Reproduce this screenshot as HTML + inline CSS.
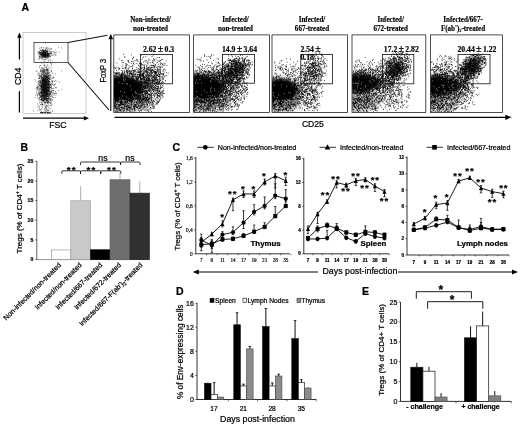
<!DOCTYPE html>
<html><head><meta charset="utf-8"><title>Figure</title>
<style>
html,body{margin:0;padding:0;background:#fff}
svg{display:block;filter:blur(0.4px)}
.ss{font-family:'Liberation Sans', Arial, sans-serif;stroke:#000;stroke-width:.22px}
.sf{font-family:'Liberation Serif', 'Times New Roman', serif;stroke:#000;stroke-width:.18px}
</style></head><body>
<svg width="520" height="425" viewBox="0 0 520 425">
<rect width="520" height="425" fill="#fff"/>
<text class="ss" x="21.5" y="11" font-size="10.5" font-weight="bold">A</text>
<rect x="23" y="32.5" width="63" height="81" fill="none" stroke="#aaa" stroke-width="0.6"/>
<filter id="bl2" x="-50%" y="-30%" width="200%" height="160%"><feGaussianBlur stdDeviation="1.4"/></filter>
<ellipse cx="44.6" cy="88" rx="3.2" ry="13" fill="#000" opacity=".5" filter="url(#bl2)"/><ellipse cx="44" cy="54" rx="2.2" ry="2" fill="#000" opacity=".45" filter="url(#bl2)"/>
<path d="M43.2 55.2h0.8M43.3 53.3h0.8M41.6 53.5h0.8M46.5 55.0h0.8M46.3 54.6h0.8M44.7 54.4h0.8M39.8 56.0h0.8M45.0 55.1h0.8M39.7 50.0h0.8M41.7 52.9h0.8M44.5 53.9h0.8M45.1 52.5h0.8M44.5 54.9h0.8M42.2 58.0h0.8M45.1 56.8h0.8M42.3 52.3h0.8M43.0 53.8h0.8M45.3 54.6h0.8M42.7 51.8h0.8M42.6 56.8h0.8M41.9 54.6h0.8M44.8 50.6h0.8M43.9 57.0h0.8M39.0 53.3h0.8M43.5 52.1h0.8M45.0 53.9h0.8M40.3 55.9h0.8M45.4 56.2h0.8M47.3 54.8h0.8M44.1 51.0h0.8M45.3 52.6h0.8M42.7 51.1h0.8M41.5 52.8h0.8M46.9 49.3h0.8M40.3 54.6h0.8M47.3 55.3h0.8M39.2 48.2h0.8M44.7 52.3h0.8M41.1 56.2h0.8M46.4 54.4h0.8M44.4 55.0h0.8M47.6 55.4h0.8M45.0 55.3h0.8M40.0 56.9h0.8M46.1 55.2h0.8M39.1 52.5h0.8M45.8 49.8h0.8M43.4 56.3h0.8M40.7 57.7h0.8M45.1 53.7h0.8M44.6 55.5h0.8M44.1 56.6h0.8M42.2 53.0h0.8M46.3 54.1h0.8M41.7 56.2h0.8M47.3 53.0h0.8M40.5 53.7h0.8M43.4 53.3h0.8M47.2 51.6h0.8M46.8 51.1h0.8M41.9 55.5h0.8M46.5 56.0h0.8M44.6 54.3h0.8M44.2 55.3h0.8M43.4 54.6h0.8M45.2 54.0h0.8M45.6 55.3h0.8M48.6 54.7h0.8M42.8 53.1h0.8M43.8 56.1h0.8M43.0 54.9h0.8M48.2 48.1h0.8M41.1 54.6h0.8M44.8 54.5h0.8M42.8 55.5h0.8M44.5 52.8h0.8M49.6 54.8h0.8M42.5 53.8h0.8M43.3 53.9h0.8M37.3 52.9h0.8M46.2 51.3h0.8M43.6 56.2h0.8M45.9 57.4h0.8M39.7 53.2h0.8M43.0 55.4h0.8M46.4 47.8h0.8M46.4 50.7h0.8M45.4 50.6h0.8M44.2 56.7h0.8M43.4 54.4h0.8M45.7 54.3h0.8M43.6 57.5h0.8M46.3 53.3h0.8M50.4 51.4h0.8M46.0 53.4h0.8M44.1 55.6h0.8M44.3 55.5h0.8M40.1 50.5h0.8M45.3 51.8h0.8M41.3 50.6h0.8M46.8 55.7h0.8M47.3 51.8h0.8M43.8 51.4h0.8M45.6 57.7h0.8M41.7 57.6h0.8M46.2 53.6h0.8M39.1 57.2h0.8M43.6 52.6h0.8M44.8 54.9h0.8M47.4 51.7h0.8M46.5 57.4h0.8M47.3 53.6h0.8M42.0 56.3h0.8M44.1 54.3h0.8M47.2 53.4h0.8M38.3 53.1h0.8M39.4 55.9h0.8M44.6 52.6h0.8M43.8 55.9h0.8M44.0 57.1h0.8M43.7 56.4h0.8M47.4 57.7h0.8M42.2 56.0h0.8M39.3 51.5h0.8M39.1 56.5h0.8M40.8 54.0h0.8M43.3 53.9h0.8M42.4 54.5h0.8M48.1 54.1h0.8M45.1 56.3h0.8M43.3 51.1h0.8M42.5 56.5h0.8M39.8 52.6h0.8M46.2 55.8h0.8M43.8 55.9h0.8M44.2 51.3h0.8M40.0 52.5h0.8M46.0 52.7h0.8M41.6 52.2h0.8M40.1 53.7h0.8M41.0 54.8h0.8M38.1 54.8h0.8M42.3 49.5h0.8M45.5 53.4h0.8M38.4 52.0h0.8M44.5 52.9h0.8M45.7 55.7h0.8M45.4 54.8h0.8M47.0 55.5h0.8M44.9 49.2h0.8M46.0 57.0h0.8M43.1 52.9h0.8M48.5 50.0h0.8M44.9 59.6h0.8M41.6 55.6h0.8M48.3 53.7h0.8M45.1 56.1h0.8M41.6 53.8h0.8M44.5 55.9h0.8M43.7 53.6h0.8M41.4 53.2h0.8M45.9 54.2h0.8M41.8 52.1h0.8M50.2 56.6h0.8M45.3 48.0h0.8M45.3 55.1h0.8M47.8 55.0h0.8M43.6 55.2h0.8M39.1 56.4h0.8M44.6 52.4h0.8M47.0 58.2h0.8M40.4 52.5h0.8M44.5 54.4h0.8M42.8 51.8h0.8M48.9 56.4h0.8M40.9 50.9h0.8M47.9 56.3h0.8M48.2 55.9h0.8M41.7 54.6h0.8M38.6 52.3h0.8M43.7 55.2h0.8M42.1 53.7h0.8M44.9 54.9h0.8M45.3 54.5h0.8M43.0 55.8h0.8M43.9 52.1h0.8M42.3 54.0h0.8M43.5 54.4h0.8M43.8 54.4h0.8M43.5 51.1h0.8M44.8 56.4h0.8M44.8 53.6h0.8M44.9 51.8h0.8M39.2 54.1h0.8M41.6 55.7h0.8M41.2 48.0h0.8M41.3 57.6h0.8M42.9 50.9h0.8M42.0 55.2h0.8M45.0 54.4h0.8M47.4 55.6h0.8M43.7 55.4h0.8M47.8 56.2h0.8M46.3 51.5h0.8M43.4 55.7h0.8M43.1 56.5h0.8M45.2 56.1h0.8M43.3 59.9h0.8M46.8 53.5h0.8M44.0 60.0h0.8M43.0 56.0h0.8M46.2 54.0h0.8M41.0 54.4h0.8M44.7 56.6h0.8M45.7 54.1h0.8M45.8 55.2h0.8M44.3 54.1h0.8M43.2 55.6h0.8M41.3 52.6h0.8M43.8 50.6h0.8M42.8 49.4h0.8M42.2 55.3h0.8M45.2 53.9h0.8M43.2 50.7h0.8M48.2 55.2h0.8M46.4 52.0h0.8M43.4 49.8h0.8M45.7 56.2h0.8M39.2 53.9h0.8M45.3 49.9h0.8M39.4 51.6h0.8M42.3 50.8h0.8M43.9 54.6h0.8M45.3 55.6h0.8M47.4 56.7h0.8M40.7 52.8h0.8M41.3 51.5h0.8M43.6 54.0h0.8M45.0 50.4h0.8M40.8 53.9h0.8M43.3 53.3h0.8M43.6 52.3h0.8M45.5 54.8h0.8M43.6 52.5h0.8M43.4 47.7h0.8M41.4 54.1h0.8M40.2 54.5h0.8M44.2 50.8h0.8M43.2 53.3h0.8M44.9 55.4h0.8M43.7 52.0h0.8M43.5 53.8h0.8M45.6 54.7h0.8M42.1 50.9h0.8M42.9 52.3h0.8M41.1 53.7h0.8M42.6 54.2h0.8M45.1 53.1h0.8M49.4 53.3h0.8M46.4 54.3h0.8M46.5 48.5h0.8M42.0 54.6h0.8M45.2 59.4h0.8M44.6 56.9h0.8M45.6 56.2h0.8M45.0 53.6h0.8M45.0 51.5h0.8M46.6 51.7h0.8M44.4 58.9h0.8M43.3 54.0h0.8M46.6 54.1h0.8M41.9 54.6h0.8M45.2 55.6h0.8M41.9 58.0h0.8M47.8 54.0h0.8M44.4 53.0h0.8M47.2 52.4h0.8M45.4 52.9h0.8M42.1 55.7h0.8M47.0 54.0h0.8M42.2 55.9h0.8M43.7 54.7h0.8M47.5 56.6h0.8M42.6 59.3h0.8M43.8 55.8h0.8M42.2 53.9h0.8M39.6 58.1h0.8M47.1 51.2h0.8M40.2 50.3h0.8M46.6 52.9h0.8M43.7 53.3h0.8M43.5 51.5h0.8M43.9 50.7h0.8M43.6 54.7h0.8M44.9 53.5h0.8M41.6 54.4h0.8M42.6 57.6h0.8M45.6 53.7h0.8M42.7 52.4h0.8M41.6 53.2h0.8M48.5 55.6h0.8M49.8 60.7h0.8M43.5 54.0h0.8M61.0 48.0h0.8M44.4 54.5h0.8M47.8 55.3h0.8M45.8 55.2h0.8M47.3 56.5h0.8M37.5 51.2h0.8M47.0 50.7h0.8M41.8 56.0h0.8M43.8 56.0h0.8M50.7 55.0h0.8M49.5 53.7h0.8M40.0 53.9h0.8M49.3 52.3h0.8M46.5 56.4h0.8M42.6 56.0h0.8M56.3 52.2h0.8M47.7 53.5h0.8M54.7 55.0h0.8M51.5 51.8h0.8M46.9 54.0h0.8M38.1 58.6h0.8M51.5 48.4h0.8M50.7 53.6h0.8M49.2 55.2h0.8M39.5 53.3h0.8M54.5 52.2h0.8M41.9 49.6h0.8M40.9 55.1h0.8M55.5 55.4h0.8M48.2 61.1h0.8M44.4 51.8h0.8M49.6 55.8h0.8M41.9 50.3h0.8M48.5 54.8h0.8M40.5 53.4h0.8M44.3 55.5h0.8M46.4 53.7h0.8M45.2 57.4h0.8M54.0 52.8h0.8M51.2 51.6h0.8M47.4 56.4h0.8M54.6 52.8h0.8M46.6 54.6h0.8M39.5 54.1h0.8M43.6 55.2h0.8M41.4 47.7h0.8M47.2 54.8h0.8M44.3 56.8h0.8M45.6 52.1h0.8M49.4 49.0h0.8M43.6 53.9h0.8M51.2 53.5h0.8M48.5 51.9h0.8M48.5 59.3h0.8M43.6 61.6h0.8M43.8 54.1h0.8M47.9 57.3h0.8M40.8 47.3h0.8M50.0 56.5h0.8M50.1 62.4h0.8M48.0 54.8h0.8M51.6 55.2h0.8M55.3 50.0h0.8M45.1 43.0h0.8M51.1 52.8h0.8M51.6 60.9h0.8M47.0 53.2h0.8M44.5 51.3h0.8M43.8 56.0h0.8M47.2 54.2h0.8M46.1 56.9h0.8M49.5 53.5h0.8M50.3 53.5h0.8M41.2 58.7h0.8M49.3 50.9h0.8M52.4 55.1h0.8M39.2 59.2h0.8M48.7 56.9h0.8M48.0 53.5h0.8M39.3 57.1h0.8M47.2 53.1h0.8M48.8 54.2h0.8M50.4 52.8h0.8M46.8 47.2h0.8M44.9 56.2h0.8M53.7 52.8h0.8M46.4 59.1h0.8M45.4 56.3h0.8M55.4 54.1h0.8M53.1 51.7h0.8M48.0 53.8h0.8M47.6 57.6h0.8M58.9 51.9h0.8M44.1 55.6h0.8M41.7 55.6h0.8M49.9 53.1h0.8M49.7 49.0h0.8M50.8 49.1h0.8M43.5 52.2h0.8M45.0 56.7h0.8M47.4 52.7h0.8M49.7 59.1h0.8M47.0 55.2h0.8M53.2 54.9h0.8M40.6 62.0h0.8M58.0 47.6h0.8M46.8 55.3h0.8M47.3 93.0h0.8M43.7 77.5h0.8M44.8 96.3h0.8M41.3 77.8h0.8M44.4 69.6h0.8M43.7 83.1h0.8M45.8 80.7h0.8M41.9 83.5h0.8M44.4 81.0h0.8M44.5 93.8h0.8M47.9 102.3h0.8M42.2 83.2h0.8M37.3 104.1h0.8M42.4 86.7h0.8M46.0 74.8h0.8M45.8 86.8h0.8M39.2 89.6h0.8M48.0 70.2h0.8M46.8 88.9h0.8M45.9 91.0h0.8M48.3 85.0h0.8M47.0 83.3h0.8M46.6 79.7h0.8M44.2 102.6h0.8M45.8 85.6h0.8M41.2 79.9h0.8M45.1 95.5h0.8M45.7 91.7h0.8M44.4 99.2h0.8M43.4 82.1h0.8M47.1 87.6h0.8M43.7 81.8h0.8M43.8 92.6h0.8M45.5 76.1h0.8M45.7 88.6h0.8M41.6 94.0h0.8M43.7 84.0h0.8M46.8 98.9h0.8M42.5 90.9h0.8M42.0 107.8h0.8M43.1 97.8h0.8M42.6 94.3h0.8M50.9 64.1h0.8M43.2 91.5h0.8M44.2 81.0h0.8M50.7 87.7h0.8M39.7 94.7h0.8M39.5 97.4h0.8M42.8 88.3h0.8M48.2 88.1h0.8M40.5 71.7h0.8M47.9 93.7h0.8M42.1 94.7h0.8M45.9 92.8h0.8M37.9 84.3h0.8M47.1 93.6h0.8M47.1 64.9h0.8M45.0 91.4h0.8M51.9 78.4h0.8M43.5 87.3h0.8M47.1 83.0h0.8M47.8 79.9h0.8M45.3 82.3h0.8M45.0 80.8h0.8M39.9 96.8h0.8M45.4 82.0h0.8M45.1 95.9h0.8M41.7 86.0h0.8M46.1 91.7h0.8M43.5 68.0h0.8M48.1 90.0h0.8M44.5 84.5h0.8M45.3 83.2h0.8M41.5 80.3h0.8M42.8 81.5h0.8M41.1 92.7h0.8M40.7 92.9h0.8M41.6 90.2h0.8M48.5 88.8h0.8M42.4 87.4h0.8M44.9 71.4h0.8M42.7 88.5h0.8M43.1 87.7h0.8M46.6 93.9h0.8M47.1 92.3h0.8M43.7 86.8h0.8M43.7 84.2h0.8M44.0 71.5h0.8M43.5 86.8h0.8M41.7 86.8h0.8M46.0 85.5h0.8M50.5 63.5h0.8M43.9 70.6h0.8M47.3 110.9h0.8M37.2 88.2h0.8M46.0 84.3h0.8M46.1 66.8h0.8M47.0 90.3h0.8M44.6 81.7h0.8M46.4 82.6h0.8M45.1 82.4h0.8M38.0 86.7h0.8M45.1 93.8h0.8M42.0 86.7h0.8M46.3 88.3h0.8M48.1 104.9h0.8M41.9 69.7h0.8M47.0 100.8h0.8M47.2 94.3h0.8M42.7 80.6h0.8M47.1 78.8h0.8M39.2 78.0h0.8M51.7 104.3h0.8M42.5 80.4h0.8M45.2 80.3h0.8M48.3 86.3h0.8M41.3 98.8h0.8M42.8 89.0h0.8M44.5 84.2h0.8M45.4 80.8h0.8M39.2 67.1h0.8M40.8 80.2h0.8M44.4 87.5h0.8M46.1 88.1h0.8M42.2 80.6h0.8M38.4 85.5h0.8M45.9 91.8h0.8M44.1 85.4h0.8M47.2 87.1h0.8M46.6 92.2h0.8M45.1 98.8h0.8M42.8 83.8h0.8M42.2 79.8h0.8M49.0 102.8h0.8M44.6 92.1h0.8M47.9 94.3h0.8M48.0 75.6h0.8M42.6 91.1h0.8M48.7 87.9h0.8M42.0 83.8h0.8M42.6 79.3h0.8M48.9 81.4h0.8M44.6 106.5h0.8M47.9 90.0h0.8M42.7 90.7h0.8M49.2 92.6h0.8M48.2 87.9h0.8M46.0 85.2h0.8M45.7 98.7h0.8M40.3 86.4h0.8M45.2 81.9h0.8M43.6 94.1h0.8M50.3 92.7h0.8M45.4 73.0h0.8M50.1 87.7h0.8M44.4 76.9h0.8M44.3 77.1h0.8M44.7 91.2h0.8M44.6 89.5h0.8M42.0 99.9h0.8M42.6 70.6h0.8M44.0 80.1h0.8M41.6 83.8h0.8M45.3 76.4h0.8M44.1 99.8h0.8M46.5 85.6h0.8M44.9 85.9h0.8M44.4 93.6h0.8M44.2 65.4h0.8M44.4 79.0h0.8M46.4 81.5h0.8M44.9 106.6h0.8M41.5 76.9h0.8M40.4 65.4h0.8M39.1 90.3h0.8M42.6 70.2h0.8M40.2 92.6h0.8M42.3 83.7h0.8M45.5 99.2h0.8M50.1 96.3h0.8M44.9 88.7h0.8M49.7 99.9h0.8M43.6 91.1h0.8M45.3 87.5h0.8M43.0 75.1h0.8M43.0 73.1h0.8M48.0 91.8h0.8M41.0 99.6h0.8M47.1 69.8h0.8M49.8 94.3h0.8M50.5 75.9h0.8M46.0 90.8h0.8M45.1 88.5h0.8M47.6 73.6h0.8M40.9 74.5h0.8M42.9 81.6h0.8M45.6 89.4h0.8M44.6 80.9h0.8M43.2 95.6h0.8M46.7 87.9h0.8M43.6 101.0h0.8M42.8 92.8h0.8M47.8 84.6h0.8M46.9 77.0h0.8M47.4 88.8h0.8M39.9 93.0h0.8M41.9 98.5h0.8M42.5 85.5h0.8M45.3 84.0h0.8M45.3 82.0h0.8M46.4 87.0h0.8M45.1 62.2h0.8M47.9 87.3h0.8M39.3 87.9h0.8M45.9 96.6h0.8M41.4 100.9h0.8M44.0 108.6h0.8M44.1 93.1h0.8M43.4 77.0h0.8M47.7 95.2h0.8M49.0 94.7h0.8M42.8 72.0h0.8M42.6 80.9h0.8M42.1 92.2h0.8M45.5 84.6h0.8M45.0 85.7h0.8M45.1 93.8h0.8M47.3 80.8h0.8M40.1 99.8h0.8M44.8 97.0h0.8M39.7 84.0h0.8M44.6 74.0h0.8M43.0 93.5h0.8M47.6 101.3h0.8M42.0 74.4h0.8M46.0 95.5h0.8M45.1 75.3h0.8M46.8 94.1h0.8M46.1 82.6h0.8M45.4 94.1h0.8M42.9 70.4h0.8M45.5 91.3h0.8M44.5 95.0h0.8M42.8 86.3h0.8M43.6 92.1h0.8M49.1 84.7h0.8M50.5 100.8h0.8M46.8 92.3h0.8M49.6 85.4h0.8M44.2 77.4h0.8M45.9 99.1h0.8M46.0 90.8h0.8M43.9 88.5h0.8M40.4 96.4h0.8M43.3 77.1h0.8M42.3 79.6h0.8M47.0 96.5h0.8M40.6 95.3h0.8M47.1 81.8h0.8M40.2 80.3h0.8M42.7 90.1h0.8M43.5 68.7h0.8M45.2 73.2h0.8M47.1 76.1h0.8M42.5 79.3h0.8M42.9 98.7h0.8M47.0 92.4h0.8M45.4 73.1h0.8M43.0 82.0h0.8M41.7 91.6h0.8M42.4 80.6h0.8M41.5 68.5h0.8M46.2 99.0h0.8M45.0 78.2h0.8M36.7 88.6h0.8M48.0 89.7h0.8M47.2 100.3h0.8M47.8 83.0h0.8M47.6 94.0h0.8M40.0 83.4h0.8M40.4 86.0h0.8M46.2 77.4h0.8M38.5 98.7h0.8M45.6 100.2h0.8M40.7 96.5h0.8M50.5 105.1h0.8M43.9 89.4h0.8M44.1 96.0h0.8M47.5 87.8h0.8M40.6 93.7h0.8M43.1 92.7h0.8M45.3 101.6h0.8M47.8 82.9h0.8M45.5 102.9h0.8M42.9 90.9h0.8M48.0 98.3h0.8M46.0 75.1h0.8M40.8 89.2h0.8M45.6 109.9h0.8M42.0 97.2h0.8M46.7 72.0h0.8M42.1 88.5h0.8M43.1 85.6h0.8M45.9 79.7h0.8M45.9 81.3h0.8M42.9 91.8h0.8M42.8 89.6h0.8M49.1 87.2h0.8M44.1 93.6h0.8M43.4 96.7h0.8M40.8 92.6h0.8M43.0 79.8h0.8M49.6 79.3h0.8M49.6 92.9h0.8M48.7 78.2h0.8M48.0 100.1h0.8M44.2 85.8h0.8M51.6 88.6h0.8M43.3 81.3h0.8M45.8 90.0h0.8M45.0 102.5h0.8M43.5 91.3h0.8M48.7 78.0h0.8M47.5 103.5h0.8M40.6 77.1h0.8M41.5 70.4h0.8M45.8 70.3h0.8M45.9 100.1h0.8M39.8 84.2h0.8M38.9 94.0h0.8M42.4 84.6h0.8M44.7 91.9h0.8M43.5 87.1h0.8M42.9 88.0h0.8M41.1 87.6h0.8M38.9 82.6h0.8M50.1 87.7h0.8M40.8 89.3h0.8M41.7 72.1h0.8M42.4 93.6h0.8M45.6 86.1h0.8M41.8 77.3h0.8M48.4 89.2h0.8M41.7 68.0h0.8M40.5 109.3h0.8M41.2 86.3h0.8M45.1 85.6h0.8M43.7 74.6h0.8M41.5 102.2h0.8M42.3 94.6h0.8M39.6 84.5h0.8M45.3 96.3h0.8M41.2 92.4h0.8M45.6 80.4h0.8M45.9 78.9h0.8M42.2 86.8h0.8M36.6 86.0h0.8M41.6 73.8h0.8M43.3 93.9h0.8M43.3 98.4h0.8M41.1 75.2h0.8M49.0 90.6h0.8M47.2 79.6h0.8M46.8 89.3h0.8M46.4 87.2h0.8M48.0 81.2h0.8M41.7 73.7h0.8M47.9 80.4h0.8M41.5 78.5h0.8M43.2 75.6h0.8M43.7 81.4h0.8M42.9 78.4h0.8M44.6 82.9h0.8M44.8 89.2h0.8M45.5 67.3h0.8M42.9 79.8h0.8M46.7 72.8h0.8M42.4 84.4h0.8M43.5 95.9h0.8M43.2 95.7h0.8M40.2 70.7h0.8M48.0 90.9h0.8M45.9 88.1h0.8M45.9 76.1h0.8M47.3 82.2h0.8M47.4 87.8h0.8M38.8 75.4h0.8M47.8 85.8h0.8M43.4 89.2h0.8M43.3 82.1h0.8M44.8 88.3h0.8M48.9 87.4h0.8M50.0 103.2h0.8M49.5 96.6h0.8M44.9 88.2h0.8M44.1 80.4h0.8M44.3 81.2h0.8M49.3 91.8h0.8M43.2 69.8h0.8M44.3 83.3h0.8M41.4 76.8h0.8M38.0 92.1h0.8M44.3 110.2h0.8M44.4 85.7h0.8M48.7 88.2h0.8M45.0 83.7h0.8M42.7 100.5h0.8M47.4 102.4h0.8M43.5 87.3h0.8M41.9 95.7h0.8M40.5 92.1h0.8M47.7 99.7h0.8M41.8 96.8h0.8M42.4 80.2h0.8M40.7 97.4h0.8M49.3 81.7h0.8M42.3 83.9h0.8M51.8 96.0h0.8M42.9 70.9h0.8M42.5 97.7h0.8M49.9 84.6h0.8M42.5 82.4h0.8M39.0 95.2h0.8M41.4 96.6h0.8M39.5 75.6h0.8M45.3 80.1h0.8M46.8 87.1h0.8M41.1 92.6h0.8M46.9 69.8h0.8M49.8 91.5h0.8M46.7 70.3h0.8M42.4 83.9h0.8M47.6 73.9h0.8M41.9 68.7h0.8M43.8 90.1h0.8M39.6 81.7h0.8M46.0 101.3h0.8M46.4 84.3h0.8M41.1 78.6h0.8M42.6 88.3h0.8M44.4 102.0h0.8M45.3 77.4h0.8M49.0 95.5h0.8M44.8 80.5h0.8M39.1 77.8h0.8M47.1 79.8h0.8M40.7 88.8h0.8M45.2 92.5h0.8M46.4 99.7h0.8M42.1 95.8h0.8M41.6 93.2h0.8M45.0 89.2h0.8M47.3 86.8h0.8M47.7 94.9h0.8M44.9 81.9h0.8M42.3 82.3h0.8M43.9 86.8h0.8M53.1 92.7h0.8M46.7 79.3h0.8M42.4 84.1h0.8M45.1 77.7h0.8M49.2 81.9h0.8M47.6 66.0h0.8M44.5 89.5h0.8M45.1 92.4h0.8M45.3 88.5h0.8M39.0 80.6h0.8M37.7 92.7h0.8M45.4 85.2h0.8M42.1 81.8h0.8M49.9 102.6h0.8M44.3 98.6h0.8M39.9 69.6h0.8M43.1 79.1h0.8M42.9 88.7h0.8M53.3 81.1h0.8M44.6 89.5h0.8M44.4 95.4h0.8M49.6 75.8h0.8M45.0 84.6h0.8M45.5 73.2h0.8M39.4 66.2h0.8M46.0 88.7h0.8M44.7 65.7h0.8M43.4 80.2h0.8M40.4 78.8h0.8M46.5 91.9h0.8M44.4 91.6h0.8M42.7 87.6h0.8M44.6 92.0h0.8M44.3 85.7h0.8M44.1 81.2h0.8M51.0 91.6h0.8M45.7 107.6h0.8M48.6 73.0h0.8M46.5 94.5h0.8M50.0 98.8h0.8M46.7 76.4h0.8M42.0 89.4h0.8M46.0 77.8h0.8M43.4 83.4h0.8M44.7 90.0h0.8M43.7 75.9h0.8M48.1 101.4h0.8M44.2 96.2h0.8M45.8 92.9h0.8M45.9 80.1h0.8M46.2 96.1h0.8M41.9 104.7h0.8M50.6 103.4h0.8M50.3 93.7h0.8M43.5 81.6h0.8M42.1 88.0h0.8M44.4 93.0h0.8M38.6 107.8h0.8M51.1 86.8h0.8M46.5 91.3h0.8M45.3 85.1h0.8M44.1 79.6h0.8M45.0 86.8h0.8M45.4 79.3h0.8M44.6 87.4h0.8M46.3 77.4h0.8M45.7 95.8h0.8M46.2 83.7h0.8M43.1 84.9h0.8M46.6 101.0h0.8M44.0 81.2h0.8M45.6 88.8h0.8M41.9 80.4h0.8M44.2 93.0h0.8M41.0 77.8h0.8M45.9 76.0h0.8M44.8 90.2h0.8M44.2 77.8h0.8M44.3 84.0h0.8M45.5 79.5h0.8M47.7 71.9h0.8M44.0 87.1h0.8M47.3 81.5h0.8M46.1 81.9h0.8M46.6 102.6h0.8M43.3 91.0h0.8M41.8 95.8h0.8M48.0 87.3h0.8M41.2 90.6h0.8M47.8 96.8h0.8M46.9 70.5h0.8M42.5 99.8h0.8M40.9 97.2h0.8M50.0 93.9h0.8M47.7 84.0h0.8M40.9 86.1h0.8M43.9 86.6h0.8M46.5 85.7h0.8M45.1 90.8h0.8M44.5 103.6h0.8M45.8 87.8h0.8M43.9 81.4h0.8M48.4 88.4h0.8M41.4 81.9h0.8M44.1 83.0h0.8M47.6 76.5h0.8M45.9 88.3h0.8M41.1 87.4h0.8M44.2 91.5h0.8M43.2 89.7h0.8M39.7 77.2h0.8M46.8 96.4h0.8M44.5 81.6h0.8M47.6 68.2h0.8M42.2 93.0h0.8M46.4 77.7h0.8M39.0 100.1h0.8M44.9 78.9h0.8M44.7 95.1h0.8M37.0 97.0h0.8M46.6 68.3h0.8M46.7 71.0h0.8M47.8 90.6h0.8M51.0 81.5h0.8M44.5 96.4h0.8M42.6 80.7h0.8M43.4 86.3h0.8M41.4 91.4h0.8M46.1 87.6h0.8M49.4 84.1h0.8M48.3 82.1h0.8M46.7 69.6h0.8M45.1 85.4h0.8M43.1 81.5h0.8M43.5 80.5h0.8M38.1 81.6h0.8M42.9 82.3h0.8M41.4 85.8h0.8M46.8 84.7h0.8M43.1 99.2h0.8M47.3 95.3h0.8M47.9 84.1h0.8M44.1 97.0h0.8M42.9 85.9h0.8M45.6 90.4h0.8M43.7 95.9h0.8M44.0 93.5h0.8M47.6 92.9h0.8M46.6 76.6h0.8M40.7 81.4h0.8M45.9 100.5h0.8M41.0 89.8h0.8M42.0 80.4h0.8M43.7 93.2h0.8M45.1 97.6h0.8M41.6 95.0h0.8M47.2 87.6h0.8M45.9 81.9h0.8M41.3 83.4h0.8M43.1 101.9h0.8M45.1 89.8h0.8M46.7 80.0h0.8M47.2 90.4h0.8M40.1 92.4h0.8M46.1 91.1h0.8M49.1 83.3h0.8M46.0 93.7h0.8M41.9 97.8h0.8M40.3 75.3h0.8M46.0 77.2h0.8M44.2 72.2h0.8M44.7 76.8h0.8M45.5 73.2h0.8M45.8 84.6h0.8M44.7 86.4h0.8M44.9 75.1h0.8M37.1 87.3h0.8M41.8 82.9h0.8M45.7 69.1h0.8M42.3 81.5h0.8M41.4 89.9h0.8M44.1 79.6h0.8M41.6 94.3h0.8M42.6 92.3h0.8M45.8 70.0h0.8M41.4 87.0h0.8M45.5 94.0h0.8M46.8 96.3h0.8M43.4 85.1h0.8M46.7 83.2h0.8M47.6 72.7h0.8M46.4 85.4h0.8M38.8 95.8h0.8M45.4 87.2h0.8M41.4 82.8h0.8M48.9 79.6h0.8M34.4 79.3h0.8M41.0 85.8h0.8M43.4 78.8h0.8M42.1 96.4h0.8M40.3 104.6h0.8M42.9 77.2h0.8M46.8 92.1h0.8M41.5 93.7h0.8M39.2 78.7h0.8M47.8 84.7h0.8M40.7 91.6h0.8M47.2 86.8h0.8M39.3 83.9h0.8M45.7 93.9h0.8M49.9 84.7h0.8M43.1 86.7h0.8M48.0 78.5h0.8M48.3 62.3h0.8M46.8 80.9h0.8M45.8 93.2h0.8M41.1 86.2h0.8M45.2 92.3h0.8M41.8 78.1h0.8M38.9 109.9h0.8M43.9 85.0h0.8M40.2 95.4h0.8M42.9 99.9h0.8M47.0 87.2h0.8M46.6 77.0h0.8M43.6 81.8h0.8M40.8 87.2h0.8M44.1 99.9h0.8M34.8 81.0h0.8M41.8 82.8h0.8M45.7 90.6h0.8M44.6 82.7h0.8M45.9 90.2h0.8M39.2 84.6h0.8M40.5 76.4h0.8M44.9 87.5h0.8M44.8 79.1h0.8M43.9 78.8h0.8M45.6 93.2h0.8M49.6 98.4h0.8M42.2 82.9h0.8M41.8 89.8h0.8M50.2 93.4h0.8M38.1 75.7h0.8M40.8 91.6h0.8M44.5 89.7h0.8M49.7 79.6h0.8M42.0 104.7h0.8M45.5 80.0h0.8M38.6 73.3h0.8M37.4 87.6h0.8M44.6 95.9h0.8M44.1 80.8h0.8M42.4 104.1h0.8M39.4 88.6h0.8M44.6 92.6h0.8M43.3 91.5h0.8M46.9 85.7h0.8M43.2 85.3h0.8M41.7 85.1h0.8M43.6 88.9h0.8M48.4 98.8h0.8M43.2 92.4h0.8M45.4 93.9h0.8M44.6 89.4h0.8M43.1 79.9h0.8M47.0 98.7h0.8M46.4 90.9h0.8M45.3 82.9h0.8M39.3 93.0h0.8M45.1 82.0h0.8M41.7 98.5h0.8M39.3 102.9h0.8M46.4 108.3h0.8M42.4 86.8h0.8M43.0 88.4h0.8M43.9 80.3h0.8M47.6 79.9h0.8M43.0 92.0h0.8M42.9 83.1h0.8M45.5 83.7h0.8M40.9 86.1h0.8M43.9 102.3h0.8M41.3 95.7h0.8M42.2 83.8h0.8M43.6 89.4h0.8M47.0 102.7h0.8M42.7 99.0h0.8M47.4 94.3h0.8M42.3 95.1h0.8M44.2 90.2h0.8M43.7 93.0h0.8M47.7 97.2h0.8M43.9 96.0h0.8M48.7 78.6h0.8M48.8 75.0h0.8M46.1 92.3h0.8M48.8 89.5h0.8M43.1 79.8h0.8M40.9 93.9h0.8M43.8 80.5h0.8M46.0 80.1h0.8M43.2 82.9h0.8M49.3 100.2h0.8M44.0 72.9h0.8M45.3 87.6h0.8M45.5 92.1h0.8M43.6 95.3h0.8M46.9 88.9h0.8M43.3 82.7h0.8M46.5 77.1h0.8M44.0 80.3h0.8M40.5 92.4h0.8M44.4 87.3h0.8M47.0 73.6h0.8M44.3 89.6h0.8M46.9 77.2h0.8M46.6 89.0h0.8M48.4 97.2h0.8M46.1 106.3h0.8M44.5 83.2h0.8M43.5 78.5h0.8M44.4 70.1h0.8M44.3 90.8h0.8M47.4 83.9h0.8M48.5 81.1h0.8M44.1 70.1h0.8M42.3 79.9h0.8M48.7 91.7h0.8M41.4 91.7h0.8M45.9 84.9h0.8M44.6 84.3h0.8M43.0 71.4h0.8M44.2 98.3h0.8M48.6 84.6h0.8M42.4 85.1h0.8M47.0 90.1h0.8M42.8 90.2h0.8M43.9 91.5h0.8M43.3 74.1h0.8M44.7 93.7h0.8M41.4 86.1h0.8M47.0 83.7h0.8M42.7 104.8h0.8M46.8 96.0h0.8M41.8 101.3h0.8M39.8 82.5h0.8M46.6 98.7h0.8M41.9 81.2h0.8M45.1 70.1h0.8M46.3 91.9h0.8M43.2 91.7h0.8M46.7 89.7h0.8M46.0 100.2h0.8M43.2 88.4h0.8M43.0 96.0h0.8M43.4 91.1h0.8M44.9 87.6h0.8M49.3 86.3h0.8M48.5 94.2h0.8M48.2 85.6h0.8M47.1 93.6h0.8M42.8 89.3h0.8M44.1 86.7h0.8M48.1 80.7h0.8M39.8 71.9h0.8M43.2 81.4h0.8M44.5 91.9h0.8M49.4 89.7h0.8M45.8 80.6h0.8M46.1 98.8h0.8M48.3 70.0h0.8M47.0 100.7h0.8M46.8 74.0h0.8M43.6 92.1h0.8M45.7 80.0h0.8M42.0 95.4h0.8M40.8 99.4h0.8M44.6 89.6h0.8M40.8 81.8h0.8M46.4 74.3h0.8M50.3 74.8h0.8M41.1 87.4h0.8M45.8 93.3h0.8M43.5 85.2h0.8M43.8 82.0h0.8M37.3 95.3h0.8M45.2 88.4h0.8M42.7 89.2h0.8M44.5 86.3h0.8M47.6 72.1h0.8M45.2 77.8h0.8M43.6 100.0h0.8M41.5 86.1h0.8M42.9 95.2h0.8M41.8 72.5h0.8M45.9 83.9h0.8M43.6 96.3h0.8M42.0 83.8h0.8M44.9 90.6h0.8M43.1 95.9h0.8M50.7 83.5h0.8M49.7 68.8h0.8M48.4 84.0h0.8M44.9 84.1h0.8M42.7 76.0h0.8M43.4 98.2h0.8M47.7 84.0h0.8M43.0 80.9h0.8M41.2 102.6h0.8M46.3 88.0h0.8M43.1 78.2h0.8M48.2 93.7h0.8M41.8 95.5h0.8M41.4 92.5h0.8M41.8 83.4h0.8M45.9 90.7h0.8M47.3 79.8h0.8M48.9 98.6h0.8M44.5 91.0h0.8M42.3 85.7h0.8M40.8 87.8h0.8M45.1 98.6h0.8M47.1 94.0h0.8M43.5 85.1h0.8M43.6 88.9h0.8M39.1 93.7h0.8M40.1 82.5h0.8M44.6 82.6h0.8M49.1 86.2h0.8M48.9 97.1h0.8M43.1 90.5h0.8M48.1 84.1h0.8M44.7 82.2h0.8M44.7 83.9h0.8M44.7 95.7h0.8M48.4 88.2h0.8M45.1 94.4h0.8M43.7 77.9h0.8M47.6 78.9h0.8M47.1 78.7h0.8M49.6 78.0h0.8M46.9 100.0h0.8M41.8 99.8h0.8M42.2 71.8h0.8M46.5 93.1h0.8M43.9 65.2h0.8M44.3 84.4h0.8M43.4 84.5h0.8M39.5 82.1h0.8M49.5 100.4h0.8M43.5 80.8h0.8M45.6 96.2h0.8M46.5 76.9h0.8M45.0 88.2h0.8M48.5 97.3h0.8M46.0 97.5h0.8M43.4 100.3h0.8M43.3 90.4h0.8M47.1 79.1h0.8M42.5 71.8h0.8M45.0 86.5h0.8M43.6 91.3h0.8M38.6 86.8h0.8M44.7 84.7h0.8M46.7 102.1h0.8M43.3 78.9h0.8M42.8 87.8h0.8M46.1 79.6h0.8M47.3 78.1h0.8M46.8 90.7h0.8M45.8 105.6h0.8M43.8 85.6h0.8M45.8 94.5h0.8M40.8 89.4h0.8M42.4 92.4h0.8M48.3 87.4h0.8M44.2 88.6h0.8M36.3 93.7h0.8M46.1 88.4h0.8M43.4 80.7h0.8M44.0 97.5h0.8M44.2 98.6h0.8M37.3 83.0h0.8M45.3 86.9h0.8M39.9 81.3h0.8M48.0 75.8h0.8M41.7 77.5h0.8M43.0 92.6h0.8M46.2 69.5h0.8M48.6 81.9h0.8M42.9 101.4h0.8M44.3 76.3h0.8M42.7 80.7h0.8M41.7 84.1h0.8M46.9 90.0h0.8M40.7 111.1h0.8M41.7 88.0h0.8M44.6 93.6h0.8M43.6 90.9h0.8M50.4 87.8h0.8M41.5 89.8h0.8M42.3 83.8h0.8M45.0 89.9h0.8M43.7 94.3h0.8M44.0 75.7h0.8M46.9 83.9h0.8M47.9 81.3h0.8M46.1 89.7h0.8M37.0 74.1h0.8M41.4 99.2h0.8M39.2 94.9h0.8M47.5 91.3h0.8M46.4 82.7h0.8M44.5 88.9h0.8M45.7 93.1h0.8M43.9 80.9h0.8M42.9 90.6h0.8M39.9 76.2h0.8M43.4 82.2h0.8M43.7 64.0h0.8M43.6 84.8h0.8M46.7 69.9h0.8M43.6 91.1h0.8M45.9 97.3h0.8M47.4 77.9h0.8M46.3 84.1h0.8M42.3 100.3h0.8M42.7 79.6h0.8M43.4 79.6h0.8M47.3 90.3h0.8M48.4 90.6h0.8M42.8 96.1h0.8M42.7 83.0h0.8M44.0 87.3h0.8M47.8 81.8h0.8M45.5 86.8h0.8M41.0 77.5h0.8M43.9 90.5h0.8M45.4 91.2h0.8M44.6 83.1h0.8M45.7 78.3h0.8M40.7 84.1h0.8M40.5 82.5h0.8M42.4 82.2h0.8M44.4 80.1h0.8M43.3 72.2h0.8M44.9 79.4h0.8M45.6 62.5h0.8M42.3 89.1h0.8M37.7 83.9h0.8M44.8 87.9h0.8M40.3 89.0h0.8M44.9 78.6h0.8M46.6 86.6h0.8M44.6 83.1h0.8M46.0 87.8h0.8M47.7 90.9h0.8M42.8 85.1h0.8M47.1 83.8h0.8M45.6 91.5h0.8M44.0 66.8h0.8M44.9 88.9h0.8M44.9 80.4h0.8M47.9 85.8h0.8M42.8 80.8h0.8M45.5 77.5h0.8M41.7 104.4h0.8M48.2 96.2h0.8M48.3 92.2h0.8M39.8 97.4h0.8M48.0 91.3h0.8M39.0 97.8h0.8M48.3 82.7h0.8M44.9 93.8h0.8M44.3 96.6h0.8M44.7 93.0h0.8M44.7 74.1h0.8M45.3 98.4h0.8M47.7 102.0h0.8M46.1 81.8h0.8M44.6 70.3h0.8M44.0 94.9h0.8M38.4 88.7h0.8M46.8 98.6h0.8M41.9 81.3h0.8M39.2 78.1h0.8M46.0 105.1h0.8M41.3 99.0h0.8M45.7 82.7h0.8M50.7 65.0h0.8M44.3 88.9h0.8M50.5 102.7h0.8M50.9 88.2h0.8M47.3 98.9h0.8M45.9 90.1h0.8M44.0 83.4h0.8M41.0 104.0h0.8M43.2 68.8h0.8M45.2 86.7h0.8M45.0 102.9h0.8M44.2 84.7h0.8M42.4 86.8h0.8M43.3 88.8h0.8M53.3 90.4h0.8M42.1 103.9h0.8M46.9 94.1h0.8M46.5 94.2h0.8M46.4 99.3h0.8M47.3 98.8h0.8M43.1 87.0h0.8M42.4 95.4h0.8M46.8 82.9h0.8M46.1 110.0h0.8M48.0 77.2h0.8M44.2 92.6h0.8M44.4 90.4h0.8M47.8 89.9h0.8M41.4 93.3h0.8M44.2 88.0h0.8M42.9 74.9h0.8M41.0 83.9h0.8M41.5 63.2h0.8M47.7 76.8h0.8M42.5 91.7h0.8M37.7 98.8h0.8M42.3 92.8h0.8M43.1 89.7h0.8M44.8 87.0h0.8M39.3 74.1h0.8M44.4 99.4h0.8M43.0 91.7h0.8M45.0 91.2h0.8M47.3 73.9h0.8M45.3 85.4h0.8M43.6 79.5h0.8M42.3 78.0h0.8M41.4 109.0h0.8M49.3 87.1h0.8M46.6 78.4h0.8M36.6 71.0h0.8M44.9 99.6h0.8M44.4 78.2h0.8M45.3 77.3h0.8M39.7 85.5h0.8M44.6 79.3h0.8M42.2 78.0h0.8M47.7 102.9h0.8M45.5 112.0h0.8M38.6 90.9h0.8M40.9 86.3h0.8M47.0 94.0h0.8M52.0 82.1h0.8M40.4 86.0h0.8M47.9 80.5h0.8M50.9 106.0h0.8M39.6 91.9h0.8M51.5 67.4h0.8M47.5 85.6h0.8M39.6 102.1h0.8M47.6 82.9h0.8M48.7 94.9h0.8M50.2 94.2h0.8M48.5 75.4h0.8M44.4 89.4h0.8M33.0 110.9h0.8M44.7 76.7h0.8M37.6 90.7h0.8M46.7 81.7h0.8M44.5 78.5h0.8M42.8 86.9h0.8M43.4 95.3h0.8M45.8 89.4h0.8M48.5 101.6h0.8M49.4 90.4h0.8M45.7 79.4h0.8M44.8 95.3h0.8M47.6 83.8h0.8M40.0 71.6h0.8M48.1 99.0h0.8M48.3 73.3h0.8M45.5 90.4h0.8M42.0 91.7h0.8M45.5 79.1h0.8M40.4 96.7h0.8M48.2 78.5h0.8M41.6 97.5h0.8M49.4 84.7h0.8M54.3 84.9h0.8M41.4 99.7h0.8M45.6 91.7h0.8M46.7 77.3h0.8M40.7 85.9h0.8M53.3 77.2h0.8M53.1 90.4h0.8M41.1 90.9h0.8M49.3 78.4h0.8M36.1 91.8h0.8M41.1 92.7h0.8M37.2 86.5h0.8M42.6 72.1h0.8M45.3 89.8h0.8M43.8 75.4h0.8M47.5 69.3h0.8M49.1 93.3h0.8M54.7 97.5h0.8M48.2 90.8h0.8M46.6 73.8h0.8M53.6 93.6h0.8M45.1 75.7h0.8M53.7 93.7h0.8M40.7 95.2h0.8M55.7 87.8h0.8M48.4 83.6h0.8M43.4 99.5h0.8M61.5 89.2h0.8M45.9 96.5h0.8M45.0 95.8h0.8M50.5 77.1h0.8M41.3 87.2h0.8M50.5 91.0h0.8M52.5 73.3h0.8M48.9 81.4h0.8M47.0 91.4h0.8M41.8 85.6h0.8M40.9 90.8h0.8M42.4 82.7h0.8M47.6 81.0h0.8M52.1 81.2h0.8M50.6 91.0h0.8M41.5 85.7h0.8M42.4 84.1h0.8M45.2 107.4h0.8M44.5 104.7h0.8M48.7 74.1h0.8M35.3 95.2h0.8M36.9 95.7h0.8M51.5 92.2h0.8M45.5 85.3h0.8M47.8 84.8h0.8M43.9 84.1h0.8M52.2 81.4h0.8M48.3 75.7h0.8M43.0 73.4h0.8M45.5 95.3h0.8M48.0 82.8h0.8M49.5 84.3h0.8M48.3 90.9h0.8M40.2 96.2h0.8M46.0 111.9h0.8M45.4 82.1h0.8M53.7 93.9h0.8M55.7 93.4h0.8M45.5 95.7h0.8M42.7 83.2h0.8M43.8 85.6h0.8M50.3 82.9h0.8M48.1 82.7h0.8M45.5 89.8h0.8M41.3 98.8h0.8M47.5 101.6h0.8M51.1 94.8h0.8M45.8 76.4h0.8M45.4 83.1h0.8M47.7 83.1h0.8M61.3 71.0h0.8M52.2 83.0h0.8M45.3 97.8h0.8M46.5 75.1h0.8M48.5 85.9h0.8M36.6 90.1h0.8M41.4 80.1h0.8M48.8 91.2h0.8M45.1 111.1h0.8M48.5 81.5h0.8M47.6 86.7h0.8M35.9 71.3h0.8M39.8 109.9h0.8M45.6 85.1h0.8M43.8 98.4h0.8M46.6 106.1h0.8M50.3 105.5h0.8M45.9 92.0h0.8M44.4 86.2h0.8M38.2 81.8h0.8M41.9 81.1h0.8M52.4 90.8h0.8M52.4 97.1h0.8M50.9 98.7h0.8M43.6 96.5h0.8M44.9 82.4h0.8M52.3 110.9h0.8M41.8 106.4h0.8M50.5 79.0h0.8M47.8 91.9h0.8M48.3 84.2h0.8M40.3 88.3h0.8M50.7 96.3h0.8M49.7 99.7h0.8M41.7 87.6h0.8M48.1 98.6h0.8M47.3 93.5h0.8M47.1 110.2h0.8M36.0 87.7h0.8M58.4 90.5h0.8M37.7 89.4h0.8M39.6 80.8h0.8M47.6 106.2h0.8M48.7 95.1h0.8M51.4 90.1h0.8M42.4 87.0h0.8M48.1 85.1h0.8M43.3 84.2h0.8M39.3 77.1h0.8M46.1 84.2h0.8M46.7 102.9h0.8M47.9 87.7h0.8M40.9 76.6h0.8M48.3 78.8h0.8M48.6 76.6h0.8M47.1 87.2h0.8M51.3 83.8h0.8M44.7 90.6h0.8M46.8 105.9h0.8M45.3 82.3h0.8M45.0 93.0h0.8M47.6 95.3h0.8M55.4 87.7h0.8M40.7 89.6h0.8M46.6 72.4h0.8M48.7 102.6h0.8M51.5 72.1h0.8M53.1 97.6h0.8M44.8 93.3h0.8M53.8 84.5h0.8M46.4 82.1h0.8M53.3 77.8h0.8M51.0 70.8h0.8M42.0 81.7h0.8M50.5 70.8h0.8M49.4 81.3h0.8M52.5 84.7h0.8M48.8 86.2h0.8M55.1 84.2h0.8M46.4 109.0h0.8M46.9 95.3h0.8M43.0 90.1h0.8M35.6 89.1h0.8M43.4 72.1h0.8M39.7 100.1h0.8M48.6 72.0h0.8M55.2 80.6h0.8M44.7 90.6h0.8M41.0 70.9h0.8M42.9 100.5h0.8M51.1 71.3h0.8M52.3 88.4h0.8M48.9 88.5h0.8M48.5 77.4h0.8M42.1 80.6h0.8M44.7 94.6h0.8M40.6 104.9h0.8M43.5 81.8h0.8M49.9 92.6h0.8M44.9 76.7h0.8M41.7 71.1h0.8M52.0 99.5h0.8M55.5 93.3h0.8M48.1 96.0h0.8M51.1 85.3h0.8M48.2 110.8h0.8M38.3 73.1h0.8M41.9 96.0h0.8M52.2 84.4h0.8M49.7 87.5h0.8M47.9 82.3h0.8M46.4 88.0h0.8M51.9 111.6h0.8M37.8 93.6h0.8M46.5 98.3h0.8M51.6 96.3h0.8M50.4 77.9h0.8M38.3 105.7h0.8M52.3 77.9h0.8M52.7 95.1h0.8M34.7 97.5h0.8M41.7 100.4h0.8M43.2 80.1h0.8M39.1 85.7h0.8M51.4 80.9h0.8M37.5 110.7h0.8M55.4 95.3h0.8M43.9 75.2h0.8M38.6 93.9h0.8M52.8 76.8h0.8M46.5 85.1h0.8M45.3 93.3h0.8M56.6 81.3h0.8M50.6 99.5h0.8M45.1 86.4h0.8M40.0 99.4h0.8M43.9 81.1h0.8M46.8 78.9h0.8M41.5 84.8h0.8M53.7 85.8h0.8M49.0 72.4h0.8M37.1 107.3h0.8M44.6 71.7h0.8M46.0 94.4h0.8M38.2 78.6h0.8M47.8 78.2h0.8M50.3 98.2h0.8M48.6 83.4h0.8M46.3 81.3h0.8M45.9 91.4h0.8M45.1 98.3h0.8M59.0 82.2h0.8M48.2 96.7h0.8M49.6 85.5h0.8M44.2 98.7h0.8M49.5 93.4h0.8M42.6 94.7h0.8M50.3 86.0h0.8M49.6 111.1h0.8M37.4 94.4h0.8M40.8 73.5h0.8M45.4 93.8h0.8M46.8 75.6h0.8M39.6 82.1h0.8M46.6 79.2h0.8M39.2 106.7h0.8M42.4 86.3h0.8M43.8 81.8h0.8M46.7 84.8h0.8M49.5 75.4h0.8M39.3 108.7h0.8M46.1 96.2h0.8M52.2 93.9h0.8M46.7 71.4h0.8M38.8 98.4h0.8M49.8 94.1h0.8M41.4 75.4h0.8M47.3 77.1h0.8M54.2 81.4h0.8M43.8 97.2h0.8M48.1 78.4h0.8M50.5 108.5h0.8M40.6 85.4h0.8M41.3 67.3h0.8M49.5 95.4h0.8M51.2 92.6h0.8M36.7 87.7h0.8M43.3 75.4h0.8M41.1 96.2h0.8M45.1 109.0h0.8M48.8 67.6h0.8M50.8 101.3h0.8M46.7 75.0h0.8M55.1 74.0h0.8M46.1 67.6h0.8M40.4 69.8h0.8M51.8 100.6h0.8M44.5 73.5h0.8M46.2 92.1h0.8M39.1 75.6h0.8M46.0 95.5h0.8M46.9 92.8h0.8M48.0 78.2h0.8M45.9 84.0h0.8M48.8 79.7h0.8M53.5 88.3h0.8M49.1 94.8h0.8M51.6 92.3h0.8M38.0 81.2h0.8M55.6 93.1h0.8M49.2 93.0h0.8M43.4 80.7h0.8M43.3 100.5h0.8M48.3 107.1h0.8M48.9 108.3h0.8M48.7 75.3h0.8M55.0 91.6h0.8M52.3 90.3h0.8M44.9 89.8h0.8M41.0 75.1h0.8M42.1 82.3h0.8M39.9 86.9h0.8M48.0 109.9h0.8M55.5 87.5h0.8M50.8 85.6h0.8M48.4 87.6h0.8M43.8 88.8h0.8M39.2 92.8h0.8M47.1 112.6h0.8M43.4 112.4h0.8M44.0 112.5h0.8M41.9 112.8h0.8M45.2 112.6h0.8M42.0 112.8h0.8M42.0 112.5h0.8M45.6 112.8h0.8M49.7 112.8h0.8M49.5 112.9h0.8M47.2 112.8h0.8M40.6 112.4h0.8M40.1 112.9h0.8M47.2 112.7h0.8M42.6 112.5h0.8M41.6 112.7h0.8M49.9 112.5h0.8M40.4 112.4h0.8M43.6 112.9h0.8M48.0 112.6h0.8M41.0 112.4h0.8M41.5 112.8h0.8M44.7 113.0h0.8M49.1 112.9h0.8M44.8 112.9h0.8M41.3 112.4h0.8M45.6 112.7h0.8M42.1 112.5h0.8M40.2 112.9h0.8M47.1 113.0h0.8M49.8 112.6h0.8M47.3 112.6h0.8M48.1 112.9h0.8M41.3 112.3h0.8M42.1 112.7h0.8M43.8 112.3h0.8M48.3 112.9h0.8M44.6 112.3h0.8M48.9 112.7h0.8M40.7 112.5h0.8" stroke="#111" stroke-width="0.8" fill="none" stroke-opacity="0.72"/>
<rect x="34" y="42.5" width="34" height="20" fill="none" stroke="#333" stroke-width="0.8"/>
<line x1="19.4" y1="112.5" x2="19.4" y2="91.2" stroke="#000" stroke-width="1.2"/>
<line x1="19.4" y1="59.5" x2="19.4" y2="36" stroke="#000" stroke-width="1.2"/>
<path d="M19.4 32.5l2.2 5.2h-4.4z"/>
<line x1="23" y1="118.2" x2="85" y2="118.2" stroke="#000" stroke-width="1.2"/>
<path d="M89 118.2l-5.2 2.2v-4.4z"/>
<text class="ss" x="0" y="0" font-size="8.7" text-anchor="middle" transform="translate(20.7,76.3) rotate(-90)">CD4</text>
<text class="ss" x="57.9" y="127.5" font-size="8.7" text-anchor="middle">FSC</text>
<line x1="68" y1="42.5" x2="107.5" y2="35.3" stroke="#111" stroke-width="1.1"/>
<line x1="68" y1="62.5" x2="109" y2="110" stroke="#111" stroke-width="1.1"/>
<line x1="110.8" y1="111" x2="110.8" y2="38" stroke="#000" stroke-width="1.1"/>
<path d="M110.8 33.8l2.3 5.4h-4.6z"/>
<text class="ss" x="0" y="0" font-size="8.4" text-anchor="middle" textLength="23.5" lengthAdjust="spacingAndGlyphs" transform="translate(105.5,70.7) rotate(-90)">FoxP 3</text>
<line x1="114.5" y1="117.3" x2="506" y2="117.3" stroke="#000" stroke-width="1.3"/>
<path d="M511.5 117.3l-6.2 2.6v-5.2z"/>
<text class="ss" x="312.9" y="127" font-size="8.6" text-anchor="middle">CD25</text>
<defs><filter id="bl" x="-30%" y="-30%" width="160%" height="160%"><feGaussianBlur stdDeviation="2.2"/></filter></defs>
<clipPath id="cp0"><rect x="113.8" y="34.9" width="75.7" height="77.5"/></clipPath>
<g clip-path="url(#cp0)">
<ellipse cx="119.8" cy="88" rx="23" ry="12" fill="#000" opacity="1" filter="url(#bl)"/>
<ellipse cx="125.8" cy="102" rx="24" ry="9" fill="#000" opacity="0.55" filter="url(#bl)"/>
<path d="M152.6 71.9h0.8M125.5 84.2h0.8M135.4 83.9h0.8M125.5 87.3h0.8M147.4 95.7h0.8M121.7 77.5h0.8M115.6 86.7h0.8M145.7 102.4h0.8M116.6 109.8h0.8M128.4 92.3h0.8M121.8 88.3h0.8M132.9 90.2h0.8M125.7 67.5h0.8M125.4 92.4h0.8M116.6 87.6h0.8M142.5 64.5h0.8M115.4 98.5h0.8M114.7 84.9h0.8M118.4 82.9h0.8M130.4 104.3h0.8M114.9 68.3h0.8M130.8 71.7h0.8M140.3 106.4h0.8M125.1 89.7h0.8M121.6 84.6h0.8M117.7 94.7h0.8M140.7 107.2h0.8M119.0 108.5h0.8M137.6 94.5h0.8M124.0 83.8h0.8M158.9 96.7h0.8M120.0 78.2h0.8M132.5 76.1h0.8M133.8 109.3h0.8M140.0 110.3h0.8M121.7 66.8h0.8M136.7 72.0h0.8M128.8 87.2h0.8M137.1 102.6h0.8M130.0 73.9h0.8M117.2 100.7h0.8M132.9 92.2h0.8M134.6 85.5h0.8M126.2 89.8h0.8M128.4 107.8h0.8M129.9 99.5h0.8M128.9 108.0h0.8M134.7 98.6h0.8M123.8 92.8h0.8M116.6 82.6h0.8M150.9 98.5h0.8M153.5 94.4h0.8M146.1 80.7h0.8M121.7 80.6h0.8M118.3 91.9h0.8M122.2 96.0h0.8M153.1 87.2h0.8M116.2 82.9h0.8M122.9 103.6h0.8M153.7 98.1h0.8M135.9 86.1h0.8M162.1 95.7h0.8M142.9 72.5h0.8M114.8 92.8h0.8M126.8 86.7h0.8M146.9 81.1h0.8M121.5 95.6h0.8M142.2 103.7h0.8M115.8 95.7h0.8M122.4 85.5h0.8M141.5 106.7h0.8M118.9 81.4h0.8M126.7 90.1h0.8M120.3 80.8h0.8M115.9 81.8h0.8M119.2 103.6h0.8M132.7 79.6h0.8M150.7 97.0h0.8M114.8 94.2h0.8M135.7 100.6h0.8M125.0 94.6h0.8M122.9 99.4h0.8M121.4 94.3h0.8M126.0 86.3h0.8M117.6 90.4h0.8M126.2 105.9h0.8M125.2 103.4h0.8M159.9 99.8h0.8M124.4 87.4h0.8M130.3 86.8h0.8M124.3 82.9h0.8M116.1 82.0h0.8M139.8 70.0h0.8M122.1 92.5h0.8M144.6 86.8h0.8M126.0 111.1h0.8M128.5 72.1h0.8M155.7 93.5h0.8M148.9 98.9h0.8M123.2 84.4h0.8M119.5 90.9h0.8M148.6 75.0h0.8M136.8 100.0h0.8M118.8 109.1h0.8M116.1 95.4h0.8M129.3 82.0h0.8M119.2 85.2h0.8M138.1 89.6h0.8M119.1 103.8h0.8M155.7 83.2h0.8M126.8 72.0h0.8M129.7 91.4h0.8M127.4 95.2h0.8M140.8 99.5h0.8M144.2 68.1h0.8M139.1 86.3h0.8M124.7 87.9h0.8M119.5 101.4h0.8M132.8 81.1h0.8M141.6 71.8h0.8M127.1 90.5h0.8M133.1 76.5h0.8M153.8 92.8h0.8M123.9 83.6h0.8M121.2 90.7h0.8M133.3 71.7h0.8M120.0 90.0h0.8M150.5 80.0h0.8M155.3 71.7h0.8M120.2 86.1h0.8M127.3 93.1h0.8M132.7 99.5h0.8M127.5 89.9h0.8M138.6 91.7h0.8M127.7 93.2h0.8M134.2 99.7h0.8M134.2 106.2h0.8M130.3 80.2h0.8M125.5 83.5h0.8M120.4 110.4h0.8M118.5 68.2h0.8M162.8 79.4h0.8M142.9 99.4h0.8M117.8 87.9h0.8M133.2 70.6h0.8M144.2 83.7h0.8M123.3 99.0h0.8M114.7 100.4h0.8M114.7 81.7h0.8M128.2 100.4h0.8M125.7 103.2h0.8M114.7 95.4h0.8M120.2 95.9h0.8M120.9 81.4h0.8M117.4 79.2h0.8M128.5 93.4h0.8M145.2 104.6h0.8M127.9 68.6h0.8M128.9 110.0h0.8M119.0 81.9h0.8M131.6 76.6h0.8M126.3 107.1h0.8M127.1 83.8h0.8M142.7 98.4h0.8M155.2 95.0h0.8M123.6 109.0h0.8M156.3 72.5h0.8M128.6 108.8h0.8M124.4 98.8h0.8M133.4 72.7h0.8M120.4 80.2h0.8M115.8 86.7h0.8M121.2 93.2h0.8M131.0 93.1h0.8M145.7 90.3h0.8M120.9 75.4h0.8M122.0 94.1h0.8M133.9 92.0h0.8M118.2 102.2h0.8M140.8 86.5h0.8M122.5 84.1h0.8M120.9 73.3h0.8M121.9 110.7h0.8M132.3 85.9h0.8M151.5 85.7h0.8M157.4 94.9h0.8M124.0 92.3h0.8M141.5 97.9h0.8M127.8 98.5h0.8M149.6 108.0h0.8M123.1 102.4h0.8M123.4 80.1h0.8M115.1 105.6h0.8M134.2 110.0h0.8M124.6 103.5h0.8M136.4 78.1h0.8M117.2 73.3h0.8M136.3 87.6h0.8M122.8 81.7h0.8M131.3 99.6h0.8M128.6 97.0h0.8M145.5 100.8h0.8M114.9 81.3h0.8M115.6 67.2h0.8M150.6 108.0h0.8M137.0 88.1h0.8M124.5 86.1h0.8M136.6 79.1h0.8M138.4 110.2h0.8M126.5 84.4h0.8M114.2 97.0h0.8M160.0 94.8h0.8M123.0 93.1h0.8M123.4 104.7h0.8M151.4 70.6h0.8M148.4 78.5h0.8M138.0 78.9h0.8M155.9 78.2h0.8M141.0 92.4h0.8M123.2 83.3h0.8M137.5 83.5h0.8M124.5 93.5h0.8M133.8 70.3h0.8M137.5 96.2h0.8M130.0 87.3h0.8M134.3 109.6h0.8M143.5 86.6h0.8M157.1 82.3h0.8M142.0 82.2h0.8M130.9 81.9h0.8M115.7 93.7h0.8M159.1 74.4h0.8M118.3 84.3h0.8M119.5 95.5h0.8M140.0 90.4h0.8M135.1 76.4h0.8M116.6 102.8h0.8M115.0 90.9h0.8M133.3 83.0h0.8M115.9 98.2h0.8M124.1 87.1h0.8M156.7 88.5h0.8M134.3 94.8h0.8M118.1 85.8h0.8M118.1 96.7h0.8M151.6 73.0h0.8M123.4 79.6h0.8M152.2 93.4h0.8M128.8 82.9h0.8M129.1 92.1h0.8M124.9 84.8h0.8M142.4 77.1h0.8M119.6 96.6h0.8M147.2 93.5h0.8M123.1 103.9h0.8M119.6 80.2h0.8M125.2 85.2h0.8M123.6 89.7h0.8M115.5 89.4h0.8M138.3 102.6h0.8M126.9 86.1h0.8M145.7 88.0h0.8M148.0 110.0h0.8M147.2 80.5h0.8M145.1 85.4h0.8M119.5 96.9h0.8M116.1 88.1h0.8M144.4 92.9h0.8M133.3 83.6h0.8M147.7 83.0h0.8M127.0 102.2h0.8M118.7 81.2h0.8M133.0 99.0h0.8M134.5 88.5h0.8M120.9 84.1h0.8M131.1 92.2h0.8M119.2 84.1h0.8M133.2 94.6h0.8M145.8 98.6h0.8M154.6 86.7h0.8M121.8 91.4h0.8M149.2 95.3h0.8M116.3 111.2h0.8M119.8 96.9h0.8M124.2 76.0h0.8M114.6 100.5h0.8M154.9 90.3h0.8M120.6 97.8h0.8M114.9 86.5h0.8M117.1 87.9h0.8M122.9 74.5h0.8M140.1 79.0h0.8M142.9 82.5h0.8M125.8 102.4h0.8M161.0 91.7h0.8M116.9 90.9h0.8M147.4 100.9h0.8M117.8 77.8h0.8M130.7 82.5h0.8M129.2 87.7h0.8M125.6 67.6h0.8M132.4 110.9h0.8M125.9 86.1h0.8M135.0 91.7h0.8M144.1 91.3h0.8M139.4 96.1h0.8M118.7 99.4h0.8M126.8 100.7h0.8M134.5 90.1h0.8M156.3 103.4h0.8M131.7 95.2h0.8M151.2 70.9h0.8M156.7 104.7h0.8M114.6 98.9h0.8M155.1 99.6h0.8M134.1 84.6h0.8M116.4 103.0h0.8M145.2 107.2h0.8M116.6 103.6h0.8M141.4 91.1h0.8M162.0 85.5h0.8M115.7 93.7h0.8M122.2 98.6h0.8M121.0 93.6h0.8M126.3 79.2h0.8M114.2 104.3h0.8M126.8 91.0h0.8M144.0 81.1h0.8M119.1 72.8h0.8M131.4 79.9h0.8M154.5 78.9h0.8M114.8 81.6h0.8M127.5 75.9h0.8M121.2 97.1h0.8M134.7 91.4h0.8M155.7 83.7h0.8M132.6 101.9h0.8M140.7 78.7h0.8M135.8 99.7h0.8M117.4 87.1h0.8M150.0 109.7h0.8M126.8 108.5h0.8M125.7 103.6h0.8M143.6 82.3h0.8M127.6 92.3h0.8M147.1 92.0h0.8M127.2 90.7h0.8M133.4 73.8h0.8M153.3 90.0h0.8M122.5 91.0h0.8M136.3 88.8h0.8M141.1 91.7h0.8M155.2 78.1h0.8M119.0 98.8h0.8M137.1 80.3h0.8M140.1 88.2h0.8M158.9 101.0h0.8M147.3 104.8h0.8M129.0 100.9h0.8M138.1 109.2h0.8M115.7 102.1h0.8M149.7 73.3h0.8M157.4 95.8h0.8M126.1 71.2h0.8M138.9 74.0h0.8M114.8 77.1h0.8M131.2 103.7h0.8M123.9 91.4h0.8M133.5 91.3h0.8M125.6 82.1h0.8M129.5 94.3h0.8M152.3 76.3h0.8M123.2 84.5h0.8M124.2 101.1h0.8M125.7 82.9h0.8M118.9 97.3h0.8M132.5 108.2h0.8M136.0 93.0h0.8M121.0 101.8h0.8M144.9 87.8h0.8M120.6 87.9h0.8M124.6 87.8h0.8M144.6 84.3h0.8M144.7 93.2h0.8M140.0 107.9h0.8M135.0 85.8h0.8M131.8 93.3h0.8M140.1 84.1h0.8M135.4 103.4h0.8M132.2 97.7h0.8M150.5 94.9h0.8M134.3 96.8h0.8M141.3 84.3h0.8M115.6 85.5h0.8M146.5 110.8h0.8M125.8 99.7h0.8M129.1 72.9h0.8M135.0 86.8h0.8M137.6 84.9h0.8M125.6 91.1h0.8M138.6 77.1h0.8M142.9 76.1h0.8M142.6 104.2h0.8M137.6 94.2h0.8M137.0 90.7h0.8M125.9 65.6h0.8M153.2 66.1h0.8M124.6 105.8h0.8M127.3 101.7h0.8M129.9 86.2h0.8M145.0 90.7h0.8M122.8 83.9h0.8M120.3 75.6h0.8M142.0 84.0h0.8M120.8 103.8h0.8M126.7 77.4h0.8M120.8 104.9h0.8M122.7 102.5h0.8M116.0 82.2h0.8M122.3 72.5h0.8M140.6 76.0h0.8M137.0 95.6h0.8M145.0 87.2h0.8M160.1 86.1h0.8M120.7 96.3h0.8M116.6 76.0h0.8M117.9 105.9h0.8M154.2 75.6h0.8M139.4 96.1h0.8M130.5 89.7h0.8M129.4 94.8h0.8M123.4 95.6h0.8M138.5 95.9h0.8M114.4 93.6h0.8M117.0 92.3h0.8M115.9 79.3h0.8M126.1 85.1h0.8M130.6 75.1h0.8M117.8 108.2h0.8M117.3 94.2h0.8M135.9 77.1h0.8M127.1 97.3h0.8M135.6 97.2h0.8M135.8 84.4h0.8M127.8 68.3h0.8M124.2 103.0h0.8M122.7 75.0h0.8M146.1 78.7h0.8M121.9 99.0h0.8M144.1 82.3h0.8M118.5 95.7h0.8M120.5 76.9h0.8M126.9 86.3h0.8M144.1 98.6h0.8M141.4 73.1h0.8M151.5 99.8h0.8M131.2 78.4h0.8M147.0 105.3h0.8M139.2 85.6h0.8M134.7 83.9h0.8M137.1 82.5h0.8M134.4 81.0h0.8M147.0 83.1h0.8M124.7 67.3h0.8M127.2 100.0h0.8M117.5 83.0h0.8M149.7 82.5h0.8M117.2 78.8h0.8M145.8 86.7h0.8M125.3 98.3h0.8M141.5 84.4h0.8M118.6 85.8h0.8M123.6 83.9h0.8M143.7 94.2h0.8M147.5 68.1h0.8M131.5 91.2h0.8M123.3 105.0h0.8M142.3 88.2h0.8M129.0 77.1h0.8M135.8 82.1h0.8M126.3 76.1h0.8M137.4 92.9h0.8M146.9 99.0h0.8M125.8 100.1h0.8M163.7 77.4h0.8M142.1 90.1h0.8M116.3 81.7h0.8M143.6 83.5h0.8M123.6 85.5h0.8M158.7 96.1h0.8M123.0 78.7h0.8M144.8 90.1h0.8M120.2 102.6h0.8M128.7 79.9h0.8M159.9 90.0h0.8M118.4 79.0h0.8M131.5 96.8h0.8M139.3 92.4h0.8M119.8 104.7h0.8M120.2 81.5h0.8M147.6 85.3h0.8M146.0 107.0h0.8M143.9 73.7h0.8M125.3 78.2h0.8M130.3 88.5h0.8M140.6 99.2h0.8M124.0 97.7h0.8M125.1 104.7h0.8M142.8 96.7h0.8M120.5 92.1h0.8M121.1 76.4h0.8M127.9 93.2h0.8M136.0 93.3h0.8M147.8 80.7h0.8M135.7 78.6h0.8M145.4 70.9h0.8M127.4 104.9h0.8M158.8 91.1h0.8M125.1 103.9h0.8M129.8 86.5h0.8M141.7 96.0h0.8M154.6 91.3h0.8M117.5 106.6h0.8M139.5 99.9h0.8M114.7 91.6h0.8M141.0 82.2h0.8M128.3 105.7h0.8M131.3 96.8h0.8M138.1 75.0h0.8M135.2 74.5h0.8M163.2 78.2h0.8M140.5 84.2h0.8M116.8 86.1h0.8M155.0 79.1h0.8M143.9 104.9h0.8M118.0 81.3h0.8M127.7 85.9h0.8M133.0 85.4h0.8M144.9 106.8h0.8M142.2 93.7h0.8M116.5 85.4h0.8M126.2 77.5h0.8M114.4 80.1h0.8M117.3 80.7h0.8M132.8 102.2h0.8M118.7 97.4h0.8M136.8 89.9h0.8M130.9 91.8h0.8M135.0 77.4h0.8M117.5 98.7h0.8M125.7 88.0h0.8M117.6 100.5h0.8M125.4 89.8h0.8M123.3 99.5h0.8M128.2 103.5h0.8M117.3 88.7h0.8M115.0 91.9h0.8M124.8 96.4h0.8M143.7 96.8h0.8M138.6 92.4h0.8M114.8 85.1h0.8M143.6 100.6h0.8M121.8 93.8h0.8M149.6 80.1h0.8M130.9 91.2h0.8M121.0 107.9h0.8M120.0 109.4h0.8M123.8 76.6h0.8M137.5 101.2h0.8M119.0 78.7h0.8M130.4 84.5h0.8M121.2 84.3h0.8M125.6 76.8h0.8M139.1 90.0h0.8M150.1 71.0h0.8M123.8 87.7h0.8M124.5 79.3h0.8M146.2 102.9h0.8M136.6 96.7h0.8M116.5 72.2h0.8M130.9 90.2h0.8M158.2 86.1h0.8M162.7 96.3h0.8M116.1 70.4h0.8M129.1 83.9h0.8M136.4 92.7h0.8M129.3 67.2h0.8M121.5 97.6h0.8M119.8 102.4h0.8M137.5 108.1h0.8M127.6 81.5h0.8M120.9 100.7h0.8M141.9 92.1h0.8M118.3 90.7h0.8M114.7 92.3h0.8M133.9 107.6h0.8M138.1 81.2h0.8M114.7 103.3h0.8M118.9 96.1h0.8M123.0 111.3h0.8M119.6 85.5h0.8M145.1 100.2h0.8M140.9 84.2h0.8M124.2 70.7h0.8M136.6 77.3h0.8M133.0 98.0h0.8M148.2 83.2h0.8M155.8 82.3h0.8M156.8 96.2h0.8M142.1 102.5h0.8M114.6 110.7h0.8M124.0 96.0h0.8M157.7 98.7h0.8M139.5 97.6h0.8M140.8 92.6h0.8M130.6 86.1h0.8M140.2 91.7h0.8M137.2 90.6h0.8M131.7 90.8h0.8M125.7 91.4h0.8M158.0 102.5h0.8M162.6 85.8h0.8M117.8 90.0h0.8M116.8 109.1h0.8M138.5 87.7h0.8M124.2 94.4h0.8M125.1 74.3h0.8M156.9 75.6h0.8M114.6 87.0h0.8M124.8 82.0h0.8M139.6 66.5h0.8M130.0 98.5h0.8M131.6 83.2h0.8M144.5 83.7h0.8M146.9 105.2h0.8M119.5 86.0h0.8M150.7 93.5h0.8M115.8 87.8h0.8M120.2 81.9h0.8M120.2 111.1h0.8M132.4 83.9h0.8M157.6 84.6h0.8M114.8 106.7h0.8M140.8 110.3h0.8M156.0 82.9h0.8M134.7 92.2h0.8M128.5 88.0h0.8M140.4 100.9h0.8M135.6 95.6h0.8M129.0 99.2h0.8M125.8 87.8h0.8M128.6 90.7h0.8M122.0 82.8h0.8M121.1 82.3h0.8M146.9 73.0h0.8M118.8 68.7h0.8M137.3 89.9h0.8M134.0 85.6h0.8M114.5 107.3h0.8M148.8 69.9h0.8M126.9 72.6h0.8M120.3 84.0h0.8M153.1 100.7h0.8M119.6 86.3h0.8M141.5 68.4h0.8M120.4 92.0h0.8M121.1 75.4h0.8M132.1 100.2h0.8M123.9 100.4h0.8M133.4 79.6h0.8M143.3 75.0h0.8M124.7 90.6h0.8M114.8 105.9h0.8M116.0 105.6h0.8M140.1 107.9h0.8M131.9 80.3h0.8M125.6 104.3h0.8M127.4 109.8h0.8M159.1 100.3h0.8M122.1 73.8h0.8M148.9 91.2h0.8M143.4 98.7h0.8M152.3 81.5h0.8M154.1 86.9h0.8M123.5 73.9h0.8M118.3 104.4h0.8M117.2 84.1h0.8M122.1 77.3h0.8M131.8 91.0h0.8M138.2 92.2h0.8M122.5 78.1h0.8M151.6 92.9h0.8M159.3 75.4h0.8M121.7 108.6h0.8M154.0 106.1h0.8M127.7 91.6h0.8M123.3 88.4h0.8M142.0 94.2h0.8M129.3 71.3h0.8M126.1 97.1h0.8M147.0 78.0h0.8M135.0 110.2h0.8M120.6 87.2h0.8M123.3 94.0h0.8M118.5 80.2h0.8M120.4 80.5h0.8M140.0 108.8h0.8M117.9 90.8h0.8M146.3 94.0h0.8M117.0 79.8h0.8M121.2 74.9h0.8M121.3 91.2h0.8M120.0 105.4h0.8M116.4 110.2h0.8M132.6 80.4h0.8M122.8 83.3h0.8M148.5 78.9h0.8M123.1 102.1h0.8M138.6 108.1h0.8M133.8 109.7h0.8M114.3 83.6h0.8M114.5 106.6h0.8M160.0 70.6h0.8M134.5 102.6h0.8M116.1 95.4h0.8M118.9 92.5h0.8M126.8 97.0h0.8M125.4 78.5h0.8M121.5 111.0h0.8M136.9 79.5h0.8M117.8 104.4h0.8M138.7 88.1h0.8M132.5 97.1h0.8M135.1 86.7h0.8M147.7 90.1h0.8M121.5 96.5h0.8M124.2 101.6h0.8M155.4 72.5h0.8M150.3 95.5h0.8M157.5 101.7h0.8M124.0 102.5h0.8M120.5 97.7h0.8M125.2 97.1h0.8M118.9 94.3h0.8M152.7 95.4h0.8M155.0 85.7h0.8M130.5 95.8h0.8M141.9 85.8h0.8M145.2 85.7h0.8M114.9 85.0h0.8M135.6 85.0h0.8M141.0 100.2h0.8M117.8 98.1h0.8M131.7 76.2h0.8M146.8 104.5h0.8M114.8 97.1h0.8M114.4 102.4h0.8M149.6 85.9h0.8M142.7 100.5h0.8M138.8 109.0h0.8M153.3 90.0h0.8M133.3 80.9h0.8M141.2 75.5h0.8M116.4 91.5h0.8M118.8 88.4h0.8M126.8 105.6h0.8M141.9 91.6h0.8M136.2 95.5h0.8M146.0 92.3h0.8M129.8 101.6h0.8M156.2 97.6h0.8M126.3 87.5h0.8M156.6 93.9h0.8M145.0 107.5h0.8M132.1 78.1h0.8M130.3 84.9h0.8M120.2 78.8h0.8M127.3 82.6h0.8M118.8 78.2h0.8M135.0 84.2h0.8M119.3 100.9h0.8M122.2 89.0h0.8M122.3 96.0h0.8M130.7 83.6h0.8M158.2 83.8h0.8M126.5 107.8h0.8M156.1 93.8h0.8M134.0 64.0h0.8M123.3 105.0h0.8M134.5 91.1h0.8M127.7 97.5h0.8M134.9 85.9h0.8M120.6 83.4h0.8M130.8 106.7h0.8M144.9 100.7h0.8M118.0 93.9h0.8M129.0 88.0h0.8M155.3 72.1h0.8M115.2 108.3h0.8M117.3 83.6h0.8M135.6 95.3h0.8M128.9 93.6h0.8M137.0 91.8h0.8M140.6 73.2h0.8M141.4 64.8h0.8M140.7 71.6h0.8M120.4 90.1h0.8M128.1 78.2h0.8M145.3 82.3h0.8M117.2 80.9h0.8M147.9 111.5h0.8M114.8 100.2h0.8M122.7 98.3h0.8M143.7 91.1h0.8M135.8 77.9h0.8M152.0 82.3h0.8M120.1 93.6h0.8M115.8 106.9h0.8M137.9 83.9h0.8M157.4 88.5h0.8M135.2 90.0h0.8M128.2 81.0h0.8M117.7 96.7h0.8M123.0 81.4h0.8M153.2 108.2h0.8M123.8 96.4h0.8M139.9 91.1h0.8M129.8 82.4h0.8M140.1 95.4h0.8M123.2 91.8h0.8M145.4 71.2h0.8M128.0 87.3h0.8M115.7 102.3h0.8M116.8 72.8h0.8M141.4 84.0h0.8M139.1 84.7h0.8M122.4 88.1h0.8M126.8 85.5h0.8M122.0 75.4h0.8M124.7 92.7h0.8M135.3 92.5h0.8M146.3 85.2h0.8M144.7 77.5h0.8M131.9 84.6h0.8M158.8 99.3h0.8M129.6 92.5h0.8M154.1 86.8h0.8M117.8 86.4h0.8M139.0 92.0h0.8M147.2 87.0h0.8M117.9 96.1h0.8M121.4 90.2h0.8M146.7 88.0h0.8M142.3 99.9h0.8M124.8 88.1h0.8M131.6 74.6h0.8M157.9 86.6h0.8M123.8 90.8h0.8M140.4 85.2h0.8M123.6 81.0h0.8M160.6 92.9h0.8M143.3 77.6h0.8M157.6 82.0h0.8M117.2 90.6h0.8M120.9 76.3h0.8M128.2 100.5h0.8M125.4 79.8h0.8M118.9 87.8h0.8M144.2 98.8h0.8M116.2 105.1h0.8M155.9 77.6h0.8M135.2 94.8h0.8M121.8 96.6h0.8M163.3 88.8h0.8M117.5 100.1h0.8M115.5 95.4h0.8M126.4 109.5h0.8M132.2 84.7h0.8M129.5 71.9h0.8M135.0 93.4h0.8M149.4 94.8h0.8M148.3 70.4h0.8M126.3 77.2h0.8M116.4 91.9h0.8M134.7 105.2h0.8M127.3 81.2h0.8M124.8 100.7h0.8M148.1 87.3h0.8M144.2 97.3h0.8M120.4 101.0h0.8M124.2 79.6h0.8M139.6 90.0h0.8M162.4 64.0h0.8M145.5 79.5h0.8M139.6 86.1h0.8M150.7 95.4h0.8M119.0 86.8h0.8M114.9 100.5h0.8M134.6 88.9h0.8M156.0 88.5h0.8M128.9 79.9h0.8M124.3 84.0h0.8M146.1 93.5h0.8M124.8 103.3h0.8M116.0 91.4h0.8M117.4 84.3h0.8M157.7 91.7h0.8M117.5 92.9h0.8M117.0 108.3h0.8M116.8 96.0h0.8M128.6 96.8h0.8M137.1 90.0h0.8M129.5 92.2h0.8M121.3 80.1h0.8M119.0 96.5h0.8M131.2 108.0h0.8M140.6 86.3h0.8M124.1 91.8h0.8M143.6 84.0h0.8M147.0 96.7h0.8M122.9 99.1h0.8M115.6 81.2h0.8M140.1 90.9h0.8M149.0 98.3h0.8M121.1 102.5h0.8M134.6 95.4h0.8M115.4 72.7h0.8M124.2 91.0h0.8M119.7 92.3h0.8M126.0 84.5h0.8M148.3 79.7h0.8M142.4 89.2h0.8M159.3 91.0h0.8M137.1 87.5h0.8M114.2 72.7h0.8M144.2 78.8h0.8M144.2 109.5h0.8M135.1 93.2h0.8M119.6 82.5h0.8M146.7 87.9h0.8M137.7 92.5h0.8M143.8 110.6h0.8M141.5 85.5h0.8M120.5 99.4h0.8M156.9 92.5h0.8M117.1 104.4h0.8M155.1 93.5h0.8M114.9 91.7h0.8M152.6 102.4h0.8M151.5 95.6h0.8M151.9 101.7h0.8M124.9 101.6h0.8M140.0 96.1h0.8M144.6 90.8h0.8M158.2 88.2h0.8M150.9 102.1h0.8M131.2 83.7h0.8M116.9 74.1h0.8M123.7 88.9h0.8M119.2 97.2h0.8M138.1 85.9h0.8M128.8 87.7h0.8M123.3 90.7h0.8M143.1 87.3h0.8M146.9 82.3h0.8M119.7 78.9h0.8M160.0 88.2h0.8M128.3 97.0h0.8M117.8 92.9h0.8M134.3 91.4h0.8M114.7 91.9h0.8M115.1 102.5h0.8M128.9 99.9h0.8M136.4 72.8h0.8M133.1 91.2h0.8M131.2 93.3h0.8M124.5 86.8h0.8M126.2 88.6h0.8M142.9 77.8h0.8M132.6 82.3h0.8M163.5 93.5h0.8M122.8 88.1h0.8M125.5 101.6h0.8M144.8 72.5h0.8M148.9 82.3h0.8M123.0 95.0h0.8M119.8 97.4h0.8M137.8 76.7h0.8M140.5 73.7h0.8M129.7 89.3h0.8M120.5 95.2h0.8M142.9 78.6h0.8M120.9 108.1h0.8M125.6 92.0h0.8M122.8 87.8h0.8M116.3 108.3h0.8M142.9 98.5h0.8M158.6 89.3h0.8M121.9 72.9h0.8M157.4 87.0h0.8M139.6 85.2h0.8M117.8 82.0h0.8M141.6 91.9h0.8M120.5 81.3h0.8M115.9 79.4h0.8M122.2 75.3h0.8M120.2 102.8h0.8M132.6 97.7h0.8M139.0 75.0h0.8M114.2 92.7h0.8M117.9 101.4h0.8M118.1 82.0h0.8M153.0 91.4h0.8M116.8 94.4h0.8M138.2 65.6h0.8M122.7 96.5h0.8M134.9 106.5h0.8M122.7 110.6h0.8M131.7 84.4h0.8M130.8 83.9h0.8M129.5 92.8h0.8M134.6 97.4h0.8M115.7 92.5h0.8M124.1 95.2h0.8M150.9 96.8h0.8M141.2 81.1h0.8M117.0 86.8h0.8M114.4 103.0h0.8M138.3 99.7h0.8M138.4 98.9h0.8M126.9 88.4h0.8M130.6 91.4h0.8M128.3 78.5h0.8M128.5 104.1h0.8M146.2 82.1h0.8M149.5 80.1h0.8M132.5 89.9h0.8M116.8 101.9h0.8M132.5 75.9h0.8M122.7 95.1h0.8M133.6 108.8h0.8M116.8 91.0h0.8M141.5 95.4h0.8M124.8 92.6h0.8M159.0 78.4h0.8M146.9 74.9h0.8M117.4 78.6h0.8M127.8 100.6h0.8M149.1 94.4h0.8M119.5 68.7h0.8M146.9 107.2h0.8M128.8 85.7h0.8M121.8 103.2h0.8M140.2 92.2h0.8M117.1 101.0h0.8M117.7 95.2h0.8M123.6 104.3h0.8M134.4 108.7h0.8M115.5 93.1h0.8M145.3 94.2h0.8M151.5 98.7h0.8M126.5 79.3h0.8M121.2 82.6h0.8M123.6 98.7h0.8M150.1 98.2h0.8M145.4 70.7h0.8M121.0 79.7h0.8M115.3 97.3h0.8M140.5 88.6h0.8M133.6 81.9h0.8M118.0 78.8h0.8M114.3 105.5h0.8M162.1 91.1h0.8M122.1 83.7h0.8M138.2 97.6h0.8M135.1 83.7h0.8M145.5 93.1h0.8M133.8 80.2h0.8M140.3 63.6h0.8M133.7 88.2h0.8M142.7 90.1h0.8M114.3 96.9h0.8M123.3 110.8h0.8M121.9 82.2h0.8M129.0 111.0h0.8M153.9 101.4h0.8M149.2 103.4h0.8M142.3 103.4h0.8M129.4 87.1h0.8M126.4 90.6h0.8M136.9 95.4h0.8M122.8 95.9h0.8M135.4 87.1h0.8M116.0 73.9h0.8M138.2 104.9h0.8M126.0 88.7h0.8M127.9 82.1h0.8M148.2 80.9h0.8M119.4 88.9h0.8M132.5 72.1h0.8M118.0 86.3h0.8M117.2 80.0h0.8M118.7 91.7h0.8M122.2 80.2h0.8M134.7 82.8h0.8M116.5 98.7h0.8M130.4 76.9h0.8M127.1 78.2h0.8M115.4 103.0h0.8M115.7 104.9h0.8M157.0 97.4h0.8M149.7 90.4h0.8M134.7 69.9h0.8M125.8 90.6h0.8M138.9 74.7h0.8M116.3 102.1h0.8M124.6 76.1h0.8M120.8 94.3h0.8M135.6 88.4h0.8M145.0 87.8h0.8M126.0 86.1h0.8M143.0 69.8h0.8M149.9 85.3h0.8M146.0 99.1h0.8M151.5 70.6h0.8M159.3 92.2h0.8M119.9 86.8h0.8M134.1 83.6h0.8M131.1 89.6h0.8M145.1 97.3h0.8M138.3 109.3h0.8M135.3 70.6h0.8M121.0 75.0h0.8M126.9 73.8h0.8M124.5 101.6h0.8M142.8 73.4h0.8M123.3 90.8h0.8M119.1 95.6h0.8M130.5 101.0h0.8M150.1 87.2h0.8M130.4 88.3h0.8M145.5 95.6h0.8M125.5 95.2h0.8M140.6 97.5h0.8M119.8 109.1h0.8M124.7 90.1h0.8M141.3 78.6h0.8M124.9 80.5h0.8M116.9 93.5h0.8M127.1 78.6h0.8M147.6 85.5h0.8M136.4 86.7h0.8M140.5 80.7h0.8M118.6 73.7h0.8M135.7 75.0h0.8M123.1 83.1h0.8M136.7 96.6h0.8M123.7 98.8h0.8M149.2 99.0h0.8M124.6 94.0h0.8M127.4 82.3h0.8M123.6 84.8h0.8M138.8 83.2h0.8M137.5 70.3h0.8M161.5 87.4h0.8M122.8 99.3h0.8M133.1 81.1h0.8M115.8 104.7h0.8M141.2 79.0h0.8M127.2 94.3h0.8M116.3 97.5h0.8M161.6 79.0h0.8M132.7 86.1h0.8M123.8 109.2h0.8M119.1 95.7h0.8M161.7 87.5h0.8M123.0 101.2h0.8M118.3 109.3h0.8M149.7 101.1h0.8M136.6 100.6h0.8M139.9 101.5h0.8M121.9 90.9h0.8M135.3 85.2h0.8M139.7 103.2h0.8M116.3 94.2h0.8M131.7 105.3h0.8M129.6 92.1h0.8M131.1 77.7h0.8M143.3 87.1h0.8M161.9 97.4h0.8M119.7 104.0h0.8M130.2 86.6h0.8M132.6 108.6h0.8M124.9 79.1h0.8M134.3 71.3h0.8M136.7 87.3h0.8M150.8 105.2h0.8M127.2 93.1h0.8M115.0 111.5h0.8M142.9 97.9h0.8M126.7 91.5h0.8M153.3 77.4h0.8M133.0 74.8h0.8M115.7 74.1h0.8M135.1 80.4h0.8M137.6 87.8h0.8M141.3 99.9h0.8M125.2 84.8h0.8M124.7 77.1h0.8M123.3 101.8h0.8M118.3 77.0h0.8M131.6 81.4h0.8M119.1 105.7h0.8M138.9 105.6h0.8M119.2 87.1h0.8M145.9 92.3h0.8M123.3 105.5h0.8M155.8 101.0h0.8M119.6 96.1h0.8M134.0 82.1h0.8M120.7 103.0h0.8M134.7 104.9h0.8M131.5 90.4h0.8M150.1 84.5h0.8M124.5 84.2h0.8M159.6 81.8h0.8M124.8 102.6h0.8M138.1 92.0h0.8M135.1 80.6h0.8M135.0 87.1h0.8M127.9 97.0h0.8M133.3 103.4h0.8M123.8 91.0h0.8M117.3 87.6h0.8M122.7 78.9h0.8M141.6 83.2h0.8M116.9 92.6h0.8M131.1 81.0h0.8M153.8 93.6h0.8M124.0 72.6h0.8M116.0 86.6h0.8M139.2 84.8h0.8M121.4 91.0h0.8M125.8 69.6h0.8M120.5 90.0h0.8M148.8 93.6h0.8M132.4 73.5h0.8M154.7 89.0h0.8M147.0 107.7h0.8M129.2 75.9h0.8M117.8 84.0h0.8M157.3 101.6h0.8M127.9 110.3h0.8M121.5 87.6h0.8M126.2 104.7h0.8M152.2 81.6h0.8M138.9 100.0h0.8M118.5 100.9h0.8M137.0 74.5h0.8M148.1 89.9h0.8M142.3 91.6h0.8M122.2 105.0h0.8M137.0 85.8h0.8M145.3 86.0h0.8M116.2 91.8h0.8M152.4 105.9h0.8M152.0 85.8h0.8M119.8 80.0h0.8M157.9 102.3h0.8M149.0 81.3h0.8M130.2 99.3h0.8M127.1 88.3h0.8M118.6 91.3h0.8M127.5 93.2h0.8M144.1 106.6h0.8M127.2 105.9h0.8M133.3 82.4h0.8M134.1 96.4h0.8M143.6 77.6h0.8M155.8 89.7h0.8M121.5 86.0h0.8M134.6 92.4h0.8M137.1 99.7h0.8M160.7 76.6h0.8M116.8 99.2h0.8M148.3 67.3h0.8M125.2 89.4h0.8M123.3 88.7h0.8M120.9 88.3h0.8M124.1 109.6h0.8M126.7 84.6h0.8M132.0 94.5h0.8M118.1 96.2h0.8M125.3 92.7h0.8M137.6 106.3h0.8M117.6 105.7h0.8M139.5 77.7h0.8M120.9 87.8h0.8M119.9 75.6h0.8M157.8 92.1h0.8M119.6 106.4h0.8M145.7 91.5h0.8M117.6 82.3h0.8M143.8 82.4h0.8M153.8 89.8h0.8M159.5 88.8h0.8M128.9 97.9h0.8M132.6 103.0h0.8M156.5 90.7h0.8M159.4 67.2h0.8M147.9 74.7h0.8M143.2 109.6h0.8M131.3 102.7h0.8M159.8 73.1h0.8M125.4 102.1h0.8M121.4 102.3h0.8M127.9 92.0h0.8M130.8 96.2h0.8M116.9 93.5h0.8M117.7 111.0h0.8M151.2 87.1h0.8M134.3 94.4h0.8M128.6 90.1h0.8M146.7 90.6h0.8M161.8 95.1h0.8M131.7 85.9h0.8M117.6 104.4h0.8M130.4 100.8h0.8M151.5 104.3h0.8M121.3 79.8h0.8M148.1 103.1h0.8M115.7 82.4h0.8M137.7 108.3h0.8M133.8 93.1h0.8M139.7 75.6h0.8M143.5 67.4h0.8M151.7 88.7h0.8M132.7 78.4h0.8M120.9 91.2h0.8M134.3 97.1h0.8M118.2 102.1h0.8M135.8 81.5h0.8M136.3 102.1h0.8M119.2 78.4h0.8M148.8 86.7h0.8M121.4 96.2h0.8M115.4 74.1h0.8M144.9 82.5h0.8M148.4 102.0h0.8M124.2 82.4h0.8M118.4 72.5h0.8M152.2 102.9h0.8M136.9 79.6h0.8M147.9 100.4h0.8M141.7 98.2h0.8M124.0 98.4h0.8M119.3 104.3h0.8M144.9 84.6h0.8M148.3 99.4h0.8M119.1 92.4h0.8M118.8 85.0h0.8M145.5 88.4h0.8M144.2 103.5h0.8M139.0 99.1h0.8M122.3 91.0h0.8M143.6 98.4h0.8M116.4 84.8h0.8M130.1 84.9h0.8M139.2 88.9h0.8M137.1 98.3h0.8M139.1 100.1h0.8M130.4 71.4h0.8M118.3 82.6h0.8M131.1 91.9h0.8M139.7 108.0h0.8M122.3 87.0h0.8M148.3 85.3h0.8M140.6 85.9h0.8M158.4 95.9h0.8M116.7 83.7h0.8M149.3 88.4h0.8M128.7 106.2h0.8M127.3 78.6h0.8M127.3 92.4h0.8M117.2 98.9h0.8M148.6 111.2h0.8M158.6 74.4h0.8M132.6 94.1h0.8M129.7 82.0h0.8M133.6 103.2h0.8M115.2 106.3h0.8M122.9 98.4h0.8M157.6 93.2h0.8M125.3 75.6h0.8M123.2 92.2h0.8M139.4 89.5h0.8M122.6 92.8h0.8M116.7 100.0h0.8M118.0 90.0h0.8M140.3 83.6h0.8M138.4 91.8h0.8M141.0 71.4h0.8M144.7 91.8h0.8M127.9 97.2h0.8M142.7 91.8h0.8M138.3 85.4h0.8M148.6 104.3h0.8M124.7 104.9h0.8M127.4 98.8h0.8M115.9 102.2h0.8M145.4 102.7h0.8M160.7 87.2h0.8M132.3 92.0h0.8M128.8 98.8h0.8M153.1 81.3h0.8M131.5 93.7h0.8M133.4 78.9h0.8M139.4 93.4h0.8M145.8 75.5h0.8M128.4 91.6h0.8M147.3 86.7h0.8M160.5 87.2h0.8M142.2 74.3h0.8M115.1 73.5h0.8M151.9 101.2h0.8M137.8 102.7h0.8M140.6 95.2h0.8M118.6 82.2h0.8M132.0 70.3h0.8M155.6 90.3h0.8M137.8 83.7h0.8M137.1 102.1h0.8M116.7 95.4h0.8M122.3 71.4h0.8M127.8 91.7h0.8M144.0 85.7h0.8M116.4 90.8h0.8M126.9 108.2h0.8M130.2 66.8h0.8M126.1 79.0h0.8M124.2 80.7h0.8M138.7 101.0h0.8M144.4 96.8h0.8M119.0 79.3h0.8M116.4 78.3h0.8M134.7 83.9h0.8M163.6 93.5h0.8M120.0 103.6h0.8M117.5 77.7h0.8M139.7 102.1h0.8M148.5 88.8h0.8M133.4 92.8h0.8M123.7 84.5h0.8M118.6 107.6h0.8M157.2 88.6h0.8M147.1 100.5h0.8M125.3 83.4h0.8M162.7 91.8h0.8M143.5 95.3h0.8M119.2 110.8h0.8M133.7 94.5h0.8M118.6 101.6h0.8M127.0 97.7h0.8M134.2 94.6h0.8M121.7 87.7h0.8M131.3 98.3h0.8M136.7 96.1h0.8M129.0 74.6h0.8M132.1 70.3h0.8M148.7 96.0h0.8M126.3 83.8h0.8M155.9 88.9h0.8M118.0 94.2h0.8M136.2 86.0h0.8M129.7 99.7h0.8M138.5 88.6h0.8M141.7 90.7h0.8M129.8 110.4h0.8M124.0 80.0h0.8M122.1 104.6h0.8M139.4 88.5h0.8M138.2 89.0h0.8M136.5 90.5h0.8M138.6 92.2h0.8M132.3 73.8h0.8M155.4 104.3h0.8M147.3 93.3h0.8M143.7 91.5h0.8M117.9 69.9h0.8M141.8 104.7h0.8M150.7 93.2h0.8M139.3 74.8h0.8M131.0 104.1h0.8M135.6 87.5h0.8M155.0 85.3h0.8M120.4 105.9h0.8M143.2 75.4h0.8M114.3 76.7h0.8M133.9 111.0h0.8M141.6 81.4h0.8M126.5 109.6h0.8M120.3 76.1h0.8M135.3 90.8h0.8M139.3 81.3h0.8M140.7 67.1h0.8M146.5 104.3h0.8M131.9 101.3h0.8M128.9 102.2h0.8M143.3 95.2h0.8M146.4 84.2h0.8M156.3 79.7h0.8M134.9 90.9h0.8M149.3 97.1h0.8M138.6 91.3h0.8M127.2 105.9h0.8M132.3 77.3h0.8M127.1 75.9h0.8M118.0 81.1h0.8M132.0 104.9h0.8M135.6 81.4h0.8M133.0 94.3h0.8M126.3 87.3h0.8M132.6 99.0h0.8M126.9 98.4h0.8M120.1 78.0h0.8M140.8 87.4h0.8M127.2 72.7h0.8M134.2 109.5h0.8M125.7 108.8h0.8M132.1 87.3h0.8M118.9 75.1h0.8M156.9 91.4h0.8M151.2 72.1h0.8M143.9 76.6h0.8M138.3 96.4h0.8M142.3 109.2h0.8M135.2 92.5h0.8M116.1 84.6h0.8M128.5 108.3h0.8M117.6 100.3h0.8M120.9 78.4h0.8M122.9 104.8h0.8M136.1 98.1h0.8M126.6 81.9h0.8M151.9 97.4h0.8M127.3 71.3h0.8M115.8 100.8h0.8M132.8 88.2h0.8M144.0 105.6h0.8M129.7 95.4h0.8M122.2 68.4h0.8M122.9 99.0h0.8M130.6 78.8h0.8M129.0 84.3h0.8M160.3 74.7h0.8M119.0 104.8h0.8M157.2 89.7h0.8M156.8 94.8h0.8M118.7 100.5h0.8M145.9 97.9h0.8M116.7 77.1h0.8M121.4 106.9h0.8M116.6 94.7h0.8M119.0 84.6h0.8M123.4 101.9h0.8M150.5 88.8h0.8M123.2 107.3h0.8M133.2 63.8h0.8M144.8 76.7h0.8M126.3 83.7h0.8M127.9 93.0h0.8M127.9 86.6h0.8M136.8 86.0h0.8M140.1 83.9h0.8M130.6 95.1h0.8M148.2 97.9h0.8M136.5 76.8h0.8M142.2 89.4h0.8M118.9 91.6h0.8M131.2 105.9h0.8M127.6 98.8h0.8M136.2 89.6h0.8M141.6 75.1h0.8M130.0 100.0h0.8M128.7 80.9h0.8M148.3 98.8h0.8M159.1 93.9h0.8M126.3 88.1h0.8M124.2 84.0h0.8M131.4 88.3h0.8M143.7 101.3h0.8M122.3 88.2h0.8M147.5 107.1h0.8M143.1 99.8h0.8M119.2 104.9h0.8M139.2 72.6h0.8M145.6 90.8h0.8M140.8 105.1h0.8M139.8 91.4h0.8M160.6 88.4h0.8M142.4 105.6h0.8M128.6 103.4h0.8M125.9 91.9h0.8M139.5 77.3h0.8M137.1 79.2h0.8M125.9 104.6h0.8M128.5 84.4h0.8M120.4 88.0h0.8M141.7 89.8h0.8M153.4 106.5h0.8M121.6 104.8h0.8M156.8 102.9h0.8M121.6 101.7h0.8M127.2 105.4h0.8M116.1 107.8h0.8M114.6 103.9h0.8M143.2 94.5h0.8M119.3 104.3h0.8M114.9 85.6h0.8M121.6 76.6h0.8M145.4 88.2h0.8M129.6 97.9h0.8M124.6 77.5h0.8M120.5 86.1h0.8M132.0 110.9h0.8M127.1 94.8h0.8M124.4 75.1h0.8M132.7 87.9h0.8M121.3 81.4h0.8M123.4 93.5h0.8M138.7 70.9h0.8M138.7 98.3h0.8M125.0 95.9h0.8M126.8 107.1h0.8M124.1 72.6h0.8M142.5 88.8h0.8M124.2 98.6h0.8M116.2 102.5h0.8M140.5 78.7h0.8M117.5 83.5h0.8M146.1 79.9h0.8M128.9 73.9h0.8M137.2 85.0h0.8M121.5 99.3h0.8M158.9 91.3h0.8M118.2 87.5h0.8M119.3 84.8h0.8M115.3 104.2h0.8M119.7 80.7h0.8M133.3 90.8h0.8M114.6 75.6h0.8M133.9 104.7h0.8M139.5 101.8h0.8M123.9 87.8h0.8M139.8 87.3h0.8M131.1 83.4h0.8M114.9 78.1h0.8M126.6 75.3h0.8M126.9 101.1h0.8M138.5 82.9h0.8M142.9 102.8h0.8M121.8 80.8h0.8M137.1 84.0h0.8M121.4 81.7h0.8M142.3 92.0h0.8M148.9 75.0h0.8M116.0 90.9h0.8M122.7 90.1h0.8M134.4 104.8h0.8M135.6 100.8h0.8M132.5 108.0h0.8M148.1 98.3h0.8M125.6 81.1h0.8M136.9 104.7h0.8M134.4 90.4h0.8M138.5 108.1h0.8M143.5 102.1h0.8M124.5 79.1h0.8M124.6 109.2h0.8M123.7 101.3h0.8M131.8 89.8h0.8M146.1 78.8h0.8M122.6 108.8h0.8M132.4 83.6h0.8M139.3 99.3h0.8M132.7 98.2h0.8M143.3 101.6h0.8M127.0 80.2h0.8M123.9 109.1h0.8M131.0 74.5h0.8M128.8 100.1h0.8M146.6 83.7h0.8M155.8 73.7h0.8M129.8 84.4h0.8M129.6 78.9h0.8M130.5 104.0h0.8M117.7 81.5h0.8M129.5 101.7h0.8M118.3 88.0h0.8M114.4 84.6h0.8M140.7 94.2h0.8M151.1 96.7h0.8M115.3 99.6h0.8M123.1 90.2h0.8M119.6 79.1h0.8M140.3 98.1h0.8M143.0 76.3h0.8M115.0 79.5h0.8M115.9 101.5h0.8M136.8 79.6h0.8M119.2 88.8h0.8M129.2 70.4h0.8M121.3 99.3h0.8M152.2 84.8h0.8M152.5 104.2h0.8M123.2 89.4h0.8M128.7 77.6h0.8M138.6 82.9h0.8M120.6 89.4h0.8M153.7 107.4h0.8M124.2 87.5h0.8M146.2 98.9h0.8M148.7 80.2h0.8M115.2 85.5h0.8M151.1 76.7h0.8M116.3 85.9h0.8M124.2 93.0h0.8M128.1 93.9h0.8M139.9 91.8h0.8M117.5 80.7h0.8M133.4 92.9h0.8M135.7 92.6h0.8M119.2 90.0h0.8M146.9 110.6h0.8M117.3 87.1h0.8M119.7 91.1h0.8M127.5 82.5h0.8M122.0 78.7h0.8M128.0 86.9h0.8M141.4 85.4h0.8M144.6 81.7h0.8M145.7 99.1h0.8M143.2 73.0h0.8M132.0 98.4h0.8M119.3 90.2h0.8M117.6 81.0h0.8M127.2 92.8h0.8M116.6 90.3h0.8M144.5 64.3h0.8M143.4 85.3h0.8M118.6 99.7h0.8M122.5 90.4h0.8M155.3 72.5h0.8M139.6 99.5h0.8M140.9 85.2h0.8M145.1 93.2h0.8M123.1 82.2h0.8M133.9 89.2h0.8M138.8 101.9h0.8M142.5 92.6h0.8M152.6 107.1h0.8M120.0 86.6h0.8M130.0 81.5h0.8M130.9 92.3h0.8M150.8 94.5h0.8M132.3 96.9h0.8M129.3 108.8h0.8M118.4 88.5h0.8M133.7 91.5h0.8M118.7 83.7h0.8M130.4 79.9h0.8M137.8 68.4h0.8M142.1 103.0h0.8M127.2 93.2h0.8M138.1 87.5h0.8M120.9 108.5h0.8M143.0 108.3h0.8M118.2 97.8h0.8M137.2 103.1h0.8M115.8 98.7h0.8M127.9 94.1h0.8M124.8 98.7h0.8M156.2 82.8h0.8M150.3 81.8h0.8M138.8 97.6h0.8M154.2 76.6h0.8M131.5 101.5h0.8M121.5 100.0h0.8M146.3 87.6h0.8M116.3 109.4h0.8M133.8 86.3h0.8M122.6 74.9h0.8M134.8 104.8h0.8M147.7 94.7h0.8M139.9 81.0h0.8M134.0 100.1h0.8M147.6 86.0h0.8M140.9 79.3h0.8M153.7 108.5h0.8M155.1 77.8h0.8M128.3 94.1h0.8M124.8 68.5h0.8M137.8 86.8h0.8M143.2 98.3h0.8M114.8 93.9h0.8M134.9 102.9h0.8M135.0 105.0h0.8M161.4 73.4h0.8M145.1 95.6h0.8M134.9 98.9h0.8M123.0 110.5h0.8M119.5 99.1h0.8M122.9 79.4h0.8M133.7 84.3h0.8M115.0 90.4h0.8M158.2 102.0h0.8M125.1 89.5h0.8M147.3 97.2h0.8M129.8 87.6h0.8M158.4 93.9h0.8M140.1 96.2h0.8M132.3 89.0h0.8M134.1 86.3h0.8M150.2 107.5h0.8M134.7 88.5h0.8M137.4 95.6h0.8M130.8 73.3h0.8M127.1 96.1h0.8M126.3 106.8h0.8M117.8 91.0h0.8M146.8 94.1h0.8M149.6 94.5h0.8M140.1 87.4h0.8M123.4 99.1h0.8M136.1 90.4h0.8M116.2 95.2h0.8M122.4 70.9h0.8M134.7 81.1h0.8M146.2 82.7h0.8M149.5 88.4h0.8M137.9 104.4h0.8M133.6 88.8h0.8M149.5 78.5h0.8M122.2 97.2h0.8M143.3 86.1h0.8M127.6 100.0h0.8M125.5 76.4h0.8M131.3 91.5h0.8M142.7 70.1h0.8M133.8 102.9h0.8M136.8 90.7h0.8M130.2 90.7h0.8M137.6 98.4h0.8M129.8 95.6h0.8M118.5 109.0h0.8M130.9 97.0h0.8M136.6 84.2h0.8M131.3 94.1h0.8M142.9 96.5h0.8M135.6 91.2h0.8M146.9 77.5h0.8M135.8 95.8h0.8M129.2 74.0h0.8M120.5 76.0h0.8M116.7 97.5h0.8M144.6 96.8h0.8M138.5 81.9h0.8M122.4 85.6h0.8M119.6 88.9h0.8M130.8 105.3h0.8M121.2 76.3h0.8M132.4 95.2h0.8M116.6 109.1h0.8M132.7 90.6h0.8M128.0 92.2h0.8M140.1 87.6h0.8M154.4 69.0h0.8M146.0 99.7h0.8M116.8 89.5h0.8M124.8 79.2h0.8M132.5 105.1h0.8M129.3 107.6h0.8M120.9 86.0h0.8M118.7 87.2h0.8M137.7 84.4h0.8M123.0 105.0h0.8M136.8 105.4h0.8M152.8 77.9h0.8M137.1 101.4h0.8M116.7 111.3h0.8M136.9 78.4h0.8M145.0 90.7h0.8M163.4 69.5h0.8M115.3 76.3h0.8M125.6 91.6h0.8M138.0 85.8h0.8M130.5 107.0h0.8M146.4 92.6h0.8M131.0 102.9h0.8M154.9 73.8h0.8M118.0 91.9h0.8M156.9 75.0h0.8M125.2 87.9h0.8M123.2 93.0h0.8M141.7 100.3h0.8M149.4 94.6h0.8M127.5 86.2h0.8M120.0 84.3h0.8M135.6 97.8h0.8M148.8 90.5h0.8M130.8 73.4h0.8M141.2 111.0h0.8M117.8 76.8h0.8M132.3 82.9h0.8M122.8 74.9h0.8M139.1 111.2h0.8M129.3 90.3h0.8M122.0 79.3h0.8M115.9 90.1h0.8M158.0 82.9h0.8M148.6 73.7h0.8M159.0 80.8h0.8M145.8 101.1h0.8M120.0 82.4h0.8M134.3 98.9h0.8M124.0 110.3h0.8M134.5 98.8h0.8M139.8 90.0h0.8M155.1 87.4h0.8M129.1 96.6h0.8M150.8 94.2h0.8M130.1 92.2h0.8M135.7 107.0h0.8M135.3 98.2h0.8M122.8 108.6h0.8M135.7 103.1h0.8M126.1 101.9h0.8M141.9 92.4h0.8M136.0 100.8h0.8M129.9 104.8h0.8M144.4 88.5h0.8M149.0 91.4h0.8M117.5 86.7h0.8M138.2 85.7h0.8M130.4 97.9h0.8M130.1 84.3h0.8M130.0 99.3h0.8M125.8 93.3h0.8M125.8 100.2h0.8M135.5 94.1h0.8M154.4 80.0h0.8M119.3 87.6h0.8M133.8 99.9h0.8M132.3 98.3h0.8M131.8 79.3h0.8M157.2 103.4h0.8M131.6 109.8h0.8M115.7 90.5h0.8M140.2 99.0h0.8M147.5 99.1h0.8M117.4 100.6h0.8M119.1 90.6h0.8M133.8 87.4h0.8M130.6 95.7h0.8M138.1 95.7h0.8M115.8 86.2h0.8M124.9 96.0h0.8M127.5 95.5h0.8M119.6 74.3h0.8M132.3 79.4h0.8M116.4 105.1h0.8M137.2 98.9h0.8M122.5 96.3h0.8M140.3 76.7h0.8M149.2 105.1h0.8M118.8 84.6h0.8M131.4 95.3h0.8M115.7 83.2h0.8M145.7 88.0h0.8M144.1 89.8h0.8M115.0 95.5h0.8M120.1 89.3h0.8M120.4 100.0h0.8M144.5 81.9h0.8M157.4 90.2h0.8M121.7 90.8h0.8M141.0 101.0h0.8M118.1 73.4h0.8M120.7 87.6h0.8M121.0 108.2h0.8M130.8 86.5h0.8M150.3 80.7h0.8M143.8 106.1h0.8M117.5 81.8h0.8M140.0 92.9h0.8M138.8 96.4h0.8M146.7 85.9h0.8M139.1 103.3h0.8M147.5 73.3h0.8M131.6 90.2h0.8M146.0 99.2h0.8M122.0 86.5h0.8M125.2 101.1h0.8M137.2 103.2h0.8M119.5 89.1h0.8M123.7 85.7h0.8M139.4 81.8h0.8M126.5 104.7h0.8M139.4 63.5h0.8M145.8 94.8h0.8M132.6 101.7h0.8M118.5 92.0h0.8M139.8 103.5h0.8M153.3 87.5h0.8M127.9 91.6h0.8M114.2 95.7h0.8M127.0 87.4h0.8M120.8 83.7h0.8M121.0 79.1h0.8M117.9 100.5h0.8M129.5 104.2h0.8M129.7 85.2h0.8M121.5 97.2h0.8M121.4 83.0h0.8M117.3 111.1h0.8M152.1 80.2h0.8M156.1 80.8h0.8M125.8 88.9h0.8M123.8 100.4h0.8M137.2 72.1h0.8M117.9 89.0h0.8M122.0 105.2h0.8M131.1 92.8h0.8M151.1 111.4h0.8M126.2 97.4h0.8M139.3 100.0h0.8M147.7 80.6h0.8M114.9 80.6h0.8M134.6 105.9h0.8M133.9 107.4h0.8M142.0 93.8h0.8M115.6 98.4h0.8M132.2 93.7h0.8M131.1 90.9h0.8M123.6 103.6h0.8M118.3 89.1h0.8M119.5 93.5h0.8M117.7 67.8h0.8M139.4 88.5h0.8M147.5 87.3h0.8M148.7 102.8h0.8M140.6 101.8h0.8M133.4 85.7h0.8M155.5 73.6h0.8M133.9 75.4h0.8M125.4 105.7h0.8M121.4 89.7h0.8M115.9 82.4h0.8M127.5 89.8h0.8M123.1 82.0h0.8M132.6 108.0h0.8M148.4 84.2h0.8M114.6 86.4h0.8M126.9 96.9h0.8M126.6 80.7h0.8M119.6 87.3h0.8M129.5 93.4h0.8M127.1 70.8h0.8M125.5 86.6h0.8M142.5 83.5h0.8M131.3 96.1h0.8M122.8 100.6h0.8M159.0 96.0h0.8M116.5 94.0h0.8M130.4 70.4h0.8M149.9 85.7h0.8M154.2 88.7h0.8M141.3 79.9h0.8M131.9 92.6h0.8M131.2 91.7h0.8M126.5 87.5h0.8M157.5 97.8h0.8M130.9 89.5h0.8M120.6 79.8h0.8M133.0 106.6h0.8M117.8 80.5h0.8M138.4 91.4h0.8M151.1 98.0h0.8M127.8 79.7h0.8M144.0 102.6h0.8M136.3 67.6h0.8M132.6 76.1h0.8M124.3 99.1h0.8M134.1 99.3h0.8M159.2 81.6h0.8M153.0 75.8h0.8M128.8 86.4h0.8M117.5 99.6h0.8M160.8 94.8h0.8M120.8 87.2h0.8M129.9 81.2h0.8M124.0 75.8h0.8M121.7 96.2h0.8M120.2 89.0h0.8M134.4 89.4h0.8M134.5 90.9h0.8M155.6 102.6h0.8M160.3 85.4h0.8M136.1 90.8h0.8M143.9 86.1h0.8M122.5 96.5h0.8M114.7 96.8h0.8M157.9 83.1h0.8M132.6 89.8h0.8M137.5 97.4h0.8M141.3 92.6h0.8M129.8 95.0h0.8M121.1 100.4h0.8M135.5 105.8h0.8M148.3 105.9h0.8M124.2 73.9h0.8M163.4 90.8h0.8M145.1 81.1h0.8M114.8 104.1h0.8M114.3 97.6h0.8M154.1 77.5h0.8M127.9 99.3h0.8M124.4 93.9h0.8M134.0 80.6h0.8M118.8 89.0h0.8M132.4 77.9h0.8M116.7 85.7h0.8M125.7 88.4h0.8M150.7 81.0h0.8M138.1 104.8h0.8M130.7 90.1h0.8M139.4 71.5h0.8M140.3 82.6h0.8M126.3 86.7h0.8M138.9 69.4h0.8M142.6 99.6h0.8M136.2 83.1h0.8M126.5 77.4h0.8M145.7 83.0h0.8M137.9 88.7h0.8M150.8 74.5h0.8M138.9 96.3h0.8M118.8 98.5h0.8M123.0 103.8h0.8M121.0 91.9h0.8M122.9 90.8h0.8M145.5 80.4h0.8M133.5 79.3h0.8M145.9 97.2h0.8M121.0 97.0h0.8M142.5 87.5h0.8M146.2 85.4h0.8M122.6 88.0h0.8M125.9 103.1h0.8M124.1 77.9h0.8M128.7 92.2h0.8M138.4 95.0h0.8M128.3 91.0h0.8M131.2 87.8h0.8M119.6 96.0h0.8M151.2 100.6h0.8M146.0 91.5h0.8M118.5 99.0h0.8M130.0 87.2h0.8M125.3 98.0h0.8M130.8 95.7h0.8M115.5 101.2h0.8M118.3 94.7h0.8M153.1 91.6h0.8M121.2 82.6h0.8M128.8 80.7h0.8M124.3 95.0h0.8M126.2 88.1h0.8M124.8 95.8h0.8M143.7 69.6h0.8M115.0 82.5h0.8M120.0 86.6h0.8M137.5 98.1h0.8M123.0 95.1h0.8M149.6 77.6h0.8M120.0 110.4h0.8M159.3 91.7h0.8M122.3 105.4h0.8M129.3 100.2h0.8M119.2 89.8h0.8M119.7 100.9h0.8M119.1 97.0h0.8M126.6 105.7h0.8M131.0 96.0h0.8M140.5 86.0h0.8M140.3 100.9h0.8M140.5 105.4h0.8M125.7 83.3h0.8M126.6 91.2h0.8M151.9 78.8h0.8M144.5 99.3h0.8M132.9 95.4h0.8M121.7 75.0h0.8M121.4 110.0h0.8M127.3 87.3h0.8M127.9 95.9h0.8M129.6 101.0h0.8M120.5 107.7h0.8M124.0 100.2h0.8M138.3 78.1h0.8M158.8 95.8h0.8M147.5 99.9h0.8M123.5 110.1h0.8M139.8 93.6h0.8M141.9 76.8h0.8M122.5 83.1h0.8M115.3 78.9h0.8M117.6 91.7h0.8M124.0 99.3h0.8M130.6 99.5h0.8M131.7 92.5h0.8M124.7 82.0h0.8M159.8 88.1h0.8M128.9 108.6h0.8M127.8 93.9h0.8M146.6 92.6h0.8M138.5 91.3h0.8M129.0 88.5h0.8M151.1 87.4h0.8M127.9 85.6h0.8M125.3 90.0h0.8M123.9 98.2h0.8M123.5 84.7h0.8M131.8 91.0h0.8M120.1 90.8h0.8M118.9 98.5h0.8M141.9 86.3h0.8M125.1 86.1h0.8M124.4 95.7h0.8M131.6 101.3h0.8M139.7 85.7h0.8M135.8 97.8h0.8M134.2 91.3h0.8M126.2 72.1h0.8M128.5 95.5h0.8M148.8 90.8h0.8M143.8 87.7h0.8M138.2 97.8h0.8M130.8 84.2h0.8M118.2 91.2h0.8M118.5 91.5h0.8M143.7 91.0h0.8M135.9 94.8h0.8M142.2 101.7h0.8M154.3 86.9h0.8M151.2 91.3h0.8M131.1 70.9h0.8M121.5 89.1h0.8M134.5 103.7h0.8M129.3 104.2h0.8M128.9 93.6h0.8M141.1 105.1h0.8M127.0 89.0h0.8M142.9 73.8h0.8M136.0 81.3h0.8M125.5 98.8h0.8M122.7 104.5h0.8M124.2 80.2h0.8M143.0 100.1h0.8M127.7 83.1h0.8M150.3 83.9h0.8M130.9 84.4h0.8M136.4 107.1h0.8M142.8 105.3h0.8M117.3 97.0h0.8M114.2 84.5h0.8M117.8 74.9h0.8M130.4 97.6h0.8M133.2 95.6h0.8M143.2 91.5h0.8M128.5 71.4h0.8M119.9 92.8h0.8M127.1 74.2h0.8M146.1 79.4h0.8M130.9 86.7h0.8M133.6 96.6h0.8M158.5 87.9h0.8M139.7 98.6h0.8M120.6 108.8h0.8M150.2 102.5h0.8M143.0 97.1h0.8M116.0 99.9h0.8M117.5 97.9h0.8M139.8 85.0h0.8M125.9 82.8h0.8M124.6 89.0h0.8M119.9 87.4h0.8M124.9 82.0h0.8M130.3 87.8h0.8M121.1 73.5h0.8M119.9 92.6h0.8M137.9 78.3h0.8M133.5 80.8h0.8M135.7 91.7h0.8M128.5 89.0h0.8M154.6 88.1h0.8M125.8 85.5h0.8M157.4 96.2h0.8M153.2 89.8h0.8M147.5 80.4h0.8M145.3 109.9h0.8M138.6 64.8h0.8M129.4 88.7h0.8M125.7 96.9h0.8M132.8 83.9h0.8M134.5 85.7h0.8M123.1 87.0h0.8M137.3 100.8h0.8M129.8 108.8h0.8M130.8 73.3h0.8M117.3 88.2h0.8M125.2 93.2h0.8M117.3 94.4h0.8M138.9 92.6h0.8M144.5 93.8h0.8M122.9 82.7h0.8M116.8 100.7h0.8M124.7 100.2h0.8M139.9 97.6h0.8M147.2 88.9h0.8M123.2 89.7h0.8M120.9 100.5h0.8M129.0 93.8h0.8M136.6 107.3h0.8M140.9 109.6h0.8M115.2 101.3h0.8M135.4 73.7h0.8M127.6 89.7h0.8M117.3 93.2h0.8M124.7 92.5h0.8M122.9 83.2h0.8M151.6 108.4h0.8M123.8 106.2h0.8M151.9 89.0h0.8M148.1 94.3h0.8M143.4 82.7h0.8M142.2 93.0h0.8M127.6 104.3h0.8M126.2 93.4h0.8M157.3 71.8h0.8M139.8 83.1h0.8M123.6 106.4h0.8M122.9 89.0h0.8M127.1 85.6h0.8M136.2 79.3h0.8M135.3 71.5h0.8M125.8 71.1h0.8M128.6 80.8h0.8M129.6 83.1h0.8M137.6 83.2h0.8M129.1 97.2h0.8M126.1 72.8h0.8M121.5 89.5h0.8M116.4 72.8h0.8M119.1 84.1h0.8M134.0 109.6h0.8M153.5 71.9h0.8M125.7 97.6h0.8M114.6 83.3h0.8M124.6 107.0h0.8M114.6 84.9h0.8M122.1 95.8h0.8M123.1 87.3h0.8M138.1 78.1h0.8M124.4 82.5h0.8M123.0 95.4h0.8M128.5 71.7h0.8M136.1 85.4h0.8M115.4 97.0h0.8M145.1 90.8h0.8M120.4 82.7h0.8M126.5 95.1h0.8M129.4 99.3h0.8M132.6 100.2h0.8M124.2 93.5h0.8M121.7 98.1h0.8M121.1 76.9h0.8M123.6 101.9h0.8M117.3 85.5h0.8M114.8 87.6h0.8M142.6 78.5h0.8M161.9 93.2h0.8M145.2 99.2h0.8M141.3 69.9h0.8M133.3 103.3h0.8M153.7 95.8h0.8M125.4 96.4h0.8M135.6 88.6h0.8M148.7 79.1h0.8M128.3 81.7h0.8M140.2 87.0h0.8M160.9 59.7h0.8M117.7 95.8h0.8M158.4 91.0h0.8M153.1 79.5h0.8M142.3 96.1h0.8M152.8 70.4h0.8M158.7 84.3h0.8M128.9 90.4h0.8M136.0 87.5h0.8M160.0 78.2h0.8M159.8 96.7h0.8M145.2 87.6h0.8M132.1 75.7h0.8M114.5 75.6h0.8M129.4 108.5h0.8M129.2 99.6h0.8M117.3 85.1h0.8M127.4 83.8h0.8M121.8 109.8h0.8M130.0 78.3h0.8M121.0 104.1h0.8M147.7 101.1h0.8M129.6 90.3h0.8M133.8 70.8h0.8M121.6 96.3h0.8M124.8 83.9h0.8M120.9 93.4h0.8M128.4 91.1h0.8M122.3 81.0h0.8M127.0 87.4h0.8M150.3 97.2h0.8M162.8 74.1h0.8M147.9 90.3h0.8M132.1 92.6h0.8M143.2 107.1h0.8M143.0 103.1h0.8M156.8 95.0h0.8M119.9 95.3h0.8M157.6 86.8h0.8M137.7 96.4h0.8M129.4 89.6h0.8M156.5 90.5h0.8M137.2 84.5h0.8M144.3 105.4h0.8M155.3 92.0h0.8M125.4 90.9h0.8M125.4 80.1h0.8M117.7 93.3h0.8M136.7 88.7h0.8M117.2 103.6h0.8M133.6 74.7h0.8M131.7 83.4h0.8M136.6 76.4h0.8M116.7 86.0h0.8M159.6 71.6h0.8M156.9 90.3h0.8M145.8 88.0h0.8M141.4 88.1h0.8M140.7 87.8h0.8M146.1 82.5h0.8M127.5 89.5h0.8M130.5 73.3h0.8M122.7 91.3h0.8M135.5 98.6h0.8M116.4 98.1h0.8M141.6 89.4h0.8M129.6 90.9h0.8M150.1 84.1h0.8M114.8 78.8h0.8M131.5 86.0h0.8M149.6 73.1h0.8M146.9 92.6h0.8M127.5 96.6h0.8M116.6 85.6h0.8M129.8 90.3h0.8M159.3 77.4h0.8M150.7 103.8h0.8M130.3 87.2h0.8M142.2 75.1h0.8M125.7 100.6h0.8M139.4 82.6h0.8M114.5 86.8h0.8M156.9 83.0h0.8M128.2 107.4h0.8M148.2 99.6h0.8M139.1 106.1h0.8M153.5 100.1h0.8M118.6 91.9h0.8M118.9 94.3h0.8M121.6 98.6h0.8M143.3 102.2h0.8M122.0 85.4h0.8M134.6 90.3h0.8M126.5 89.0h0.8M128.2 75.3h0.8M118.2 86.7h0.8M130.0 92.8h0.8M133.1 80.5h0.8M128.6 105.3h0.8M115.5 92.3h0.8M117.9 101.7h0.8M140.0 93.0h0.8M148.8 80.1h0.8M156.0 92.8h0.8M140.7 104.4h0.8M136.4 89.9h0.8M128.9 108.0h0.8M116.2 74.9h0.8M121.5 95.3h0.8M147.6 62.2h0.8M114.5 105.0h0.8M125.4 93.7h0.8M130.1 107.4h0.8M117.5 95.7h0.8M121.2 75.0h0.8M141.9 78.4h0.8M128.7 78.8h0.8M129.7 107.5h0.8M151.1 95.0h0.8M120.4 89.0h0.8M147.8 88.2h0.8M140.5 93.9h0.8M125.2 83.5h0.8M121.5 102.6h0.8M123.4 85.9h0.8M125.0 102.5h0.8M133.4 103.6h0.8M118.9 109.9h0.8M158.5 70.3h0.8M121.3 88.0h0.8M125.1 101.2h0.8M135.5 85.8h0.8M127.5 73.5h0.8M129.9 77.8h0.8M125.9 100.4h0.8M131.1 100.3h0.8M126.2 106.5h0.8M147.4 85.3h0.8M117.1 110.2h0.8M129.9 73.7h0.8M115.0 108.0h0.8M114.9 90.5h0.8M121.3 83.0h0.8M142.6 89.4h0.8M155.6 76.5h0.8M146.8 78.9h0.8M130.7 83.7h0.8M122.1 91.4h0.8M131.4 102.3h0.8M119.5 83.9h0.8M119.4 109.6h0.8M116.1 99.5h0.8M116.0 101.0h0.8M147.4 97.5h0.8M123.6 88.8h0.8M149.2 98.9h0.8M119.0 99.8h0.8M127.2 85.3h0.8M127.2 110.8h0.8M136.4 95.4h0.8M162.5 90.6h0.8M139.6 71.5h0.8M126.1 89.8h0.8M116.4 90.0h0.8M154.7 75.8h0.8M145.8 97.1h0.8M130.0 91.3h0.8M141.3 85.3h0.8M133.7 76.3h0.8M131.8 92.5h0.8M115.6 73.5h0.8M153.5 94.2h0.8M130.2 73.5h0.8M135.1 74.3h0.8M127.1 108.8h0.8M129.0 93.3h0.8M141.0 99.5h0.8M146.2 98.2h0.8M160.9 92.0h0.8M132.5 91.7h0.8M114.5 92.9h0.8M116.4 90.7h0.8M133.7 99.3h0.8M138.5 91.7h0.8M128.4 98.6h0.8M131.3 83.8h0.8M163.3 65.7h0.8M117.0 88.7h0.8M146.4 108.9h0.8M143.6 107.6h0.8M122.4 91.8h0.8M120.5 89.1h0.8M130.2 81.0h0.8M124.3 102.3h0.8M139.0 84.5h0.8M153.6 105.2h0.8M122.7 101.3h0.8M121.8 76.9h0.8M127.5 89.4h0.8M122.3 88.5h0.8M117.1 98.7h0.8M153.5 101.8h0.8M151.8 102.8h0.8M127.4 87.9h0.8M130.6 73.0h0.8M143.7 83.1h0.8M149.6 89.2h0.8M139.1 82.3h0.8M121.8 89.9h0.8M138.0 71.7h0.8M119.2 83.0h0.8M136.4 81.9h0.8M137.3 104.9h0.8M117.6 91.4h0.8M138.4 90.0h0.8M115.8 94.6h0.8M121.5 107.2h0.8M127.5 82.0h0.8M160.3 92.9h0.8M118.8 99.6h0.8M127.8 100.3h0.8M125.8 105.8h0.8M132.7 96.6h0.8M122.2 104.4h0.8M115.7 103.7h0.8M132.9 80.4h0.8M129.1 80.9h0.8M133.3 92.6h0.8M129.1 86.8h0.8M148.8 89.3h0.8M144.0 88.8h0.8M147.8 93.7h0.8M124.8 98.6h0.8M118.4 89.7h0.8M141.2 83.2h0.8M122.4 88.1h0.8M157.0 88.7h0.8M141.0 103.5h0.8M126.1 71.2h0.8M138.4 110.7h0.8M136.5 88.2h0.8M142.4 74.2h0.8M123.4 97.0h0.8M118.1 88.3h0.8M126.6 96.8h0.8M153.7 84.8h0.8M115.7 96.4h0.8M163.5 75.4h0.8M131.1 100.0h0.8M134.5 94.3h0.8M127.6 85.9h0.8M139.1 88.0h0.8M154.1 83.9h0.8M144.7 74.9h0.8M125.3 91.9h0.8M120.5 80.3h0.8M151.2 99.8h0.8M147.2 101.0h0.8M122.4 104.9h0.8M145.2 78.2h0.8M147.0 97.4h0.8M124.8 107.9h0.8M128.6 85.7h0.8M119.5 82.2h0.8M157.3 95.6h0.8M133.3 72.7h0.8M132.0 87.2h0.8M117.7 89.8h0.8M116.3 83.9h0.8M128.6 89.1h0.8M126.5 85.9h0.8M140.2 101.9h0.8M133.6 92.9h0.8M122.2 88.3h0.8M137.6 95.4h0.8M124.8 86.6h0.8M135.2 103.8h0.8M122.5 73.2h0.8M150.6 100.1h0.8M121.6 84.3h0.8M132.6 90.2h0.8M121.9 102.6h0.8M150.0 86.8h0.8M130.6 99.1h0.8M132.9 81.9h0.8M130.5 100.1h0.8M136.5 107.2h0.8M135.3 99.4h0.8M143.5 87.3h0.8M158.0 90.1h0.8M129.4 88.1h0.8M124.0 93.8h0.8M141.8 95.6h0.8M115.3 87.0h0.8M135.3 88.2h0.8M115.5 79.9h0.8M132.6 90.8h0.8M134.4 104.2h0.8M155.5 87.4h0.8M132.2 68.5h0.8M132.4 98.8h0.8M130.1 90.0h0.8M144.1 101.2h0.8M120.9 70.5h0.8M152.1 79.2h0.8M159.9 97.6h0.8M114.3 67.7h0.8M154.0 66.9h0.8M120.1 87.7h0.8M150.7 84.7h0.8M128.7 84.9h0.8M130.1 85.7h0.8M116.0 107.0h0.8M134.6 88.1h0.8M120.8 81.4h0.8M131.0 96.7h0.8M134.5 83.7h0.8M116.4 91.3h0.8M129.3 83.5h0.8M134.9 97.7h0.8M151.2 85.7h0.8M129.0 84.2h0.8M122.0 110.0h0.8M137.4 84.5h0.8M152.2 80.6h0.8M124.7 84.7h0.8M136.9 102.8h0.8M160.6 95.2h0.8M118.7 97.5h0.8M130.0 111.3h0.8M122.8 88.7h0.8M115.7 73.6h0.8M160.7 98.5h0.8M118.0 95.2h0.8M115.0 100.0h0.8M118.0 99.4h0.8M123.3 84.9h0.8M137.0 98.3h0.8M143.5 104.3h0.8M140.4 85.2h0.8M133.5 99.2h0.8M155.2 88.2h0.8M114.7 107.5h0.8M134.3 89.5h0.8M136.3 91.6h0.8M114.8 78.5h0.8M120.5 97.0h0.8M127.0 94.9h0.8M130.3 86.9h0.8M142.2 89.1h0.8M121.0 84.7h0.8M156.7 100.2h0.8M127.5 100.6h0.8M137.9 84.8h0.8M120.7 92.9h0.8M132.0 80.0h0.8M131.1 73.7h0.8M127.5 102.1h0.8M128.2 79.2h0.8M134.2 103.8h0.8M128.1 78.8h0.8M130.6 84.5h0.8M152.8 103.4h0.8M160.5 93.3h0.8M130.5 86.7h0.8M122.5 73.3h0.8M132.1 89.5h0.8M134.6 108.7h0.8M149.4 97.0h0.8M143.1 86.7h0.8M120.3 91.0h0.8M125.7 103.1h0.8M119.2 90.9h0.8M136.6 102.3h0.8M126.4 94.3h0.8M137.6 77.0h0.8M142.6 78.5h0.8M123.8 88.8h0.8M117.6 94.1h0.8M116.1 88.1h0.8M127.6 102.2h0.8M138.0 92.2h0.8M131.2 82.8h0.8M119.4 91.1h0.8M135.6 88.3h0.8M139.7 96.2h0.8M122.7 103.0h0.8M154.1 96.5h0.8M138.7 94.1h0.8M139.5 77.3h0.8M120.7 86.8h0.8M162.2 92.9h0.8M116.3 85.5h0.8M154.3 95.7h0.8M137.6 74.8h0.8M139.8 89.3h0.8M119.6 98.7h0.8M115.0 104.6h0.8M132.1 88.8h0.8M148.1 77.1h0.8M136.5 63.6h0.8M124.9 98.9h0.8M126.5 84.2h0.8M130.9 83.8h0.8M122.8 86.4h0.8M138.5 99.2h0.8M115.4 68.6h0.8M114.4 90.6h0.8M122.7 87.4h0.8M133.9 70.1h0.8M139.5 85.1h0.8M132.5 97.8h0.8M122.4 79.4h0.8M116.6 106.3h0.8M129.2 102.3h0.8M123.4 102.2h0.8M116.6 97.4h0.8M142.6 89.0h0.8M119.6 96.0h0.8M115.4 85.5h0.8M129.9 95.4h0.8M150.7 65.9h0.8M115.2 95.6h0.8M115.5 91.1h0.8M142.2 87.7h0.8M125.2 91.5h0.8M116.5 102.9h0.8M133.6 95.3h0.8M125.4 87.6h0.8M130.5 102.7h0.8M114.6 81.7h0.8M117.5 82.7h0.8M118.5 103.8h0.8M126.4 89.9h0.8M127.6 86.0h0.8M140.5 86.4h0.8M128.4 98.8h0.8M136.1 78.3h0.8M132.2 81.0h0.8M143.4 95.1h0.8M148.7 101.4h0.8M135.9 87.6h0.8M118.4 98.1h0.8M123.3 105.1h0.8M126.3 89.6h0.8M160.2 93.2h0.8M144.1 105.0h0.8M118.5 95.5h0.8M146.5 90.0h0.8M116.3 77.9h0.8M123.2 88.5h0.8M145.3 94.9h0.8M134.9 87.1h0.8M134.2 93.0h0.8M121.5 90.3h0.8M120.3 103.0h0.8M148.0 102.0h0.8M117.1 89.2h0.8M149.4 101.7h0.8M135.6 104.0h0.8M139.5 75.8h0.8M116.8 96.2h0.8M147.5 86.5h0.8M143.3 87.0h0.8M124.2 106.2h0.8M125.3 92.1h0.8M118.6 81.2h0.8M138.0 106.3h0.8M125.6 77.3h0.8M129.7 86.0h0.8M130.9 95.7h0.8M128.8 102.3h0.8M141.5 81.8h0.8M136.4 81.4h0.8M127.3 99.1h0.8M159.4 76.6h0.8M132.6 77.1h0.8M133.2 84.2h0.8M147.0 78.9h0.8M119.1 68.8h0.8M151.1 80.0h0.8M114.6 98.3h0.8M154.5 79.1h0.8M146.1 84.4h0.8M139.6 96.8h0.8M118.0 89.2h0.8M133.7 74.2h0.8M138.2 87.3h0.8M147.3 88.1h0.8M158.1 87.2h0.8M124.6 106.2h0.8M137.4 107.4h0.8M132.5 101.6h0.8M152.3 88.9h0.8M149.6 87.3h0.8M138.2 91.3h0.8M152.7 85.2h0.8M132.2 65.4h0.8M136.8 81.1h0.8M117.0 98.5h0.8M135.4 82.8h0.8M125.9 99.0h0.8M121.5 94.8h0.8M152.4 104.4h0.8M128.4 100.4h0.8M126.2 82.9h0.8M123.0 91.5h0.8M136.3 102.3h0.8M129.8 84.9h0.8M134.7 92.1h0.8M120.3 101.4h0.8M130.7 85.4h0.8M158.4 95.5h0.8M143.8 107.7h0.8M162.8 73.3h0.8M139.5 73.9h0.8M137.7 82.4h0.8M116.9 93.9h0.8M139.7 72.7h0.8M124.2 93.6h0.8M151.5 90.0h0.8M140.5 89.8h0.8M158.4 101.6h0.8M150.5 89.3h0.8M138.2 82.7h0.8M133.7 94.2h0.8M130.1 72.7h0.8M119.1 94.3h0.8M142.6 103.9h0.8M116.8 76.4h0.8M123.9 106.6h0.8M141.4 103.5h0.8M128.7 83.4h0.8M147.4 97.1h0.8M148.9 109.3h0.8M138.1 97.9h0.8M141.2 107.1h0.8M142.3 98.7h0.8M127.8 106.9h0.8M127.6 102.7h0.8M159.3 82.3h0.8M147.4 72.5h0.8M135.4 98.5h0.8M120.3 89.7h0.8M153.4 100.6h0.8M146.9 109.9h0.8M135.0 83.5h0.8M155.6 98.4h0.8M132.9 90.2h0.8M129.8 97.5h0.8M119.6 84.2h0.8M150.9 87.8h0.8M143.2 74.5h0.8M145.4 87.2h0.8M125.5 91.4h0.8M160.7 82.9h0.8M124.7 93.5h0.8M155.9 82.1h0.8M128.0 86.6h0.8M122.7 99.8h0.8M118.1 102.8h0.8M153.0 83.0h0.8M147.6 93.9h0.8M120.8 103.9h0.8M147.8 79.0h0.8M153.0 85.5h0.8M114.8 86.8h0.8M158.5 93.3h0.8M141.6 90.9h0.8M125.0 101.1h0.8M132.7 89.6h0.8M122.3 99.1h0.8M124.8 86.4h0.8M147.2 75.2h0.8M150.5 91.2h0.8M130.9 101.0h0.8M125.5 99.0h0.8M145.7 91.8h0.8M127.7 76.2h0.8M129.2 110.9h0.8M123.1 81.6h0.8M116.8 81.8h0.8M122.8 93.1h0.8M162.5 93.8h0.8M114.7 108.6h0.8M122.5 91.4h0.8M119.3 99.3h0.8M119.5 83.8h0.8M134.7 93.4h0.8M122.1 88.2h0.8M123.8 82.3h0.8M114.8 79.1h0.8M145.7 100.3h0.8M121.2 101.9h0.8M138.9 103.3h0.8M119.4 103.0h0.8M118.8 82.3h0.8M135.8 86.6h0.8M136.9 79.0h0.8M132.1 74.5h0.8M126.0 92.7h0.8M119.1 76.6h0.8M133.8 89.3h0.8M119.0 89.8h0.8M133.7 95.9h0.8M127.4 109.7h0.8M130.4 76.8h0.8M126.2 70.9h0.8M157.4 80.0h0.8M116.6 92.5h0.8M135.4 100.3h0.8M155.3 85.5h0.8M151.6 92.9h0.8M126.1 106.1h0.8M121.2 99.4h0.8M139.5 85.4h0.8M124.1 101.0h0.8M137.9 80.4h0.8M125.6 85.2h0.8M123.1 92.8h0.8M146.0 83.3h0.8M144.6 98.4h0.8M115.9 87.4h0.8M134.6 93.2h0.8M145.6 97.4h0.8M115.2 93.7h0.8M128.2 97.4h0.8M124.5 83.2h0.8M120.8 89.2h0.8M120.3 81.9h0.8M119.5 74.5h0.8M152.7 89.6h0.8M124.0 97.4h0.8M122.6 89.3h0.8M133.5 103.9h0.8M118.3 86.8h0.8M133.0 80.2h0.8M123.1 89.3h0.8M122.7 92.1h0.8M130.8 87.6h0.8M119.8 94.2h0.8M139.2 90.3h0.8M115.6 83.1h0.8M125.6 102.5h0.8M142.3 109.5h0.8M121.6 94.2h0.8M125.0 80.6h0.8M117.6 93.4h0.8M120.2 93.1h0.8M118.9 85.5h0.8M150.0 92.3h0.8M121.6 94.9h0.8M117.7 79.0h0.8M117.3 103.3h0.8M153.1 76.7h0.8M130.8 80.6h0.8M123.8 81.5h0.8M116.5 93.7h0.8M144.3 71.9h0.8M125.1 101.1h0.8M119.5 88.7h0.8M114.5 97.0h0.8M126.7 105.2h0.8M136.0 80.9h0.8M137.9 72.2h0.8M129.2 93.3h0.8M115.2 80.7h0.8M133.5 76.0h0.8M126.7 102.7h0.8M139.4 101.2h0.8M129.2 93.7h0.8M152.6 67.8h0.8M139.5 82.1h0.8M137.4 86.9h0.8M135.3 83.2h0.8M130.5 89.7h0.8M152.1 106.1h0.8M139.6 94.8h0.8M127.1 70.1h0.8M133.4 83.3h0.8M132.3 109.2h0.8M158.5 93.6h0.8M141.8 104.8h0.8M158.3 73.1h0.8M142.7 90.1h0.8M123.5 99.5h0.8M133.4 71.8h0.8M124.0 71.6h0.8M114.3 91.6h0.8M140.5 74.5h0.8M140.6 62.9h0.8M136.5 87.7h0.8M148.3 99.2h0.8M133.8 86.9h0.8M143.8 92.3h0.8M117.4 82.9h0.8M126.2 102.7h0.8M132.2 104.0h0.8M132.8 109.0h0.8M161.6 67.4h0.8M157.1 69.4h0.8M143.9 79.5h0.8M151.6 82.6h0.8M152.3 86.9h0.8M137.9 74.1h0.8M138.9 77.6h0.8M140.8 77.2h0.8M146.1 83.5h0.8M145.1 86.5h0.8M140.3 82.9h0.8M145.3 88.2h0.8M142.2 73.9h0.8M144.1 79.5h0.8M152.9 74.6h0.8M153.0 65.7h0.8M145.9 83.4h0.8M156.6 71.1h0.8M142.5 74.3h0.8M144.4 68.5h0.8M146.1 76.4h0.8M161.2 74.2h0.8M159.5 72.9h0.8M147.4 90.7h0.8M148.7 78.8h0.8M153.7 81.2h0.8M142.2 67.9h0.8M147.5 75.9h0.8M146.0 70.3h0.8M145.9 74.0h0.8M145.0 81.5h0.8M143.4 85.7h0.8M140.9 68.0h0.8M145.8 82.6h0.8M145.9 71.2h0.8M138.5 80.0h0.8M146.6 81.9h0.8M135.6 91.0h0.8M151.5 73.0h0.8M152.5 80.7h0.8M152.1 62.3h0.8M157.0 86.7h0.8M159.5 60.9h0.8M141.2 91.8h0.8M154.9 80.9h0.8M144.8 92.7h0.8M150.7 65.2h0.8M143.3 76.5h0.8M147.7 75.3h0.8M141.2 81.5h0.8M143.1 74.0h0.8M154.8 71.7h0.8M137.6 81.2h0.8M149.6 68.7h0.8M158.6 82.1h0.8M160.3 83.8h0.8M166.2 72.6h0.8M153.6 65.4h0.8M160.5 62.9h0.8M146.9 71.1h0.8M153.2 77.1h0.8M159.7 80.0h0.8M144.2 83.4h0.8M158.9 61.3h0.8M150.9 75.5h0.8M157.7 70.8h0.8M151.4 69.9h0.8M136.9 76.7h0.8M147.5 63.8h0.8M164.9 81.0h0.8M163.7 76.7h0.8M139.6 74.7h0.8M152.2 90.1h0.8M150.2 69.4h0.8M157.3 69.7h0.8M153.5 69.9h0.8M145.9 81.5h0.8M154.1 75.6h0.8M155.3 82.6h0.8M146.0 77.7h0.8M159.6 66.6h0.8M143.4 77.4h0.8M134.5 90.5h0.8M141.4 83.5h0.8M156.9 69.5h0.8M151.6 72.8h0.8M148.8 72.1h0.8M149.3 79.8h0.8M162.2 59.5h0.8M152.3 65.4h0.8M157.2 80.2h0.8M160.1 64.4h0.8M159.9 69.0h0.8M162.3 73.7h0.8M149.3 75.6h0.8M148.4 77.0h0.8M161.0 77.1h0.8M150.5 68.2h0.8M153.3 80.5h0.8M151.2 86.4h0.8M147.2 95.6h0.8M155.6 74.7h0.8M143.6 71.5h0.8M156.7 77.9h0.8M147.0 92.0h0.8M150.5 88.0h0.8M146.0 69.3h0.8M159.3 75.8h0.8M154.4 78.4h0.8M154.2 72.1h0.8M154.3 73.1h0.8M151.8 75.8h0.8M158.8 57.5h0.8M148.8 84.2h0.8M143.7 88.3h0.8M146.8 86.1h0.8M146.1 71.6h0.8M157.5 82.7h0.8M149.4 75.5h0.8M135.7 87.6h0.8M139.8 72.2h0.8M155.1 73.3h0.8M146.2 80.2h0.8M158.3 66.3h0.8M158.0 64.3h0.8M143.1 89.7h0.8M148.6 86.5h0.8M140.1 68.6h0.8M150.2 90.3h0.8M139.0 76.4h0.8M157.9 79.2h0.8M159.2 79.5h0.8M151.9 67.2h0.8M139.6 84.3h0.8M156.5 62.8h0.8M148.2 78.9h0.8M147.3 71.4h0.8M146.5 65.1h0.8M151.6 73.1h0.8M142.5 79.3h0.8M146.4 82.7h0.8M154.2 66.3h0.8M146.0 76.0h0.8M139.2 75.4h0.8M155.0 79.7h0.8M148.7 87.2h0.8M135.8 93.3h0.8M162.8 74.7h0.8M156.8 68.2h0.8M141.9 87.2h0.8M147.7 82.8h0.8M159.6 66.3h0.8M140.9 79.1h0.8M153.5 61.2h0.8M148.4 83.7h0.8M147.5 78.3h0.8M146.3 79.2h0.8M146.2 70.6h0.8M147.2 82.2h0.8M149.8 82.2h0.8M156.4 67.5h0.8M143.1 76.1h0.8M160.1 69.2h0.8M155.6 85.4h0.8M149.5 70.2h0.8M134.0 89.4h0.8M151.9 60.4h0.8M145.2 74.8h0.8M143.7 68.9h0.8M151.4 77.8h0.8M132.2 78.9h0.8M144.4 88.6h0.8M162.8 82.3h0.8M154.9 69.5h0.8M147.2 63.0h0.8M134.8 88.4h0.8M156.1 75.9h0.8M160.9 83.0h0.8M149.4 70.0h0.8M144.6 69.1h0.8M142.2 74.9h0.8M140.4 74.7h0.8M146.6 84.5h0.8M155.7 84.4h0.8M152.3 69.6h0.8M143.0 73.8h0.8M151.0 78.4h0.8M162.6 74.9h0.8M154.1 79.7h0.8M144.5 77.4h0.8M141.9 73.9h0.8M151.8 88.1h0.8M142.7 91.2h0.8M142.4 70.7h0.8M156.5 75.4h0.8M147.6 77.9h0.8M161.9 81.2h0.8M157.7 80.4h0.8M150.5 86.2h0.8M144.9 81.9h0.8M143.6 80.0h0.8M158.2 69.9h0.8M159.0 83.0h0.8M156.6 85.9h0.8M152.6 55.9h0.8M136.6 78.8h0.8M153.6 59.5h0.8M136.4 69.3h0.8M149.5 67.7h0.8M139.4 91.6h0.8M156.8 69.9h0.8M162.4 64.7h0.8M147.4 69.5h0.8M148.8 83.4h0.8M146.3 68.4h0.8M150.6 80.5h0.8M151.7 70.2h0.8M154.5 83.7h0.8M157.5 76.3h0.8M154.4 90.7h0.8M141.0 75.6h0.8M148.3 76.8h0.8M160.1 73.1h0.8M153.3 58.6h0.8M166.5 65.5h0.8M153.2 71.7h0.8M139.7 65.6h0.8M149.2 85.3h0.8M156.8 79.8h0.8M162.3 71.0h0.8M143.1 80.1h0.8M151.8 84.2h0.8M147.6 86.4h0.8M142.4 74.7h0.8M142.9 73.4h0.8M140.6 79.2h0.8M159.2 57.6h0.8M138.2 72.6h0.8M148.3 81.4h0.8M148.1 80.9h0.8M151.5 56.4h0.8M146.3 72.5h0.8M159.2 83.6h0.8M145.8 75.2h0.8M163.2 70.9h0.8M154.2 72.7h0.8M144.1 86.7h0.8M146.8 73.3h0.8M147.9 91.3h0.8M158.7 71.0h0.8M164.7 63.8h0.8M154.0 71.3h0.8M141.0 87.4h0.8M155.6 59.1h0.8M158.6 81.9h0.8M156.6 74.9h0.8M158.9 76.2h0.8M158.0 82.2h0.8M137.6 88.7h0.8M152.2 77.6h0.8M140.3 79.2h0.8M150.8 74.0h0.8M152.3 81.0h0.8M136.2 87.0h0.8M146.8 71.6h0.8M139.4 89.0h0.8M146.2 75.8h0.8M148.7 77.8h0.8M144.2 79.6h0.8M147.5 84.2h0.8M152.0 72.6h0.8M153.4 77.2h0.8M142.1 82.6h0.8M161.5 66.2h0.8M149.3 80.7h0.8M135.4 76.1h0.8M152.0 89.7h0.8M154.6 72.9h0.8M153.5 64.0h0.8M142.5 85.2h0.8M157.4 67.9h0.8M141.2 75.0h0.8M163.1 73.7h0.8M163.4 82.7h0.8M160.1 73.0h0.8M149.4 89.2h0.8M140.5 69.1h0.8M154.1 78.7h0.8M131.5 84.1h0.8M145.5 81.0h0.8M142.9 77.2h0.8M162.6 79.1h0.8M135.0 85.6h0.8M155.6 78.8h0.8M161.2 83.3h0.8M139.5 83.3h0.8M158.0 76.1h0.8M140.3 87.9h0.8M145.2 86.6h0.8M142.6 79.9h0.8M151.9 76.1h0.8M146.6 74.1h0.8M152.2 82.2h0.8M157.0 75.3h0.8M148.4 84.0h0.8M155.2 64.8h0.8M156.7 73.7h0.8M162.1 78.1h0.8M147.8 61.0h0.8M139.6 90.8h0.8M160.2 80.5h0.8M146.2 66.9h0.8M143.1 71.9h0.8M141.6 82.9h0.8M137.7 69.6h0.8M144.6 87.2h0.8M146.0 80.6h0.8M149.5 75.2h0.8M151.6 73.5h0.8M156.2 86.2h0.8M143.6 81.0h0.8M145.2 71.1h0.8M155.5 72.0h0.8M160.6 80.2h0.8M154.4 60.0h0.8M140.2 87.1h0.8M151.4 82.0h0.8M164.4 65.1h0.8M159.3 69.1h0.8M147.9 68.7h0.8M135.2 92.8h0.8M154.6 81.6h0.8M165.7 60.9h0.8M156.8 57.4h0.8M148.7 89.9h0.8M156.8 79.5h0.8M158.3 73.8h0.8M152.6 83.3h0.8M144.1 66.6h0.8M147.3 84.1h0.8M144.4 81.0h0.8M157.7 60.7h0.8M143.8 67.4h0.8M148.1 83.3h0.8M150.0 72.2h0.8M154.3 74.2h0.8M153.3 88.8h0.8M153.8 72.0h0.8M158.7 69.2h0.8M156.9 81.2h0.8M151.1 87.9h0.8M139.3 67.8h0.8M163.8 63.1h0.8M143.9 65.6h0.8M160.1 60.5h0.8M154.9 72.9h0.8M152.4 86.6h0.8M141.8 76.2h0.8M144.3 77.9h0.8M140.5 84.9h0.8M150.0 62.5h0.8M154.2 78.1h0.8M136.1 82.2h0.8M147.7 90.6h0.8M150.7 82.9h0.8M152.9 70.4h0.8M155.3 65.0h0.8M158.7 74.6h0.8M145.8 76.2h0.8M143.4 85.3h0.8M132.0 85.2h0.8M136.9 92.3h0.8M146.3 90.9h0.8M155.7 83.4h0.8M149.5 60.0h0.8M162.3 76.3h0.8M144.5 93.6h0.8M144.3 76.4h0.8M162.0 64.2h0.8M148.4 67.5h0.8M151.1 87.7h0.8M157.4 62.0h0.8M149.1 73.2h0.8M143.4 79.8h0.8M138.2 77.2h0.8M149.3 75.8h0.8M147.5 83.4h0.8M144.0 81.3h0.8M151.8 81.0h0.8M133.3 82.6h0.8M141.0 63.3h0.8M159.8 63.1h0.8M154.3 71.6h0.8M144.7 71.8h0.8M153.0 80.9h0.8M147.2 73.2h0.8M162.1 81.9h0.8M150.6 73.8h0.8M150.0 76.6h0.8M155.9 83.2h0.8M137.8 85.1h0.8M138.8 72.3h0.8M150.6 71.7h0.8M164.4 72.1h0.8M151.1 67.3h0.8M160.0 67.3h0.8M147.5 76.6h0.8M142.0 79.4h0.8M143.0 81.4h0.8M154.3 67.8h0.8M154.8 78.0h0.8M154.8 65.4h0.8M140.2 93.4h0.8M158.1 72.3h0.8M154.3 80.3h0.8M162.2 83.1h0.8M148.1 69.2h0.8M140.6 65.7h0.8M154.7 74.2h0.8M138.6 82.9h0.8M140.6 82.8h0.8M141.9 81.0h0.8M142.6 74.6h0.8M147.4 85.3h0.8M150.7 70.8h0.8M144.1 79.0h0.8M150.7 75.2h0.8M148.4 70.4h0.8M148.9 66.2h0.8M152.9 77.2h0.8M156.1 75.8h0.8M157.6 66.4h0.8M144.3 67.5h0.8M152.8 67.4h0.8M146.5 72.3h0.8M150.7 82.4h0.8M144.3 82.0h0.8M147.9 75.2h0.8M145.4 88.2h0.8M153.7 60.2h0.8M139.7 84.5h0.8M167.8 73.1h0.8M142.7 65.3h0.8M156.3 79.3h0.8M145.2 93.3h0.8M150.1 70.9h0.8M155.1 73.1h0.8M156.6 81.9h0.8M166.5 75.7h0.8M148.2 69.2h0.8M157.1 84.5h0.8M156.3 75.2h0.8M156.2 77.8h0.8M165.3 70.1h0.8M138.9 75.8h0.8M140.3 68.1h0.8M156.7 71.0h0.8M155.6 72.0h0.8M158.6 81.2h0.8M165.4 75.8h0.8M164.1 69.1h0.8M149.3 86.7h0.8M158.0 76.3h0.8M152.1 70.1h0.8M153.9 81.3h0.8M145.5 83.7h0.8M148.4 79.4h0.8M144.0 70.2h0.8M144.4 72.9h0.8M161.1 63.7h0.8M142.4 75.6h0.8M154.9 66.9h0.8M140.8 84.6h0.8M158.6 76.6h0.8M165.3 80.4h0.8M150.8 71.4h0.8M152.6 87.4h0.8M141.9 76.3h0.8M145.0 81.0h0.8M147.6 78.2h0.8M155.2 76.8h0.8M155.6 75.1h0.8M152.2 82.8h0.8M145.6 62.1h0.8M137.2 75.0h0.8M149.1 75.4h0.8M147.0 80.3h0.8M146.8 69.5h0.8M145.6 79.4h0.8M156.1 72.5h0.8M154.7 80.7h0.8M147.7 81.8h0.8M147.0 68.3h0.8M161.4 84.0h0.8M159.8 71.7h0.8M149.9 75.1h0.8M154.1 89.1h0.8M148.4 72.4h0.8M149.5 79.5h0.8M152.8 63.1h0.8M143.7 87.0h0.8M143.6 78.1h0.8M148.8 76.1h0.8M154.2 82.4h0.8M139.7 72.2h0.8M150.8 68.1h0.8M149.9 67.9h0.8M151.5 65.4h0.8M134.6 73.0h0.8M154.0 83.6h0.8M148.2 79.1h0.8M150.8 70.1h0.8M152.0 79.3h0.8M152.0 62.1h0.8M145.4 86.2h0.8M144.0 85.8h0.8M156.2 75.5h0.8M156.6 71.7h0.8M146.4 65.8h0.8M138.9 82.3h0.8M124.6 57.1h0.8M132.1 58.7h0.8M131.5 66.4h0.8M133.1 57.4h0.8M143.2 62.2h0.8M135.5 60.5h0.8M121.0 60.6h0.8M126.3 64.2h0.8M139.9 62.6h0.8M132.5 66.4h0.8M133.3 57.0h0.8M122.5 60.5h0.8M128.6 62.7h0.8M143.8 61.1h0.8M145.9 60.8h0.8M125.7 64.1h0.8M148.4 59.2h0.8M127.8 61.7h0.8M125.8 66.0h0.8M141.2 64.5h0.8M121.8 62.5h0.8M145.4 56.7h0.8M126.9 64.7h0.8M130.9 63.5h0.8M130.9 61.5h0.8M128.4 61.8h0.8M123.2 68.3h0.8M127.6 60.5h0.8M116.4 63.1h0.8M133.0 63.8h0.8M125.2 65.7h0.8M140.0 61.0h0.8M131.7 61.5h0.8M123.1 62.5h0.8M139.0 63.2h0.8M124.3 56.9h0.8M125.2 68.3h0.8M123.0 54.3h0.8M127.9 60.4h0.8M142.4 57.9h0.8M146.7 67.7h0.8M137.2 60.8h0.8M133.7 60.9h0.8M118.8 58.8h0.8M132.7 62.0h0.8M124.9 63.7h0.8M145.3 60.7h0.8M128.0 70.0h0.8M141.6 59.6h0.8M137.8 61.2h0.8M132.1 68.2h0.8M141.2 55.0h0.8M128.5 65.9h0.8M140.6 65.1h0.8M136.3 59.4h0.8M136.7 59.9h0.8M122.4 65.1h0.8M131.0 54.9h0.8M132.1 58.9h0.8M143.1 56.9h0.8" stroke="#000" stroke-width="0.8" fill="none"/>
<path d="M127.2 84.0h0.7M130.0 77.7h0.7M130.3 86.0h0.7M130.8 90.1h0.7M122.3 83.6h0.7M125.4 79.2h0.7M120.2 91.3h0.7M118.9 98.1h0.7M125.9 83.7h0.7M118.5 82.6h0.7M123.1 79.3h0.7M121.3 99.1h0.7M134.5 97.9h0.7M134.7 92.9h0.7M135.1 91.4h0.7M123.4 80.1h0.7M128.5 99.1h0.7M134.5 99.4h0.7M124.1 92.4h0.7M135.8 93.3h0.7M132.8 96.9h0.7M126.5 97.0h0.7M122.2 95.8h0.7M123.9 81.2h0.7M132.2 95.0h0.7M137.1 105.4h0.7M124.0 109.6h0.7M138.1 107.6h0.7M143.5 100.3h0.7M142.6 109.7h0.7M119.7 100.5h0.7M145.1 103.0h0.7M133.5 110.6h0.7M121.6 105.6h0.7M116.9 109.9h0.7M144.9 105.0h0.7M142.6 101.7h0.7M143.0 109.2h0.7M140.3 100.4h0.7M125.2 107.5h0.7M143.9 105.6h0.7M138.8 105.2h0.7M135.2 103.2h0.7M121.8 109.9h0.7M134.2 103.7h0.7M125.1 103.8h0.7M132.9 101.8h0.7M130.6 104.0h0.7M128.3 104.2h0.7M116.4 110.1h0.7M125.4 108.5h0.7M147.9 104.3h0.7M127.0 107.7h0.7M147.8 106.1h0.7M137.4 101.2h0.7M125.7 105.2h0.7M137.7 104.3h0.7M140.6 109.6h0.7M123.5 106.0h0.7M118.3 103.7h0.7M135.0 109.4h0.7M121.5 109.1h0.7M137.9 109.4h0.7M117.1 105.9h0.7M119.9 108.8h0.7M138.5 102.6h0.7M149.4 110.2h0.7M128.5 102.5h0.7M141.9 103.9h0.7M144.9 103.2h0.7M144.7 104.0h0.7M135.4 103.6h0.7M136.5 100.7h0.7M127.5 104.0h0.7M135.5 109.1h0.7M132.1 110.9h0.7M120.2 108.4h0.7M128.7 102.4h0.7M126.5 104.3h0.7M131.9 105.6h0.7M142.5 109.0h0.7M128.8 108.8h0.7M135.7 100.4h0.7M143.8 110.1h0.7M137.2 105.8h0.7M146.6 111.2h0.7M135.2 100.6h0.7M132.9 102.3h0.7M131.1 106.9h0.7M122.5 100.7h0.7M132.1 107.8h0.7M133.2 109.3h0.7M149.7 111.1h0.7M126.6 105.1h0.7M135.0 102.5h0.7M147.7 108.8h0.7M148.6 104.4h0.7M132.4 105.9h0.7M118.4 102.9h0.7M137.8 110.6h0.7M117.0 103.8h0.7M132.6 104.7h0.7M124.0 102.0h0.7M125.7 100.7h0.7M124.6 100.7h0.7M145.6 107.4h0.7M132.2 103.7h0.7M138.6 103.9h0.7M144.1 109.6h0.7M123.0 105.9h0.7M127.5 111.2h0.7M123.0 100.4h0.7M122.6 110.7h0.7M136.5 108.4h0.7M131.9 108.0h0.7M129.8 106.0h0.7M137.6 109.1h0.7M147.7 107.3h0.7M143.7 101.8h0.7M121.9 110.4h0.7M117.1 105.2h0.7M123.3 106.2h0.7M125.4 110.3h0.7M118.4 109.4h0.7M148.3 104.6h0.7M143.0 107.0h0.7M122.7 105.9h0.7M119.2 103.5h0.7M117.4 102.1h0.7M145.8 105.8h0.7M145.1 105.2h0.7M125.6 105.6h0.7M127.4 111.1h0.7M116.0 102.3h0.7M122.5 105.8h0.7M128.4 101.4h0.7M136.2 110.1h0.7M133.9 103.9h0.7M132.3 102.8h0.7M116.3 103.5h0.7M128.2 108.8h0.7M129.1 110.0h0.7M118.9 103.6h0.7M121.0 109.0h0.7M120.6 106.4h0.7M132.5 108.4h0.7M133.2 103.3h0.7M148.0 105.5h0.7M120.5 106.2h0.7M132.8 101.1h0.7M116.2 105.7h0.7M139.9 104.1h0.7M137.3 103.0h0.7M140.2 109.1h0.7M133.5 110.5h0.7M129.1 104.3h0.7M115.1 104.3h0.7M141.5 108.8h0.7M129.9 105.1h0.7M136.0 100.6h0.7M133.1 109.7h0.7M119.2 100.9h0.7M132.2 107.0h0.7M128.0 104.7h0.7M147.5 111.3h0.7M149.1 102.0h0.7M126.0 103.0h0.7M146.6 107.0h0.7M134.3 101.0h0.7M142.6 111.1h0.7M122.8 103.3h0.7M115.2 109.6h0.7M123.1 101.9h0.7M145.3 107.7h0.7M130.3 102.8h0.7M148.3 103.9h0.7M140.6 107.3h0.7M128.4 111.1h0.7M129.4 102.9h0.7M122.7 100.4h0.7M130.6 110.6h0.7M140.3 104.0h0.7M125.4 109.2h0.7M143.6 103.6h0.7M123.6 103.0h0.7M143.2 105.4h0.7M138.4 107.7h0.7M142.8 106.2h0.7M115.7 107.6h0.7M123.3 109.7h0.7M135.2 107.8h0.7M138.8 109.7h0.7M143.4 110.5h0.7M143.7 102.9h0.7M140.9 104.0h0.7" stroke="#fff" stroke-width="0.7" fill="none"/>
</g>
<rect x="113.8" y="34.9" width="75.7" height="77.5" fill="none" stroke="#222" stroke-width="0.8"/>
<rect x="140.5" y="54.5" width="32.0" height="29.299999999999997" fill="none" stroke="#111" stroke-width="0.8"/>
<text class="sf" x="0" y="0" font-size="8.1" font-weight="bold" text-anchor="middle" transform="translate(150.5,22.1) scale(0.87,1)">Non-infected/</text>
<text class="sf" x="0" y="0" font-size="8.1" font-weight="bold" text-anchor="middle" transform="translate(150.5,30.6) scale(0.87,1)">non-treated</text>
<text class="sf" x="143" y="51.5" font-size="7.7" font-weight="bold">2.62<tspan font-size="10" dx="1.3" dy="0.6">±</tspan><tspan dx="1.3" dy="-0.6">0.3</tspan></text>
<clipPath id="cp1"><rect x="193.6" y="34.9" width="75.9" height="77.5"/></clipPath>
<g clip-path="url(#cp1)">
<ellipse cx="199.6" cy="87" rx="23" ry="12" fill="#000" opacity="1" filter="url(#bl)"/>
<ellipse cx="205.6" cy="102" rx="24" ry="9" fill="#000" opacity="0.5" filter="url(#bl)"/>
<ellipse cx="235.6" cy="68" rx="7" ry="6.5" fill="#000" opacity="0.4" filter="url(#bl)"/>
<path d="M194.6 74.4h0.8M207.7 95.6h0.8M236.6 106.2h0.8M210.8 102.6h0.8M197.7 85.8h0.8M206.6 92.2h0.8M211.7 107.3h0.8M225.2 92.9h0.8M230.6 103.4h0.8M203.2 86.9h0.8M200.2 91.5h0.8M209.9 93.3h0.8M223.2 99.4h0.8M204.1 91.3h0.8M229.9 80.4h0.8M201.4 93.7h0.8M202.2 98.5h0.8M210.8 75.8h0.8M194.5 96.0h0.8M208.4 86.5h0.8M200.8 95.2h0.8M199.3 78.6h0.8M194.6 78.9h0.8M246.3 93.9h0.8M211.4 97.5h0.8M205.6 110.7h0.8M202.5 93.5h0.8M228.6 69.8h0.8M225.9 91.5h0.8M197.7 100.8h0.8M204.0 81.0h0.8M196.4 94.5h0.8M217.3 95.0h0.8M198.7 101.6h0.8M207.0 93.2h0.8M211.6 99.8h0.8M201.8 93.0h0.8M197.9 86.7h0.8M203.1 93.5h0.8M220.2 87.7h0.8M212.8 84.7h0.8M200.9 72.0h0.8M216.1 94.8h0.8M218.0 89.3h0.8M199.6 97.5h0.8M204.6 81.9h0.8M213.9 80.6h0.8M225.0 68.6h0.8M198.3 99.7h0.8M213.7 87.3h0.8M196.2 80.3h0.8M220.4 92.4h0.8M203.1 81.4h0.8M194.5 84.7h0.8M204.8 72.0h0.8M204.6 96.8h0.8M231.8 91.9h0.8M205.9 75.6h0.8M200.4 88.2h0.8M220.5 87.2h0.8M196.6 102.9h0.8M220.6 71.7h0.8M223.6 103.9h0.8M195.9 83.3h0.8M208.3 101.2h0.8M206.6 102.9h0.8M235.2 86.9h0.8M195.1 96.4h0.8M221.4 72.8h0.8M206.5 108.2h0.8M224.3 103.5h0.8M202.7 101.4h0.8M226.0 104.0h0.8M246.2 76.7h0.8M200.9 83.4h0.8M212.5 91.7h0.8M215.4 91.1h0.8M197.8 88.5h0.8M209.5 88.0h0.8M239.4 77.8h0.8M201.9 81.3h0.8M194.7 70.6h0.8M210.8 106.0h0.8M207.8 101.3h0.8M200.1 88.5h0.8M211.3 97.8h0.8M209.4 81.5h0.8M225.5 96.1h0.8M241.3 86.2h0.8M222.8 85.5h0.8M237.4 83.0h0.8M230.4 100.2h0.8M216.3 74.8h0.8M202.9 96.0h0.8M217.9 94.8h0.8M226.5 96.2h0.8M202.4 82.5h0.8M225.0 99.0h0.8M209.5 85.1h0.8M201.0 81.4h0.8M204.8 93.6h0.8M197.5 102.4h0.8M209.4 81.0h0.8M214.2 74.8h0.8M197.3 86.8h0.8M211.9 84.5h0.8M210.3 87.2h0.8M211.4 100.6h0.8M204.2 84.7h0.8M212.3 88.2h0.8M218.6 97.2h0.8M202.2 92.8h0.8M227.4 73.4h0.8M233.8 87.5h0.8M225.7 81.2h0.8M197.0 86.1h0.8M202.0 107.8h0.8M215.4 87.2h0.8M244.7 79.7h0.8M198.8 93.1h0.8M218.2 99.2h0.8M230.9 99.3h0.8M201.8 82.9h0.8M207.5 87.1h0.8M210.6 86.1h0.8M198.9 81.1h0.8M208.7 96.0h0.8M207.2 73.1h0.8M205.2 89.3h0.8M240.8 99.1h0.8M200.1 105.8h0.8M225.3 91.4h0.8M220.9 88.7h0.8M214.2 71.8h0.8M219.8 102.6h0.8M219.7 102.8h0.8M211.0 83.4h0.8M236.2 77.7h0.8M215.1 108.0h0.8M196.2 86.9h0.8M207.4 106.6h0.8M203.1 95.4h0.8M223.3 88.2h0.8M206.8 83.4h0.8M221.7 110.9h0.8M200.1 84.7h0.8M211.8 74.6h0.8M205.4 67.1h0.8M200.4 105.9h0.8M196.0 71.1h0.8M197.2 100.4h0.8M245.3 88.8h0.8M213.1 88.5h0.8M213.3 76.4h0.8M203.1 87.7h0.8M195.8 101.5h0.8M198.3 102.1h0.8M197.0 100.0h0.8M213.2 89.0h0.8M206.9 92.7h0.8M226.2 88.9h0.8M227.6 93.9h0.8M209.5 96.0h0.8M209.6 100.9h0.8M231.5 107.3h0.8M228.2 108.0h0.8M198.9 100.1h0.8M230.9 72.0h0.8M239.7 85.0h0.8M197.7 84.9h0.8M222.9 108.7h0.8M204.3 92.0h0.8M230.0 79.3h0.8M231.3 107.1h0.8M206.6 72.3h0.8M227.3 74.1h0.8M205.9 99.6h0.8M195.2 88.1h0.8M221.1 95.6h0.8M216.0 76.4h0.8M199.7 90.4h0.8M197.8 74.1h0.8M240.7 97.3h0.8M204.4 93.0h0.8M205.5 83.5h0.8M194.8 80.5h0.8M238.8 91.9h0.8M208.4 106.1h0.8M204.6 92.0h0.8M214.8 100.5h0.8M222.2 84.7h0.8M209.4 101.9h0.8M232.8 74.3h0.8M243.9 82.4h0.8M198.8 79.9h0.8M203.9 97.3h0.8M210.1 102.9h0.8M204.0 98.8h0.8M196.7 105.2h0.8M219.0 76.8h0.8M199.1 80.1h0.8M233.1 85.4h0.8M203.4 97.9h0.8M231.1 82.5h0.8M199.5 95.6h0.8M229.0 90.9h0.8M209.8 80.2h0.8M195.4 103.9h0.8M225.5 82.5h0.8M210.7 107.7h0.8M226.6 92.9h0.8M201.0 73.4h0.8M209.5 92.7h0.8M208.4 89.1h0.8M203.2 85.5h0.8M203.6 94.5h0.8M195.2 78.3h0.8M233.5 75.4h0.8M210.1 98.1h0.8M194.3 90.7h0.8M210.1 111.1h0.8M204.2 93.4h0.8M204.9 96.9h0.8M206.4 90.1h0.8M213.9 83.4h0.8M194.6 94.2h0.8M216.4 88.3h0.8M211.6 97.7h0.8M215.5 77.5h0.8M236.3 69.5h0.8M206.5 105.9h0.8M195.3 110.1h0.8M194.6 91.7h0.8M214.3 75.6h0.8M197.7 74.7h0.8M243.6 74.2h0.8M195.3 76.5h0.8M212.4 78.1h0.8M200.2 94.2h0.8M194.1 109.9h0.8M230.1 89.9h0.8M229.8 75.6h0.8M235.1 96.7h0.8M194.1 108.0h0.8M221.1 102.4h0.8M197.8 85.2h0.8M206.4 95.5h0.8M199.6 93.3h0.8M211.7 89.0h0.8M224.1 103.1h0.8M228.7 97.5h0.8M220.9 106.3h0.8M215.2 74.5h0.8M195.1 88.9h0.8M211.9 91.7h0.8M219.4 93.7h0.8M222.7 69.1h0.8M240.6 93.1h0.8M231.4 75.6h0.8M209.8 75.4h0.8M214.1 86.9h0.8M202.3 84.2h0.8M198.8 73.4h0.8M207.9 87.3h0.8M225.6 89.4h0.8M199.1 76.4h0.8M216.7 97.4h0.8M215.0 75.7h0.8M195.6 71.8h0.8M225.9 82.3h0.8M198.3 105.7h0.8M228.4 99.0h0.8M207.2 81.0h0.8M227.4 89.1h0.8M221.8 87.9h0.8M219.9 87.0h0.8M202.1 75.0h0.8M217.0 109.8h0.8M207.9 94.5h0.8M197.3 83.9h0.8M194.3 78.0h0.8M203.9 76.1h0.8M202.2 92.1h0.8M195.8 106.5h0.8M194.4 101.6h0.8M217.8 105.7h0.8M232.1 81.0h0.8M207.6 78.9h0.8M220.8 84.7h0.8M200.6 75.6h0.8M222.6 100.6h0.8M195.5 70.7h0.8M197.1 97.0h0.8M229.3 103.8h0.8M196.4 100.5h0.8M218.0 93.6h0.8M225.7 106.0h0.8M198.7 106.0h0.8M211.1 84.5h0.8M194.4 87.5h0.8M225.3 85.8h0.8M212.4 103.4h0.8M216.1 81.3h0.8M211.0 106.7h0.8M208.6 78.8h0.8M226.3 87.9h0.8M226.3 99.1h0.8M237.1 80.2h0.8M198.9 81.7h0.8M203.2 111.2h0.8M226.6 84.8h0.8M227.0 76.0h0.8M212.3 86.6h0.8M212.3 96.5h0.8M228.1 74.6h0.8M210.2 98.7h0.8M205.8 88.6h0.8M218.0 62.5h0.8M227.9 78.0h0.8M240.2 84.7h0.8M238.8 98.8h0.8M204.2 92.4h0.8M208.3 71.9h0.8M218.0 88.7h0.8M205.0 90.2h0.8M218.7 98.9h0.8M208.2 87.8h0.8M195.2 85.3h0.8M194.4 78.6h0.8M204.6 78.2h0.8M229.2 94.3h0.8M210.0 101.7h0.8M213.7 90.6h0.8M218.4 75.7h0.8M234.9 98.2h0.8M207.0 90.0h0.8M208.0 82.3h0.8M194.3 93.3h0.8M233.5 105.2h0.8M218.5 82.2h0.8M200.4 99.9h0.8M213.8 97.2h0.8M199.1 91.5h0.8M203.4 89.1h0.8M246.6 82.7h0.8M218.0 105.5h0.8M214.1 78.5h0.8M211.8 94.1h0.8M216.3 89.7h0.8M227.5 91.4h0.8M213.2 105.0h0.8M220.3 75.2h0.8M198.1 73.6h0.8M198.0 107.9h0.8M203.2 99.0h0.8M215.8 88.8h0.8M238.4 101.1h0.8M205.3 83.4h0.8M206.9 74.7h0.8M196.9 76.2h0.8M216.8 99.7h0.8M215.7 93.0h0.8M230.1 105.7h0.8M208.3 84.6h0.8M208.5 82.0h0.8M236.9 74.1h0.8M202.0 104.8h0.8M203.2 87.1h0.8M222.4 83.2h0.8M212.4 96.3h0.8M209.5 104.0h0.8M204.8 82.0h0.8M210.1 92.8h0.8M233.8 106.7h0.8M214.7 89.1h0.8M215.9 103.5h0.8M222.9 77.7h0.8M205.4 90.5h0.8M209.8 107.0h0.8M212.8 97.8h0.8M197.1 95.8h0.8M203.7 92.8h0.8M208.7 97.4h0.8M211.6 90.5h0.8M229.0 99.2h0.8M238.9 86.9h0.8M238.2 86.2h0.8M237.4 99.1h0.8M197.3 73.4h0.8M200.0 91.0h0.8M216.4 67.5h0.8M218.1 92.6h0.8M206.3 101.8h0.8M209.8 82.1h0.8M228.9 100.2h0.8M231.8 85.2h0.8M202.8 87.8h0.8M219.5 76.8h0.8M212.8 94.4h0.8M221.5 96.5h0.8M206.3 76.5h0.8M200.1 95.7h0.8M211.9 96.4h0.8M208.5 85.8h0.8M200.7 88.6h0.8M207.7 86.2h0.8M217.6 102.8h0.8M223.9 80.3h0.8M213.7 82.1h0.8M205.8 97.7h0.8M199.7 106.2h0.8M217.9 87.1h0.8M206.2 77.9h0.8M209.3 88.3h0.8M200.2 87.4h0.8M231.4 98.8h0.8M207.5 96.6h0.8M234.4 69.8h0.8M202.6 77.8h0.8M197.8 96.0h0.8M200.6 107.2h0.8M222.2 85.1h0.8M217.3 97.3h0.8M195.4 85.5h0.8M204.8 97.5h0.8M205.0 107.0h0.8M208.6 73.9h0.8M197.4 101.9h0.8M207.1 99.3h0.8M210.5 98.0h0.8M224.5 82.4h0.8M199.3 68.4h0.8M208.9 93.3h0.8M216.6 87.6h0.8M205.4 77.4h0.8M216.0 102.4h0.8M220.5 84.5h0.8M206.8 90.6h0.8M201.7 96.3h0.8M201.0 99.3h0.8M204.5 90.7h0.8M211.2 89.5h0.8M205.1 72.1h0.8M201.4 79.9h0.8M232.3 93.0h0.8M204.4 74.1h0.8M221.1 95.2h0.8M234.4 75.0h0.8M207.8 88.1h0.8M216.1 78.8h0.8M194.2 84.3h0.8M218.1 96.3h0.8M199.5 76.2h0.8M213.5 98.8h0.8M228.2 94.2h0.8M211.8 107.0h0.8M225.5 92.0h0.8M215.9 90.8h0.8M204.7 107.8h0.8M201.3 92.9h0.8M228.5 96.2h0.8M215.8 94.6h0.8M207.8 109.9h0.8M211.6 73.0h0.8M194.2 89.3h0.8M214.1 92.8h0.8M225.0 102.4h0.8M215.8 90.3h0.8M224.8 86.0h0.8M218.9 97.8h0.8M212.9 73.1h0.8M214.1 97.0h0.8M209.3 105.7h0.8M229.7 72.6h0.8M220.8 95.4h0.8M216.9 100.6h0.8M199.6 85.9h0.8M232.7 81.6h0.8M205.6 86.6h0.8M206.0 72.0h0.8M203.7 90.1h0.8M220.7 73.5h0.8M196.3 78.4h0.8M209.4 72.7h0.8M219.6 106.2h0.8M195.9 89.9h0.8M232.0 80.4h0.8M197.7 104.1h0.8M232.9 100.0h0.8M194.1 81.3h0.8M220.4 104.9h0.8M206.4 84.6h0.8M208.1 88.5h0.8M200.6 87.2h0.8M210.5 78.5h0.8M229.3 74.6h0.8M205.7 66.2h0.8M223.0 110.9h0.8M228.2 84.9h0.8M214.8 97.1h0.8M236.5 65.6h0.8M222.6 105.6h0.8M204.9 93.4h0.8M202.0 75.8h0.8M202.6 86.7h0.8M199.6 89.2h0.8M222.8 98.1h0.8M202.4 93.1h0.8M208.4 89.8h0.8M202.6 102.6h0.8M238.0 106.6h0.8M231.8 71.7h0.8M204.0 95.3h0.8M194.5 99.1h0.8M228.2 107.9h0.8M205.8 105.5h0.8M208.2 85.0h0.8M216.4 99.1h0.8M203.6 100.5h0.8M198.0 86.9h0.8M201.6 80.2h0.8M211.3 95.2h0.8M245.4 87.1h0.8M203.5 109.2h0.8M219.0 86.8h0.8M212.9 102.5h0.8M194.3 107.1h0.8M220.7 81.7h0.8M235.4 78.1h0.8M244.0 86.3h0.8M197.1 91.0h0.8M214.8 91.4h0.8M234.3 100.1h0.8M212.2 84.1h0.8M208.9 78.7h0.8M204.1 105.0h0.8M225.3 86.5h0.8M213.5 67.2h0.8M195.3 97.8h0.8M203.7 80.5h0.8M218.5 78.1h0.8M204.0 85.8h0.8M216.4 80.8h0.8M209.4 72.8h0.8M197.2 81.6h0.8M201.4 103.3h0.8M221.3 103.4h0.8M223.7 90.0h0.8M206.6 74.4h0.8M203.4 88.4h0.8M200.4 98.4h0.8M222.3 100.9h0.8M240.4 79.4h0.8M222.6 79.0h0.8M214.1 90.2h0.8M201.5 76.6h0.8M246.3 89.3h0.8M195.2 92.2h0.8M237.3 88.2h0.8M200.5 86.6h0.8M199.8 90.1h0.8M205.6 89.8h0.8M209.8 67.3h0.8M231.6 86.0h0.8M204.0 83.2h0.8M232.5 92.1h0.8M196.4 99.4h0.8M194.4 87.8h0.8M237.9 99.6h0.8M196.5 103.0h0.8M205.5 97.4h0.8M204.1 71.5h0.8M237.7 93.4h0.8M243.8 89.6h0.8M228.0 87.4h0.8M199.6 101.9h0.8M224.0 75.6h0.8M230.1 77.2h0.8M221.5 84.7h0.8M220.3 88.8h0.8M200.7 90.6h0.8M215.9 91.6h0.8M213.3 102.3h0.8M199.6 75.0h0.8M213.4 80.9h0.8M201.9 95.2h0.8M200.4 88.3h0.8M199.6 70.4h0.8M217.6 78.6h0.8M200.2 102.3h0.8M209.4 81.4h0.8M202.6 90.4h0.8M227.6 102.1h0.8M197.1 87.7h0.8M235.4 98.9h0.8M197.2 88.6h0.8M197.6 95.9h0.8M237.5 79.9h0.8M199.8 89.9h0.8M208.6 108.1h0.8M214.0 97.6h0.8M228.9 90.5h0.8M211.4 74.9h0.8M235.3 105.9h0.8M197.8 94.0h0.8M217.5 93.2h0.8M207.8 103.6h0.8M214.7 96.0h0.8M218.4 79.6h0.8M201.0 105.2h0.8M220.9 90.3h0.8M195.9 92.1h0.8M200.7 90.1h0.8M194.4 89.5h0.8M196.0 93.8h0.8M194.8 100.2h0.8M206.8 87.2h0.8M229.8 94.0h0.8M212.3 88.9h0.8M230.2 89.4h0.8M198.5 82.4h0.8M195.3 87.0h0.8M205.9 86.3h0.8M197.1 88.3h0.8M202.6 103.5h0.8M209.2 78.4h0.8M200.8 91.6h0.8M204.9 102.0h0.8M211.7 95.8h0.8M206.9 93.4h0.8M219.3 107.5h0.8M211.6 107.7h0.8M203.4 93.9h0.8M194.7 87.0h0.8M232.4 68.8h0.8M199.7 108.1h0.8M227.5 98.8h0.8M225.1 104.6h0.8M213.2 94.2h0.8M205.5 85.4h0.8M207.1 101.3h0.8M203.6 89.3h0.8M195.1 102.4h0.8M202.3 101.7h0.8M199.2 81.4h0.8M227.6 82.6h0.8M200.3 109.9h0.8M203.7 98.4h0.8M216.2 93.7h0.8M215.2 94.9h0.8M231.9 106.7h0.8M224.0 71.1h0.8M240.4 99.3h0.8M195.2 98.9h0.8M195.6 79.8h0.8M197.9 93.8h0.8M198.3 100.1h0.8M209.2 84.2h0.8M200.5 89.2h0.8M204.4 82.7h0.8M226.7 80.2h0.8M201.1 81.6h0.8M227.9 101.2h0.8M205.9 94.5h0.8M204.5 107.7h0.8M234.1 85.9h0.8M214.9 95.2h0.8M203.8 86.3h0.8M212.5 97.7h0.8M216.4 77.1h0.8M216.2 95.4h0.8M203.8 94.9h0.8M210.1 99.0h0.8M208.7 78.5h0.8M200.6 98.5h0.8M226.6 104.8h0.8M201.8 99.0h0.8M194.4 80.1h0.8M213.7 104.0h0.8M197.5 76.4h0.8M207.6 89.1h0.8M212.6 89.5h0.8M211.1 86.4h0.8M210.7 90.8h0.8M212.4 90.7h0.8M238.2 84.6h0.8M194.7 100.2h0.8M236.4 89.4h0.8M194.4 93.3h0.8M225.5 83.6h0.8M214.9 95.9h0.8M212.9 91.0h0.8M213.0 106.3h0.8M195.7 90.9h0.8M195.6 94.2h0.8M209.1 103.4h0.8M239.1 82.0h0.8M235.2 101.6h0.8M201.7 82.3h0.8M202.0 74.2h0.8M197.0 92.7h0.8M214.9 89.7h0.8M234.2 103.0h0.8M200.0 87.2h0.8M201.4 88.5h0.8M229.2 85.3h0.8M207.0 108.1h0.8M211.5 102.6h0.8M230.9 66.5h0.8M199.9 82.0h0.8M201.9 86.1h0.8M211.1 95.8h0.8M213.8 79.4h0.8M216.1 85.3h0.8M200.3 104.2h0.8M200.4 89.4h0.8M219.4 88.6h0.8M197.9 108.6h0.8M209.5 75.8h0.8M207.1 102.2h0.8M208.0 71.3h0.8M222.3 98.0h0.8M222.9 101.5h0.8M220.4 102.1h0.8M208.2 85.0h0.8M196.5 106.9h0.8M246.1 77.7h0.8M209.7 105.4h0.8M238.6 79.6h0.8M216.8 105.7h0.8M205.6 96.6h0.8M203.3 85.7h0.8M195.1 94.0h0.8M196.8 75.0h0.8M224.3 83.0h0.8M194.0 89.5h0.8M203.1 72.1h0.8M231.2 110.0h0.8M214.3 71.8h0.8M237.3 81.6h0.8M194.1 102.8h0.8M194.9 91.7h0.8M195.5 77.5h0.8M204.9 94.8h0.8M213.1 95.2h0.8M194.9 88.3h0.8M206.1 88.3h0.8M203.7 96.8h0.8M196.8 81.7h0.8M207.4 89.0h0.8M226.8 101.5h0.8M208.6 104.8h0.8M194.2 96.7h0.8M217.9 73.9h0.8M210.0 94.1h0.8M237.0 104.4h0.8M240.8 98.1h0.8M224.1 75.9h0.8M196.1 99.2h0.8M234.1 77.5h0.8M197.1 79.3h0.8M196.6 90.5h0.8M195.8 85.2h0.8M230.2 96.4h0.8M198.9 90.2h0.8M236.3 71.7h0.8M215.9 101.5h0.8M198.7 98.9h0.8M241.5 85.8h0.8M236.2 71.4h0.8M209.7 98.6h0.8M203.2 80.5h0.8M216.3 77.6h0.8M202.6 87.0h0.8M235.9 97.4h0.8M228.9 101.0h0.8M204.0 89.4h0.8M203.0 94.9h0.8M205.8 95.4h0.8M238.0 90.1h0.8M209.8 93.3h0.8M218.4 85.6h0.8M201.8 100.9h0.8M217.9 83.3h0.8M224.6 93.5h0.8M238.5 94.5h0.8M225.8 100.5h0.8M203.5 96.0h0.8M220.2 80.9h0.8M215.7 90.9h0.8M194.2 80.1h0.8M196.3 89.3h0.8M201.1 79.5h0.8M217.5 103.2h0.8M201.1 86.5h0.8M225.7 110.3h0.8M201.5 95.3h0.8M199.0 101.8h0.8M218.2 92.8h0.8M202.7 93.7h0.8M198.7 78.5h0.8M204.3 100.6h0.8M236.7 104.6h0.8M222.8 92.9h0.8M201.7 92.4h0.8M217.8 95.2h0.8M219.4 78.6h0.8M210.9 80.4h0.8M215.2 82.5h0.8M216.2 90.3h0.8M236.4 75.7h0.8M211.3 86.5h0.8M207.8 75.1h0.8M208.0 100.2h0.8M217.7 110.8h0.8M222.7 111.0h0.8M200.3 81.4h0.8M212.5 89.9h0.8M199.2 84.1h0.8M234.5 92.0h0.8M223.1 108.9h0.8M214.9 99.8h0.8M228.7 90.9h0.8M194.5 84.9h0.8M217.6 94.8h0.8M224.9 74.2h0.8M197.4 76.5h0.8M210.7 80.8h0.8M232.8 86.8h0.8M212.9 100.5h0.8M209.9 100.9h0.8M195.9 107.8h0.8M219.5 101.0h0.8M198.7 100.1h0.8M222.9 99.8h0.8M208.6 88.3h0.8M208.3 108.1h0.8M201.4 97.5h0.8M194.0 101.8h0.8M236.5 98.2h0.8M231.3 82.6h0.8M236.5 82.5h0.8M211.9 100.7h0.8M230.1 73.3h0.8M215.7 106.3h0.8M207.4 81.6h0.8M222.0 95.5h0.8M209.9 87.2h0.8M223.3 82.3h0.8M197.4 86.2h0.8M216.9 100.8h0.8M207.4 101.9h0.8M214.1 84.3h0.8M199.0 97.6h0.8M208.3 105.8h0.8M203.0 91.6h0.8M208.4 71.6h0.8M210.6 84.1h0.8M197.4 67.1h0.8M217.1 91.0h0.8M195.9 81.7h0.8M195.2 86.7h0.8M206.0 94.4h0.8M194.2 102.9h0.8M211.5 91.6h0.8M216.6 75.4h0.8M202.7 110.9h0.8M218.8 105.2h0.8M210.8 98.4h0.8M201.1 75.9h0.8M196.7 88.8h0.8M227.0 97.4h0.8M213.3 72.5h0.8M210.4 104.1h0.8M210.2 95.0h0.8M216.3 86.2h0.8M206.8 90.7h0.8M200.7 101.6h0.8M199.2 69.0h0.8M200.2 88.4h0.8M197.6 78.2h0.8M204.7 104.2h0.8M204.4 71.4h0.8M229.3 93.3h0.8M233.3 79.7h0.8M214.7 88.7h0.8M220.2 94.6h0.8M236.3 92.5h0.8M234.6 77.2h0.8M245.3 90.7h0.8M205.5 78.3h0.8M213.8 98.2h0.8M211.8 81.9h0.8M240.1 75.2h0.8M236.4 92.4h0.8M203.0 89.3h0.8M229.0 95.1h0.8M223.6 99.6h0.8M247.3 92.5h0.8M244.7 91.1h0.8M202.6 86.6h0.8M203.2 81.1h0.8M195.4 75.5h0.8M218.3 86.9h0.8M201.0 90.6h0.8M205.9 85.8h0.8M213.3 87.0h0.8M201.5 84.5h0.8M211.7 103.5h0.8M204.1 86.1h0.8M220.0 99.7h0.8M201.1 109.7h0.8M203.0 106.2h0.8M215.1 86.1h0.8M198.7 90.3h0.8M205.1 88.0h0.8M200.3 97.2h0.8M217.1 78.9h0.8M216.8 89.5h0.8M212.3 93.1h0.8M227.7 110.0h0.8M203.1 81.2h0.8M207.7 97.5h0.8M243.5 97.2h0.8M216.1 105.5h0.8M204.6 102.7h0.8M202.6 102.7h0.8M224.0 72.8h0.8M202.4 87.6h0.8M199.5 84.5h0.8M214.4 98.9h0.8M203.5 106.2h0.8M209.8 105.8h0.8M202.6 78.9h0.8M208.4 90.0h0.8M205.6 90.1h0.8M241.9 90.5h0.8M240.4 90.7h0.8M238.9 63.6h0.8M223.4 106.0h0.8M204.7 87.6h0.8M209.0 102.2h0.8M197.5 97.3h0.8M196.9 92.9h0.8M230.4 100.5h0.8M230.5 89.5h0.8M219.5 87.5h0.8M199.5 72.7h0.8M209.5 95.4h0.8M232.2 72.4h0.8M212.4 111.0h0.8M199.1 94.7h0.8M211.5 73.0h0.8M198.3 67.4h0.8M199.1 96.2h0.8M216.3 96.4h0.8M221.2 74.2h0.8M212.9 103.6h0.8M219.2 88.6h0.8M236.5 96.0h0.8M195.6 96.2h0.8M210.4 103.0h0.8M219.1 92.0h0.8M241.1 94.8h0.8M195.5 101.7h0.8M226.0 99.2h0.8M223.1 79.6h0.8M211.3 70.6h0.8M213.7 83.6h0.8M237.2 109.3h0.8M238.3 107.8h0.8M206.3 102.6h0.8M224.8 77.5h0.8M226.8 66.9h0.8M200.7 106.2h0.8M199.1 107.9h0.8M224.3 82.0h0.8M229.4 94.0h0.8M215.8 94.4h0.8M221.5 77.9h0.8M220.7 95.0h0.8M209.2 100.1h0.8M206.2 84.2h0.8M226.6 95.3h0.8M207.2 92.8h0.8M199.6 88.1h0.8M228.2 85.2h0.8M219.0 103.2h0.8M196.3 75.4h0.8M200.7 94.3h0.8M218.9 97.5h0.8M198.9 92.4h0.8M210.9 96.2h0.8M197.3 104.5h0.8M207.0 76.9h0.8M206.1 94.7h0.8M194.5 100.8h0.8M197.4 75.1h0.8M203.5 84.9h0.8M197.3 103.8h0.8M195.1 98.4h0.8M218.6 101.0h0.8M216.8 106.3h0.8M200.0 86.9h0.8M217.0 84.6h0.8M219.8 100.2h0.8M245.2 86.8h0.8M208.8 89.4h0.8M210.3 84.8h0.8M216.4 93.2h0.8M229.7 72.5h0.8M194.4 94.6h0.8M229.6 95.8h0.8M230.5 98.3h0.8M217.4 81.6h0.8M204.9 102.4h0.8M202.7 97.8h0.8M197.1 91.7h0.8M201.3 88.8h0.8M197.6 73.5h0.8M197.7 93.0h0.8M195.7 77.6h0.8M205.6 78.4h0.8M194.2 76.4h0.8M211.7 104.7h0.8M213.3 73.2h0.8M219.4 72.8h0.8M200.4 88.0h0.8M202.2 70.5h0.8M201.6 105.3h0.8M198.7 90.0h0.8M198.2 75.3h0.8M237.0 82.6h0.8M222.9 86.2h0.8M203.4 82.2h0.8M216.7 99.6h0.8M225.6 76.7h0.8M214.7 108.4h0.8M202.8 101.4h0.8M213.4 90.8h0.8M201.0 88.9h0.8M202.0 105.7h0.8M199.9 84.9h0.8M195.3 86.3h0.8M200.6 88.3h0.8M213.1 103.0h0.8M198.8 80.5h0.8M198.5 101.3h0.8M216.0 96.5h0.8M217.9 104.7h0.8M197.0 73.4h0.8M217.3 84.9h0.8M196.3 73.8h0.8M213.6 95.8h0.8M197.4 91.4h0.8M211.8 108.1h0.8M235.7 72.5h0.8M201.0 69.7h0.8M202.2 87.9h0.8M236.6 74.6h0.8M229.8 91.9h0.8M195.3 98.6h0.8M199.4 99.8h0.8M204.7 86.8h0.8M210.8 101.9h0.8M236.3 77.4h0.8M221.8 79.1h0.8M202.9 89.9h0.8M201.7 109.2h0.8M201.1 83.3h0.8M206.0 109.6h0.8M200.8 104.0h0.8M198.9 96.5h0.8M207.5 108.7h0.8M233.2 101.6h0.8M194.9 85.0h0.8M200.2 85.7h0.8M226.5 102.7h0.8M201.8 94.9h0.8M194.2 88.7h0.8M203.2 109.3h0.8M231.4 93.5h0.8M214.0 102.7h0.8M207.9 91.9h0.8M195.7 91.5h0.8M237.4 99.0h0.8M203.4 87.5h0.8M222.8 84.7h0.8M196.6 77.0h0.8M240.6 85.4h0.8M224.3 86.2h0.8M200.6 89.2h0.8M202.9 95.3h0.8M234.0 99.7h0.8M224.0 89.6h0.8M220.4 88.9h0.8M233.7 69.4h0.8M194.9 88.1h0.8M199.4 95.8h0.8M206.5 86.6h0.8M219.9 103.4h0.8M231.7 71.7h0.8M233.9 100.3h0.8M234.9 63.8h0.8M204.5 94.7h0.8M225.7 107.0h0.8M215.3 93.3h0.8M203.7 89.5h0.8M225.9 80.0h0.8M214.8 88.5h0.8M195.1 78.2h0.8M201.9 88.1h0.8M242.5 95.8h0.8M221.5 104.6h0.8M218.6 87.2h0.8M206.0 79.8h0.8M224.0 67.5h0.8M223.2 87.4h0.8M196.3 92.0h0.8M199.9 88.3h0.8M208.1 76.0h0.8M247.2 85.4h0.8M217.9 100.3h0.8M215.5 81.0h0.8M213.9 110.3h0.8M233.6 99.1h0.8M226.5 91.2h0.8M236.4 69.2h0.8M213.5 99.6h0.8M198.0 89.2h0.8M199.3 95.4h0.8M223.3 84.5h0.8M213.9 100.2h0.8M244.5 83.3h0.8M201.3 97.0h0.8M196.7 88.6h0.8M203.8 81.7h0.8M234.4 82.8h0.8M206.3 80.7h0.8M209.9 93.9h0.8M215.9 84.0h0.8M197.3 79.0h0.8M200.5 81.5h0.8M223.0 103.3h0.8M202.5 88.8h0.8M203.9 74.5h0.8M231.1 85.6h0.8M196.2 96.7h0.8M198.1 94.8h0.8M204.9 105.6h0.8M205.7 92.6h0.8M207.5 91.7h0.8M201.3 86.2h0.8M230.4 104.2h0.8M200.8 102.1h0.8M246.9 89.4h0.8M239.5 90.5h0.8M225.8 89.9h0.8M225.1 79.0h0.8M195.9 100.2h0.8M227.1 80.7h0.8M211.4 87.8h0.8M214.4 102.9h0.8M198.8 87.5h0.8M196.7 95.2h0.8M207.7 90.0h0.8M206.0 93.0h0.8M226.3 94.8h0.8M217.2 101.1h0.8M208.5 85.2h0.8M238.6 86.9h0.8M219.6 111.0h0.8M196.7 102.1h0.8M242.7 101.5h0.8M200.0 106.6h0.8M198.0 86.9h0.8M224.2 89.1h0.8M227.7 66.3h0.8M203.0 101.6h0.8M212.2 110.1h0.8M196.7 104.6h0.8M195.8 87.7h0.8M198.2 74.4h0.8M227.8 90.0h0.8M228.5 97.6h0.8M245.9 90.3h0.8M201.1 101.2h0.8M201.2 80.3h0.8M209.4 94.7h0.8M224.2 95.9h0.8M205.9 109.1h0.8M222.0 96.3h0.8M223.8 98.1h0.8M232.4 80.3h0.8M209.7 92.3h0.8M218.2 73.2h0.8M204.2 83.8h0.8M195.7 90.4h0.8M212.0 103.7h0.8M230.3 76.6h0.8M210.7 90.5h0.8M195.9 91.6h0.8M214.6 90.0h0.8M216.8 81.9h0.8M217.0 66.6h0.8M242.3 75.3h0.8M212.6 83.9h0.8M207.2 99.8h0.8M211.2 75.4h0.8M211.0 84.6h0.8M204.9 102.9h0.8M209.8 94.0h0.8M199.5 111.2h0.8M201.4 77.0h0.8M229.2 83.6h0.8M203.9 102.4h0.8M223.0 100.5h0.8M201.7 66.7h0.8M202.8 78.0h0.8M217.9 62.7h0.8M226.4 81.7h0.8M206.5 81.4h0.8M199.2 99.2h0.8M201.3 80.9h0.8M194.2 104.8h0.8M212.2 100.2h0.8M194.3 98.9h0.8M203.2 79.9h0.8M203.0 79.6h0.8M195.8 92.1h0.8M206.8 87.4h0.8M206.4 85.3h0.8M213.8 91.4h0.8M218.7 87.2h0.8M242.8 80.4h0.8M194.8 107.2h0.8M200.0 80.0h0.8M243.7 88.7h0.8M221.1 76.6h0.8M212.4 78.4h0.8M204.1 90.0h0.8M234.6 102.8h0.8M196.9 100.7h0.8M206.1 96.9h0.8M221.8 90.7h0.8M211.5 80.6h0.8M207.2 96.8h0.8M211.9 91.3h0.8M239.9 92.4h0.8M200.7 86.0h0.8M206.8 82.7h0.8M232.8 90.6h0.8M204.1 93.2h0.8M205.9 101.1h0.8M195.2 104.4h0.8M210.2 75.4h0.8M202.8 78.5h0.8M211.5 100.5h0.8M230.4 79.7h0.8M208.8 92.8h0.8M198.0 79.2h0.8M198.0 92.0h0.8M223.8 81.8h0.8M225.2 77.6h0.8M213.8 70.1h0.8M218.8 87.5h0.8M208.4 82.4h0.8M209.3 81.9h0.8M209.2 73.9h0.8M230.7 98.9h0.8M194.9 79.2h0.8M226.0 109.4h0.8M206.5 80.7h0.8M229.2 92.6h0.8M198.6 75.1h0.8M222.7 89.8h0.8M208.9 82.5h0.8M219.2 74.6h0.8M209.5 99.1h0.8M206.9 100.7h0.8M215.7 88.0h0.8M199.4 67.3h0.8M208.9 107.0h0.8M226.0 79.3h0.8M220.4 103.6h0.8M223.2 86.3h0.8M205.9 93.4h0.8M238.7 91.2h0.8M200.8 95.8h0.8M200.3 92.5h0.8M201.9 76.5h0.8M234.7 73.4h0.8M199.3 105.7h0.8M212.9 104.5h0.8M206.6 77.0h0.8M216.2 89.2h0.8M199.1 102.2h0.8M213.2 98.8h0.8M203.3 88.5h0.8M214.0 85.7h0.8M206.9 90.1h0.8M209.7 104.4h0.8M200.8 104.7h0.8M204.4 88.7h0.8M204.3 92.4h0.8M231.3 82.7h0.8M198.0 97.3h0.8M196.7 87.8h0.8M236.3 85.1h0.8M195.6 98.1h0.8M195.7 81.0h0.8M199.7 88.3h0.8M213.5 106.7h0.8M240.1 93.2h0.8M198.8 104.5h0.8M222.2 69.8h0.8M215.6 79.0h0.8M203.3 110.7h0.8M233.9 81.4h0.8M228.4 94.3h0.8M199.6 86.5h0.8M239.2 105.2h0.8M235.9 67.4h0.8M197.9 101.8h0.8M205.1 71.3h0.8M199.8 81.6h0.8M217.9 80.8h0.8M211.1 101.2h0.8M243.5 75.7h0.8M232.6 85.8h0.8M222.2 83.4h0.8M206.2 95.8h0.8M228.5 94.9h0.8M246.7 87.4h0.8M225.5 72.2h0.8M204.2 91.1h0.8M197.9 92.0h0.8M209.5 86.5h0.8M200.9 79.1h0.8M247.4 65.0h0.8M236.8 93.4h0.8M195.7 84.0h0.8M219.7 90.8h0.8M209.1 88.4h0.8M246.1 69.1h0.8M203.2 78.2h0.8M219.9 88.2h0.8M197.7 91.4h0.8M212.4 83.5h0.8M196.2 76.3h0.8M200.3 93.2h0.8M210.6 102.5h0.8M220.9 91.8h0.8M237.9 80.1h0.8M225.1 77.0h0.8M211.9 92.5h0.8M204.9 96.1h0.8M225.2 94.8h0.8M212.7 99.8h0.8M235.8 103.6h0.8M200.4 72.2h0.8M209.5 86.0h0.8M221.0 102.7h0.8M196.5 84.1h0.8M201.0 106.6h0.8M204.2 104.7h0.8M210.4 75.3h0.8M200.8 106.3h0.8M208.0 79.7h0.8M221.2 87.4h0.8M199.9 81.2h0.8M196.1 94.4h0.8M202.6 84.9h0.8M211.1 89.6h0.8M228.3 95.5h0.8M212.5 88.0h0.8M202.9 93.3h0.8M195.7 99.6h0.8M216.2 90.2h0.8M242.0 78.8h0.8M213.1 88.1h0.8M236.3 82.7h0.8M199.8 83.2h0.8M196.8 80.5h0.8M202.9 85.1h0.8M237.8 105.3h0.8M212.1 87.0h0.8M198.8 90.0h0.8M209.1 89.3h0.8M195.9 89.0h0.8M217.6 99.6h0.8M217.5 73.2h0.8M208.0 70.5h0.8M202.1 106.8h0.8M199.5 97.1h0.8M194.8 96.0h0.8M211.4 80.6h0.8M195.6 78.3h0.8M197.6 90.5h0.8M194.9 74.0h0.8M203.7 89.4h0.8M198.2 82.2h0.8M220.1 96.9h0.8M201.9 108.0h0.8M196.1 93.5h0.8M195.9 91.4h0.8M196.4 94.9h0.8M203.2 87.9h0.8M212.1 77.5h0.8M204.0 87.9h0.8M196.4 83.2h0.8M201.8 87.0h0.8M204.7 91.2h0.8M230.3 98.0h0.8M224.7 100.6h0.8M199.7 106.8h0.8M195.9 99.4h0.8M197.2 84.8h0.8M215.8 95.1h0.8M228.1 85.8h0.8M221.2 106.1h0.8M204.4 107.1h0.8M194.4 97.9h0.8M208.2 80.4h0.8M233.5 82.3h0.8M194.5 90.2h0.8M195.0 94.7h0.8M210.5 101.7h0.8M213.2 86.9h0.8M216.1 66.5h0.8M207.6 102.1h0.8M230.2 85.1h0.8M204.5 90.7h0.8M197.8 83.8h0.8M220.1 80.6h0.8M206.8 92.9h0.8M203.2 83.8h0.8M212.6 67.4h0.8M230.4 91.5h0.8M212.7 85.4h0.8M207.3 89.3h0.8M195.8 84.2h0.8M218.0 101.5h0.8M196.9 81.6h0.8M201.6 77.6h0.8M201.4 102.4h0.8M209.1 77.9h0.8M198.5 79.3h0.8M203.4 111.5h0.8M223.8 89.9h0.8M209.3 81.7h0.8M196.6 99.0h0.8M208.1 74.0h0.8M229.4 99.4h0.8M205.1 95.6h0.8M225.4 64.7h0.8M239.2 79.2h0.8M223.7 97.7h0.8M213.4 70.6h0.8M216.0 100.5h0.8M217.7 89.0h0.8M202.6 75.8h0.8M209.1 71.7h0.8M246.1 96.4h0.8M236.8 85.7h0.8M204.3 93.1h0.8M222.3 93.3h0.8M206.6 86.1h0.8M223.6 79.1h0.8M196.1 97.8h0.8M201.6 78.6h0.8M199.7 100.7h0.8M205.2 76.4h0.8M206.2 80.2h0.8M200.0 87.5h0.8M200.3 84.1h0.8M196.0 79.9h0.8M201.0 102.1h0.8M210.9 95.1h0.8M204.9 102.6h0.8M222.6 77.3h0.8M214.2 84.0h0.8M221.4 104.9h0.8M202.8 108.5h0.8M231.5 89.9h0.8M207.9 105.1h0.8M222.1 103.4h0.8M202.4 82.5h0.8M204.1 91.7h0.8M213.7 101.7h0.8M232.7 87.4h0.8M212.1 77.4h0.8M202.2 106.9h0.8M213.2 88.5h0.8M210.6 102.8h0.8M218.8 65.6h0.8M238.2 93.9h0.8M212.0 82.5h0.8M212.9 87.6h0.8M205.1 82.5h0.8M210.3 98.7h0.8M246.8 89.2h0.8M234.4 96.3h0.8M217.1 100.6h0.8M231.7 74.0h0.8M204.2 102.6h0.8M219.6 90.8h0.8M204.3 101.1h0.8M201.7 99.6h0.8M227.8 110.0h0.8M230.4 94.4h0.8M225.4 86.0h0.8M211.0 98.1h0.8M237.0 85.7h0.8M216.6 74.1h0.8M209.1 85.2h0.8M195.4 87.7h0.8M204.7 83.1h0.8M204.0 100.6h0.8M225.0 83.6h0.8M214.1 110.9h0.8M220.3 95.3h0.8M216.2 97.7h0.8M196.4 87.4h0.8M198.6 89.6h0.8M211.9 85.1h0.8M237.6 96.9h0.8M211.4 99.3h0.8M209.2 99.2h0.8M210.3 88.7h0.8M209.2 78.8h0.8M234.4 100.2h0.8M223.8 71.6h0.8M227.1 108.6h0.8M202.1 70.4h0.8M196.4 101.9h0.8M218.0 95.0h0.8M222.7 93.0h0.8M194.2 88.5h0.8M226.4 89.0h0.8M195.1 85.5h0.8M219.7 89.2h0.8M214.5 110.2h0.8M213.6 94.0h0.8M199.2 95.4h0.8M222.0 72.8h0.8M216.6 82.7h0.8M197.4 80.5h0.8M197.3 85.6h0.8M212.2 87.8h0.8M231.2 84.9h0.8M197.5 102.2h0.8M203.2 107.7h0.8M214.5 78.0h0.8M203.8 85.9h0.8M209.5 100.3h0.8M228.0 69.2h0.8M195.6 78.5h0.8M203.4 85.2h0.8M202.4 79.9h0.8M208.9 71.7h0.8M227.5 83.6h0.8M206.6 83.1h0.8M217.3 82.9h0.8M219.7 92.8h0.8M227.5 69.3h0.8M195.9 89.2h0.8M246.9 94.5h0.8M218.9 93.4h0.8M220.8 65.0h0.8M217.2 102.6h0.8M211.7 104.5h0.8M196.1 94.2h0.8M231.5 99.5h0.8M197.8 79.7h0.8M224.5 78.8h0.8M217.4 81.1h0.8M203.4 102.2h0.8M204.5 83.4h0.8M205.0 96.0h0.8M211.1 97.7h0.8M202.3 91.4h0.8M217.5 92.0h0.8M194.4 79.2h0.8M194.4 83.3h0.8M195.9 99.5h0.8M204.7 87.9h0.8M224.4 104.7h0.8M208.1 102.7h0.8M228.7 90.5h0.8M216.7 69.7h0.8M199.7 78.9h0.8M206.0 100.0h0.8M206.5 93.0h0.8M243.7 98.4h0.8M224.5 99.2h0.8M222.0 78.9h0.8M232.5 98.6h0.8M218.8 101.6h0.8M200.1 81.2h0.8M204.5 84.9h0.8M195.8 100.1h0.8M201.4 89.6h0.8M225.3 93.4h0.8M204.2 87.5h0.8M210.4 96.1h0.8M218.3 71.8h0.8M207.5 88.7h0.8M223.2 82.0h0.8M208.6 105.0h0.8M219.8 76.5h0.8M237.6 93.4h0.8M204.7 110.6h0.8M208.6 109.0h0.8M204.8 91.4h0.8M196.0 97.8h0.8M218.5 98.9h0.8M247.3 78.2h0.8M219.4 89.7h0.8M219.3 108.5h0.8M215.5 79.2h0.8M200.4 96.1h0.8M217.0 89.2h0.8M200.0 94.0h0.8M223.8 92.4h0.8M211.0 86.4h0.8M197.8 101.6h0.8M201.4 84.9h0.8M200.1 106.0h0.8M203.8 75.5h0.8M212.5 83.9h0.8M199.0 88.1h0.8M195.3 102.0h0.8M202.2 98.0h0.8M226.7 84.6h0.8M244.4 95.1h0.8M212.2 111.1h0.8M221.4 84.0h0.8M214.4 92.7h0.8M231.1 80.6h0.8M197.7 77.2h0.8M196.5 110.8h0.8M213.1 76.8h0.8M220.8 68.7h0.8M200.6 84.7h0.8M215.4 89.6h0.8M194.9 108.1h0.8M199.5 93.8h0.8M200.7 78.8h0.8M210.7 77.9h0.8M243.8 97.0h0.8M206.3 94.6h0.8M208.0 93.6h0.8M220.8 92.4h0.8M231.5 80.9h0.8M215.6 82.0h0.8M205.1 105.6h0.8M212.6 96.0h0.8M212.7 74.4h0.8M194.7 88.5h0.8M202.7 83.5h0.8M211.1 103.9h0.8M229.9 101.2h0.8M235.5 75.3h0.8M226.5 80.5h0.8M199.3 86.4h0.8M219.7 87.2h0.8M202.0 94.1h0.8M220.7 70.3h0.8M227.3 101.6h0.8M202.5 102.1h0.8M196.6 83.5h0.8M214.3 85.1h0.8M204.6 85.2h0.8M219.4 90.7h0.8M194.7 90.9h0.8M199.5 98.0h0.8M208.9 84.1h0.8M194.0 78.8h0.8M213.2 95.9h0.8M218.8 109.2h0.8M195.4 91.0h0.8M211.1 69.1h0.8M230.5 87.6h0.8M221.9 75.7h0.8M207.2 101.1h0.8M221.1 90.3h0.8M198.6 100.4h0.8M213.9 92.3h0.8M237.1 105.9h0.8M194.8 74.7h0.8M211.7 87.9h0.8M199.3 79.8h0.8M210.9 94.6h0.8M240.5 102.2h0.8M211.6 76.9h0.8M204.4 74.6h0.8M211.9 96.3h0.8M218.9 76.9h0.8M200.5 93.8h0.8M218.0 86.1h0.8M208.2 78.0h0.8M234.1 102.1h0.8M236.5 86.0h0.8M214.4 85.8h0.8M194.4 107.3h0.8M201.2 99.2h0.8M222.3 109.2h0.8M225.4 83.5h0.8M201.2 87.5h0.8M234.8 77.5h0.8M221.7 86.9h0.8M207.4 86.0h0.8M228.8 78.2h0.8M205.8 70.8h0.8M202.5 68.3h0.8M217.5 84.6h0.8M217.0 94.1h0.8M204.8 73.9h0.8M211.2 89.3h0.8M206.2 83.0h0.8M197.3 89.9h0.8M230.2 95.2h0.8M196.8 73.7h0.8M227.6 77.9h0.8M221.5 101.5h0.8M235.8 95.4h0.8M196.3 81.8h0.8M205.0 105.9h0.8M216.8 85.8h0.8M215.5 85.1h0.8M201.9 101.8h0.8M211.4 85.3h0.8M199.5 106.7h0.8M229.4 86.8h0.8M216.9 105.2h0.8M230.3 94.4h0.8M214.0 65.7h0.8M195.9 104.5h0.8M232.5 107.0h0.8M217.0 85.3h0.8M199.0 75.6h0.8M198.4 88.2h0.8M228.3 79.8h0.8M231.4 88.7h0.8M224.0 69.4h0.8M241.5 86.3h0.8M206.9 100.3h0.8M200.8 91.5h0.8M205.3 86.9h0.8M202.5 84.3h0.8M221.0 91.4h0.8M218.6 103.8h0.8M237.4 91.9h0.8M203.3 100.8h0.8M219.5 90.6h0.8M195.1 89.9h0.8M242.6 90.1h0.8M216.9 88.8h0.8M201.1 94.2h0.8M216.7 93.0h0.8M225.2 67.9h0.8M201.4 82.7h0.8M215.2 70.3h0.8M195.2 86.7h0.8M197.2 105.1h0.8M226.9 71.7h0.8M208.2 85.2h0.8M216.3 84.8h0.8M197.3 89.6h0.8M195.2 93.4h0.8M228.2 81.1h0.8M209.5 96.6h0.8M239.7 92.6h0.8M225.8 68.1h0.8M210.5 100.5h0.8M224.9 85.4h0.8M212.7 99.5h0.8M202.8 93.3h0.8M202.2 106.4h0.8M243.6 86.9h0.8M199.6 95.7h0.8M220.3 92.6h0.8M201.6 106.0h0.8M211.1 89.1h0.8M220.5 87.0h0.8M215.8 92.9h0.8M212.4 94.9h0.8M208.1 105.2h0.8M210.0 91.1h0.8M196.8 99.3h0.8M213.4 87.5h0.8M196.8 100.9h0.8M214.4 89.2h0.8M196.2 81.2h0.8M208.3 78.9h0.8M213.7 92.3h0.8M242.6 72.7h0.8M235.5 95.5h0.8M203.3 89.0h0.8M215.8 80.9h0.8M225.3 90.9h0.8M204.1 74.7h0.8M194.6 93.9h0.8M228.4 90.2h0.8M197.3 88.1h0.8M207.4 95.9h0.8M227.7 81.1h0.8M226.6 100.0h0.8M196.8 95.5h0.8M195.6 78.5h0.8M202.7 78.3h0.8M201.7 80.2h0.8M204.2 99.9h0.8M202.6 100.0h0.8M242.1 93.4h0.8M198.1 81.4h0.8M216.9 77.1h0.8M200.2 86.8h0.8M218.8 86.1h0.8M223.9 93.3h0.8M206.0 97.3h0.8M211.3 93.7h0.8M196.7 93.5h0.8M210.2 108.9h0.8M208.5 96.5h0.8M209.1 105.9h0.8M221.3 86.6h0.8M224.9 74.3h0.8M200.3 88.0h0.8M203.4 99.2h0.8M208.1 98.3h0.8M236.7 97.4h0.8M198.0 98.5h0.8M215.0 99.9h0.8M222.0 91.1h0.8M238.9 96.4h0.8M231.7 98.6h0.8M221.0 88.4h0.8M195.8 103.8h0.8M225.4 99.0h0.8M235.6 70.7h0.8M196.6 100.7h0.8M217.4 85.9h0.8M196.3 100.8h0.8M224.3 96.5h0.8M194.2 74.7h0.8M213.9 105.6h0.8M213.3 69.3h0.8M202.0 98.3h0.8M199.5 109.1h0.8M234.9 82.2h0.8M194.4 79.4h0.8M230.0 85.1h0.8M222.8 88.0h0.8M238.9 79.0h0.8M210.1 89.2h0.8M213.6 103.8h0.8M207.5 71.8h0.8M233.0 75.5h0.8M232.1 98.0h0.8M228.7 91.1h0.8M209.7 92.2h0.8M198.7 104.0h0.8M214.7 82.9h0.8M217.1 94.0h0.8M228.4 104.0h0.8M226.2 97.5h0.8M231.8 94.1h0.8M202.5 82.6h0.8M230.5 82.9h0.8M204.4 107.1h0.8M201.3 109.3h0.8M231.7 94.6h0.8M213.9 106.5h0.8M201.6 85.4h0.8M211.0 100.5h0.8M209.0 86.4h0.8M221.4 78.8h0.8M229.0 78.2h0.8M207.3 77.5h0.8M217.5 72.3h0.8M208.2 76.0h0.8M212.7 81.5h0.8M239.2 81.4h0.8M212.3 99.7h0.8M224.7 88.2h0.8M205.4 89.3h0.8M233.7 70.2h0.8M195.5 81.1h0.8M223.0 100.9h0.8M197.1 93.6h0.8M228.8 72.4h0.8M219.3 94.8h0.8M194.5 94.7h0.8M241.6 85.4h0.8M213.8 100.2h0.8M230.1 89.5h0.8M236.3 94.8h0.8M201.4 84.8h0.8M217.6 100.7h0.8M195.2 95.7h0.8M212.7 110.4h0.8M219.2 99.0h0.8M244.5 92.1h0.8M217.6 92.5h0.8M194.8 94.4h0.8M208.5 71.3h0.8M213.5 89.4h0.8M201.6 88.0h0.8M207.1 84.8h0.8M211.4 93.0h0.8M219.1 83.7h0.8M239.6 84.7h0.8M222.5 96.1h0.8M197.3 101.4h0.8M209.8 109.2h0.8M209.4 92.5h0.8M226.8 65.4h0.8M211.0 96.8h0.8M200.2 87.8h0.8M197.2 75.8h0.8M230.7 83.7h0.8M197.4 90.0h0.8M211.7 95.3h0.8M205.4 110.0h0.8M242.8 78.8h0.8M194.2 83.2h0.8M212.8 96.5h0.8M198.8 98.6h0.8M194.2 78.5h0.8M209.4 87.8h0.8M200.6 82.9h0.8M223.4 99.0h0.8M213.6 75.0h0.8M206.5 88.8h0.8M203.5 95.6h0.8M196.4 104.7h0.8M211.3 105.5h0.8M216.1 89.6h0.8M202.6 99.1h0.8M200.8 103.2h0.8M231.8 87.2h0.8M215.9 68.7h0.8M220.8 89.3h0.8M201.6 89.1h0.8M218.6 72.2h0.8M202.1 78.4h0.8M209.1 93.6h0.8M206.5 89.2h0.8M238.5 83.2h0.8M216.4 77.4h0.8M202.0 92.2h0.8M200.8 69.1h0.8M196.6 82.5h0.8M220.9 106.5h0.8M216.4 77.0h0.8M197.5 102.8h0.8M227.7 71.6h0.8M199.6 90.6h0.8M221.9 103.9h0.8M204.8 101.3h0.8M212.4 104.9h0.8M203.5 72.2h0.8M207.2 88.4h0.8M212.5 75.2h0.8M217.3 95.4h0.8M199.9 91.0h0.8M207.7 96.4h0.8M215.4 84.1h0.8M195.9 83.8h0.8M208.0 87.7h0.8M195.5 76.3h0.8M210.7 100.6h0.8M223.8 85.8h0.8M215.4 87.6h0.8M230.1 88.6h0.8M220.1 73.9h0.8M216.9 81.2h0.8M233.1 87.1h0.8M246.0 83.6h0.8M215.6 84.8h0.8M212.7 76.2h0.8M200.2 86.9h0.8M211.2 87.8h0.8M210.5 74.3h0.8M212.8 82.8h0.8M210.7 92.6h0.8M198.5 77.1h0.8M229.5 91.7h0.8M204.0 109.0h0.8M195.6 96.2h0.8M236.0 109.2h0.8M212.9 71.3h0.8M206.7 85.4h0.8M196.5 79.1h0.8M210.1 110.0h0.8M200.6 76.2h0.8M217.8 95.8h0.8M206.4 92.0h0.8M221.1 86.6h0.8M222.6 92.9h0.8M220.7 96.0h0.8M195.8 95.0h0.8M225.5 97.6h0.8M200.1 72.0h0.8M207.4 84.9h0.8M195.6 81.3h0.8M226.6 80.3h0.8M202.4 83.3h0.8M205.6 92.2h0.8M211.4 79.6h0.8M243.4 80.2h0.8M228.6 75.8h0.8M216.7 81.6h0.8M194.1 87.0h0.8M197.5 90.1h0.8M206.7 88.2h0.8M196.7 98.0h0.8M194.5 76.4h0.8M202.8 77.4h0.8M196.1 92.4h0.8M244.2 97.9h0.8M227.1 105.8h0.8M203.2 73.5h0.8M228.0 105.5h0.8M237.6 82.7h0.8M225.9 99.8h0.8M221.6 90.0h0.8M230.7 91.5h0.8M219.3 100.7h0.8M209.4 108.4h0.8M220.3 99.5h0.8M211.6 91.2h0.8M208.0 110.7h0.8M208.5 97.7h0.8M204.8 92.6h0.8M218.3 83.7h0.8M237.5 83.0h0.8M194.9 88.1h0.8M231.2 82.7h0.8M206.3 87.1h0.8M221.5 101.4h0.8M230.7 91.6h0.8M216.2 104.8h0.8M207.6 72.1h0.8M207.7 65.8h0.8M215.4 102.5h0.8M197.9 100.6h0.8M229.7 94.0h0.8M203.3 109.4h0.8M202.9 79.9h0.8M209.9 97.4h0.8M200.2 90.3h0.8M216.1 97.0h0.8M234.2 77.1h0.8M217.7 96.5h0.8M195.8 91.6h0.8M206.6 83.7h0.8M205.6 95.9h0.8M204.1 75.1h0.8M198.8 90.7h0.8M226.8 85.8h0.8M208.1 75.3h0.8M206.3 87.9h0.8M222.4 85.7h0.8M210.8 81.9h0.8M214.5 91.3h0.8M194.0 90.6h0.8M223.5 106.9h0.8M218.1 103.1h0.8M207.7 100.0h0.8M197.5 98.3h0.8M198.2 92.1h0.8M219.1 78.4h0.8M208.6 110.0h0.8M209.3 105.3h0.8M230.8 87.5h0.8M201.8 75.5h0.8M208.4 82.0h0.8M224.9 101.2h0.8M199.9 81.3h0.8M213.1 88.4h0.8M221.3 83.7h0.8M220.0 104.2h0.8M246.5 84.3h0.8M200.9 90.7h0.8M196.8 80.9h0.8M195.9 100.2h0.8M208.3 94.7h0.8M212.7 89.6h0.8M202.5 77.4h0.8M220.1 106.6h0.8M198.9 71.4h0.8M212.1 80.1h0.8M219.5 107.2h0.8M210.8 87.1h0.8M212.8 85.5h0.8M200.9 86.7h0.8M203.8 108.5h0.8M197.6 84.1h0.8M234.6 102.6h0.8M233.4 95.7h0.8M220.2 77.3h0.8M201.9 66.8h0.8M229.7 98.0h0.8M227.0 80.4h0.8M201.0 100.0h0.8M204.6 75.4h0.8M237.7 87.6h0.8M194.7 85.7h0.8M225.5 72.6h0.8M212.9 102.0h0.8M200.3 80.0h0.8M195.7 96.2h0.8M222.6 79.8h0.8M232.5 96.4h0.8M198.5 107.4h0.8M203.4 78.4h0.8M223.2 84.0h0.8M225.2 106.0h0.8M206.6 91.4h0.8M212.7 106.1h0.8M201.6 90.8h0.8M200.1 92.4h0.8M198.0 93.1h0.8M200.4 90.9h0.8M219.5 103.9h0.8M218.7 85.4h0.8M209.9 86.4h0.8M204.4 110.2h0.8M218.9 100.2h0.8M212.7 93.6h0.8M196.4 89.0h0.8M205.7 97.0h0.8M194.4 80.8h0.8M229.4 108.9h0.8M200.0 98.0h0.8M198.6 85.1h0.8M225.6 87.6h0.8M202.9 93.5h0.8M216.1 99.4h0.8M220.2 91.1h0.8M241.5 91.4h0.8M200.4 97.6h0.8M194.1 110.9h0.8M212.9 81.5h0.8M218.9 72.3h0.8M202.1 84.5h0.8M202.1 100.2h0.8M220.8 71.9h0.8M213.2 103.4h0.8M194.3 106.4h0.8M219.3 106.7h0.8M227.8 67.1h0.8M219.4 79.5h0.8M241.3 94.1h0.8M228.0 88.0h0.8M208.9 105.3h0.8M197.4 95.9h0.8M198.9 97.5h0.8M222.2 90.4h0.8M220.6 75.1h0.8M239.4 79.7h0.8M196.3 92.3h0.8M208.6 106.3h0.8M195.3 98.1h0.8M206.1 103.1h0.8M218.2 70.8h0.8M210.1 94.7h0.8M203.9 98.5h0.8M204.0 75.8h0.8M242.0 102.1h0.8M232.6 78.0h0.8M202.9 83.0h0.8M220.0 81.5h0.8M214.2 91.9h0.8M203.6 80.9h0.8M217.4 85.6h0.8M244.0 90.9h0.8M220.6 110.7h0.8M205.7 95.0h0.8M196.4 87.0h0.8M199.2 91.7h0.8M202.2 80.2h0.8M215.6 89.3h0.8M203.7 103.0h0.8M200.6 84.7h0.8M196.2 90.8h0.8M240.2 81.3h0.8M201.0 82.3h0.8M235.9 93.8h0.8M218.3 90.7h0.8M235.1 91.1h0.8M212.2 82.6h0.8M231.2 64.1h0.8M195.8 94.2h0.8M203.0 87.5h0.8M217.7 92.8h0.8M209.5 71.6h0.8M201.0 101.3h0.8M233.1 86.3h0.8M207.8 82.2h0.8M197.4 70.8h0.8M211.5 82.1h0.8M201.6 107.6h0.8M243.9 85.2h0.8M196.3 91.4h0.8M202.1 99.7h0.8M208.7 94.8h0.8M199.4 111.0h0.8M207.9 73.9h0.8M231.1 78.1h0.8M229.7 88.4h0.8M213.8 78.2h0.8M204.9 92.7h0.8M206.8 87.5h0.8M205.4 106.1h0.8M215.3 86.3h0.8M211.9 96.2h0.8M229.6 80.1h0.8M221.0 91.6h0.8M233.1 89.1h0.8M212.2 77.8h0.8M243.3 92.8h0.8M213.0 76.5h0.8M195.1 91.7h0.8M221.9 96.2h0.8M194.7 108.2h0.8M199.0 91.0h0.8M198.5 108.4h0.8M208.5 103.0h0.8M223.4 90.5h0.8M232.8 83.9h0.8M196.4 85.6h0.8M209.4 65.6h0.8M206.9 88.1h0.8M209.8 96.2h0.8M224.2 88.3h0.8M206.2 86.8h0.8M222.2 97.9h0.8M204.6 82.4h0.8M215.3 85.7h0.8M210.8 87.9h0.8M199.3 83.2h0.8M223.9 95.9h0.8M194.8 98.8h0.8M231.5 109.7h0.8M199.8 78.3h0.8M225.1 95.2h0.8M200.6 92.6h0.8M239.6 77.1h0.8M196.9 76.6h0.8M202.5 93.8h0.8M197.7 101.0h0.8M213.8 73.5h0.8M201.9 74.6h0.8M196.8 87.8h0.8M223.7 82.6h0.8M206.4 106.5h0.8M201.4 97.8h0.8M194.9 110.3h0.8M205.2 71.8h0.8M205.3 89.6h0.8M212.5 78.6h0.8M199.8 95.1h0.8M225.7 99.2h0.8M214.9 85.9h0.8M201.8 101.4h0.8M206.9 95.8h0.8M195.7 86.2h0.8M220.0 69.2h0.8M223.4 78.9h0.8M221.2 80.7h0.8M207.8 91.2h0.8M224.6 93.6h0.8M201.9 102.8h0.8M207.6 89.8h0.8M234.5 96.5h0.8M197.2 104.2h0.8M216.6 105.6h0.8M194.4 85.5h0.8M197.7 99.8h0.8M197.3 69.9h0.8M201.6 90.6h0.8M211.2 98.2h0.8M199.9 85.8h0.8M195.4 90.3h0.8M194.1 111.5h0.8M205.0 82.5h0.8M205.1 99.2h0.8M201.3 93.0h0.8M194.4 76.9h0.8M201.6 106.8h0.8M205.1 110.7h0.8M231.6 109.3h0.8M198.3 101.3h0.8M216.3 105.4h0.8M198.4 93.9h0.8M197.5 76.8h0.8M197.9 90.3h0.8M213.6 101.5h0.8M211.4 86.0h0.8M198.9 76.0h0.8M207.3 69.1h0.8M217.2 77.6h0.8M215.9 85.5h0.8M221.1 109.5h0.8M224.0 87.6h0.8M197.0 77.1h0.8M197.4 80.1h0.8M231.4 93.4h0.8M218.6 103.8h0.8M202.7 87.4h0.8M201.8 92.7h0.8M213.0 74.6h0.8M213.0 106.5h0.8M235.5 88.7h0.8M206.8 108.3h0.8M206.5 96.0h0.8M200.2 104.3h0.8M232.0 89.9h0.8M198.1 83.5h0.8M197.4 93.7h0.8M223.3 64.4h0.8M199.3 78.2h0.8M198.4 74.7h0.8M205.4 88.9h0.8M223.6 82.1h0.8M226.9 81.6h0.8M215.4 90.8h0.8M202.8 91.9h0.8M210.0 89.7h0.8M218.9 100.7h0.8M195.5 90.4h0.8M206.3 91.2h0.8M197.1 82.5h0.8M195.7 81.3h0.8M194.3 90.5h0.8M196.5 85.6h0.8M197.8 97.1h0.8M196.3 80.9h0.8M204.1 105.6h0.8M211.1 96.5h0.8M201.4 86.8h0.8M209.6 79.5h0.8M221.7 81.6h0.8M237.3 84.4h0.8M203.5 91.1h0.8M212.2 81.4h0.8M231.0 75.1h0.8M215.6 88.3h0.8M201.9 77.2h0.8M201.6 87.7h0.8M199.8 99.8h0.8M214.2 85.2h0.8M205.3 83.3h0.8M235.4 90.4h0.8M226.5 92.9h0.8M208.0 104.9h0.8M195.8 97.5h0.8M211.4 68.0h0.8M202.9 91.0h0.8M214.5 106.5h0.8M224.0 103.4h0.8M213.0 98.9h0.8M243.5 82.1h0.8M195.2 89.9h0.8M200.8 102.5h0.8M207.5 81.5h0.8M214.1 110.6h0.8M212.1 74.9h0.8M207.5 76.4h0.8M205.6 101.9h0.8M201.4 95.8h0.8M221.7 83.2h0.8M219.6 98.9h0.8M199.0 91.3h0.8M204.4 75.0h0.8M214.9 87.8h0.8M209.8 107.1h0.8M235.0 101.5h0.8M206.2 98.8h0.8M228.6 85.8h0.8M232.2 99.5h0.8M214.7 80.3h0.8M219.4 103.2h0.8M203.8 94.2h0.8M230.3 92.5h0.8M202.8 77.5h0.8M237.8 91.3h0.8M207.5 104.4h0.8M202.0 79.5h0.8M199.9 91.5h0.8M212.9 99.3h0.8M195.4 110.3h0.8M227.1 89.3h0.8M199.9 97.5h0.8M214.6 111.1h0.8M202.5 88.6h0.8M231.0 95.5h0.8M230.6 93.9h0.8M213.3 97.0h0.8M213.5 90.4h0.8M214.2 98.6h0.8M195.6 100.8h0.8M237.4 103.1h0.8M226.2 82.1h0.8M207.3 89.2h0.8M208.6 89.3h0.8M212.5 105.6h0.8M211.6 91.6h0.8M199.9 75.1h0.8M197.9 105.2h0.8M223.4 92.4h0.8M203.0 81.0h0.8M217.4 91.2h0.8M210.2 92.5h0.8M207.0 74.4h0.8M221.7 85.1h0.8M199.2 76.6h0.8M211.8 97.7h0.8M216.2 104.0h0.8M205.5 107.4h0.8M204.1 96.4h0.8M217.8 75.1h0.8M213.4 84.7h0.8M199.2 98.2h0.8M220.0 98.7h0.8M220.5 100.7h0.8M201.0 72.0h0.8M226.6 76.1h0.8M212.5 100.6h0.8M247.5 92.7h0.8M223.4 103.8h0.8M210.1 105.2h0.8M233.7 102.8h0.8M205.2 90.9h0.8M216.1 104.9h0.8M200.8 89.5h0.8M204.8 94.2h0.8M208.2 108.8h0.8M199.4 96.9h0.8M198.1 90.0h0.8M199.3 96.8h0.8M246.7 69.7h0.8M232.0 88.7h0.8M202.6 101.3h0.8M204.0 87.7h0.8M234.7 92.8h0.8M211.2 100.9h0.8M221.6 91.8h0.8M204.3 82.6h0.8M216.7 102.5h0.8M204.3 70.5h0.8M203.8 98.9h0.8M210.8 88.8h0.8M211.6 92.1h0.8M210.6 99.7h0.8M219.0 94.6h0.8M195.8 98.8h0.8M204.7 76.5h0.8M206.6 91.7h0.8M231.6 72.4h0.8M218.8 93.9h0.8M206.8 98.7h0.8M195.8 82.5h0.8M202.8 91.0h0.8M224.0 81.1h0.8M197.0 86.8h0.8M223.0 84.7h0.8M195.2 104.9h0.8M211.2 102.6h0.8M196.9 93.5h0.8M217.2 82.5h0.8M226.3 90.7h0.8M223.4 70.7h0.8M203.1 92.5h0.8M201.9 96.0h0.8M216.6 104.4h0.8M208.3 79.0h0.8M198.6 76.5h0.8M207.8 86.0h0.8M238.4 67.1h0.8M213.6 93.8h0.8M197.1 72.8h0.8M224.2 88.6h0.8M203.7 84.1h0.8M222.9 86.1h0.8M200.9 83.7h0.8M216.0 101.1h0.8M238.8 104.9h0.8M222.8 89.8h0.8M232.6 101.1h0.8M221.7 97.2h0.8M200.8 83.6h0.8M198.3 84.2h0.8M236.4 87.4h0.8M221.5 96.3h0.8M212.0 73.8h0.8M224.5 76.1h0.8M218.3 75.3h0.8M235.4 85.4h0.8M204.8 81.7h0.8M234.5 82.3h0.8M198.6 93.5h0.8M214.4 93.3h0.8M194.4 105.1h0.8M194.8 88.2h0.8M215.9 111.4h0.8M210.3 77.4h0.8M208.3 75.4h0.8M222.2 72.9h0.8M218.3 99.8h0.8M230.8 81.8h0.8M226.3 95.9h0.8M216.9 81.9h0.8M219.9 89.6h0.8M216.9 103.4h0.8M201.7 81.3h0.8M195.5 99.3h0.8M201.4 101.0h0.8M214.3 90.1h0.8M226.9 74.2h0.8M227.5 92.3h0.8M204.2 99.0h0.8M199.4 82.9h0.8M195.1 93.0h0.8M235.0 104.0h0.8M194.4 77.1h0.8M212.3 74.4h0.8M199.6 69.8h0.8M220.8 109.3h0.8M241.7 93.1h0.8M221.8 91.9h0.8M214.5 77.5h0.8M196.1 78.2h0.8M218.2 98.3h0.8M222.2 107.6h0.8M201.0 85.1h0.8M204.3 97.8h0.8M198.1 98.3h0.8M202.3 87.8h0.8M223.1 82.9h0.8M212.7 98.4h0.8M210.2 71.5h0.8M196.1 94.7h0.8M198.3 81.8h0.8M227.2 93.6h0.8M207.7 82.7h0.8M207.9 75.9h0.8M203.7 85.5h0.8M225.4 86.8h0.8M204.8 93.6h0.8M206.8 95.7h0.8M195.6 91.6h0.8M226.4 95.6h0.8M228.4 84.8h0.8M196.1 88.9h0.8M206.7 78.3h0.8M220.5 105.5h0.8M230.0 84.1h0.8M231.4 106.4h0.8M202.6 102.0h0.8M199.5 101.3h0.8M200.1 98.8h0.8M195.8 105.3h0.8M231.8 87.1h0.8M226.1 86.8h0.8M233.5 89.4h0.8M216.7 86.8h0.8M197.0 96.8h0.8M220.8 95.5h0.8M194.9 90.8h0.8M228.5 90.5h0.8M212.1 91.8h0.8M197.2 93.9h0.8M194.4 86.5h0.8M209.3 109.4h0.8M214.0 81.1h0.8M202.6 90.1h0.8M205.3 89.8h0.8M241.4 94.4h0.8M216.9 86.6h0.8M212.4 101.5h0.8M232.0 77.8h0.8M203.1 92.9h0.8M242.0 84.7h0.8M220.8 72.9h0.8M205.3 83.6h0.8M198.6 75.5h0.8M201.3 81.9h0.8M234.9 97.0h0.8M236.2 79.5h0.8M206.9 105.6h0.8M198.7 99.2h0.8M233.5 84.1h0.8M206.6 74.3h0.8M244.7 83.1h0.8M241.6 103.2h0.8M212.8 77.7h0.8M217.0 96.9h0.8M206.2 103.0h0.8M213.4 93.5h0.8M235.9 100.8h0.8M207.1 107.2h0.8M202.2 86.8h0.8M207.0 96.2h0.8M206.8 96.9h0.8M229.5 81.7h0.8M241.1 74.5h0.8M245.2 92.1h0.8M233.0 74.1h0.8M225.8 91.4h0.8M197.7 95.6h0.8M201.2 92.3h0.8M225.3 89.8h0.8M207.9 67.7h0.8M230.0 107.2h0.8M202.3 95.7h0.8M226.5 92.3h0.8M213.6 80.9h0.8M218.9 109.3h0.8M201.9 86.3h0.8M235.7 60.6h0.8M239.8 89.5h0.8M217.5 70.9h0.8M238.7 87.6h0.8M198.7 83.1h0.8M223.1 103.6h0.8M236.0 75.5h0.8M196.7 97.7h0.8M217.5 105.2h0.8M237.4 69.6h0.8M226.1 104.5h0.8M209.5 100.1h0.8M234.1 106.2h0.8M220.2 109.6h0.8M237.9 80.6h0.8M205.8 101.2h0.8M202.4 81.9h0.8M201.8 83.6h0.8M236.7 74.4h0.8M201.7 77.7h0.8M195.5 93.6h0.8M237.4 71.7h0.8M231.6 98.8h0.8M213.2 102.9h0.8M199.3 111.3h0.8M205.9 87.3h0.8M203.8 68.7h0.8M201.9 107.7h0.8M232.4 86.4h0.8M202.9 98.1h0.8M215.7 99.2h0.8M246.6 89.1h0.8M209.6 82.3h0.8M205.8 102.0h0.8M223.1 104.9h0.8M215.0 87.1h0.8M216.3 105.9h0.8M194.2 92.1h0.8M223.4 77.4h0.8M199.0 88.9h0.8M218.4 85.0h0.8M226.5 90.8h0.8M194.5 88.8h0.8M244.5 79.1h0.8M233.2 89.2h0.8M239.2 80.2h0.8M239.2 72.1h0.8M229.7 92.2h0.8M224.4 83.3h0.8M202.5 96.8h0.8M209.2 96.1h0.8M196.1 90.4h0.8M207.2 108.5h0.8M194.3 73.2h0.8M214.0 83.9h0.8M197.2 80.3h0.8M194.7 101.6h0.8M196.2 92.7h0.8M198.7 96.2h0.8M207.4 77.6h0.8M206.9 91.2h0.8M198.2 84.2h0.8M206.9 109.6h0.8M213.3 108.3h0.8M221.9 99.6h0.8M230.2 89.2h0.8M205.1 111.0h0.8M197.9 88.5h0.8M204.5 83.4h0.8M207.6 90.4h0.8M196.2 110.1h0.8M208.8 92.4h0.8M218.8 101.6h0.8M238.6 95.9h0.8M214.0 83.0h0.8M231.2 88.1h0.8M213.0 89.6h0.8M243.4 81.7h0.8M208.7 72.7h0.8M199.4 80.3h0.8M217.2 85.2h0.8M222.8 105.8h0.8M210.9 97.0h0.8M230.8 81.4h0.8M239.5 83.1h0.8M204.2 87.4h0.8M206.4 77.0h0.8M195.6 80.2h0.8M242.5 78.6h0.8M234.7 77.2h0.8M223.1 90.1h0.8M206.3 101.1h0.8M201.9 78.6h0.8M223.5 96.1h0.8M216.8 76.1h0.8M200.6 85.1h0.8M199.5 83.4h0.8M215.9 90.1h0.8M205.1 88.2h0.8M203.4 85.7h0.8M223.3 81.3h0.8M208.2 96.5h0.8M206.3 93.6h0.8M200.6 80.3h0.8M203.3 99.4h0.8M218.3 80.2h0.8M212.1 84.1h0.8M206.7 86.3h0.8M234.6 89.5h0.8M212.9 78.4h0.8M246.0 77.6h0.8M227.3 105.0h0.8M195.4 110.8h0.8M209.5 105.8h0.8M241.8 88.2h0.8M206.5 86.3h0.8M196.1 89.8h0.8M209.1 83.6h0.8M238.6 100.0h0.8M217.6 81.1h0.8M211.5 98.1h0.8M223.0 101.1h0.8M197.3 87.6h0.8M236.6 92.0h0.8M211.1 73.3h0.8M200.4 106.2h0.8M201.4 98.9h0.8M216.8 98.1h0.8M237.0 74.6h0.8M200.1 91.1h0.8M194.8 94.0h0.8M231.4 106.4h0.8M220.0 99.6h0.8M226.5 107.4h0.8M210.3 72.7h0.8M223.9 76.4h0.8M202.4 76.9h0.8M204.2 92.3h0.8M225.0 91.2h0.8M198.7 78.0h0.8M243.1 88.4h0.8M237.1 97.2h0.8M216.5 86.3h0.8M211.6 95.5h0.8M205.2 103.6h0.8M218.2 93.4h0.8M197.1 88.5h0.8M197.6 77.2h0.8M220.2 96.1h0.8M224.0 84.7h0.8M198.4 94.4h0.8M198.5 80.8h0.8M224.0 76.3h0.8M221.8 81.1h0.8M206.7 96.2h0.8M203.3 81.1h0.8M219.6 86.1h0.8M207.4 96.8h0.8M216.3 96.4h0.8M200.4 80.0h0.8M211.0 96.5h0.8M214.1 96.5h0.8M200.6 105.2h0.8M246.2 72.3h0.8M246.1 87.5h0.8M218.7 75.8h0.8M225.7 105.5h0.8M212.8 89.3h0.8M219.1 87.0h0.8M227.3 81.4h0.8M200.6 93.5h0.8M215.9 75.9h0.8M221.2 95.5h0.8M225.2 93.9h0.8M201.9 82.6h0.8M204.9 102.1h0.8M198.6 73.6h0.8M221.1 70.8h0.8M195.1 96.5h0.8M214.5 92.1h0.8M233.7 96.4h0.8M203.2 89.4h0.8M196.6 93.7h0.8M215.2 105.3h0.8M229.3 96.0h0.8M213.0 93.7h0.8M202.7 73.1h0.8M226.4 79.7h0.8M194.9 87.6h0.8M241.2 92.2h0.8M219.9 87.7h0.8M199.2 103.1h0.8M194.5 102.4h0.8M215.1 72.1h0.8M203.9 103.3h0.8M212.1 90.6h0.8M198.5 76.1h0.8M197.6 99.2h0.8M200.4 87.4h0.8M225.1 95.0h0.8M222.5 83.6h0.8M219.5 74.1h0.8M210.1 96.7h0.8M243.2 79.1h0.8M201.4 95.3h0.8M198.3 84.9h0.8M205.3 110.2h0.8M202.7 78.3h0.8M196.7 88.2h0.8M216.6 92.1h0.8M199.8 87.6h0.8M209.1 84.0h0.8M196.7 94.5h0.8M217.3 83.5h0.8M208.0 105.2h0.8M194.6 98.8h0.8M219.3 79.7h0.8M211.8 80.5h0.8M202.6 96.6h0.8M222.4 86.6h0.8M200.5 86.5h0.8M243.4 72.1h0.8M210.5 94.4h0.8M222.4 106.6h0.8M196.7 96.3h0.8M195.5 100.7h0.8M205.6 76.5h0.8M198.6 89.4h0.8M232.9 100.9h0.8M206.2 75.9h0.8M198.5 99.7h0.8M210.8 100.7h0.8M222.6 95.0h0.8M243.3 89.5h0.8M210.1 92.8h0.8M198.7 73.1h0.8M233.2 99.3h0.8M219.5 87.7h0.8M223.2 89.2h0.8M200.2 88.9h0.8M203.3 74.8h0.8M197.3 92.4h0.8M227.5 91.7h0.8M207.8 96.9h0.8M205.2 107.8h0.8M207.5 85.2h0.8M240.4 100.4h0.8M201.7 89.4h0.8M199.5 92.2h0.8M233.8 94.5h0.8M236.5 84.1h0.8M203.2 85.0h0.8M211.6 85.7h0.8M195.7 100.8h0.8M207.4 99.5h0.8M203.7 88.2h0.8M202.7 74.5h0.8M235.6 82.9h0.8M195.3 83.7h0.8M221.2 93.6h0.8M199.1 78.0h0.8M215.6 93.3h0.8M207.0 90.6h0.8M214.6 103.6h0.8M213.5 89.3h0.8M227.1 92.7h0.8M197.7 87.2h0.8M207.5 79.8h0.8M194.6 75.2h0.8M222.3 107.3h0.8M196.5 89.6h0.8M202.2 92.2h0.8M210.1 86.9h0.8M230.1 79.5h0.8M213.5 80.6h0.8M214.7 75.8h0.8M194.9 109.0h0.8M196.0 83.8h0.8M229.4 93.8h0.8M222.6 100.6h0.8M242.1 65.6h0.8M222.7 78.9h0.8M213.7 98.9h0.8M196.5 105.4h0.8M215.3 96.8h0.8M227.7 72.8h0.8M222.4 102.6h0.8M220.5 92.6h0.8M197.9 76.1h0.8M214.9 108.3h0.8M229.5 106.3h0.8M221.4 86.6h0.8M198.0 101.7h0.8M205.1 91.8h0.8M198.3 73.4h0.8M212.9 108.7h0.8M217.2 96.2h0.8M201.9 106.3h0.8M233.8 88.5h0.8M236.1 98.1h0.8M205.1 96.9h0.8M203.5 82.7h0.8M214.3 99.6h0.8M194.0 91.3h0.8M196.4 73.7h0.8M234.3 93.8h0.8M217.5 73.3h0.8M244.0 99.4h0.8M207.6 75.4h0.8M195.1 83.8h0.8M237.7 75.6h0.8M219.6 96.5h0.8M228.0 95.2h0.8M200.0 96.6h0.8M217.5 75.3h0.8M200.7 75.6h0.8M226.6 102.0h0.8M228.1 99.4h0.8M216.6 81.7h0.8M211.6 102.3h0.8M228.5 99.8h0.8M225.5 92.4h0.8M225.3 96.1h0.8M213.4 95.6h0.8M225.3 108.9h0.8M234.8 82.4h0.8M203.3 90.9h0.8M209.0 80.4h0.8M223.1 100.0h0.8M211.7 94.1h0.8M225.0 99.4h0.8M236.6 76.1h0.8M223.5 75.0h0.8M201.0 89.9h0.8M194.8 87.2h0.8M215.3 73.4h0.8M194.5 76.7h0.8M202.9 78.8h0.8M218.3 82.4h0.8M195.2 92.2h0.8M215.7 76.6h0.8M196.4 73.0h0.8M215.9 79.0h0.8M211.8 94.5h0.8M224.1 93.8h0.8M223.0 91.3h0.8M194.1 79.2h0.8M211.5 92.5h0.8M235.2 104.5h0.8M203.5 91.3h0.8M208.7 83.0h0.8M217.3 82.4h0.8M206.0 92.2h0.8M242.5 91.3h0.8M206.2 100.5h0.8M206.2 80.2h0.8M205.6 94.9h0.8M226.0 81.2h0.8M202.6 86.3h0.8M194.6 78.0h0.8M228.8 81.9h0.8M201.9 93.2h0.8M195.6 109.6h0.8M213.2 90.6h0.8M196.4 83.1h0.8M204.6 91.7h0.8M216.0 76.6h0.8M219.7 76.2h0.8M221.5 69.0h0.8M226.0 66.9h0.8M194.5 72.1h0.8M203.4 85.7h0.8M222.8 106.5h0.8M213.1 84.7h0.8M203.2 91.0h0.8M237.1 88.0h0.8M235.0 64.1h0.8M242.6 68.1h0.8M229.0 77.0h0.8M240.8 72.1h0.8M245.1 58.3h0.8M227.8 68.3h0.8M236.4 62.7h0.8M231.4 73.1h0.8M225.0 77.5h0.8M238.6 70.5h0.8M231.1 63.4h0.8M228.4 82.2h0.8M242.6 61.1h0.8M235.2 61.2h0.8M230.7 71.1h0.8M247.2 72.7h0.8M225.7 64.9h0.8M241.8 69.6h0.8M239.9 63.9h0.8M231.1 63.8h0.8M233.9 66.3h0.8M236.6 65.8h0.8M244.2 59.7h0.8M242.2 69.2h0.8M244.4 66.9h0.8M248.7 64.1h0.8M248.8 60.6h0.8M240.3 70.1h0.8M234.0 71.1h0.8M234.9 71.4h0.8M238.2 60.0h0.8M235.6 73.3h0.8M228.2 73.3h0.8M239.7 74.4h0.8M235.9 63.1h0.8M231.3 66.2h0.8M243.3 75.0h0.8M239.1 64.9h0.8M243.8 59.8h0.8M244.8 65.0h0.8M236.7 62.2h0.8M242.7 71.3h0.8M245.4 64.6h0.8M236.6 71.5h0.8M241.2 63.7h0.8M237.3 65.1h0.8M240.2 69.3h0.8M229.5 75.8h0.8M223.4 68.7h0.8M240.1 55.3h0.8M227.0 81.4h0.8M243.4 60.7h0.8M235.4 70.8h0.8M240.9 69.8h0.8M231.8 69.2h0.8M234.7 67.4h0.8M235.5 64.4h0.8M228.7 71.3h0.8M240.6 78.4h0.8M252.1 64.3h0.8M235.5 71.1h0.8M239.9 65.2h0.8M235.6 58.5h0.8M231.1 72.9h0.8M235.8 62.6h0.8M226.1 77.8h0.8M236.8 77.2h0.8M237.5 74.5h0.8M234.0 67.1h0.8M244.0 60.9h0.8M223.2 74.8h0.8M237.5 65.3h0.8M238.8 68.4h0.8M228.5 68.4h0.8M241.8 61.6h0.8M227.3 78.6h0.8M236.7 71.0h0.8M248.8 66.8h0.8M235.2 81.5h0.8M236.6 64.9h0.8M234.6 73.2h0.8M245.5 63.4h0.8M230.8 71.9h0.8M239.8 66.8h0.8M232.5 60.1h0.8M241.6 67.0h0.8M224.1 76.8h0.8M236.1 61.6h0.8M241.6 75.3h0.8M232.7 63.3h0.8M238.6 70.6h0.8M243.7 67.0h0.8M228.2 64.6h0.8M245.1 67.4h0.8M235.3 75.3h0.8M229.7 74.2h0.8M224.3 71.2h0.8M231.9 75.0h0.8M242.0 68.0h0.8M236.3 58.2h0.8M231.7 73.1h0.8M248.6 66.3h0.8M229.2 62.5h0.8M233.5 61.6h0.8M244.7 64.8h0.8M223.2 64.3h0.8M248.4 71.9h0.8M238.6 63.0h0.8M229.9 79.1h0.8M242.6 71.0h0.8M226.0 74.9h0.8M248.4 62.8h0.8M222.0 63.9h0.8M234.5 60.0h0.8M238.0 66.8h0.8M239.6 65.3h0.8M236.4 72.8h0.8M237.6 63.2h0.8M221.2 68.3h0.8M226.6 72.0h0.8M239.4 75.7h0.8M224.6 75.2h0.8M224.4 71.4h0.8M228.9 66.1h0.8M239.1 72.9h0.8M243.8 59.4h0.8M245.6 66.1h0.8M238.9 75.6h0.8M237.8 81.7h0.8M233.5 63.3h0.8M224.9 81.7h0.8M237.7 64.9h0.8M232.7 79.0h0.8M238.0 75.4h0.8M239.3 77.2h0.8M239.9 68.5h0.8M236.7 74.0h0.8M237.5 67.8h0.8M221.7 70.9h0.8M238.7 60.1h0.8M237.4 75.3h0.8M230.5 70.1h0.8M237.3 76.0h0.8M235.9 75.7h0.8M232.1 75.5h0.8M227.9 65.2h0.8M239.7 72.4h0.8M237.4 77.6h0.8M240.2 68.1h0.8M235.5 67.4h0.8M236.5 64.4h0.8M231.6 66.7h0.8M233.0 77.5h0.8M230.0 69.6h0.8M221.4 69.6h0.8M236.5 61.2h0.8M231.0 69.9h0.8M226.0 66.5h0.8M234.8 70.4h0.8M238.8 62.6h0.8M245.6 73.6h0.8M238.7 66.2h0.8M233.6 83.7h0.8M249.1 67.1h0.8M231.6 76.6h0.8M234.8 73.1h0.8M250.1 62.9h0.8M232.9 69.6h0.8M245.7 65.9h0.8M235.2 73.4h0.8M239.5 68.8h0.8M224.0 78.3h0.8M241.6 69.3h0.8M231.3 61.5h0.8M235.1 65.4h0.8M232.7 66.5h0.8M226.6 74.9h0.8M234.5 69.9h0.8M239.5 65.0h0.8M228.9 60.9h0.8M232.6 74.4h0.8M244.6 75.0h0.8M243.0 70.2h0.8M232.1 66.6h0.8M233.4 68.3h0.8M227.9 72.6h0.8M241.9 64.7h0.8M222.4 69.0h0.8M246.6 60.3h0.8M242.8 63.4h0.8M235.2 69.6h0.8M236.5 73.4h0.8M233.3 63.4h0.8M222.2 62.9h0.8M243.9 68.6h0.8M246.6 60.8h0.8M230.1 71.1h0.8M232.5 61.7h0.8M243.1 66.5h0.8M232.3 68.4h0.8M236.9 67.0h0.8M235.7 76.7h0.8M230.2 71.5h0.8M233.0 66.3h0.8M237.9 61.9h0.8M241.6 76.2h0.8M246.7 74.0h0.8M221.1 71.6h0.8M248.5 74.6h0.8M239.5 72.5h0.8M232.6 64.5h0.8M243.8 62.3h0.8M244.7 69.6h0.8M237.7 72.5h0.8M237.5 64.1h0.8M234.2 61.3h0.8M248.4 64.4h0.8M232.5 73.5h0.8M244.2 68.7h0.8M231.2 67.9h0.8M237.8 71.0h0.8M229.9 60.5h0.8M239.5 74.8h0.8M238.1 61.8h0.8M249.1 75.2h0.8M240.4 63.7h0.8M233.9 77.6h0.8M230.6 66.1h0.8M238.4 77.6h0.8M238.3 61.8h0.8M237.9 56.7h0.8M238.9 73.3h0.8M249.0 60.6h0.8M235.6 60.3h0.8M243.9 61.3h0.8M233.6 69.6h0.8M244.0 62.1h0.8M231.7 63.5h0.8M241.0 58.1h0.8M236.8 67.5h0.8M242.5 67.7h0.8M238.5 69.8h0.8M228.6 80.9h0.8M245.5 67.3h0.8M239.6 58.9h0.8M223.3 68.2h0.8M236.5 68.4h0.8M228.7 71.2h0.8M222.1 77.3h0.8M235.7 73.3h0.8M223.0 70.5h0.8M250.4 62.7h0.8M244.1 62.8h0.8M235.3 64.5h0.8M235.1 63.0h0.8M243.4 64.8h0.8M243.7 65.2h0.8M234.4 65.3h0.8M228.3 69.8h0.8M232.4 69.4h0.8M240.1 63.7h0.8M249.9 68.0h0.8M230.3 68.1h0.8M240.9 69.1h0.8M234.3 61.6h0.8M247.3 63.9h0.8M241.2 66.1h0.8M239.8 67.3h0.8M236.1 76.0h0.8M225.0 75.3h0.8M231.6 67.9h0.8M235.1 82.7h0.8M247.9 69.9h0.8M230.8 74.3h0.8M224.9 73.4h0.8M230.6 74.4h0.8M232.0 71.0h0.8M235.9 69.6h0.8M243.2 65.9h0.8M219.4 69.2h0.8M238.7 69.0h0.8M246.1 60.3h0.8M224.7 73.0h0.8M222.5 77.1h0.8M242.2 68.8h0.8M243.9 77.6h0.8M243.5 64.9h0.8M245.2 63.5h0.8M223.7 68.1h0.8M233.9 65.7h0.8M223.1 63.1h0.8M240.0 78.7h0.8M241.8 76.5h0.8M229.2 73.6h0.8M231.8 71.5h0.8M241.8 69.0h0.8M226.7 75.7h0.8M234.7 65.7h0.8M240.9 67.6h0.8M239.2 58.3h0.8M239.4 73.2h0.8M220.8 76.4h0.8M223.5 76.8h0.8M231.1 71.9h0.8M223.8 75.7h0.8M240.4 75.1h0.8M247.2 71.3h0.8M234.9 68.4h0.8M234.9 63.4h0.8M235.3 64.9h0.8M229.5 72.7h0.8M240.9 71.9h0.8M230.9 73.8h0.8M232.3 71.6h0.8M234.4 58.6h0.8M247.0 68.9h0.8M236.1 68.4h0.8M233.2 79.3h0.8M224.2 67.2h0.8M228.3 68.4h0.8M228.0 69.4h0.8M236.9 62.1h0.8M242.4 66.0h0.8M234.6 63.7h0.8M243.2 78.5h0.8M235.2 70.2h0.8M234.8 72.5h0.8M235.2 56.1h0.8M228.3 64.8h0.8M232.4 83.5h0.8M240.6 67.3h0.8M227.9 75.2h0.8M230.2 60.2h0.8M237.1 71.4h0.8M235.7 63.2h0.8M236.1 71.1h0.8M238.1 72.1h0.8M231.2 61.2h0.8M237.3 77.6h0.8M234.2 59.7h0.8M238.7 72.3h0.8M236.8 68.2h0.8M242.4 67.0h0.8M248.4 63.9h0.8M220.6 72.6h0.8M239.5 81.3h0.8M225.0 69.6h0.8M239.2 60.6h0.8M232.9 61.7h0.8M227.6 69.4h0.8M227.9 72.1h0.8M237.6 75.1h0.8M238.9 69.0h0.8M235.4 61.2h0.8M232.5 61.4h0.8M235.8 74.8h0.8M241.4 77.7h0.8M236.0 67.0h0.8M244.5 58.2h0.8M240.3 64.5h0.8M233.2 73.9h0.8M244.0 59.4h0.8M231.5 73.4h0.8M222.0 66.9h0.8M236.5 63.4h0.8M241.8 61.0h0.8M235.6 62.5h0.8M235.1 64.4h0.8M231.0 69.8h0.8M240.5 62.7h0.8M247.0 64.1h0.8M236.2 64.4h0.8M223.3 76.1h0.8M242.0 67.4h0.8M234.4 71.3h0.8M230.6 60.2h0.8M248.2 70.6h0.8M240.7 72.1h0.8M234.2 59.3h0.8M233.8 71.2h0.8M230.3 76.3h0.8M240.4 72.0h0.8M239.3 64.7h0.8M235.0 71.5h0.8M219.5 76.2h0.8M247.1 69.0h0.8M229.4 69.4h0.8M246.0 71.4h0.8M236.1 82.4h0.8M243.3 65.0h0.8M247.0 65.2h0.8M239.0 63.2h0.8M229.3 76.0h0.8M236.4 69.4h0.8M227.2 67.3h0.8M233.2 73.5h0.8M224.7 68.7h0.8M241.9 70.4h0.8M230.9 73.3h0.8M235.5 67.1h0.8M245.9 57.0h0.8M229.1 77.5h0.8M243.3 70.5h0.8M230.5 71.3h0.8M239.9 72.3h0.8M246.9 56.4h0.8M236.0 77.3h0.8M236.3 75.2h0.8M240.5 78.4h0.8M242.7 74.8h0.8M224.6 62.1h0.8M237.8 65.7h0.8M241.1 68.7h0.8M230.0 71.0h0.8M230.8 65.2h0.8M238.0 71.6h0.8M244.7 70.2h0.8M237.5 70.0h0.8M232.7 73.0h0.8M219.9 76.4h0.8M227.8 75.5h0.8M238.1 78.9h0.8M234.7 62.9h0.8M225.3 76.4h0.8M247.9 60.4h0.8M233.6 70.8h0.8M244.2 59.5h0.8M235.6 62.0h0.8M233.3 72.4h0.8M225.8 72.8h0.8M244.2 68.3h0.8M235.6 63.5h0.8M234.1 76.5h0.8M239.1 79.8h0.8M227.4 66.2h0.8M237.1 71.5h0.8M230.9 67.2h0.8M231.3 73.5h0.8M231.5 64.8h0.8M244.9 71.1h0.8M233.0 64.1h0.8M228.9 74.6h0.8M229.0 73.2h0.8M229.3 74.5h0.8M231.0 81.6h0.8M232.5 68.5h0.8M240.2 69.1h0.8M232.0 66.0h0.8M233.4 59.6h0.8M234.0 75.0h0.8M237.4 68.2h0.8M249.4 65.4h0.8M229.9 68.4h0.8M233.4 78.5h0.8M239.6 62.4h0.8M236.1 69.0h0.8M245.5 71.6h0.8M232.9 76.5h0.8M242.1 71.8h0.8M238.1 71.0h0.8M236.7 68.7h0.8M230.7 74.5h0.8M232.6 63.7h0.8M245.4 67.1h0.8M231.7 66.1h0.8M235.4 69.3h0.8M231.0 79.3h0.8M231.6 64.5h0.8M247.8 72.3h0.8M238.8 70.3h0.8M235.3 67.7h0.8M229.4 60.6h0.8M243.1 63.0h0.8M224.0 70.3h0.8M242.4 65.1h0.8M231.2 83.1h0.8M241.1 73.1h0.8M234.8 69.2h0.8M249.2 69.7h0.8M238.2 69.5h0.8M242.4 71.5h0.8M236.4 64.9h0.8M231.6 73.2h0.8M238.0 73.0h0.8M225.4 67.7h0.8M232.8 61.3h0.8M239.6 68.0h0.8M228.9 76.2h0.8M236.1 67.2h0.8M234.0 67.7h0.8M240.5 54.8h0.8M241.2 72.9h0.8M237.1 72.1h0.8M240.3 73.6h0.8M225.0 61.5h0.8M228.0 79.0h0.8M243.4 76.7h0.8M242.0 58.8h0.8M237.0 74.1h0.8M244.5 62.7h0.8M247.4 73.4h0.8M234.1 65.6h0.8M233.6 70.2h0.8M225.8 74.3h0.8M241.8 72.6h0.8M238.0 67.1h0.8M243.8 68.6h0.8M236.8 81.8h0.8M245.8 64.5h0.8M248.1 63.0h0.8M232.0 69.3h0.8M239.3 68.5h0.8M247.0 74.6h0.8M230.6 74.1h0.8M233.1 63.0h0.8M228.8 69.4h0.8M241.2 67.7h0.8M236.9 63.9h0.8M228.2 76.4h0.8M240.8 74.8h0.8M243.8 59.9h0.8M233.4 68.4h0.8M244.4 64.1h0.8M231.0 66.9h0.8M230.8 63.8h0.8M241.5 69.2h0.8M236.5 72.0h0.8M229.6 63.5h0.8M246.2 65.8h0.8M230.4 62.2h0.8M231.4 55.7h0.8M241.9 65.7h0.8M245.9 70.3h0.8M234.2 62.8h0.8M242.9 66.0h0.8M231.3 82.1h0.8M230.7 79.9h0.8M242.3 66.2h0.8M235.8 80.0h0.8M230.2 77.2h0.8M237.7 60.2h0.8M233.8 60.8h0.8M232.0 56.7h0.8M228.0 75.1h0.8M248.7 74.5h0.8M250.2 64.3h0.8M241.9 58.9h0.8M228.5 69.9h0.8M242.2 59.9h0.8M246.4 72.5h0.8M239.4 65.8h0.8M237.1 69.9h0.8M246.5 61.3h0.8M233.3 60.9h0.8M239.6 69.8h0.8M229.7 79.5h0.8M245.0 72.5h0.8M240.9 77.9h0.8M248.6 70.1h0.8M230.8 65.6h0.8M229.7 72.9h0.8M238.1 67.6h0.8M230.7 68.4h0.8M243.8 60.6h0.8M235.5 72.3h0.8M230.9 67.4h0.8M238.7 72.0h0.8M245.2 65.2h0.8M242.3 71.8h0.8M237.5 56.4h0.8M223.3 66.8h0.8M229.8 74.5h0.8M231.5 71.1h0.8M233.5 64.0h0.8M241.7 65.7h0.8M237.9 62.1h0.8M235.7 70.2h0.8M231.0 83.1h0.8M241.0 77.8h0.8M247.8 59.7h0.8M232.0 73.0h0.8M242.9 67.0h0.8M234.8 69.3h0.8M225.3 74.5h0.8M228.4 79.2h0.8M227.9 63.9h0.8M248.3 64.7h0.8M242.9 69.1h0.8M243.6 75.6h0.8M237.0 69.7h0.8M238.3 65.9h0.8M226.5 66.5h0.8M234.8 70.0h0.8M234.5 74.5h0.8M239.9 68.4h0.8M226.6 71.4h0.8M240.7 65.3h0.8M241.0 76.1h0.8M242.2 73.2h0.8M240.1 77.5h0.8M244.6 65.7h0.8M238.9 67.6h0.8M230.4 68.7h0.8M242.8 66.5h0.8M244.1 70.6h0.8M240.4 62.4h0.8M231.2 76.7h0.8M241.9 63.2h0.8M226.6 63.6h0.8M240.0 62.0h0.8M238.7 65.9h0.8M228.1 73.8h0.8M241.8 66.7h0.8M228.6 74.4h0.8M242.0 64.9h0.8M230.9 70.2h0.8M246.7 66.0h0.8M242.2 79.0h0.8M225.8 66.3h0.8M234.3 65.8h0.8M240.1 64.3h0.8M233.5 74.2h0.8M235.8 64.8h0.8M240.0 66.8h0.8M243.0 61.3h0.8M244.6 68.4h0.8M226.6 71.1h0.8M240.5 65.7h0.8M251.8 61.7h0.8M247.5 73.9h0.8M228.3 58.7h0.8M236.7 77.3h0.8M231.0 66.5h0.8M222.1 77.2h0.8M237.3 69.4h0.8M227.2 65.4h0.8M235.4 72.9h0.8M223.8 75.8h0.8M238.0 62.6h0.8M239.7 70.5h0.8M222.6 72.6h0.8M231.7 71.5h0.8M241.8 68.5h0.8M232.3 72.0h0.8M233.9 71.0h0.8M242.1 72.9h0.8M234.1 70.2h0.8M240.0 67.5h0.8M234.2 79.2h0.8M248.9 62.6h0.8M229.4 68.2h0.8M241.0 80.9h0.8M227.6 76.6h0.8M235.2 72.6h0.8M238.8 62.7h0.8M224.1 74.7h0.8M235.5 75.7h0.8M238.8 57.6h0.8M230.9 66.8h0.8M237.4 59.5h0.8M225.1 73.5h0.8M243.7 73.5h0.8M242.1 74.9h0.8M224.4 67.0h0.8M239.8 77.8h0.8M232.4 60.3h0.8M233.2 79.6h0.8M239.0 58.3h0.8M230.7 73.5h0.8M243.3 72.1h0.8M247.8 68.2h0.8M239.7 70.3h0.8M243.6 67.6h0.8M242.8 72.5h0.8M231.8 73.1h0.8M236.1 69.7h0.8M235.1 70.6h0.8M237.7 60.2h0.8M228.7 70.5h0.8M229.6 59.7h0.8M251.5 65.1h0.8M225.5 76.3h0.8M237.5 71.5h0.8M236.1 66.9h0.8M238.8 59.2h0.8M238.4 74.6h0.8M242.1 72.4h0.8M236.5 76.5h0.8M241.9 55.0h0.8M231.3 60.8h0.8M231.8 81.5h0.8M230.4 75.5h0.8M227.5 60.0h0.8M227.6 68.9h0.8M229.9 70.0h0.8M232.4 61.3h0.8M223.5 66.3h0.8M241.5 75.0h0.8M230.7 62.8h0.8M241.3 64.3h0.8M232.5 60.8h0.8M235.0 73.0h0.8M228.8 72.8h0.8M233.0 72.7h0.8M228.3 65.7h0.8M228.9 69.9h0.8M231.3 61.3h0.8M234.2 75.0h0.8M241.3 68.1h0.8M233.6 77.5h0.8M242.6 70.2h0.8M238.5 79.7h0.8M224.6 65.4h0.8M236.3 67.2h0.8M241.2 70.2h0.8M228.9 62.3h0.8M247.9 61.4h0.8M226.4 65.1h0.8M231.9 73.2h0.8M234.4 59.2h0.8M247.8 76.8h0.8M235.9 58.1h0.8M238.9 71.1h0.8M234.4 75.6h0.8M248.6 65.5h0.8M234.5 70.6h0.8M237.2 67.6h0.8M247.5 73.8h0.8M245.1 58.9h0.8M240.0 66.0h0.8M222.7 80.7h0.8M224.3 63.2h0.8M238.4 78.0h0.8M243.1 69.7h0.8M242.6 65.4h0.8M235.2 68.1h0.8M228.9 78.8h0.8M224.1 72.2h0.8M236.6 58.6h0.8M225.7 73.3h0.8M229.3 71.0h0.8M232.3 69.6h0.8M231.8 68.3h0.8M242.2 57.7h0.8M228.1 73.0h0.8M238.8 73.1h0.8M243.6 62.9h0.8M234.8 60.6h0.8M241.1 69.0h0.8M226.8 74.1h0.8M235.0 83.6h0.8M210.7 84.2h0.8M232.5 91.8h0.8M228.5 66.3h0.8M211.2 87.5h0.8M231.4 80.4h0.8M237.9 78.5h0.8M227.9 81.3h0.8M227.1 75.5h0.8M226.5 82.4h0.8M237.1 79.2h0.8M229.9 83.1h0.8M219.3 72.1h0.8M227.5 76.7h0.8M218.6 75.1h0.8M212.9 86.9h0.8M230.6 87.6h0.8M228.7 73.8h0.8M233.7 78.8h0.8M230.1 78.7h0.8M224.3 75.7h0.8M226.9 88.5h0.8M225.7 73.7h0.8M221.4 85.1h0.8M238.3 83.5h0.8M230.1 84.3h0.8M218.1 75.9h0.8M230.7 81.6h0.8M242.5 75.5h0.8M233.8 90.4h0.8M219.2 78.1h0.8M232.1 82.0h0.8M229.5 89.9h0.8M236.7 72.3h0.8M220.9 72.8h0.8M224.9 84.4h0.8M228.3 85.7h0.8M231.6 74.9h0.8M210.7 75.4h0.8M216.8 69.7h0.8M223.8 92.7h0.8M222.5 84.5h0.8M232.0 79.4h0.8M219.4 92.4h0.8M226.6 93.2h0.8M229.0 78.4h0.8M226.7 75.8h0.8M221.1 83.4h0.8M220.2 84.0h0.8M217.8 66.5h0.8M224.3 86.9h0.8M220.6 92.9h0.8M236.5 78.2h0.8M236.5 77.1h0.8M226.2 82.2h0.8M226.2 87.8h0.8M217.5 71.7h0.8M213.7 76.9h0.8M224.7 71.2h0.8M231.6 69.0h0.8M218.6 89.9h0.8M221.6 80.6h0.8M227.1 77.9h0.8M231.9 77.3h0.8M226.9 73.9h0.8M225.2 78.8h0.8M234.3 74.3h0.8M218.0 76.4h0.8M221.8 77.1h0.8M236.9 75.9h0.8M241.4 87.5h0.8M226.8 78.3h0.8M227.5 73.1h0.8M231.2 82.6h0.8M224.2 75.7h0.8M230.8 69.7h0.8M222.0 72.2h0.8M212.7 72.0h0.8M231.2 88.0h0.8M219.1 75.1h0.8M231.2 80.2h0.8M221.1 74.4h0.8M235.2 66.4h0.8M215.2 79.0h0.8M229.2 72.9h0.8M218.8 87.0h0.8M227.9 70.5h0.8M229.4 77.2h0.8M236.0 85.5h0.8M219.1 73.9h0.8M226.4 75.7h0.8M230.9 77.2h0.8M240.7 71.8h0.8M215.0 75.2h0.8M222.2 75.3h0.8M221.4 72.7h0.8M230.1 78.5h0.8M223.9 68.8h0.8M230.9 88.7h0.8M225.2 79.0h0.8M235.9 78.5h0.8M233.4 76.0h0.8M220.2 89.0h0.8M215.3 84.1h0.8M236.7 80.2h0.8M227.0 86.1h0.8M218.4 78.3h0.8M229.3 80.1h0.8M213.4 80.7h0.8M223.0 88.6h0.8M228.9 76.5h0.8M240.4 89.6h0.8M230.7 80.3h0.8M225.0 72.3h0.8M230.5 79.6h0.8M229.4 82.6h0.8M227.5 77.3h0.8M237.4 81.9h0.8M236.1 86.7h0.8M229.8 66.9h0.8M236.1 81.7h0.8M218.7 73.0h0.8M226.1 79.5h0.8M222.7 81.3h0.8M237.1 80.1h0.8M226.2 92.6h0.8M235.7 76.4h0.8M226.7 75.0h0.8M225.5 76.4h0.8M219.8 83.9h0.8M223.6 73.1h0.8M222.3 71.9h0.8M225.6 77.6h0.8M219.6 85.7h0.8M228.5 84.9h0.8M227.6 83.3h0.8M214.5 76.9h0.8M234.5 75.3h0.8M229.5 68.7h0.8M212.5 68.7h0.8M242.5 83.2h0.8M219.9 81.8h0.8M225.7 81.7h0.8M223.1 78.7h0.8M235.1 84.6h0.8M228.0 83.4h0.8M227.7 81.3h0.8M218.9 77.7h0.8M238.2 80.0h0.8M230.3 90.2h0.8M235.9 92.0h0.8M235.3 91.1h0.8M218.2 82.7h0.8M227.4 67.8h0.8M229.3 81.0h0.8M228.1 82.4h0.8M227.1 91.2h0.8M223.8 79.8h0.8M213.5 77.9h0.8M231.2 82.4h0.8M232.1 80.2h0.8M228.7 75.7h0.8M239.7 72.1h0.8M225.2 69.8h0.8M234.6 77.0h0.8M226.3 69.7h0.8M239.5 74.9h0.8M235.7 79.5h0.8M226.7 78.1h0.8M221.1 82.8h0.8M214.2 77.7h0.8M219.6 76.0h0.8M216.3 72.3h0.8M233.0 75.3h0.8M224.5 85.3h0.8M228.8 81.5h0.8M225.8 80.0h0.8M223.1 88.7h0.8M225.7 74.9h0.8M224.0 81.1h0.8M221.9 90.4h0.8M230.1 83.7h0.8M228.0 71.9h0.8M223.1 83.2h0.8M228.1 75.6h0.8M215.9 73.4h0.8M231.1 63.9h0.8M220.3 89.2h0.8M224.8 76.8h0.8M212.0 76.2h0.8M229.7 73.8h0.8M228.0 74.9h0.8M222.5 75.9h0.8M238.0 88.1h0.8M237.3 71.3h0.8M217.6 72.2h0.8M224.7 85.0h0.8M238.7 68.9h0.8M233.9 75.8h0.8M223.1 85.4h0.8M213.5 85.7h0.8M220.0 81.5h0.8M231.0 72.2h0.8M239.4 78.6h0.8M235.6 78.2h0.8M222.8 76.1h0.8M231.9 82.8h0.8M236.8 67.9h0.8M213.1 84.7h0.8M225.1 88.1h0.8M231.6 77.8h0.8M228.7 76.6h0.8M219.4 80.8h0.8M223.0 78.5h0.8M225.1 69.9h0.8M225.6 81.4h0.8M219.2 84.0h0.8M222.1 94.5h0.8M240.0 81.0h0.8M219.2 78.5h0.8M242.3 77.7h0.8M230.4 79.5h0.8M223.8 81.6h0.8M238.0 91.6h0.8M216.4 77.0h0.8M224.4 86.9h0.8M222.4 74.3h0.8M222.6 79.7h0.8M231.4 82.4h0.8M218.1 70.3h0.8M219.3 88.2h0.8M218.7 76.9h0.8M235.9 83.2h0.8M240.5 80.3h0.8M232.6 73.9h0.8M225.8 90.1h0.8M230.3 79.1h0.8M218.9 86.0h0.8M242.7 82.0h0.8M239.3 82.8h0.8M220.4 84.4h0.8M222.3 81.2h0.8M237.2 80.4h0.8M227.9 70.4h0.8M222.1 79.4h0.8M215.0 85.0h0.8M233.0 80.8h0.8M221.1 71.5h0.8M219.6 80.3h0.8M223.7 68.4h0.8M226.7 72.8h0.8M216.4 77.2h0.8M226.1 82.7h0.8M214.0 79.1h0.8M231.5 83.0h0.8M220.5 73.3h0.8M225.7 78.5h0.8M230.8 66.9h0.8M222.4 78.8h0.8M228.8 84.6h0.8M211.5 77.2h0.8M221.9 76.2h0.8M219.2 77.7h0.8M231.7 80.4h0.8M228.0 75.3h0.8M230.5 81.2h0.8M232.9 75.5h0.8M230.6 72.4h0.8M224.9 87.4h0.8M226.6 89.8h0.8M232.0 73.3h0.8M228.2 72.9h0.8M227.9 87.5h0.8M217.0 85.1h0.8M210.5 72.5h0.8M231.4 76.3h0.8M240.4 72.9h0.8M215.9 80.9h0.8M213.6 74.5h0.8M221.6 70.1h0.8M224.7 77.9h0.8M223.6 81.9h0.8M219.2 78.1h0.8M212.0 69.8h0.8M229.7 71.9h0.8M231.3 90.4h0.8M229.7 76.2h0.8M223.0 88.3h0.8M216.0 72.4h0.8M237.9 84.3h0.8M230.8 77.1h0.8M221.4 75.5h0.8M221.2 74.6h0.8M227.9 68.2h0.8M220.9 79.4h0.8M225.9 77.4h0.8M222.9 83.9h0.8M220.2 82.8h0.8M222.6 87.0h0.8M234.8 85.8h0.8M244.3 78.5h0.8M223.1 79.6h0.8M216.3 80.8h0.8M223.6 89.5h0.8M222.2 80.3h0.8M226.8 71.4h0.8M228.3 66.3h0.8M228.1 83.2h0.8M220.7 85.6h0.8M233.4 77.7h0.8M238.8 79.2h0.8M228.2 81.4h0.8M225.4 66.8h0.8M230.8 79.5h0.8M222.0 80.8h0.8M226.5 82.8h0.8M228.6 73.5h0.8M228.3 72.3h0.8M234.7 91.3h0.8M219.8 80.8h0.8M221.6 90.5h0.8M222.8 77.7h0.8M230.2 88.1h0.8M223.1 78.3h0.8M216.6 77.1h0.8M241.6 86.4h0.8M215.9 83.7h0.8M226.5 77.3h0.8M235.8 76.5h0.8M225.0 82.7h0.8M234.7 84.2h0.8M216.0 69.3h0.8M222.8 80.0h0.8M217.8 83.9h0.8M211.1 77.4h0.8M220.7 75.6h0.8M229.4 81.2h0.8M221.7 79.1h0.8M227.4 79.8h0.8M218.0 73.7h0.8M237.9 70.1h0.8M219.0 88.0h0.8M223.9 70.8h0.8M231.8 87.0h0.8M217.6 72.7h0.8M219.1 89.1h0.8M212.7 69.9h0.8M227.8 73.2h0.8M228.9 82.3h0.8M217.8 87.3h0.8M222.0 89.8h0.8M232.9 92.6h0.8M222.2 87.9h0.8M227.2 86.4h0.8M234.1 70.7h0.8M229.8 86.1h0.8M218.0 87.8h0.8M214.6 73.8h0.8M224.9 75.6h0.8M209.9 79.5h0.8M231.0 79.8h0.8M228.7 80.4h0.8M222.9 79.7h0.8M234.8 88.1h0.8M231.1 83.4h0.8M242.4 74.9h0.8M222.3 84.6h0.8M225.2 83.6h0.8M223.3 85.4h0.8M234.0 84.5h0.8M221.6 85.9h0.8M230.8 83.2h0.8M222.8 88.7h0.8M220.4 84.2h0.8M232.1 83.2h0.8M236.4 87.5h0.8M228.3 85.3h0.8M217.7 78.5h0.8M231.8 75.3h0.8M221.4 83.2h0.8M222.6 74.3h0.8M232.0 78.8h0.8M217.2 89.0h0.8M230.3 75.0h0.8M229.7 86.5h0.8M226.1 71.1h0.8M225.8 80.2h0.8M227.4 74.9h0.8M223.2 88.1h0.8M216.4 74.7h0.8M219.0 84.6h0.8M240.7 75.3h0.8M231.0 71.4h0.8M215.9 90.4h0.8M219.9 91.1h0.8M217.2 78.3h0.8M224.9 84.2h0.8M219.4 72.3h0.8M219.0 91.5h0.8M224.0 71.2h0.8M225.0 80.6h0.8M227.2 83.3h0.8M216.4 83.4h0.8M225.6 79.6h0.8M219.2 74.6h0.8M221.3 92.4h0.8M232.8 75.8h0.8M215.8 76.2h0.8M229.5 82.4h0.8M238.7 79.5h0.8M237.4 77.0h0.8M226.1 88.0h0.8M223.4 91.7h0.8M220.5 78.3h0.8M221.6 81.0h0.8M233.0 88.5h0.8M232.7 81.1h0.8M218.4 73.4h0.8M233.9 74.9h0.8M224.2 86.1h0.8M197.5 59.4h0.8M204.1 56.3h0.8M206.8 65.1h0.8M213.5 66.3h0.8M213.0 60.5h0.8M206.7 59.9h0.8M200.6 60.3h0.8M227.5 64.1h0.8M211.0 54.5h0.8M210.1 58.7h0.8M208.4 56.4h0.8M206.3 56.6h0.8M217.6 63.2h0.8M210.9 55.6h0.8M209.6 57.1h0.8M215.7 62.2h0.8M202.0 64.3h0.8M229.4 59.4h0.8M211.0 63.1h0.8M195.6 65.1h0.8M224.3 62.8h0.8M196.7 59.1h0.8M213.1 68.2h0.8M219.6 64.9h0.8M223.9 65.6h0.8M235.3 63.6h0.8M218.7 65.6h0.8M213.4 55.0h0.8M219.4 70.1h0.8M216.7 58.7h0.8M228.3 55.9h0.8M222.2 55.3h0.8M226.8 66.0h0.8M216.9 66.2h0.8M201.1 57.6h0.8M228.8 60.7h0.8M218.1 59.0h0.8M233.1 61.1h0.8M232.3 66.2h0.8M199.8 59.3h0.8M204.4 55.6h0.8M199.2 59.8h0.8M218.9 63.4h0.8M210.3 65.8h0.8M208.0 62.5h0.8M209.9 56.6h0.8M219.7 67.2h0.8M227.9 60.5h0.8M235.4 63.0h0.8M222.0 61.5h0.8M212.3 63.8h0.8M221.9 60.8h0.8M215.5 64.8h0.8M222.5 64.8h0.8M200.2 65.4h0.8M200.6 61.0h0.8M203.9 54.6h0.8M203.2 61.1h0.8M231.1 61.6h0.8M203.9 64.6h0.8" stroke="#000" stroke-width="0.8" fill="none"/>
<path d="M199.6 79.7h0.7M206.6 92.5h0.7M214.0 96.6h0.7M207.9 95.8h0.7M201.0 94.9h0.7M196.9 97.1h0.7M196.4 97.9h0.7M212.0 95.7h0.7M214.6 90.8h0.7M211.1 87.9h0.7M210.6 92.3h0.7M196.9 96.8h0.7M210.5 90.8h0.7M211.8 78.8h0.7M201.0 83.1h0.7M195.1 82.7h0.7M196.4 91.6h0.7M196.4 80.1h0.7M210.6 96.0h0.7M203.8 90.8h0.7M197.7 83.1h0.7M210.2 88.9h0.7M214.4 88.7h0.7M210.5 81.8h0.7M210.4 80.9h0.7M211.9 102.2h0.7M211.4 98.9h0.7M230.7 98.3h0.7M222.0 102.2h0.7M201.5 103.9h0.7M205.2 107.5h0.7M203.0 104.9h0.7M213.8 105.2h0.7M222.6 107.9h0.7M211.2 107.6h0.7M227.9 111.4h0.7M205.3 107.0h0.7M229.1 101.9h0.7M213.9 110.6h0.7M199.1 109.9h0.7M212.6 106.9h0.7M226.2 105.6h0.7M217.2 107.7h0.7M228.3 106.8h0.7M220.5 98.4h0.7M201.8 110.4h0.7M202.1 104.0h0.7M228.9 111.4h0.7M195.6 108.7h0.7M198.5 110.0h0.7M231.7 102.6h0.7M215.4 98.6h0.7M206.4 101.8h0.7M201.6 106.1h0.7M194.7 98.7h0.7M197.7 105.9h0.7M209.4 108.9h0.7M222.8 102.7h0.7M221.1 103.0h0.7M223.3 102.8h0.7M216.9 104.6h0.7M195.0 102.4h0.7M202.4 99.4h0.7M229.3 99.8h0.7M199.3 103.5h0.7M215.8 110.2h0.7M204.2 106.9h0.7M225.1 110.2h0.7M199.3 99.2h0.7M198.6 98.2h0.7M199.3 105.5h0.7M217.9 109.4h0.7M225.0 108.0h0.7M231.5 109.9h0.7M203.4 103.9h0.7M220.2 104.3h0.7M226.9 104.3h0.7M197.7 102.5h0.7M233.5 101.1h0.7M220.6 104.7h0.7M219.0 110.7h0.7M207.5 102.8h0.7M227.3 109.1h0.7M228.0 99.4h0.7M226.6 100.8h0.7M205.1 107.7h0.7M220.5 103.9h0.7M197.4 106.0h0.7M203.7 110.0h0.7M230.9 102.3h0.7M231.5 102.9h0.7M206.3 103.7h0.7M211.7 105.8h0.7M220.5 101.2h0.7M224.6 104.0h0.7M227.8 104.5h0.7M219.1 98.6h0.7M204.0 108.6h0.7M215.0 105.1h0.7M202.7 111.2h0.7M203.7 103.7h0.7M228.4 103.5h0.7M202.1 105.5h0.7M231.6 100.5h0.7M224.5 104.9h0.7M218.4 106.2h0.7M231.2 108.7h0.7M230.4 105.9h0.7M230.0 107.8h0.7M212.7 105.6h0.7M229.4 103.5h0.7M223.8 101.1h0.7M209.0 105.7h0.7M196.5 107.5h0.7M233.5 101.9h0.7M224.0 102.0h0.7M197.4 100.8h0.7M197.5 103.6h0.7M220.3 108.6h0.7M210.4 98.2h0.7M214.1 106.7h0.7M213.2 106.8h0.7M215.8 106.2h0.7M226.3 99.2h0.7M228.4 98.6h0.7M216.9 108.6h0.7M218.5 98.2h0.7M210.2 107.9h0.7M227.4 106.9h0.7M225.2 102.3h0.7M219.7 105.9h0.7M233.2 107.8h0.7M231.0 104.9h0.7M210.8 102.7h0.7M201.1 111.0h0.7M212.5 99.4h0.7M216.5 106.3h0.7M198.0 106.6h0.7M221.8 107.1h0.7M204.7 110.3h0.7M213.3 105.9h0.7M217.1 105.0h0.7M225.9 103.3h0.7M221.6 98.5h0.7M213.0 98.8h0.7M213.2 109.0h0.7M233.1 108.8h0.7M211.6 108.2h0.7M217.9 100.9h0.7M205.6 105.0h0.7M219.6 101.8h0.7M227.8 101.6h0.7M205.1 101.8h0.7M203.1 100.1h0.7M203.7 107.4h0.7M200.7 98.7h0.7M207.3 102.2h0.7M217.7 110.2h0.7M232.5 107.6h0.7M202.1 108.0h0.7M208.8 104.5h0.7M216.5 104.3h0.7M233.0 105.4h0.7M217.2 103.9h0.7M200.2 104.8h0.7M226.3 111.0h0.7M216.5 108.0h0.7M228.6 106.6h0.7M221.4 111.4h0.7M210.8 109.4h0.7M233.2 107.0h0.7M221.7 98.5h0.7M198.7 103.3h0.7M228.5 103.9h0.7M201.6 110.2h0.7M199.9 104.7h0.7M220.5 98.9h0.7M233.6 110.1h0.7M222.5 100.6h0.7M201.3 108.3h0.7M221.5 110.2h0.7M210.6 100.3h0.7M216.3 101.2h0.7M199.0 107.2h0.7M212.4 104.6h0.7M207.0 99.1h0.7M203.0 99.8h0.7M211.5 103.6h0.7M216.1 108.5h0.7M216.9 104.5h0.7M202.5 105.4h0.7M206.7 106.6h0.7M216.3 99.1h0.7M216.0 105.9h0.7M195.6 110.6h0.7M199.4 103.2h0.7M216.3 108.5h0.7M225.4 106.0h0.7M232.3 103.8h0.7M218.5 103.7h0.7M196.5 105.5h0.7M227.3 110.0h0.7M233.3 105.6h0.7M202.4 106.8h0.7M215.8 105.0h0.7M198.3 102.7h0.7M226.7 107.8h0.7M195.5 99.0h0.7M227.0 107.6h0.7M215.2 98.8h0.7M195.0 108.4h0.7M218.3 108.6h0.7M223.4 111.1h0.7M205.8 105.4h0.7M225.5 109.6h0.7" stroke="#fff" stroke-width="0.7" fill="none"/>
</g>
<rect x="193.6" y="34.9" width="75.9" height="77.5" fill="none" stroke="#222" stroke-width="0.8"/>
<rect x="222.5" y="54.5" width="32.0" height="28.700000000000003" fill="none" stroke="#111" stroke-width="0.8"/>
<text class="sf" x="0" y="0" font-size="8.1" font-weight="bold" text-anchor="middle" transform="translate(235.5,22.1) scale(0.87,1)">Infected/</text>
<text class="sf" x="0" y="0" font-size="8.1" font-weight="bold" text-anchor="middle" transform="translate(235.5,30.6) scale(0.87,1)">non-treated</text>
<text class="sf" x="222" y="51.5" font-size="7.7" font-weight="bold">14.9<tspan font-size="10" dx="1.3" dy="0.6">±</tspan><tspan dx="1.3" dy="-0.6">3.64</tspan></text>
<clipPath id="cp2"><rect x="272" y="34.9" width="75.5" height="77.5"/></clipPath>
<g clip-path="url(#cp2)">
<ellipse cx="278.0" cy="90" rx="20" ry="11.5" fill="#000" opacity="1" filter="url(#bl)"/>
<ellipse cx="282.0" cy="104" rx="19" ry="7" fill="#000" opacity="0.55" filter="url(#bl)"/>
<path d="M283.4 88.1h0.8M289.7 84.7h0.8M287.5 84.4h0.8M285.7 98.2h0.8M275.5 90.9h0.8M297.1 93.8h0.8M287.0 82.6h0.8M274.5 95.1h0.8M282.6 88.5h0.8M297.3 98.7h0.8M276.7 90.0h0.8M285.6 100.2h0.8M279.7 85.2h0.8M292.3 91.4h0.8M274.3 91.7h0.8M286.2 89.2h0.8M276.5 99.0h0.8M300.4 96.9h0.8M273.3 87.9h0.8M281.7 94.0h0.8M280.0 106.1h0.8M283.6 95.1h0.8M278.1 101.3h0.8M289.8 108.9h0.8M274.0 100.5h0.8M276.4 83.9h0.8M282.8 107.4h0.8M286.2 88.5h0.8M285.9 106.6h0.8M291.6 95.4h0.8M301.4 90.6h0.8M273.3 106.2h0.8M281.2 90.3h0.8M284.3 101.7h0.8M280.1 102.0h0.8M280.4 90.8h0.8M299.5 98.0h0.8M293.8 104.5h0.8M279.4 91.6h0.8M286.0 100.3h0.8M273.8 90.3h0.8M277.3 99.7h0.8M290.3 105.7h0.8M283.9 99.9h0.8M288.3 108.6h0.8M273.2 103.8h0.8M276.3 97.0h0.8M274.3 89.9h0.8M272.8 101.3h0.8M275.0 95.4h0.8M274.7 101.0h0.8M286.8 105.9h0.8M279.7 94.8h0.8M279.1 86.7h0.8M276.8 92.8h0.8M274.6 87.9h0.8M274.3 104.4h0.8M279.0 93.4h0.8M273.8 79.0h0.8M276.2 92.2h0.8M282.8 90.8h0.8M272.4 97.8h0.8M282.9 84.9h0.8M278.5 102.3h0.8M293.8 104.2h0.8M274.0 92.2h0.8M273.0 85.9h0.8M289.6 88.6h0.8M275.6 111.3h0.8M299.5 88.5h0.8M287.0 98.3h0.8M288.5 84.6h0.8M293.4 106.3h0.8M275.9 84.6h0.8M277.9 81.7h0.8M274.3 101.1h0.8M294.7 105.4h0.8M280.9 82.4h0.8M273.5 93.8h0.8M276.6 91.2h0.8M292.6 98.9h0.8M282.3 102.5h0.8M295.3 84.3h0.8M291.5 99.1h0.8M280.5 94.9h0.8M288.8 89.9h0.8M281.6 110.3h0.8M292.3 97.5h0.8M280.8 104.2h0.8M301.2 89.6h0.8M281.0 103.1h0.8M276.8 95.4h0.8M294.1 90.3h0.8M283.0 85.0h0.8M280.1 92.9h0.8M291.4 104.3h0.8M275.3 94.6h0.8M277.8 99.2h0.8M277.2 94.9h0.8M275.2 95.8h0.8M276.5 97.1h0.8M278.4 92.6h0.8M290.5 92.8h0.8M286.5 90.1h0.8M280.6 89.9h0.8M276.1 93.6h0.8M284.7 84.5h0.8M282.9 89.9h0.8M299.4 95.8h0.8M286.3 92.9h0.8M277.5 103.1h0.8M290.6 108.7h0.8M274.1 97.4h0.8M276.9 98.0h0.8M281.4 98.0h0.8M292.4 96.4h0.8M293.5 88.4h0.8M293.6 88.4h0.8M286.2 107.4h0.8M275.5 96.2h0.8M283.1 91.9h0.8M273.4 101.9h0.8M281.8 86.4h0.8M274.0 104.9h0.8M285.4 94.4h0.8M273.5 101.2h0.8M272.7 107.9h0.8M287.9 96.8h0.8M278.4 91.3h0.8M292.8 91.9h0.8M274.8 88.3h0.8M275.8 85.5h0.8M273.0 105.5h0.8M291.4 90.9h0.8M276.4 89.6h0.8M276.1 95.2h0.8M275.5 88.2h0.8M287.0 97.0h0.8M284.0 104.1h0.8M295.3 88.7h0.8M282.3 93.9h0.8M277.3 105.5h0.8M279.6 96.6h0.8M279.3 91.2h0.8M280.2 99.2h0.8M298.0 91.7h0.8M284.8 101.4h0.8M281.0 80.7h0.8M283.1 81.4h0.8M273.4 95.4h0.8M300.5 73.2h0.8M288.8 105.3h0.8M274.7 98.6h0.8M300.8 93.2h0.8M290.3 86.1h0.8M295.6 97.4h0.8M273.5 93.9h0.8M277.5 92.7h0.8M284.2 100.8h0.8M278.8 97.0h0.8M283.7 103.1h0.8M277.0 88.9h0.8M272.6 95.8h0.8M297.0 90.6h0.8M281.9 103.1h0.8M278.8 95.8h0.8M278.8 98.0h0.8M280.7 94.3h0.8M281.4 95.7h0.8M285.9 109.0h0.8M300.2 84.0h0.8M276.1 86.7h0.8M284.1 106.3h0.8M272.5 79.1h0.8M273.1 92.0h0.8M272.6 90.1h0.8M289.1 100.3h0.8M291.1 83.1h0.8M278.6 96.2h0.8M293.0 94.6h0.8M277.5 94.7h0.8M280.1 98.9h0.8M291.9 88.9h0.8M292.2 106.3h0.8M275.3 91.9h0.8M275.9 93.7h0.8M291.3 96.0h0.8M278.1 96.5h0.8M294.5 83.1h0.8M274.6 99.7h0.8M278.5 89.5h0.8M295.1 88.5h0.8M276.4 89.4h0.8M287.9 93.0h0.8M272.5 96.1h0.8M272.5 99.1h0.8M292.3 95.1h0.8M282.4 85.0h0.8M280.0 86.6h0.8M284.1 78.9h0.8M280.5 91.9h0.8M272.6 97.4h0.8M283.0 105.9h0.8M281.2 107.6h0.8M300.2 97.8h0.8M297.8 94.6h0.8M282.9 95.1h0.8M295.2 105.7h0.8M278.2 91.1h0.8M281.3 102.1h0.8M290.6 84.7h0.8M272.7 89.2h0.8M278.5 102.9h0.8M280.9 91.1h0.8M289.7 91.7h0.8M284.5 88.8h0.8M294.3 85.1h0.8M280.0 93.1h0.8M276.2 95.3h0.8M298.1 85.5h0.8M292.6 88.0h0.8M273.5 90.5h0.8M289.4 93.1h0.8M277.5 105.6h0.8M278.7 104.6h0.8M275.6 92.4h0.8M292.6 93.9h0.8M272.6 97.2h0.8M273.3 93.3h0.8M291.5 96.9h0.8M274.1 100.1h0.8M287.6 83.5h0.8M276.4 99.8h0.8M299.2 86.1h0.8M292.0 76.1h0.8M300.7 87.5h0.8M280.2 95.7h0.8M287.8 97.2h0.8M294.6 104.4h0.8M288.3 97.3h0.8M287.5 91.5h0.8M301.7 77.0h0.8M283.7 97.8h0.8M274.3 100.6h0.8M279.9 105.6h0.8M285.5 83.7h0.8M277.8 100.0h0.8M290.3 104.2h0.8M284.3 92.3h0.8M272.6 98.6h0.8M292.9 99.8h0.8M276.0 105.1h0.8M276.8 101.4h0.8M279.2 90.4h0.8M275.0 89.6h0.8M285.6 97.8h0.8M287.5 86.7h0.8M284.7 101.8h0.8M286.6 91.8h0.8M274.7 87.8h0.8M285.5 96.8h0.8M297.5 83.0h0.8M285.8 84.4h0.8M276.6 95.3h0.8M280.1 95.1h0.8M276.1 82.6h0.8M293.1 101.5h0.8M284.8 92.7h0.8M294.5 78.7h0.8M278.9 96.0h0.8M294.6 92.8h0.8M285.2 93.6h0.8M284.5 95.2h0.8M276.1 91.3h0.8M281.8 87.0h0.8M285.7 93.4h0.8M282.8 92.7h0.8M273.1 106.8h0.8M284.1 96.7h0.8M290.9 97.2h0.8M276.2 103.8h0.8M281.2 97.5h0.8M296.2 100.5h0.8M274.0 95.8h0.8M297.3 84.9h0.8M293.9 98.9h0.8M278.8 109.8h0.8M280.5 96.5h0.8M274.1 83.9h0.8M300.0 90.3h0.8M280.0 103.1h0.8M274.4 99.0h0.8M293.5 94.9h0.8M275.6 94.7h0.8M277.4 97.6h0.8M274.8 104.6h0.8M279.9 107.4h0.8M295.9 103.2h0.8M286.3 96.3h0.8M287.2 87.8h0.8M280.0 100.8h0.8M280.2 107.6h0.8M282.0 92.1h0.8M286.8 106.3h0.8M274.0 111.3h0.8M274.5 94.5h0.8M279.9 90.0h0.8M284.1 93.6h0.8M289.1 110.0h0.8M289.8 82.6h0.8M277.8 103.8h0.8M276.9 84.6h0.8M280.7 79.7h0.8M294.2 81.1h0.8M279.5 106.9h0.8M290.6 102.0h0.8M272.4 103.6h0.8M273.6 103.7h0.8M291.0 88.4h0.8M289.3 87.9h0.8M281.2 106.6h0.8M274.1 93.9h0.8M283.0 97.2h0.8M298.5 88.4h0.8M283.7 85.7h0.8M273.6 90.6h0.8M285.5 109.0h0.8M286.6 94.6h0.8M279.0 96.4h0.8M286.0 108.3h0.8M276.5 84.7h0.8M279.6 103.6h0.8M296.5 89.5h0.8M279.2 94.2h0.8M285.0 94.8h0.8M284.1 90.4h0.8M291.6 108.4h0.8M294.2 87.1h0.8M272.8 85.0h0.8M275.2 102.0h0.8M273.1 100.5h0.8M286.8 100.0h0.8M294.2 89.8h0.8M275.3 91.7h0.8M290.4 91.6h0.8M281.5 109.3h0.8M273.0 83.0h0.8M275.0 103.8h0.8M294.2 75.8h0.8M283.1 99.6h0.8M279.2 89.1h0.8M281.1 88.5h0.8M277.7 100.3h0.8M288.8 77.0h0.8M293.6 84.0h0.8M277.5 86.1h0.8M285.5 88.5h0.8M278.1 82.3h0.8M292.8 82.3h0.8M280.4 80.6h0.8M279.2 87.2h0.8M280.8 103.7h0.8M278.8 103.2h0.8M284.2 83.9h0.8M281.1 95.4h0.8M298.7 102.3h0.8M294.9 91.9h0.8M289.1 94.4h0.8M286.4 83.1h0.8M282.2 89.7h0.8M301.7 97.4h0.8M282.8 91.1h0.8M287.7 89.0h0.8M288.7 105.3h0.8M287.6 85.5h0.8M281.0 82.8h0.8M274.4 100.3h0.8M282.3 102.9h0.8M280.1 88.7h0.8M281.4 95.5h0.8M276.9 99.8h0.8M279.1 94.7h0.8M274.2 97.0h0.8M274.3 101.5h0.8M276.8 103.6h0.8M292.0 93.0h0.8M291.2 86.3h0.8M291.5 94.8h0.8M275.3 99.9h0.8M281.5 97.9h0.8M291.8 91.1h0.8M287.6 88.9h0.8M273.6 103.4h0.8M276.5 107.0h0.8M275.2 109.2h0.8M276.1 109.7h0.8M282.0 101.7h0.8M278.3 83.1h0.8M272.6 88.3h0.8M276.5 93.7h0.8M279.9 91.5h0.8M276.7 109.7h0.8M275.6 87.2h0.8M275.1 99.4h0.8M289.1 94.0h0.8M277.0 95.3h0.8M283.4 89.3h0.8M278.0 92.0h0.8M280.4 98.8h0.8M289.7 104.3h0.8M278.8 87.5h0.8M277.7 86.0h0.8M280.5 97.6h0.8M296.1 104.9h0.8M280.0 79.6h0.8M292.5 83.2h0.8M280.7 82.6h0.8M288.1 93.2h0.8M284.5 95.1h0.8M284.7 93.1h0.8M293.5 102.0h0.8M280.2 105.7h0.8M277.6 111.1h0.8M276.5 92.7h0.8M281.6 92.0h0.8M295.7 96.3h0.8M278.8 87.1h0.8M294.9 93.0h0.8M293.4 90.6h0.8M273.0 92.0h0.8M292.7 91.4h0.8M275.4 105.2h0.8M296.1 79.0h0.8M287.4 96.5h0.8M281.4 105.2h0.8M282.9 83.9h0.8M282.7 92.2h0.8M278.0 100.9h0.8M288.5 104.3h0.8M278.5 101.9h0.8M299.8 91.2h0.8M278.7 94.5h0.8M282.5 110.9h0.8M284.5 105.5h0.8M289.8 105.4h0.8M291.5 91.7h0.8M283.1 92.2h0.8M289.1 94.4h0.8M286.5 97.9h0.8M289.4 103.6h0.8M290.1 86.0h0.8M272.8 99.7h0.8M285.8 92.7h0.8M287.3 97.4h0.8M273.2 96.1h0.8M286.2 91.8h0.8M285.6 99.3h0.8M286.1 92.7h0.8M272.4 83.6h0.8M272.7 106.4h0.8M279.9 95.5h0.8M278.1 95.4h0.8M285.2 101.2h0.8M277.4 106.0h0.8M276.3 87.8h0.8M280.0 104.6h0.8M281.7 82.9h0.8M282.0 94.1h0.8M278.6 96.5h0.8M279.5 80.2h0.8M289.3 102.2h0.8M281.2 93.9h0.8M295.2 88.5h0.8M293.8 101.1h0.8M287.3 96.3h0.8M278.9 79.4h0.8M289.1 83.2h0.8M274.2 98.5h0.8M278.9 84.4h0.8M288.1 80.2h0.8M288.4 99.0h0.8M280.5 106.0h0.8M274.4 97.8h0.8M279.2 85.1h0.8M285.5 93.9h0.8M288.0 99.0h0.8M288.0 81.6h0.8M286.4 95.8h0.8M280.7 91.0h0.8M275.8 91.9h0.8M283.2 94.8h0.8M280.5 97.6h0.8M279.1 101.3h0.8M278.8 79.3h0.8M272.7 107.6h0.8M284.5 109.3h0.8M296.1 93.4h0.8M282.2 96.1h0.8M278.5 90.6h0.8M287.4 89.1h0.8M276.3 96.0h0.8M287.3 85.2h0.8M280.3 82.1h0.8M276.5 98.6h0.8M281.0 104.1h0.8M278.3 92.8h0.8M287.0 105.5h0.8M273.4 86.8h0.8M275.3 107.4h0.8M281.9 96.9h0.8M272.9 96.6h0.8M298.2 85.1h0.8M274.1 107.2h0.8M298.2 92.3h0.8M283.2 92.4h0.8M281.8 99.4h0.8M277.4 83.2h0.8M273.3 101.8h0.8M297.7 98.2h0.8M277.7 99.2h0.8M286.8 85.8h0.8M274.1 104.9h0.8M288.1 98.7h0.8M285.0 97.5h0.8M288.9 101.5h0.8M278.4 93.5h0.8M273.8 91.4h0.8M289.7 100.8h0.8M286.5 93.6h0.8M284.9 93.4h0.8M283.4 94.2h0.8M294.4 93.7h0.8M286.8 102.0h0.8M289.8 95.7h0.8M285.8 105.9h0.8M274.1 105.1h0.8M297.6 77.9h0.8M277.8 95.8h0.8M302.5 87.2h0.8M291.3 85.4h0.8M273.4 85.4h0.8M285.8 102.7h0.8M273.0 88.8h0.8M302.8 85.3h0.8M283.7 84.0h0.8M275.1 85.2h0.8M288.1 94.0h0.8M284.8 83.0h0.8M278.1 93.5h0.8M273.9 97.4h0.8M283.1 84.8h0.8M282.6 97.8h0.8M279.8 95.4h0.8M282.4 107.6h0.8M281.2 88.6h0.8M290.2 80.1h0.8M287.5 101.2h0.8M272.5 101.8h0.8M278.3 99.6h0.8M296.9 97.9h0.8M280.9 97.2h0.8M291.3 85.9h0.8M291.8 94.3h0.8M284.5 82.2h0.8M300.3 97.5h0.8M277.4 85.7h0.8M272.4 87.1h0.8M278.4 95.4h0.8M284.9 106.0h0.8M279.4 96.4h0.8M278.4 83.0h0.8M282.1 106.0h0.8M278.1 97.1h0.8M280.0 97.6h0.8M280.6 95.1h0.8M273.9 93.1h0.8M282.8 93.6h0.8M293.9 84.9h0.8M279.1 98.3h0.8M275.1 98.5h0.8M273.2 92.2h0.8M284.8 85.2h0.8M282.7 108.6h0.8M285.7 86.6h0.8M273.8 91.3h0.8M284.1 105.1h0.8M285.8 99.5h0.8M282.9 92.6h0.8M286.9 96.9h0.8M288.5 94.5h0.8M284.0 98.7h0.8M275.6 103.6h0.8M272.8 83.1h0.8M280.5 85.0h0.8M278.9 97.7h0.8M280.6 105.1h0.8M281.1 84.8h0.8M277.8 84.2h0.8M283.3 92.2h0.8M275.5 104.4h0.8M279.7 90.3h0.8M287.5 98.3h0.8M276.8 95.6h0.8M294.5 103.3h0.8M290.2 92.8h0.8M280.5 87.8h0.8M272.7 97.1h0.8M274.0 95.5h0.8M296.5 95.5h0.8M277.2 87.8h0.8M274.9 96.5h0.8M285.7 99.2h0.8M292.8 104.6h0.8M276.1 91.8h0.8M285.8 109.8h0.8M274.7 97.4h0.8M275.3 88.2h0.8M288.2 79.3h0.8M279.8 80.4h0.8M286.7 83.0h0.8M286.3 79.9h0.8M277.5 99.7h0.8M274.6 88.2h0.8M298.2 93.1h0.8M280.4 90.6h0.8M291.1 93.8h0.8M292.2 101.9h0.8M286.3 84.3h0.8M296.1 86.0h0.8M273.0 91.4h0.8M276.7 92.1h0.8M276.1 98.4h0.8M291.1 102.0h0.8M280.4 91.6h0.8M277.0 82.6h0.8M281.0 81.1h0.8M286.5 110.3h0.8M290.0 107.3h0.8M273.5 85.3h0.8M273.1 81.1h0.8M279.5 86.9h0.8M278.9 103.6h0.8M293.0 89.6h0.8M280.0 93.6h0.8M278.9 94.5h0.8M274.6 86.1h0.8M276.4 99.9h0.8M273.1 108.2h0.8M276.7 91.4h0.8M276.2 76.3h0.8M272.5 87.7h0.8M281.1 91.6h0.8M279.3 98.1h0.8M273.7 99.6h0.8M279.0 89.3h0.8M284.6 95.6h0.8M282.7 96.1h0.8M275.0 105.8h0.8M274.8 93.8h0.8M279.0 92.1h0.8M277.3 105.0h0.8M295.0 98.8h0.8M276.9 85.2h0.8M288.2 91.5h0.8M280.5 100.6h0.8M274.4 93.3h0.8M289.3 81.4h0.8M280.9 97.1h0.8M289.4 90.4h0.8M273.4 103.8h0.8M280.3 102.0h0.8M304.0 79.9h0.8M287.0 89.3h0.8M280.8 87.3h0.8M293.7 95.1h0.8M274.6 80.6h0.8M276.7 96.4h0.8M291.5 83.8h0.8M281.6 83.5h0.8M296.4 84.0h0.8M299.5 81.8h0.8M289.5 101.6h0.8M283.1 92.8h0.8M290.9 84.5h0.8M301.0 92.7h0.8M291.0 85.9h0.8M303.7 84.2h0.8M276.5 90.9h0.8M288.6 89.9h0.8M276.3 98.5h0.8M282.7 97.0h0.8M279.5 91.7h0.8M278.9 93.5h0.8M297.7 94.3h0.8M280.4 89.7h0.8M273.1 101.1h0.8M275.4 98.2h0.8M284.7 83.8h0.8M280.5 110.0h0.8M279.8 94.9h0.8M285.6 97.8h0.8M280.3 101.1h0.8M277.6 103.6h0.8M283.0 96.0h0.8M295.2 97.5h0.8M286.5 80.0h0.8M282.9 86.9h0.8M274.5 88.5h0.8M276.1 99.8h0.8M286.1 90.2h0.8M277.5 94.6h0.8M301.9 92.7h0.8M273.3 80.9h0.8M274.7 104.9h0.8M273.2 101.5h0.8M286.6 88.9h0.8M286.9 97.7h0.8M295.2 80.6h0.8M279.0 93.6h0.8M291.6 110.2h0.8M279.3 102.1h0.8M296.2 100.9h0.8M275.8 100.7h0.8M273.8 94.5h0.8M299.0 91.1h0.8M285.7 91.5h0.8M276.0 86.3h0.8M273.9 106.4h0.8M290.8 91.0h0.8M279.9 99.1h0.8M295.4 81.2h0.8M274.7 84.8h0.8M283.9 98.7h0.8M279.6 89.9h0.8M285.0 91.1h0.8M286.7 83.2h0.8M272.9 90.4h0.8M281.7 84.4h0.8M282.1 97.0h0.8M289.6 88.2h0.8M286.9 95.4h0.8M283.1 89.1h0.8M288.1 93.6h0.8M276.7 97.2h0.8M280.9 107.9h0.8M275.3 84.5h0.8M290.2 98.8h0.8M296.0 89.1h0.8M281.7 101.6h0.8M283.9 100.9h0.8M282.6 88.7h0.8M284.6 83.8h0.8M277.4 87.8h0.8M275.3 94.6h0.8M280.2 84.0h0.8M274.9 83.6h0.8M290.2 93.3h0.8M278.7 89.2h0.8M291.4 89.2h0.8M279.0 81.2h0.8M277.0 101.9h0.8M280.1 107.4h0.8M286.3 95.2h0.8M277.5 103.6h0.8M288.3 87.4h0.8M276.3 85.2h0.8M278.8 90.4h0.8M279.2 99.3h0.8M284.2 81.7h0.8M302.5 88.3h0.8M278.4 106.3h0.8M295.9 87.2h0.8M289.6 98.7h0.8M294.1 84.4h0.8M276.3 76.9h0.8M283.7 94.1h0.8M279.2 84.7h0.8M273.0 104.7h0.8M283.3 93.1h0.8M294.4 92.4h0.8M273.1 99.5h0.8M273.9 85.9h0.8M277.5 86.3h0.8M274.2 96.4h0.8M276.7 90.4h0.8M277.9 105.9h0.8M279.1 90.3h0.8M291.2 100.0h0.8M289.1 93.3h0.8M282.0 83.9h0.8M297.9 79.1h0.8M286.1 81.9h0.8M275.0 92.6h0.8M276.5 76.4h0.8M286.3 89.2h0.8M277.9 97.9h0.8M278.7 105.5h0.8M280.4 98.2h0.8M278.0 92.9h0.8M293.3 95.2h0.8M280.7 93.0h0.8M277.2 94.4h0.8M274.0 97.4h0.8M281.0 96.0h0.8M273.4 87.7h0.8M275.9 93.2h0.8M292.9 78.8h0.8M273.9 109.7h0.8M273.0 95.9h0.8M290.4 92.6h0.8M279.3 97.6h0.8M283.8 99.6h0.8M279.4 107.0h0.8M273.7 96.0h0.8M272.5 98.7h0.8M276.7 92.5h0.8M288.9 105.2h0.8M278.9 94.9h0.8M272.6 101.7h0.8M284.1 97.2h0.8M279.5 95.8h0.8M294.9 99.7h0.8M274.6 99.0h0.8M283.9 94.7h0.8M276.8 82.9h0.8M295.2 79.1h0.8M272.7 95.6h0.8M278.7 99.7h0.8M275.0 96.5h0.8M279.1 96.1h0.8M274.9 102.6h0.8M294.9 81.3h0.8M291.5 93.2h0.8M280.2 89.5h0.8M273.8 85.1h0.8M275.0 83.2h0.8M283.2 91.2h0.8M290.0 98.1h0.8M276.9 90.4h0.8M281.7 89.6h0.8M284.0 88.9h0.8M285.8 86.4h0.8M277.5 91.6h0.8M277.1 95.6h0.8M301.4 91.0h0.8M285.7 95.3h0.8M288.3 104.9h0.8M293.7 99.8h0.8M273.6 93.3h0.8M283.3 85.5h0.8M275.0 86.8h0.8M282.2 88.7h0.8M279.8 97.9h0.8M290.1 107.2h0.8M276.6 103.9h0.8M285.1 101.8h0.8M276.0 88.0h0.8M295.0 85.5h0.8M280.8 97.2h0.8M299.6 96.5h0.8M291.2 106.2h0.8M297.6 83.0h0.8M279.1 94.5h0.8M288.6 108.1h0.8M276.1 106.5h0.8M274.5 81.2h0.8M291.5 96.2h0.8M301.9 93.6h0.8M289.1 85.4h0.8M280.3 98.5h0.8M296.3 87.3h0.8M276.4 106.0h0.8M280.6 92.3h0.8M288.4 89.8h0.8M276.0 102.6h0.8M287.0 80.7h0.8M283.9 109.0h0.8M275.3 98.7h0.8M278.7 97.0h0.8M274.0 98.0h0.8M277.4 98.0h0.8M296.9 104.2h0.8M286.4 92.9h0.8M277.9 84.9h0.8M289.4 79.5h0.8M280.6 105.3h0.8M286.4 90.3h0.8M298.6 97.0h0.8M298.5 91.7h0.8M273.8 82.1h0.8M296.8 103.3h0.8M282.3 88.3h0.8M287.6 75.6h0.8M283.0 83.0h0.8M285.4 89.5h0.8M275.3 107.7h0.8M291.8 88.7h0.8M290.3 103.0h0.8M289.3 106.0h0.8M283.0 80.0h0.8M278.5 87.9h0.8M273.2 107.4h0.8M275.8 86.5h0.8M282.9 98.5h0.8M281.7 87.8h0.8M290.6 100.8h0.8M283.0 92.8h0.8M278.0 109.5h0.8M278.7 104.4h0.8M285.8 83.2h0.8M278.8 93.3h0.8M277.6 82.5h0.8M274.5 94.1h0.8M292.3 104.3h0.8M285.9 86.8h0.8M281.4 88.4h0.8M292.4 75.7h0.8M287.2 88.5h0.8M283.2 83.5h0.8M278.5 93.3h0.8M283.1 102.3h0.8M275.3 93.9h0.8M278.7 89.6h0.8M273.6 78.6h0.8M291.4 98.6h0.8M278.9 94.2h0.8M287.7 90.1h0.8M290.9 96.0h0.8M282.5 99.5h0.8M292.4 91.5h0.8M287.5 88.1h0.8M273.0 99.0h0.8M274.1 105.4h0.8M276.5 105.3h0.8M279.5 91.5h0.8M282.0 97.4h0.8M284.2 98.6h0.8M272.6 89.6h0.8M272.6 88.8h0.8M278.0 97.7h0.8M274.4 92.7h0.8M286.8 104.2h0.8M286.1 90.5h0.8M279.2 105.8h0.8M286.1 82.4h0.8M279.3 102.9h0.8M290.7 92.7h0.8M290.4 93.3h0.8M287.8 91.8h0.8M275.8 84.6h0.8M276.3 86.7h0.8M285.0 105.4h0.8M294.7 94.1h0.8M279.9 98.0h0.8M290.8 94.2h0.8M285.5 96.3h0.8M277.9 95.2h0.8M289.7 90.9h0.8M279.3 91.1h0.8M283.3 86.0h0.8M277.9 92.8h0.8M285.4 99.1h0.8M284.2 96.0h0.8M272.5 111.0h0.8M279.9 106.2h0.8M288.5 105.2h0.8M272.5 98.5h0.8M289.4 82.7h0.8M284.9 91.9h0.8M274.6 100.2h0.8M276.9 106.6h0.8M293.2 92.7h0.8M288.6 105.2h0.8M275.8 104.1h0.8M274.0 85.4h0.8M285.4 102.7h0.8M278.2 87.2h0.8M284.3 87.3h0.8M276.0 77.8h0.8M273.5 89.9h0.8M280.1 96.0h0.8M278.4 88.8h0.8M272.6 87.4h0.8M281.6 83.2h0.8M286.9 95.6h0.8M286.5 90.8h0.8M301.2 96.2h0.8M276.2 90.9h0.8M273.6 102.8h0.8M287.5 110.7h0.8M279.9 91.4h0.8M273.7 98.8h0.8M274.6 91.8h0.8M285.9 93.7h0.8M287.7 107.6h0.8M282.7 90.4h0.8M284.2 92.3h0.8M289.1 101.5h0.8M289.8 104.8h0.8M274.6 101.7h0.8M277.0 103.9h0.8M275.6 100.3h0.8M288.9 99.1h0.8M286.5 94.2h0.8M274.8 109.1h0.8M290.6 92.0h0.8M274.6 93.7h0.8M279.5 93.6h0.8M274.2 89.0h0.8M272.8 97.8h0.8M273.3 108.5h0.8M275.2 89.7h0.8M288.3 86.8h0.8M277.6 109.6h0.8M285.5 100.6h0.8M272.7 84.1h0.8M295.3 89.3h0.8M284.3 100.1h0.8M295.1 83.8h0.8M298.5 85.9h0.8M275.9 96.8h0.8M274.6 84.5h0.8M294.1 86.0h0.8M283.3 93.6h0.8M284.8 94.1h0.8M287.5 84.2h0.8M275.0 94.3h0.8M282.6 91.7h0.8M288.8 96.8h0.8M283.6 92.6h0.8M287.3 76.6h0.8M282.5 79.5h0.8M275.7 87.0h0.8M287.3 91.7h0.8M296.0 97.2h0.8M295.8 99.2h0.8M300.9 88.7h0.8M288.8 104.2h0.8M294.5 85.7h0.8M287.1 102.0h0.8M285.0 85.6h0.8M275.3 95.0h0.8M278.7 81.6h0.8M280.6 110.6h0.8M281.6 99.3h0.8M292.6 105.4h0.8M288.1 89.6h0.8M289.2 105.6h0.8M275.2 94.4h0.8M295.9 88.0h0.8M281.3 99.9h0.8M292.1 82.1h0.8M274.1 100.1h0.8M279.0 96.4h0.8M291.0 101.6h0.8M287.1 98.5h0.8M280.2 100.3h0.8M284.7 100.3h0.8M297.0 100.0h0.8M284.2 92.8h0.8M286.0 85.5h0.8M303.8 90.0h0.8M287.1 82.4h0.8M279.8 85.4h0.8M277.2 86.5h0.8M297.6 80.3h0.8M294.0 79.1h0.8M285.0 89.2h0.8M279.5 90.6h0.8M272.5 103.0h0.8M272.7 95.1h0.8M273.5 103.5h0.8M293.3 96.4h0.8M297.6 88.8h0.8M282.5 89.4h0.8M278.4 90.8h0.8M279.0 87.3h0.8M276.8 86.8h0.8M277.2 100.4h0.8M285.7 102.9h0.8M288.2 73.9h0.8M275.1 90.1h0.8M273.3 89.2h0.8M293.0 89.7h0.8M274.4 104.1h0.8M291.5 102.8h0.8M277.6 92.4h0.8M287.4 101.7h0.8M278.8 87.2h0.8M273.3 84.4h0.8M283.0 87.0h0.8M281.0 100.6h0.8M295.5 92.6h0.8M291.2 94.9h0.8M277.6 94.4h0.8M280.0 92.4h0.8M281.4 83.6h0.8M301.5 83.0h0.8M292.3 86.3h0.8M284.8 104.1h0.8M285.8 93.6h0.8M288.2 104.3h0.8M273.2 81.9h0.8M272.8 77.2h0.8M298.5 85.3h0.8M291.1 85.5h0.8M280.5 96.7h0.8M280.3 103.1h0.8M279.7 97.9h0.8M282.2 100.7h0.8M298.2 96.6h0.8M279.9 105.4h0.8M280.1 104.6h0.8M294.8 80.6h0.8M273.2 86.7h0.8M287.2 88.7h0.8M276.3 98.5h0.8M274.3 85.3h0.8M287.4 81.7h0.8M275.2 90.5h0.8M272.5 100.2h0.8M291.9 92.8h0.8M278.1 102.2h0.8M274.2 94.8h0.8M299.1 96.6h0.8M282.9 88.0h0.8M281.8 96.3h0.8M289.7 110.9h0.8M291.4 88.9h0.8M292.8 78.8h0.8M295.5 79.9h0.8M279.4 96.0h0.8M277.6 88.5h0.8M282.5 93.0h0.8M290.0 79.9h0.8M279.9 96.7h0.8M279.8 101.5h0.8M275.9 99.0h0.8M275.6 92.6h0.8M283.3 98.2h0.8M287.7 102.8h0.8M283.1 108.9h0.8M273.8 99.0h0.8M278.6 82.8h0.8M280.6 86.9h0.8M283.1 87.4h0.8M294.2 85.6h0.8M280.8 101.1h0.8M283.2 104.0h0.8M287.4 88.0h0.8M275.4 110.8h0.8M293.0 90.5h0.8M289.1 88.4h0.8M283.5 104.7h0.8M274.3 91.9h0.8M279.4 107.3h0.8M275.0 83.9h0.8M275.8 92.5h0.8M276.5 94.2h0.8M279.9 82.6h0.8M282.6 95.6h0.8M292.4 110.5h0.8M296.9 88.1h0.8M288.0 81.5h0.8M289.2 74.8h0.8M290.4 97.0h0.8M301.3 94.2h0.8M278.5 93.0h0.8M292.4 106.3h0.8M276.4 96.5h0.8M280.1 102.5h0.8M278.0 95.7h0.8M275.7 93.1h0.8M285.7 98.4h0.8M297.8 102.3h0.8M289.1 85.7h0.8M287.5 88.4h0.8M281.7 81.0h0.8M278.2 95.3h0.8M298.2 92.7h0.8M274.4 102.2h0.8M278.4 109.5h0.8M293.7 85.9h0.8M284.6 88.2h0.8M281.3 78.2h0.8M279.6 94.7h0.8M280.4 99.0h0.8M284.3 86.0h0.8M289.7 91.6h0.8M282.7 93.0h0.8M281.3 100.1h0.8M277.6 92.1h0.8M273.2 83.0h0.8M273.6 101.1h0.8M303.6 86.0h0.8M285.1 93.5h0.8M294.7 105.6h0.8M293.9 100.6h0.8M276.3 95.0h0.8M277.1 104.0h0.8M277.6 86.9h0.8M285.3 96.0h0.8M299.3 98.8h0.8M291.4 90.8h0.8M286.9 97.5h0.8M274.3 94.0h0.8M288.4 94.7h0.8M277.3 89.2h0.8M292.5 104.6h0.8M284.1 84.5h0.8M278.1 89.3h0.8M275.3 104.2h0.8M289.7 79.4h0.8M274.4 94.9h0.8M289.2 84.7h0.8M298.2 83.2h0.8M273.8 94.1h0.8M273.9 96.9h0.8M275.0 108.2h0.8M279.4 83.1h0.8M285.5 109.7h0.8M285.7 92.9h0.8M277.6 85.6h0.8M276.5 85.6h0.8M299.4 99.0h0.8M280.1 90.9h0.8M278.5 76.7h0.8M291.4 105.8h0.8M297.6 86.1h0.8M283.1 101.5h0.8M277.7 92.3h0.8M279.2 96.0h0.8M277.7 99.2h0.8M274.0 89.0h0.8M276.3 95.6h0.8M285.3 102.2h0.8M276.1 89.2h0.8M280.8 88.2h0.8M274.2 108.4h0.8M297.8 83.8h0.8M278.8 96.0h0.8M299.9 99.6h0.8M272.7 103.7h0.8M288.6 89.7h0.8M277.3 85.7h0.8M280.0 82.4h0.8M279.2 105.6h0.8M279.8 109.1h0.8M288.3 98.3h0.8M285.7 92.6h0.8M273.3 88.3h0.8M287.8 78.3h0.8M282.6 104.8h0.8M287.2 93.1h0.8M273.9 88.9h0.8M281.0 91.4h0.8M272.7 90.1h0.8M295.8 89.9h0.8M284.1 81.4h0.8M277.0 84.0h0.8M286.2 101.7h0.8M284.9 89.3h0.8M281.0 89.8h0.8M276.1 104.2h0.8M280.3 107.4h0.8M286.8 89.4h0.8M280.6 95.3h0.8M273.0 77.4h0.8M291.0 93.1h0.8M280.0 100.0h0.8M285.6 100.6h0.8M285.6 79.5h0.8M285.1 93.9h0.8M303.5 82.4h0.8M277.2 91.9h0.8M281.0 91.9h0.8M279.2 103.5h0.8M287.5 111.0h0.8M277.1 90.4h0.8M293.9 82.7h0.8M278.1 102.8h0.8M279.9 87.1h0.8M297.8 86.0h0.8M299.1 86.1h0.8M275.8 104.4h0.8M276.0 85.8h0.8M291.7 93.4h0.8M275.7 93.4h0.8M303.6 91.3h0.8M275.4 99.9h0.8M277.4 97.6h0.8M273.1 95.6h0.8M296.1 86.5h0.8M281.8 95.6h0.8M291.6 95.7h0.8M291.5 85.4h0.8M294.8 95.4h0.8M284.2 82.4h0.8M285.6 109.3h0.8M298.7 92.1h0.8M272.8 93.4h0.8M297.7 101.7h0.8M282.2 102.9h0.8M285.1 108.4h0.8M289.8 99.0h0.8M286.2 80.6h0.8M275.8 98.4h0.8M280.8 97.1h0.8M279.1 96.3h0.8M290.2 90.9h0.8M288.4 104.5h0.8M273.1 102.2h0.8M291.0 83.6h0.8M290.6 90.9h0.8M290.8 100.2h0.8M302.9 91.5h0.8M283.3 91.6h0.8M273.9 81.5h0.8M300.1 86.3h0.8M284.9 100.7h0.8M272.9 88.6h0.8M277.4 95.6h0.8M273.5 92.0h0.8M282.0 110.3h0.8M278.3 95.2h0.8M278.3 109.1h0.8M295.4 105.7h0.8M274.3 101.0h0.8M279.8 108.9h0.8M281.8 94.5h0.8M285.1 108.5h0.8M286.2 109.7h0.8M274.5 89.3h0.8M285.4 93.4h0.8M296.5 103.5h0.8M275.7 95.7h0.8M302.2 89.5h0.8M275.0 101.9h0.8M289.9 97.3h0.8M289.9 84.6h0.8M291.7 104.9h0.8M275.1 107.9h0.8M284.1 105.9h0.8M290.5 85.9h0.8M291.1 83.0h0.8M284.0 84.3h0.8M284.5 104.6h0.8M290.4 97.4h0.8M293.7 100.6h0.8M275.9 88.6h0.8M278.9 98.9h0.8M281.4 92.9h0.8M293.2 87.5h0.8M277.6 103.9h0.8M291.4 98.0h0.8M288.3 91.6h0.8M277.3 88.6h0.8M274.8 85.5h0.8M286.6 104.1h0.8M296.8 96.4h0.8M276.0 110.1h0.8M291.1 98.3h0.8M281.7 93.8h0.8M281.6 88.5h0.8M291.0 84.1h0.8M272.7 100.8h0.8M276.4 80.7h0.8M286.7 91.4h0.8M290.9 84.5h0.8M281.7 84.9h0.8M296.5 83.2h0.8M272.5 97.2h0.8M288.7 89.3h0.8M278.6 106.7h0.8M279.7 85.8h0.8M283.1 96.9h0.8M272.9 106.5h0.8M285.7 102.9h0.8M282.5 93.2h0.8M283.8 99.5h0.8M294.4 84.5h0.8M289.0 93.2h0.8M284.0 101.1h0.8M278.4 93.5h0.8M286.2 88.0h0.8M279.9 103.1h0.8M288.5 82.8h0.8M293.8 85.0h0.8M290.6 94.1h0.8M279.5 104.0h0.8M300.4 98.2h0.8M288.6 100.3h0.8M290.0 78.0h0.8M300.8 90.9h0.8M290.4 97.2h0.8M273.7 97.9h0.8M280.7 88.9h0.8M279.3 102.4h0.8M281.4 101.2h0.8M275.9 91.7h0.8M273.7 105.8h0.8M275.3 102.1h0.8M304.0 91.8h0.8M278.1 87.1h0.8M297.0 85.5h0.8M288.8 84.9h0.8M277.6 98.0h0.8M281.7 96.6h0.8M294.6 108.2h0.8M273.6 102.4h0.8M278.6 89.3h0.8M278.4 107.8h0.8M285.3 82.4h0.8M272.5 86.5h0.8M285.8 100.3h0.8M280.0 104.2h0.8M284.0 90.4h0.8M284.5 106.4h0.8M291.4 86.0h0.8M278.1 90.8h0.8M286.7 90.2h0.8M273.7 87.3h0.8M293.9 88.0h0.8M285.3 98.9h0.8M289.8 87.0h0.8M272.9 98.2h0.8M291.8 95.2h0.8M272.4 88.7h0.8M277.5 103.6h0.8M276.8 82.0h0.8M278.8 106.0h0.8M288.4 91.7h0.8M276.6 100.8h0.8M287.6 91.1h0.8M281.9 92.2h0.8M274.8 97.1h0.8M277.1 102.6h0.8M279.9 82.1h0.8M272.9 91.9h0.8M284.1 93.4h0.8M280.7 78.9h0.8M284.1 97.9h0.8M281.5 81.4h0.8M291.9 98.5h0.8M291.4 102.4h0.8M298.9 98.1h0.8M279.4 90.7h0.8M285.0 86.7h0.8M296.6 88.3h0.8M281.0 95.6h0.8M287.1 84.3h0.8M278.9 94.9h0.8M275.9 107.7h0.8M287.6 95.4h0.8M281.8 84.8h0.8M285.1 81.2h0.8M289.5 83.7h0.8M281.6 91.4h0.8M274.4 95.1h0.8M297.1 89.7h0.8M282.1 93.4h0.8M279.2 103.8h0.8M275.0 107.9h0.8M272.8 93.8h0.8M284.1 94.5h0.8M279.4 93.0h0.8M277.8 91.8h0.8M279.0 84.3h0.8M298.8 90.6h0.8M278.2 100.3h0.8M277.7 88.0h0.8M277.0 106.0h0.8M280.4 90.2h0.8M283.7 96.8h0.8M295.5 98.1h0.8M292.5 86.0h0.8M276.6 95.1h0.8M277.4 85.0h0.8M274.1 94.6h0.8M272.4 98.5h0.8M278.9 106.5h0.8M283.2 99.4h0.8M275.8 102.5h0.8M279.4 107.0h0.8M279.2 104.0h0.8M280.3 99.0h0.8M276.1 96.2h0.8M288.7 82.1h0.8M273.4 98.4h0.8M282.3 107.5h0.8M276.3 83.8h0.8M279.5 92.4h0.8M277.1 89.7h0.8M281.9 107.0h0.8M274.0 95.3h0.8M276.7 98.6h0.8M275.6 77.9h0.8M273.6 108.8h0.8M283.3 94.1h0.8M280.6 93.5h0.8M279.6 102.3h0.8M288.7 98.5h0.8M282.0 78.2h0.8M283.9 93.1h0.8M272.9 100.6h0.8M285.0 102.8h0.8M282.4 93.1h0.8M292.4 110.0h0.8M286.3 99.7h0.8M276.9 83.5h0.8M273.0 106.5h0.8M280.0 90.8h0.8M284.9 102.4h0.8M288.7 107.4h0.8M286.7 97.6h0.8M303.3 94.2h0.8M294.3 83.4h0.8M286.0 97.7h0.8M294.5 86.1h0.8M294.2 86.6h0.8M285.1 99.8h0.8M283.9 82.8h0.8M274.6 93.4h0.8M287.6 97.5h0.8M280.6 103.0h0.8M289.7 92.2h0.8M300.1 74.3h0.8M286.5 92.0h0.8M273.5 92.0h0.8M279.0 110.1h0.8M273.3 88.0h0.8M297.1 90.2h0.8M272.5 89.8h0.8M274.8 107.4h0.8M282.4 89.1h0.8M276.3 91.1h0.8M277.3 88.9h0.8M289.8 106.9h0.8M272.7 94.4h0.8M277.8 98.0h0.8M292.5 82.2h0.8M288.2 101.3h0.8M281.2 99.7h0.8M273.3 97.0h0.8M277.3 86.5h0.8M284.0 106.9h0.8M272.5 85.0h0.8M276.2 83.5h0.8M297.0 88.5h0.8M280.4 92.3h0.8M285.3 87.0h0.8M278.8 94.4h0.8M276.5 86.7h0.8M290.4 91.5h0.8M282.7 85.9h0.8M286.9 99.5h0.8M278.4 103.0h0.8M281.3 97.8h0.8M276.2 82.4h0.8M279.6 78.1h0.8M301.8 80.0h0.8M277.1 89.9h0.8M294.3 96.3h0.8M277.1 86.9h0.8M280.0 91.3h0.8M282.7 98.5h0.8M297.9 80.0h0.8M290.0 82.8h0.8M282.9 91.3h0.8M274.2 90.0h0.8M275.9 76.7h0.8M273.5 100.1h0.8M297.1 82.5h0.8M280.5 97.5h0.8M290.5 93.2h0.8M273.4 102.4h0.8M275.7 104.4h0.8M278.0 110.3h0.8M274.5 95.7h0.8M283.9 99.4h0.8M282.4 93.1h0.8M281.9 94.3h0.8M296.1 88.7h0.8M301.4 84.2h0.8M286.5 85.1h0.8M279.9 85.6h0.8M283.2 101.4h0.8M293.8 81.2h0.8M274.7 97.0h0.8M292.3 73.2h0.8M273.2 98.5h0.8M293.4 91.6h0.8M275.1 91.9h0.8M283.5 99.1h0.8M274.8 103.9h0.8M277.7 84.5h0.8M282.2 108.8h0.8M280.9 88.2h0.8M296.6 94.7h0.8M274.8 87.2h0.8M283.4 97.5h0.8M282.3 82.6h0.8M279.9 79.7h0.8M273.4 101.3h0.8M285.6 96.2h0.8M278.6 90.0h0.8M273.8 99.5h0.8M285.3 81.4h0.8M279.1 102.4h0.8M284.7 93.5h0.8M283.0 100.7h0.8M276.8 90.4h0.8M275.8 104.8h0.8M276.1 89.7h0.8M279.7 105.4h0.8M285.0 94.0h0.8M285.9 98.4h0.8M281.4 101.3h0.8M278.0 76.9h0.8M287.5 101.8h0.8M276.2 86.1h0.8M287.0 93.2h0.8M273.1 84.1h0.8M276.4 94.1h0.8M272.9 106.6h0.8M275.8 91.8h0.8M287.4 95.0h0.8M272.9 83.4h0.8M285.9 85.2h0.8M280.9 94.2h0.8M282.6 94.2h0.8M291.2 87.3h0.8M279.4 96.5h0.8M282.7 98.0h0.8M275.2 93.2h0.8M280.1 94.6h0.8M279.3 96.6h0.8M289.2 84.8h0.8M276.2 86.7h0.8M275.7 97.4h0.8M297.2 92.6h0.8M283.3 81.5h0.8M291.9 92.9h0.8M273.2 99.8h0.8M278.0 93.7h0.8M276.5 80.2h0.8M280.6 92.8h0.8M277.9 102.1h0.8M290.5 95.7h0.8M276.8 80.4h0.8M274.2 100.3h0.8M281.0 99.7h0.8M284.6 103.3h0.8M278.6 82.9h0.8M282.2 98.3h0.8M276.3 104.5h0.8M276.3 88.7h0.8M285.0 94.1h0.8M272.6 97.7h0.8M278.9 89.1h0.8M282.8 90.4h0.8M280.0 81.8h0.8M284.0 86.3h0.8M291.8 92.8h0.8M275.5 86.0h0.8M294.1 83.5h0.8M275.5 82.7h0.8M295.4 102.5h0.8M280.0 98.4h0.8M282.5 81.7h0.8M284.3 82.9h0.8M292.5 85.2h0.8M278.1 106.2h0.8M303.3 82.5h0.8M279.5 82.6h0.8M285.3 107.2h0.8M294.0 85.1h0.8M274.0 105.1h0.8M277.8 89.8h0.8M286.5 95.9h0.8M291.7 104.7h0.8M274.1 100.1h0.8M283.8 91.4h0.8M276.4 99.6h0.8M283.8 86.8h0.8M274.5 107.1h0.8M287.5 108.7h0.8M284.2 93.1h0.8M290.1 99.4h0.8M283.9 83.9h0.8M277.5 76.0h0.8M294.6 83.8h0.8M282.4 96.5h0.8M286.2 77.6h0.8M292.0 110.8h0.8M273.0 88.6h0.8M281.7 105.8h0.8M290.7 90.9h0.8M281.1 81.4h0.8M279.0 96.1h0.8M282.5 86.5h0.8M278.0 110.8h0.8M292.4 106.2h0.8M278.3 99.5h0.8M273.9 96.2h0.8M286.6 89.9h0.8M293.9 82.0h0.8M293.0 87.5h0.8M277.9 98.4h0.8M288.8 97.4h0.8M283.0 92.2h0.8M274.1 98.6h0.8M272.8 100.6h0.8M276.9 83.9h0.8M291.1 89.9h0.8M275.4 87.6h0.8M277.8 100.6h0.8M288.3 78.5h0.8M278.5 86.7h0.8M281.2 97.1h0.8M288.3 92.0h0.8M274.8 98.2h0.8M299.2 95.9h0.8M283.6 84.8h0.8M278.9 83.7h0.8M282.9 93.8h0.8M282.7 99.1h0.8M283.1 109.6h0.8M278.7 106.0h0.8M277.8 87.0h0.8M285.9 98.7h0.8M285.6 106.0h0.8M272.5 95.7h0.8M284.4 81.9h0.8M281.9 94.3h0.8M279.1 95.2h0.8M272.8 101.5h0.8M286.9 75.4h0.8M281.0 101.7h0.8M300.8 87.2h0.8M272.9 107.1h0.8M276.6 84.3h0.8M276.2 103.7h0.8M286.3 89.4h0.8M272.7 89.0h0.8M273.6 102.5h0.8M285.2 104.6h0.8M282.3 109.7h0.8M291.5 97.1h0.8M280.0 97.2h0.8M273.5 102.7h0.8M273.7 97.2h0.8M278.7 96.3h0.8M272.6 104.6h0.8M281.5 81.6h0.8M282.3 98.8h0.8M281.1 99.9h0.8M273.1 91.8h0.8M273.4 101.0h0.8M275.8 89.0h0.8M280.1 82.9h0.8M278.8 88.1h0.8M288.8 107.9h0.8M296.4 98.5h0.8M279.0 102.1h0.8M280.8 91.6h0.8M276.9 90.6h0.8M279.1 90.0h0.8M286.8 94.8h0.8M289.3 86.9h0.8M284.6 87.3h0.8M287.3 94.6h0.8M282.0 104.9h0.8M279.5 95.1h0.8M280.3 91.9h0.8M273.9 87.5h0.8M286.5 88.7h0.8M285.4 88.6h0.8M274.6 98.1h0.8M278.3 85.0h0.8M288.1 110.7h0.8M272.6 98.6h0.8M289.1 94.1h0.8M277.5 106.5h0.8M278.6 84.5h0.8M299.1 95.4h0.8M276.2 109.4h0.8M278.3 91.8h0.8M275.8 86.4h0.8M277.7 79.8h0.8M295.0 84.1h0.8M281.5 84.3h0.8M297.8 98.5h0.8M274.4 97.3h0.8M283.7 90.8h0.8M276.4 100.3h0.8M278.7 84.7h0.8M276.6 86.8h0.8M277.5 101.5h0.8M285.5 85.8h0.8M282.8 106.8h0.8M288.4 102.5h0.8M278.8 89.0h0.8M286.1 87.3h0.8M296.7 90.7h0.8M281.8 98.1h0.8M301.6 74.4h0.8M281.6 97.5h0.8M275.6 91.8h0.8M292.3 99.5h0.8M286.5 91.5h0.8M277.3 89.2h0.8M275.4 87.2h0.8M277.4 97.8h0.8M277.7 90.9h0.8M285.8 95.3h0.8M275.0 95.5h0.8M302.4 96.3h0.8M288.9 103.8h0.8M286.6 92.0h0.8M277.6 98.5h0.8M272.7 90.9h0.8M290.6 90.1h0.8M277.3 85.3h0.8M278.3 82.9h0.8M273.5 89.4h0.8M280.7 82.5h0.8M300.1 87.8h0.8M277.7 97.5h0.8M279.3 76.9h0.8M281.2 107.1h0.8M280.5 100.4h0.8M282.1 99.3h0.8M298.4 99.3h0.8M294.1 79.8h0.8M282.0 92.4h0.8M282.7 100.1h0.8M276.8 104.7h0.8M278.4 92.0h0.8M302.6 88.8h0.8M283.4 99.2h0.8M275.4 103.0h0.8M301.8 93.8h0.8M288.7 107.4h0.8M287.1 91.9h0.8M272.6 96.8h0.8M276.4 97.6h0.8M290.5 85.5h0.8M274.7 103.2h0.8M281.9 91.2h0.8M287.3 90.8h0.8M279.4 90.3h0.8M289.3 90.0h0.8M277.3 98.7h0.8M278.5 101.2h0.8M290.8 93.9h0.8M280.1 89.5h0.8M275.5 107.9h0.8M280.9 104.4h0.8M277.7 95.6h0.8M288.6 90.1h0.8M276.1 82.3h0.8M274.0 100.1h0.8M279.4 94.9h0.8M282.7 89.8h0.8M302.3 81.9h0.8M274.9 90.1h0.8M274.2 106.6h0.8M275.2 97.1h0.8M280.3 98.8h0.8M290.6 97.3h0.8M292.3 96.0h0.8M274.6 96.0h0.8M287.0 101.0h0.8M276.2 83.7h0.8M277.8 111.3h0.8M296.5 80.4h0.8M291.8 86.1h0.8M283.4 89.9h0.8M276.5 104.2h0.8M279.4 105.9h0.8M278.8 82.2h0.8M280.8 101.1h0.8M274.8 101.9h0.8M286.5 106.9h0.8M286.3 75.3h0.8M294.9 106.1h0.8M303.4 94.7h0.8M276.5 96.8h0.8M281.7 95.6h0.8M280.8 94.4h0.8M283.1 89.3h0.8M288.4 85.7h0.8M278.4 89.1h0.8M285.1 98.3h0.8M285.9 98.9h0.8M274.1 87.8h0.8M272.9 82.7h0.8M283.8 85.3h0.8M280.0 94.4h0.8M322.4 73.5h0.8M313.6 76.3h0.8M322.3 76.4h0.8M310.6 66.9h0.8M323.4 76.3h0.8M313.9 68.3h0.8M314.7 68.9h0.8M319.7 79.0h0.8M318.4 75.4h0.8M309.3 55.0h0.8M322.8 57.2h0.8M310.4 73.8h0.8M313.8 76.1h0.8M314.9 71.3h0.8M309.3 71.7h0.8M318.1 58.8h0.8M314.3 82.2h0.8M324.8 72.8h0.8M298.4 76.2h0.8M318.7 74.4h0.8M313.4 63.6h0.8M321.2 71.7h0.8M307.9 69.7h0.8M308.2 70.3h0.8M307.9 72.6h0.8M309.4 76.6h0.8M320.4 68.3h0.8M306.0 63.5h0.8M312.7 77.7h0.8M306.7 85.1h0.8M312.7 81.5h0.8M312.7 73.5h0.8M316.0 65.7h0.8M320.9 57.4h0.8M299.3 75.6h0.8M307.0 69.8h0.8M310.8 68.4h0.8M319.3 53.3h0.8M311.3 64.4h0.8M323.3 62.8h0.8M318.7 84.6h0.8M303.0 82.5h0.8M312.6 66.8h0.8M321.4 70.5h0.8M313.2 63.6h0.8M305.4 65.1h0.8M307.6 79.0h0.8M305.3 66.4h0.8M314.9 75.9h0.8M312.4 73.7h0.8M312.2 67.9h0.8M324.4 66.9h0.8M307.3 69.5h0.8M318.3 77.1h0.8M304.8 72.7h0.8M301.3 75.3h0.8M318.6 80.1h0.8M320.3 63.9h0.8M320.4 74.6h0.8M315.1 72.6h0.8M318.2 80.8h0.8M303.7 59.3h0.8M309.7 72.1h0.8M322.2 74.8h0.8M308.2 87.8h0.8M303.9 66.4h0.8M315.2 69.8h0.8M317.7 68.3h0.8M315.7 79.8h0.8M315.0 69.0h0.8M307.4 56.1h0.8M317.8 78.3h0.8M302.5 83.7h0.8M322.4 54.3h0.8M313.6 66.8h0.8M309.6 67.8h0.8M315.2 69.9h0.8M312.6 90.2h0.8M312.4 76.6h0.8M320.5 59.0h0.8M307.6 80.4h0.8M311.8 71.3h0.8M307.6 66.2h0.8M309.1 73.6h0.8M315.1 58.4h0.8M300.7 83.4h0.8M319.7 69.8h0.8M312.0 65.0h0.8M320.9 68.2h0.8M307.3 68.5h0.8M312.2 73.1h0.8M326.6 60.2h0.8M315.3 62.3h0.8M319.8 80.1h0.8M313.2 78.8h0.8M305.2 75.5h0.8M308.4 69.0h0.8M320.0 69.2h0.8M318.1 66.2h0.8M325.5 75.2h0.8M305.5 76.8h0.8M313.6 73.0h0.8M306.2 74.1h0.8M311.8 78.8h0.8M314.9 65.5h0.8M301.1 77.7h0.8M309.5 78.2h0.8M317.5 57.6h0.8M318.9 63.3h0.8M313.5 78.6h0.8M314.4 77.0h0.8M314.7 52.8h0.8M310.0 69.6h0.8M311.7 71.2h0.8M310.1 67.8h0.8M306.0 73.0h0.8M321.4 61.3h0.8M314.0 56.3h0.8M312.7 63.8h0.8M304.6 65.7h0.8M313.0 69.6h0.8M309.0 64.0h0.8M321.0 58.9h0.8M322.6 56.5h0.8M314.2 59.9h0.8M320.1 84.8h0.8M316.3 76.6h0.8M312.3 69.1h0.8M320.9 54.5h0.8M313.0 75.3h0.8M317.1 72.0h0.8M305.7 63.3h0.8M318.9 78.0h0.8M314.3 62.4h0.8M314.3 66.3h0.8M312.7 72.0h0.8M305.2 69.4h0.8M305.3 76.5h0.8M307.2 67.1h0.8M316.8 65.6h0.8M325.1 63.7h0.8M314.3 68.3h0.8M301.2 65.9h0.8M326.2 70.9h0.8M324.6 66.8h0.8M307.3 75.2h0.8M300.7 73.0h0.8M321.0 64.4h0.8M305.5 80.3h0.8M314.3 76.9h0.8M312.3 71.4h0.8M310.6 75.9h0.8M311.7 72.7h0.8M303.9 80.6h0.8M320.3 78.4h0.8M315.1 64.1h0.8M311.0 73.9h0.8M318.1 65.4h0.8M314.8 71.9h0.8M319.5 66.6h0.8M317.9 64.2h0.8M306.4 73.6h0.8M312.9 69.8h0.8M312.3 62.9h0.8M301.5 65.7h0.8M307.0 77.2h0.8M304.8 76.0h0.8M301.5 82.9h0.8M322.6 67.3h0.8M303.5 83.3h0.8M303.6 70.6h0.8M315.7 75.7h0.8M309.5 61.0h0.8M315.8 85.7h0.8M298.5 71.7h0.8M318.0 69.9h0.8M311.8 75.8h0.8M317.3 61.9h0.8M309.0 80.0h0.8M318.0 61.7h0.8M311.8 70.5h0.8M315.4 72.0h0.8M317.4 58.5h0.8M312.7 72.9h0.8M314.2 65.3h0.8M302.3 81.3h0.8M324.6 58.7h0.8M308.9 79.3h0.8M310.5 58.9h0.8M310.7 72.6h0.8M312.3 73.7h0.8M319.6 69.9h0.8M310.0 63.4h0.8M315.5 73.8h0.8M313.5 80.7h0.8M313.6 75.7h0.8M319.8 63.3h0.8M319.0 52.1h0.8M308.8 67.1h0.8M323.1 63.9h0.8M304.5 59.1h0.8M309.6 76.1h0.8M318.5 73.7h0.8M310.7 74.8h0.8M320.6 53.9h0.8M317.2 75.0h0.8M311.0 79.4h0.8M314.0 77.5h0.8M306.5 78.4h0.8M306.3 61.8h0.8M322.4 72.0h0.8M310.4 70.2h0.8M318.7 82.2h0.8M310.7 63.9h0.8M323.0 60.8h0.8M315.6 62.1h0.8M313.6 55.7h0.8M318.2 63.2h0.8M309.2 68.0h0.8M302.2 72.0h0.8M311.6 58.2h0.8M320.6 61.0h0.8M309.6 67.7h0.8M302.6 72.8h0.8M308.5 74.6h0.8M315.2 60.3h0.8M304.6 73.6h0.8M304.5 62.7h0.8M312.7 74.8h0.8M308.7 63.5h0.8M320.7 74.2h0.8M323.7 61.7h0.8M319.4 64.9h0.8M316.8 60.8h0.8M304.1 75.1h0.8M315.7 55.7h0.8M308.5 72.6h0.8M315.4 70.6h0.8M314.4 76.0h0.8M318.4 73.6h0.8M316.0 82.4h0.8M319.3 72.2h0.8M307.2 67.5h0.8M319.3 71.3h0.8M316.4 72.9h0.8M312.1 71.2h0.8M310.4 71.1h0.8M313.4 78.2h0.8M306.7 79.2h0.8M304.7 85.0h0.8M307.0 67.5h0.8M313.3 65.5h0.8M307.8 79.9h0.8M300.9 72.0h0.8M307.1 78.9h0.8M315.8 76.2h0.8M321.3 80.4h0.8M305.3 79.5h0.8M316.4 76.1h0.8M307.9 62.5h0.8M314.1 75.3h0.8M304.3 81.4h0.8M314.4 78.1h0.8M316.8 74.4h0.8M306.9 83.5h0.8M313.9 68.5h0.8M317.9 69.7h0.8M313.4 66.1h0.8M316.7 81.8h0.8M318.6 84.0h0.8M316.4 76.2h0.8M312.4 62.0h0.8M321.6 72.4h0.8M302.8 68.3h0.8M301.8 81.0h0.8M310.1 82.2h0.8M315.4 58.6h0.8M309.0 79.1h0.8M319.0 71.0h0.8M310.2 76.5h0.8M317.6 76.8h0.8M307.3 71.0h0.8M324.2 80.5h0.8M318.8 67.0h0.8M309.4 79.5h0.8M309.5 81.6h0.8M306.6 84.7h0.8M323.0 73.1h0.8M314.3 58.0h0.8M308.5 61.5h0.8M315.4 65.9h0.8M306.5 82.2h0.8M319.3 69.1h0.8M308.4 66.2h0.8M321.5 69.5h0.8M313.5 67.4h0.8M315.9 63.6h0.8M322.0 64.1h0.8M308.3 71.5h0.8M312.2 63.3h0.8M314.8 79.7h0.8M319.8 70.4h0.8M310.4 72.1h0.8M313.0 66.7h0.8M311.1 65.4h0.8M305.2 85.2h0.8M311.2 84.9h0.8M303.7 77.1h0.8M306.2 72.8h0.8M326.4 65.2h0.8M308.0 73.5h0.8M310.5 67.1h0.8M308.7 83.8h0.8M317.7 71.2h0.8M309.8 73.0h0.8M304.7 80.1h0.8M324.4 73.2h0.8M302.9 70.0h0.8M316.0 74.5h0.8M318.5 62.6h0.8M313.8 78.0h0.8M313.1 66.5h0.8M305.3 79.8h0.8M299.5 77.5h0.8M311.4 80.5h0.8M313.7 57.1h0.8M312.9 67.3h0.8M310.4 68.1h0.8M318.1 69.0h0.8M319.6 74.7h0.8M300.6 68.1h0.8M319.5 66.2h0.8M309.4 70.3h0.8M313.4 67.3h0.8M308.0 71.3h0.8M313.7 70.9h0.8M318.7 73.9h0.8M315.2 78.7h0.8M311.9 63.0h0.8M320.1 61.4h0.8M316.7 76.8h0.8M318.0 75.9h0.8M302.3 71.5h0.8M313.9 68.0h0.8M312.9 76.2h0.8M314.6 71.7h0.8M307.9 70.4h0.8M307.4 75.3h0.8M316.5 66.8h0.8M320.9 71.6h0.8M312.0 63.8h0.8M324.3 63.8h0.8M321.2 76.8h0.8M311.0 76.7h0.8M301.3 81.1h0.8M317.5 56.4h0.8M323.9 62.6h0.8M314.8 63.9h0.8M305.7 77.5h0.8M313.5 90.0h0.8M315.0 72.9h0.8M315.5 64.4h0.8M306.2 83.4h0.8M318.6 58.2h0.8M317.3 75.4h0.8M313.7 62.0h0.8M311.5 64.8h0.8M313.1 64.7h0.8M323.0 60.2h0.8M309.1 78.0h0.8M308.1 54.8h0.8M309.6 79.1h0.8M315.8 53.3h0.8M308.7 83.6h0.8M316.0 65.3h0.8M323.7 59.3h0.8M304.7 73.6h0.8M305.0 79.0h0.8M312.5 73.5h0.8M310.9 89.3h0.8M312.1 74.1h0.8M321.1 55.5h0.8M315.9 87.8h0.8M320.1 76.8h0.8M317.6 64.1h0.8M303.7 76.0h0.8M314.7 62.1h0.8M304.1 78.6h0.8M304.5 80.8h0.8M314.1 72.6h0.8M319.5 73.3h0.8M314.7 75.6h0.8M304.2 73.5h0.8M312.3 82.7h0.8M316.6 74.6h0.8M322.2 61.7h0.8M320.8 75.4h0.8M312.1 65.6h0.8M314.8 75.0h0.8M308.8 70.8h0.8M312.1 76.5h0.8M307.8 71.3h0.8M319.3 83.6h0.8M316.9 66.0h0.8M307.0 86.4h0.8M305.3 74.2h0.8M319.5 74.2h0.8M315.2 60.4h0.8M316.6 65.6h0.8M304.3 74.3h0.8M316.5 70.0h0.8M309.9 75.3h0.8M303.8 78.6h0.8M319.6 74.3h0.8M306.5 83.4h0.8M307.9 73.9h0.8M314.8 67.4h0.8M309.6 57.9h0.8M301.8 69.4h0.8M306.8 76.1h0.8M311.5 67.1h0.8M306.3 67.8h0.8M306.8 90.0h0.8M303.6 72.7h0.8M315.1 78.8h0.8M324.6 73.5h0.8M318.7 82.9h0.8M314.9 74.5h0.8M321.1 75.9h0.8M326.4 66.4h0.8M309.6 66.8h0.8M304.4 65.2h0.8M303.4 74.3h0.8M313.7 83.6h0.8M300.0 71.9h0.8M305.9 68.7h0.8M312.3 64.0h0.8M315.4 73.0h0.8M309.9 82.1h0.8M308.4 75.2h0.8M302.2 65.2h0.8M316.0 75.6h0.8M308.4 68.4h0.8M314.1 63.4h0.8M311.8 74.8h0.8M315.1 66.0h0.8M314.6 63.1h0.8M311.1 73.8h0.8M306.0 80.5h0.8M306.5 63.1h0.8M314.4 83.3h0.8M302.1 65.3h0.8M320.8 64.8h0.8M320.8 79.9h0.8M312.2 63.3h0.8M321.7 75.7h0.8M310.6 65.1h0.8M313.0 59.5h0.8M315.6 69.5h0.8M313.9 73.2h0.8M311.6 78.7h0.8M309.8 72.8h0.8M318.0 83.0h0.8M318.3 84.3h0.8M308.1 58.9h0.8M304.9 75.6h0.8M321.3 72.8h0.8M316.3 68.7h0.8M308.2 65.9h0.8M306.6 61.9h0.8M313.6 70.3h0.8M311.9 54.4h0.8M309.4 64.5h0.8M304.3 63.4h0.8M313.3 62.6h0.8M310.7 87.9h0.8M305.6 83.1h0.8M311.2 64.4h0.8M315.1 65.6h0.8M317.3 70.0h0.8M312.9 71.0h0.8M312.3 66.8h0.8M313.5 76.3h0.8M314.0 56.4h0.8M320.4 63.9h0.8M304.3 62.4h0.8M307.8 61.1h0.8M318.6 76.1h0.8M322.0 55.3h0.8M316.8 71.0h0.8M313.6 76.4h0.8M320.8 58.4h0.8M303.4 82.5h0.8M319.9 74.7h0.8M316.8 70.3h0.8M310.9 74.4h0.8M311.7 73.0h0.8M321.1 77.4h0.8M311.1 83.5h0.8M305.2 75.3h0.8M315.5 55.0h0.8M312.8 60.4h0.8M319.8 67.7h0.8M315.7 74.6h0.8M313.4 65.4h0.8M309.1 74.5h0.8M304.7 73.8h0.8M316.0 72.7h0.8M315.0 69.2h0.8M303.5 80.9h0.8M310.2 60.2h0.8M318.7 66.7h0.8M317.4 80.1h0.8M309.7 83.8h0.8M313.3 76.0h0.8M310.8 63.7h0.8M314.3 71.1h0.8M308.9 69.7h0.8M303.4 65.8h0.8M319.5 71.6h0.8M311.3 67.9h0.8M318.3 58.6h0.8M318.6 68.0h0.8M324.0 65.3h0.8M316.4 87.6h0.8M316.1 68.4h0.8M308.7 54.1h0.8M312.7 63.6h0.8M317.3 60.3h0.8M311.4 72.4h0.8M318.1 59.6h0.8M312.3 65.8h0.8M305.4 71.4h0.8M308.9 67.6h0.8M305.8 89.4h0.8M317.8 64.4h0.8M323.9 67.9h0.8M317.4 70.7h0.8M318.0 70.6h0.8M317.3 65.7h0.8M314.3 98.0h0.8M310.0 90.9h0.8M304.7 89.2h0.8M315.5 99.8h0.8M313.6 92.9h0.8M309.8 77.7h0.8M305.6 81.2h0.8M311.3 92.6h0.8M302.8 94.1h0.8M309.8 94.8h0.8M313.8 84.2h0.8M309.4 99.1h0.8M307.3 105.3h0.8M316.3 94.4h0.8M314.2 92.0h0.8M314.6 89.9h0.8M307.5 93.7h0.8M316.9 96.8h0.8M300.6 78.2h0.8M306.2 98.1h0.8M313.7 91.0h0.8M303.4 78.5h0.8M296.4 103.4h0.8M303.4 104.0h0.8M304.4 84.0h0.8M313.6 95.9h0.8M311.8 91.6h0.8M298.4 79.5h0.8M296.7 98.0h0.8M313.5 90.5h0.8M313.0 96.7h0.8M304.7 85.0h0.8M310.9 99.5h0.8M316.7 89.5h0.8M306.2 102.7h0.8M308.5 107.6h0.8M309.8 90.9h0.8M294.0 92.7h0.8M306.6 93.4h0.8M321.2 88.2h0.8M315.7 92.4h0.8M310.4 102.3h0.8M305.8 80.8h0.8M297.3 93.5h0.8M314.1 80.3h0.8M312.0 98.8h0.8M296.7 103.3h0.8M314.8 89.5h0.8M300.5 85.7h0.8M313.8 108.4h0.8M307.8 85.4h0.8M298.5 95.6h0.8M311.5 87.1h0.8M302.8 96.5h0.8M312.3 110.5h0.8M306.4 89.3h0.8M299.7 90.0h0.8M304.2 109.6h0.8M307.7 79.2h0.8M309.1 95.1h0.8M305.4 84.4h0.8M305.7 100.6h0.8M307.7 102.7h0.8M307.0 97.7h0.8M316.7 91.8h0.8M303.5 97.4h0.8M312.7 106.6h0.8M306.2 103.6h0.8M304.6 104.2h0.8M315.8 105.0h0.8M307.3 98.7h0.8M312.7 96.0h0.8M308.7 103.3h0.8M310.3 104.5h0.8M311.1 86.7h0.8M301.1 100.1h0.8M312.3 90.6h0.8M314.8 90.9h0.8M318.4 105.2h0.8M301.8 96.1h0.8M304.3 92.3h0.8M309.3 107.7h0.8M296.6 99.5h0.8M305.4 94.2h0.8M313.6 99.4h0.8M301.6 94.0h0.8M311.0 71.7h0.8M307.0 88.5h0.8M319.5 86.2h0.8M302.8 100.3h0.8M300.4 85.1h0.8M300.2 103.4h0.8M306.5 87.4h0.8M322.1 91.2h0.8M314.5 98.4h0.8M314.0 107.2h0.8M311.0 103.3h0.8M305.1 102.1h0.8M306.0 99.7h0.8M321.4 93.7h0.8M306.2 108.5h0.8M311.0 106.0h0.8M313.5 110.7h0.8M300.5 85.0h0.8M303.6 87.4h0.8M304.6 80.0h0.8M309.0 83.3h0.8M309.8 89.5h0.8M309.1 73.4h0.8M308.7 103.6h0.8M317.4 85.9h0.8M297.6 91.4h0.8M298.7 105.4h0.8M312.8 108.6h0.8M305.6 92.8h0.8M303.4 77.8h0.8M322.2 86.7h0.8M311.7 99.6h0.8M309.5 93.2h0.8M305.7 89.7h0.8M314.9 94.1h0.8M298.8 87.5h0.8M306.4 73.2h0.8M312.3 99.0h0.8M301.2 84.0h0.8M317.9 85.3h0.8M313.0 99.9h0.8M313.9 99.9h0.8M306.8 84.0h0.8M312.4 83.7h0.8M302.2 108.1h0.8M299.2 84.9h0.8M307.6 99.6h0.8M314.9 101.4h0.8M315.1 91.6h0.8M311.9 83.3h0.8M312.3 103.3h0.8M313.7 97.4h0.8M309.5 84.2h0.8M295.1 93.3h0.8M304.2 95.4h0.8M298.5 90.2h0.8M310.5 80.1h0.8M313.9 102.9h0.8M309.0 107.3h0.8M304.3 83.5h0.8M321.7 96.2h0.8M306.9 97.1h0.8M315.7 90.9h0.8M307.6 83.5h0.8M300.8 84.5h0.8M317.6 92.8h0.8M312.2 90.9h0.8M313.7 94.6h0.8M312.7 93.3h0.8M307.3 94.9h0.8M307.1 80.6h0.8M307.4 109.0h0.8M316.5 95.0h0.8M305.4 91.8h0.8M322.8 91.7h0.8M309.0 93.9h0.8M311.1 87.3h0.8M316.4 92.0h0.8M306.2 85.4h0.8M315.5 86.9h0.8M301.8 86.2h0.8M304.7 91.9h0.8M300.9 87.7h0.8M307.8 82.2h0.8M316.7 80.6h0.8M299.9 91.6h0.8M311.2 91.3h0.8M314.8 101.1h0.8M304.7 110.8h0.8M319.2 103.3h0.8M312.0 102.2h0.8M301.2 92.5h0.8M305.1 92.0h0.8M304.9 90.5h0.8M311.2 88.7h0.8M311.0 100.5h0.8M299.1 92.5h0.8M312.7 91.0h0.8M314.4 98.4h0.8M304.5 85.4h0.8M304.5 101.0h0.8M301.5 99.9h0.8M303.0 74.4h0.8M304.3 101.8h0.8M305.9 100.4h0.8M307.8 76.0h0.8M308.0 106.6h0.8M304.0 81.2h0.8M315.6 107.1h0.8M302.8 94.2h0.8M312.0 99.6h0.8M298.7 103.9h0.8M303.3 103.9h0.8M309.6 80.9h0.8M299.6 107.3h0.8M305.8 103.7h0.8M301.4 98.3h0.8M314.3 91.2h0.8M311.7 91.8h0.8M310.8 99.8h0.8M309.3 99.5h0.8M307.2 89.4h0.8M299.1 93.9h0.8M314.8 100.3h0.8M313.7 97.5h0.8M307.1 108.7h0.8M313.1 78.4h0.8M302.1 87.7h0.8M309.0 93.9h0.8M315.7 90.5h0.8M310.8 71.5h0.8M302.8 87.8h0.8M299.1 101.9h0.8M307.6 84.2h0.8M305.5 90.4h0.8M301.0 86.0h0.8M310.6 96.6h0.8M308.3 94.0h0.8M303.8 90.8h0.8M307.9 89.1h0.8M307.5 91.9h0.8M311.3 89.9h0.8M310.4 90.4h0.8M303.6 91.0h0.8M303.8 100.5h0.8M309.2 86.1h0.8M298.3 90.0h0.8M318.8 93.7h0.8M302.0 97.6h0.8M310.8 107.2h0.8M315.2 97.1h0.8M302.4 97.2h0.8M320.5 92.3h0.8M310.0 83.8h0.8M296.0 90.5h0.8M309.0 93.6h0.8M308.2 101.5h0.8M300.6 105.1h0.8M304.3 105.7h0.8M301.9 91.3h0.8M312.2 92.9h0.8M312.9 95.6h0.8M304.8 92.4h0.8M306.1 91.5h0.8M307.4 71.4h0.8M309.9 103.9h0.8M311.1 100.1h0.8M294.4 94.7h0.8M306.1 75.6h0.8M311.4 79.0h0.8M309.6 102.5h0.8M314.5 106.6h0.8M309.7 88.7h0.8M313.7 80.1h0.8M300.3 97.5h0.8M307.1 95.5h0.8M313.9 83.6h0.8M307.9 85.9h0.8M309.8 97.2h0.8M313.3 97.2h0.8M312.0 92.3h0.8M305.3 95.7h0.8M299.8 94.4h0.8M318.7 96.2h0.8M294.9 101.7h0.8M300.2 82.9h0.8M312.2 86.0h0.8M313.0 90.3h0.8M302.2 93.5h0.8M304.1 84.4h0.8M307.3 106.4h0.8M304.9 105.3h0.8M305.8 97.5h0.8M300.3 97.3h0.8M298.4 81.8h0.8M295.4 103.2h0.8M319.9 81.1h0.8M309.9 74.5h0.8M315.6 99.6h0.8M302.9 82.5h0.8M314.5 107.4h0.8M306.7 106.4h0.8M310.8 76.5h0.8M307.4 95.5h0.8M304.1 78.9h0.8M310.5 87.9h0.8M309.7 87.0h0.8M304.5 98.3h0.8M310.8 104.4h0.8M295.9 86.3h0.8M308.6 110.5h0.8M309.1 88.7h0.8M311.1 86.0h0.8M310.7 82.6h0.8M303.1 99.7h0.8M303.4 91.7h0.8M307.8 88.2h0.8M309.0 94.8h0.8M306.4 105.1h0.8M311.3 102.7h0.8M310.4 101.3h0.8M315.6 83.6h0.8M297.8 99.1h0.8M312.4 89.3h0.8M304.3 87.6h0.8M308.3 97.8h0.8M311.4 87.4h0.8M300.2 83.4h0.8M314.6 108.0h0.8M320.5 84.5h0.8M317.2 85.9h0.8M318.2 83.1h0.8M314.7 108.2h0.8M306.4 102.6h0.8M312.8 98.0h0.8M314.5 81.9h0.8M310.5 100.6h0.8M298.6 101.7h0.8M318.2 79.0h0.8M312.4 93.5h0.8M301.3 110.2h0.8M307.5 102.4h0.8M300.6 96.5h0.8M314.2 97.3h0.8M307.2 104.4h0.8M309.4 81.7h0.8M319.2 97.7h0.8M304.9 104.0h0.8M321.2 92.5h0.8M314.8 99.8h0.8M309.0 90.7h0.8M308.2 103.7h0.8M300.3 108.0h0.8M300.9 94.8h0.8M298.7 99.4h0.8M305.6 80.4h0.8M302.5 98.2h0.8M300.2 100.0h0.8M303.4 95.0h0.8M307.8 93.6h0.8M316.9 98.8h0.8M304.1 110.4h0.8M307.2 83.4h0.8M316.0 78.5h0.8M304.0 110.2h0.8M304.5 79.0h0.8M314.0 89.4h0.8M302.7 96.8h0.8M302.8 102.1h0.8M312.4 91.5h0.8M306.7 98.6h0.8M299.0 90.2h0.8M315.3 79.5h0.8M311.5 80.3h0.8M305.8 96.6h0.8M300.3 93.3h0.8M300.9 99.0h0.8M306.5 84.6h0.8M302.1 90.2h0.8M317.1 104.9h0.8M315.4 89.1h0.8M311.9 92.2h0.8M310.8 98.1h0.8M304.7 85.9h0.8M307.2 93.5h0.8M317.6 82.8h0.8M313.0 105.7h0.8M301.9 100.5h0.8M303.9 92.5h0.8M310.2 104.0h0.8M306.1 91.1h0.8M317.7 94.6h0.8M310.7 106.6h0.8M314.6 88.3h0.8M305.4 102.0h0.8M313.5 95.7h0.8M303.2 75.4h0.8M308.1 87.0h0.8M296.3 89.4h0.8M298.6 103.0h0.8M300.0 107.8h0.8M305.9 89.0h0.8M299.2 109.4h0.8M309.7 107.6h0.8M314.1 96.6h0.8M309.0 90.5h0.8M312.0 95.5h0.8M303.6 86.0h0.8M317.1 103.6h0.8M303.3 97.3h0.8M317.2 93.1h0.8M313.1 97.4h0.8M313.7 83.5h0.8M316.6 109.5h0.8M303.6 81.7h0.8M310.5 87.9h0.8M307.6 91.6h0.8M316.8 93.8h0.8M302.8 102.0h0.8M317.4 97.2h0.8M302.1 94.4h0.8M305.1 89.5h0.8M316.6 107.7h0.8M310.0 94.8h0.8M304.5 77.3h0.8M317.1 110.7h0.8M316.5 104.6h0.8M307.2 94.5h0.8M319.5 105.7h0.8M305.4 103.4h0.8M307.7 94.1h0.8M305.2 101.9h0.8M305.2 77.9h0.8M317.8 103.3h0.8M306.4 73.6h0.8M312.2 89.1h0.8M308.0 100.9h0.8M313.2 96.2h0.8M304.0 102.4h0.8M313.6 84.7h0.8M315.8 97.4h0.8M316.8 100.4h0.8M316.1 77.3h0.8M307.7 103.2h0.8M300.5 68.5h0.8M284.4 68.7h0.8M277.9 67.8h0.8M286.8 62.2h0.8M296.5 78.4h0.8M294.7 71.5h0.8M285.7 66.9h0.8M279.5 68.2h0.8M282.6 72.6h0.8M303.8 68.9h0.8M292.4 73.7h0.8M275.5 73.8h0.8M282.3 68.2h0.8M275.0 77.9h0.8M305.7 72.4h0.8M286.0 58.6h0.8M286.1 67.1h0.8M301.1 73.6h0.8M293.3 66.4h0.8M279.6 62.0h0.8M282.7 65.2h0.8M294.8 70.4h0.8M297.0 61.3h0.8M299.1 77.4h0.8M273.9 62.9h0.8M279.8 69.8h0.8M280.0 69.1h0.8M295.5 75.6h0.8M293.2 62.4h0.8M288.3 69.0h0.8M285.2 69.1h0.8M295.1 77.5h0.8M298.0 67.6h0.8M285.2 73.4h0.8M286.0 73.4h0.8M293.7 74.7h0.8M287.8 70.1h0.8M279.7 75.1h0.8M273.2 77.0h0.8M291.0 75.0h0.8M294.0 80.5h0.8M299.0 68.9h0.8M274.5 62.0h0.8M297.5 77.6h0.8M313.3 70.3h0.8M285.8 66.4h0.8M306.8 76.9h0.8M283.5 72.6h0.8M284.2 78.2h0.8M296.5 69.7h0.8M290.6 72.5h0.8M275.0 70.5h0.8M286.6 72.0h0.8M291.5 70.4h0.8M288.1 71.8h0.8M291.8 66.5h0.8M293.3 68.1h0.8M297.6 77.2h0.8M312.0 68.1h0.8M290.4 67.0h0.8M289.7 74.4h0.8M280.6 66.9h0.8M285.5 69.4h0.8M286.3 71.0h0.8M283.5 73.1h0.8M294.9 65.0h0.8M285.6 66.2h0.8M275.0 67.6h0.8M297.0 69.6h0.8M309.6 67.5h0.8M277.5 66.7h0.8M279.3 63.4h0.8M290.2 59.1h0.8M295.7 63.9h0.8M286.9 75.0h0.8M285.1 74.5h0.8M285.0 69.5h0.8M279.9 75.1h0.8M298.2 68.4h0.8M287.6 70.5h0.8M290.4 72.6h0.8M280.9 60.7h0.8M281.7 69.1h0.8M289.7 64.3h0.8M306.0 73.1h0.8M281.6 60.3h0.8M280.2 68.6h0.8M275.1 67.7h0.8M279.5 66.2h0.8M292.5 76.6h0.8M291.8 69.4h0.8M282.8 71.7h0.8M282.8 70.3h0.8M285.8 64.9h0.8M279.9 67.2h0.8M280.8 70.3h0.8M276.4 74.6h0.8M293.2 71.6h0.8M282.7 64.6h0.8M275.8 70.1h0.8M295.5 70.2h0.8M302.5 72.8h0.8M287.9 74.3h0.8M276.1 79.2h0.8M286.8 78.8h0.8M305.6 65.4h0.8M275.3 65.5h0.8M288.9 77.9h0.8M291.7 68.9h0.8M293.1 72.1h0.8M274.8 73.3h0.8M290.0 73.0h0.8M294.4 68.8h0.8M308.2 67.5h0.8M282.1 68.9h0.8M305.5 67.9h0.8M274.6 73.1h0.8M291.0 68.8h0.8M305.8 75.3h0.8M281.4 65.0h0.8M286.0 69.5h0.8M281.0 67.4h0.8M299.7 73.1h0.8M279.3 69.0h0.8M292.8 70.8h0.8M297.1 73.6h0.8M277.5 67.6h0.8M295.6 72.5h0.8M290.6 76.5h0.8M293.8 66.4h0.8" stroke="#000" stroke-width="0.8" fill="none"/>
<path d="M273.1 92.7h0.7M274.1 85.0h0.7M273.6 81.0h0.7M278.4 95.1h0.7M291.5 85.9h0.7M281.3 84.6h0.7M290.2 93.0h0.7M288.2 92.6h0.7M277.3 97.7h0.7M274.0 97.1h0.7M289.1 99.9h0.7M287.4 99.8h0.7M283.9 93.6h0.7M286.3 86.3h0.7M273.2 95.2h0.7M289.1 100.6h0.7M297.5 110.0h0.7M273.7 103.3h0.7M275.5 101.0h0.7M283.9 102.4h0.7M300.2 104.7h0.7M275.6 108.1h0.7M276.0 108.2h0.7M277.1 106.9h0.7M273.6 103.8h0.7M296.6 107.2h0.7M287.3 109.5h0.7M277.6 103.4h0.7M284.3 100.1h0.7M285.3 111.3h0.7M300.5 110.7h0.7M294.3 106.5h0.7M283.7 101.0h0.7M281.7 100.2h0.7M281.0 110.3h0.7M275.7 105.4h0.7M285.3 104.2h0.7M296.9 105.3h0.7M282.9 107.0h0.7M300.8 101.2h0.7M292.0 107.1h0.7M287.9 108.9h0.7M300.7 110.7h0.7M281.6 108.8h0.7M295.8 103.7h0.7M278.0 100.8h0.7M281.4 108.7h0.7M288.9 104.2h0.7M284.4 108.1h0.7M284.5 103.3h0.7M281.4 111.3h0.7M292.4 107.4h0.7M284.6 106.2h0.7M278.7 105.1h0.7M290.5 105.0h0.7M276.9 106.6h0.7M277.4 106.8h0.7M296.5 108.9h0.7M276.4 111.4h0.7M292.8 107.8h0.7M277.0 104.0h0.7M292.6 105.8h0.7M299.3 108.9h0.7M274.7 101.5h0.7M276.1 102.7h0.7M297.3 105.2h0.7M275.0 103.1h0.7M292.9 101.3h0.7M291.6 102.5h0.7M278.4 106.4h0.7M285.1 106.8h0.7M298.2 109.1h0.7M275.3 107.9h0.7M301.8 109.7h0.7M290.9 106.1h0.7M282.1 100.7h0.7M296.5 110.8h0.7M281.8 108.0h0.7M300.9 106.4h0.7M278.7 101.2h0.7M287.2 101.1h0.7M300.2 106.0h0.7M289.1 101.7h0.7M275.8 108.8h0.7M295.0 103.1h0.7M286.5 106.7h0.7M292.8 101.8h0.7M296.4 104.7h0.7M292.4 109.2h0.7M280.5 106.1h0.7M289.0 110.7h0.7M296.7 108.1h0.7M292.8 110.0h0.7M285.9 102.2h0.7M295.1 110.8h0.7M294.1 100.7h0.7M277.6 108.7h0.7M300.1 107.9h0.7M274.8 110.7h0.7M300.1 105.4h0.7M295.3 110.6h0.7M284.7 100.1h0.7M274.2 102.9h0.7M297.7 108.2h0.7M297.0 106.5h0.7M294.5 107.3h0.7M276.5 100.2h0.7M297.7 106.0h0.7M301.4 102.4h0.7M273.6 110.3h0.7M294.5 110.3h0.7M301.5 107.8h0.7M276.7 105.0h0.7M298.3 102.5h0.7M280.9 108.1h0.7M295.9 100.5h0.7M289.4 111.0h0.7M279.6 105.7h0.7M300.2 100.1h0.7M295.5 105.8h0.7M295.4 101.0h0.7M299.4 105.1h0.7M287.3 103.3h0.7M301.2 109.4h0.7M285.4 101.7h0.7M296.6 109.6h0.7M301.3 111.0h0.7M290.8 101.3h0.7M301.0 101.8h0.7M282.8 103.5h0.7M289.1 110.2h0.7M289.5 103.8h0.7M289.9 101.2h0.7M273.5 107.3h0.7M288.1 100.5h0.7M301.1 102.8h0.7M286.1 101.2h0.7M284.7 104.8h0.7M282.0 108.5h0.7M287.4 105.3h0.7M300.3 105.3h0.7M297.8 106.0h0.7M296.3 110.0h0.7M276.0 100.4h0.7M295.2 108.2h0.7M273.2 107.1h0.7M282.4 104.5h0.7M300.0 110.1h0.7M283.3 111.3h0.7M287.9 108.0h0.7M299.4 104.9h0.7M299.0 109.0h0.7M283.8 105.2h0.7M299.9 100.6h0.7M299.7 109.1h0.7M296.2 109.5h0.7M291.5 105.4h0.7M284.3 106.1h0.7M292.5 107.3h0.7M299.6 105.1h0.7M277.9 106.9h0.7M275.9 105.9h0.7M275.1 102.1h0.7M299.6 104.4h0.7M291.3 106.8h0.7M274.5 102.0h0.7M284.7 103.9h0.7M280.8 107.8h0.7M278.7 101.0h0.7M298.9 107.0h0.7M281.2 102.6h0.7M296.2 103.7h0.7M291.1 109.2h0.7M298.0 106.2h0.7M277.0 102.6h0.7M293.9 102.1h0.7M297.3 106.2h0.7M295.0 109.1h0.7M277.2 108.4h0.7M284.0 106.9h0.7M285.5 101.5h0.7M280.1 107.8h0.7M287.6 102.6h0.7M289.3 107.8h0.7M296.4 102.0h0.7" stroke="#fff" stroke-width="0.7" fill="none"/>
</g>
<rect x="272" y="34.9" width="75.5" height="77.5" fill="none" stroke="#222" stroke-width="0.8"/>
<rect x="300.8" y="54.5" width="31.69999999999999" height="29.299999999999997" fill="none" stroke="#111" stroke-width="0.8"/>
<text class="sf" x="0" y="0" font-size="8.1" font-weight="bold" text-anchor="middle" transform="translate(312,22.1) scale(0.87,1)">Infected/</text>
<text class="sf" x="0" y="0" font-size="8.1" font-weight="bold" text-anchor="middle" transform="translate(312,30.6) scale(0.87,1)">667-treated</text>
<text class="sf" x="300.5" y="51.5" font-size="7.7" font-weight="bold">2.54<tspan font-size="10" dx="1.3" dy="0.6">±</tspan><tspan dx="1.3" dy="-0.6"></tspan></text>
<text class="sf" x="300.5" y="60.3" font-size="7.7" font-weight="bold">0.18</text>
<clipPath id="cp3"><rect x="352" y="34.9" width="73.80000000000001" height="77.5"/></clipPath>
<g clip-path="url(#cp3)">
<ellipse cx="358.0" cy="83" rx="23" ry="9" fill="#000" opacity="0.85" filter="url(#bl)"/>
<ellipse cx="362.0" cy="101" rx="19" ry="10" fill="#000" opacity="0.25" filter="url(#bl)"/>
<ellipse cx="395.0" cy="69" rx="8.5" ry="8" fill="#000" opacity="0.45" filter="url(#bl)"/>
<path d="M389.3 100.1h0.8M360.2 91.2h0.8M356.4 84.6h0.8M364.6 89.7h0.8M382.4 88.5h0.8M389.3 91.1h0.8M372.9 85.2h0.8M383.2 96.2h0.8M362.8 70.4h0.8M352.7 84.2h0.8M366.7 75.9h0.8M374.5 88.3h0.8M370.2 75.2h0.8M363.2 80.6h0.8M359.9 77.5h0.8M377.1 89.1h0.8M354.1 87.5h0.8M383.0 87.2h0.8M361.0 74.9h0.8M390.8 89.6h0.8M358.1 91.2h0.8M380.4 74.8h0.8M375.1 88.7h0.8M385.6 80.6h0.8M390.0 69.8h0.8M354.5 76.1h0.8M370.9 83.6h0.8M353.5 86.5h0.8M373.2 78.6h0.8M359.0 74.9h0.8M378.8 79.5h0.8M372.4 85.1h0.8M360.3 71.1h0.8M355.8 84.3h0.8M377.0 78.6h0.8M357.8 88.4h0.8M354.9 93.0h0.8M377.5 79.8h0.8M374.7 87.3h0.8M357.5 84.8h0.8M360.9 77.0h0.8M361.4 77.2h0.8M367.8 84.9h0.8M369.0 89.5h0.8M358.9 76.4h0.8M353.2 90.3h0.8M365.7 96.0h0.8M357.5 91.9h0.8M369.3 77.4h0.8M368.4 79.2h0.8M380.7 100.5h0.8M355.4 73.1h0.8M388.4 84.6h0.8M368.0 85.0h0.8M353.2 72.0h0.8M380.5 72.0h0.8M374.1 86.1h0.8M369.0 75.0h0.8M364.6 80.4h0.8M373.4 72.5h0.8M388.1 72.7h0.8M354.2 79.9h0.8M375.9 84.2h0.8M372.5 87.9h0.8M353.6 77.7h0.8M357.6 88.6h0.8M371.4 82.6h0.8M389.0 82.9h0.8M356.5 80.0h0.8M370.9 78.7h0.8M373.5 93.3h0.8M392.2 82.3h0.8M368.4 93.0h0.8M360.4 92.5h0.8M363.3 94.7h0.8M355.8 84.7h0.8M358.5 81.2h0.8M378.2 85.4h0.8M352.7 86.1h0.8M354.2 84.1h0.8M369.3 72.3h0.8M355.4 95.3h0.8M356.4 79.3h0.8M358.4 88.1h0.8M387.7 85.0h0.8M357.6 71.5h0.8M367.7 77.2h0.8M370.1 72.6h0.8M382.3 86.1h0.8M355.1 94.5h0.8M370.4 80.8h0.8M356.2 77.8h0.8M356.9 83.7h0.8M389.2 61.9h0.8M377.8 100.1h0.8M393.3 73.7h0.8M368.1 69.7h0.8M381.8 82.3h0.8M377.5 79.6h0.8M365.1 71.0h0.8M365.4 77.7h0.8M359.0 69.5h0.8M370.1 80.5h0.8M361.5 79.3h0.8M371.5 79.4h0.8M360.1 72.6h0.8M374.0 78.5h0.8M360.4 77.3h0.8M358.5 82.7h0.8M367.5 97.2h0.8M368.8 93.5h0.8M355.4 82.1h0.8M381.4 70.8h0.8M376.1 80.6h0.8M372.9 87.4h0.8M355.4 81.6h0.8M354.6 69.7h0.8M357.0 86.6h0.8M355.8 81.5h0.8M372.3 90.5h0.8M383.0 76.3h0.8M376.5 84.9h0.8M362.9 67.3h0.8M374.4 75.3h0.8M352.9 86.2h0.8M367.8 84.1h0.8M354.2 88.2h0.8M364.8 80.6h0.8M364.4 86.9h0.8M371.3 93.4h0.8M366.5 76.7h0.8M354.1 74.9h0.8M387.0 92.7h0.8M354.2 93.8h0.8M354.0 87.4h0.8M392.2 66.0h0.8M386.5 82.8h0.8M366.5 81.4h0.8M386.0 75.0h0.8M361.8 77.3h0.8M381.8 78.3h0.8M373.9 75.5h0.8M364.1 74.6h0.8M372.3 90.0h0.8M360.3 81.9h0.8M381.4 82.0h0.8M372.7 73.6h0.8M360.4 79.7h0.8M357.3 86.3h0.8M384.8 84.8h0.8M373.9 82.4h0.8M359.1 77.5h0.8M356.4 81.0h0.8M358.6 77.0h0.8M370.4 87.9h0.8M370.4 86.9h0.8M372.7 78.1h0.8M376.9 82.3h0.8M372.4 90.1h0.8M384.8 86.3h0.8M374.9 98.9h0.8M386.8 80.5h0.8M361.2 84.0h0.8M375.6 94.5h0.8M358.6 93.5h0.8M357.9 98.6h0.8M356.5 82.0h0.8M362.4 84.0h0.8M369.2 79.2h0.8M373.9 80.7h0.8M393.2 75.5h0.8M352.6 91.9h0.8M377.5 88.7h0.8M381.3 74.4h0.8M368.5 79.0h0.8M385.6 93.2h0.8M381.9 82.3h0.8M384.4 91.8h0.8M391.4 82.3h0.8M374.0 82.5h0.8M371.5 78.1h0.8M386.6 92.3h0.8M356.2 92.7h0.8M357.2 84.7h0.8M369.0 85.1h0.8M377.8 75.0h0.8M369.6 77.4h0.8M358.0 95.0h0.8M361.8 90.2h0.8M370.4 96.2h0.8M377.6 72.4h0.8M357.9 87.0h0.8M358.3 77.2h0.8M371.9 78.0h0.8M359.1 83.1h0.8M356.4 81.0h0.8M354.6 84.0h0.8M361.4 76.3h0.8M371.6 79.2h0.8M374.3 75.7h0.8M358.7 93.0h0.8M369.5 89.3h0.8M360.8 78.7h0.8M373.6 83.3h0.8M371.1 87.9h0.8M359.3 75.9h0.8M368.7 89.2h0.8M355.5 71.8h0.8M353.3 92.1h0.8M358.0 80.3h0.8M352.7 84.7h0.8M354.0 74.4h0.8M377.0 82.2h0.8M384.6 79.2h0.8M353.3 94.8h0.8M366.0 74.7h0.8M372.5 90.3h0.8M364.8 87.6h0.8M356.3 81.4h0.8M360.8 91.3h0.8M364.9 80.7h0.8M381.0 92.9h0.8M366.2 82.1h0.8M358.1 86.2h0.8M366.3 90.4h0.8M362.3 85.6h0.8M359.7 79.6h0.8M370.1 75.6h0.8M356.0 89.4h0.8M376.9 82.1h0.8M368.3 87.3h0.8M352.7 80.9h0.8M382.4 78.1h0.8M355.2 73.9h0.8M357.3 79.3h0.8M358.8 86.2h0.8M359.1 84.9h0.8M362.8 81.0h0.8M362.4 85.5h0.8M361.1 86.0h0.8M368.1 83.9h0.8M357.5 77.5h0.8M370.5 96.2h0.8M356.6 96.4h0.8M353.1 79.8h0.8M380.6 81.6h0.8M359.2 83.8h0.8M358.3 87.2h0.8M368.7 84.8h0.8M357.2 82.3h0.8M360.0 81.3h0.8M357.1 90.2h0.8M352.6 81.4h0.8M355.6 81.7h0.8M365.6 92.2h0.8M366.7 83.2h0.8M390.7 81.6h0.8M375.2 102.0h0.8M387.4 88.1h0.8M366.6 78.7h0.8M363.5 80.9h0.8M362.4 101.2h0.8M364.0 73.1h0.8M367.6 75.7h0.8M380.0 85.0h0.8M354.1 80.8h0.8M355.5 85.9h0.8M375.2 70.3h0.8M355.2 82.7h0.8M361.5 73.0h0.8M359.4 83.8h0.8M375.1 77.8h0.8M383.6 73.9h0.8M375.1 75.5h0.8M369.0 75.9h0.8M369.8 89.5h0.8M388.8 85.3h0.8M355.4 79.8h0.8M360.9 75.2h0.8M363.1 75.9h0.8M373.0 78.1h0.8M355.4 95.6h0.8M385.2 76.6h0.8M357.3 91.7h0.8M371.6 86.9h0.8M360.6 82.1h0.8M366.7 89.8h0.8M382.8 86.1h0.8M362.9 85.2h0.8M371.2 85.5h0.8M375.0 82.8h0.8M378.0 81.5h0.8M375.5 74.3h0.8M353.4 79.5h0.8M384.2 87.8h0.8M371.6 70.5h0.8M389.9 97.7h0.8M372.8 69.5h0.8M357.0 91.7h0.8M375.7 73.4h0.8M369.8 84.8h0.8M353.0 78.2h0.8M363.3 81.2h0.8M376.9 86.1h0.8M366.8 83.5h0.8M352.7 91.1h0.8M361.6 78.6h0.8M378.4 88.0h0.8M376.5 88.7h0.8M376.3 87.9h0.8M376.1 88.1h0.8M356.6 88.0h0.8M362.3 92.7h0.8M355.4 75.2h0.8M360.1 73.5h0.8M362.0 87.9h0.8M362.5 84.5h0.8M371.2 79.3h0.8M353.2 71.1h0.8M372.0 78.7h0.8M375.1 88.5h0.8M359.6 83.5h0.8M380.1 86.9h0.8M356.6 80.2h0.8M364.6 95.4h0.8M390.5 82.2h0.8M370.9 87.3h0.8M375.2 80.3h0.8M367.2 72.8h0.8M363.8 78.7h0.8M359.4 89.2h0.8M359.7 83.1h0.8M368.8 88.1h0.8M391.3 83.1h0.8M368.0 86.6h0.8M360.3 76.8h0.8M353.0 91.6h0.8M370.6 84.8h0.8M373.1 93.4h0.8M392.4 72.6h0.8M357.5 84.4h0.8M366.3 87.4h0.8M378.1 83.1h0.8M384.8 83.6h0.8M370.8 91.2h0.8M367.5 86.8h0.8M353.2 77.9h0.8M375.3 79.1h0.8M373.9 97.0h0.8M355.6 77.3h0.8M367.4 85.4h0.8M362.7 74.2h0.8M372.0 80.6h0.8M365.0 69.6h0.8M368.6 95.0h0.8M360.8 89.3h0.8M388.0 76.1h0.8M356.1 81.4h0.8M365.1 79.2h0.8M369.6 86.9h0.8M356.1 77.9h0.8M389.0 79.4h0.8M390.7 83.6h0.8M372.5 77.4h0.8M362.0 80.3h0.8M359.3 93.3h0.8M371.2 102.5h0.8M360.7 79.7h0.8M380.8 77.9h0.8M363.2 74.3h0.8M370.7 78.6h0.8M383.2 89.4h0.8M386.0 74.6h0.8M366.9 90.5h0.8M374.6 75.8h0.8M363.4 77.3h0.8M381.3 76.3h0.8M357.5 89.9h0.8M367.2 94.1h0.8M382.2 89.8h0.8M381.1 81.7h0.8M366.5 77.9h0.8M372.2 69.1h0.8M355.4 90.6h0.8M353.5 76.7h0.8M370.0 72.9h0.8M360.6 79.0h0.8M391.4 74.2h0.8M354.1 79.7h0.8M359.0 80.2h0.8M366.7 91.3h0.8M355.6 80.7h0.8M366.1 83.4h0.8M360.4 84.9h0.8M357.8 70.2h0.8M364.5 80.0h0.8M379.5 74.4h0.8M376.6 88.9h0.8M356.4 86.9h0.8M366.2 76.3h0.8M353.4 74.1h0.8M354.3 78.0h0.8M359.1 79.4h0.8M353.5 85.5h0.8M363.4 75.3h0.8M379.5 79.9h0.8M372.0 77.2h0.8M376.5 81.1h0.8M353.1 75.8h0.8M360.9 81.5h0.8M381.7 76.4h0.8M354.6 83.2h0.8M363.5 84.3h0.8M361.5 91.1h0.8M354.1 67.9h0.8M384.1 85.9h0.8M367.4 76.0h0.8M379.8 74.8h0.8M353.6 87.1h0.8M357.6 79.9h0.8M359.2 72.3h0.8M368.0 86.9h0.8M360.4 87.3h0.8M354.0 83.6h0.8M353.1 84.7h0.8M375.5 78.4h0.8M374.7 84.9h0.8M383.0 88.2h0.8M367.7 72.3h0.8M371.4 94.9h0.8M355.2 82.7h0.8M366.0 77.9h0.8M363.0 80.4h0.8M363.4 79.5h0.8M375.4 80.0h0.8M386.5 104.8h0.8M360.0 90.3h0.8M352.8 85.1h0.8M363.3 82.8h0.8M360.1 75.1h0.8M363.3 76.1h0.8M376.6 92.7h0.8M379.8 81.6h0.8M378.9 86.7h0.8M384.1 78.5h0.8M374.1 84.5h0.8M364.2 76.2h0.8M365.0 78.5h0.8M366.0 82.7h0.8M364.5 87.9h0.8M363.3 83.4h0.8M384.3 72.9h0.8M387.3 89.4h0.8M390.5 88.1h0.8M359.9 93.8h0.8M360.0 82.6h0.8M361.7 80.1h0.8M361.9 76.1h0.8M361.5 82.1h0.8M372.6 86.9h0.8M352.9 81.5h0.8M362.8 81.5h0.8M380.1 97.0h0.8M360.6 86.0h0.8M369.3 89.0h0.8M353.7 92.2h0.8M363.0 84.8h0.8M379.6 75.1h0.8M382.9 96.1h0.8M383.2 88.0h0.8M379.6 78.0h0.8M364.8 88.0h0.8M386.5 85.2h0.8M365.5 86.4h0.8M364.2 84.8h0.8M357.1 85.8h0.8M354.7 79.5h0.8M368.0 84.6h0.8M364.2 70.3h0.8M385.6 81.8h0.8M362.0 82.5h0.8M366.8 85.0h0.8M352.9 95.0h0.8M353.6 90.8h0.8M360.7 92.3h0.8M362.6 89.4h0.8M362.0 80.7h0.8M383.1 84.5h0.8M368.1 78.6h0.8M362.1 88.8h0.8M361.8 84.1h0.8M355.2 77.0h0.8M369.2 80.1h0.8M354.9 87.8h0.8M356.7 76.1h0.8M378.8 88.3h0.8M364.9 85.7h0.8M378.6 82.5h0.8M357.1 80.1h0.8M372.6 77.6h0.8M356.8 81.5h0.8M352.9 85.4h0.8M393.6 78.4h0.8M352.6 75.2h0.8M371.7 97.7h0.8M380.6 84.6h0.8M389.6 79.4h0.8M373.7 71.9h0.8M367.0 87.2h0.8M372.1 82.5h0.8M368.7 87.2h0.8M358.7 85.6h0.8M372.6 83.1h0.8M357.1 73.6h0.8M387.3 83.4h0.8M354.7 93.2h0.8M377.9 87.3h0.8M378.2 76.8h0.8M368.6 81.6h0.8M361.4 71.8h0.8M357.7 83.7h0.8M368.5 86.9h0.8M354.8 77.4h0.8M365.4 79.3h0.8M354.2 74.0h0.8M369.1 77.1h0.8M367.9 89.0h0.8M355.8 87.2h0.8M364.7 87.4h0.8M373.9 81.2h0.8M370.6 80.5h0.8M367.5 77.0h0.8M384.4 85.1h0.8M372.6 94.8h0.8M360.2 92.0h0.8M364.5 77.7h0.8M367.8 81.2h0.8M358.7 89.1h0.8M382.5 70.8h0.8M370.1 85.7h0.8M383.4 87.7h0.8M361.8 79.8h0.8M374.9 92.6h0.8M367.0 78.1h0.8M366.2 82.0h0.8M363.9 101.4h0.8M366.2 70.8h0.8M365.2 72.6h0.8M367.8 86.9h0.8M361.2 84.8h0.8M363.2 95.0h0.8M375.9 93.5h0.8M373.9 70.5h0.8M370.0 89.4h0.8M391.3 92.2h0.8M359.1 77.6h0.8M366.2 100.2h0.8M377.7 89.2h0.8M354.4 83.3h0.8M381.6 71.7h0.8M377.4 70.1h0.8M381.0 77.0h0.8M354.6 88.4h0.8M364.1 87.1h0.8M376.5 88.9h0.8M360.8 83.2h0.8M364.4 90.5h0.8M379.1 92.1h0.8M377.6 80.5h0.8M367.5 87.5h0.8M386.6 86.8h0.8M364.6 69.3h0.8M361.3 84.5h0.8M363.9 86.7h0.8M355.9 76.4h0.8M387.1 72.7h0.8M372.4 88.3h0.8M377.1 70.1h0.8M366.0 78.9h0.8M359.1 82.6h0.8M377.9 80.0h0.8M369.0 78.6h0.8M386.8 73.4h0.8M361.2 90.9h0.8M358.6 85.7h0.8M355.5 79.0h0.8M364.8 92.8h0.8M363.8 81.5h0.8M364.4 79.1h0.8M362.9 86.6h0.8M368.5 87.8h0.8M371.7 79.6h0.8M357.5 92.7h0.8M354.9 78.3h0.8M364.2 94.6h0.8M379.6 75.4h0.8M367.4 93.4h0.8M365.9 84.4h0.8M359.2 84.4h0.8M371.1 85.8h0.8M370.7 82.9h0.8M358.9 85.4h0.8M366.0 79.4h0.8M353.0 82.0h0.8M372.3 95.6h0.8M358.1 77.3h0.8M353.1 88.6h0.8M367.8 73.5h0.8M380.9 83.8h0.8M361.9 84.8h0.8M361.0 92.9h0.8M354.4 79.5h0.8M383.7 96.1h0.8M386.7 78.4h0.8M356.2 77.3h0.8M353.1 78.1h0.8M354.3 78.8h0.8M364.0 94.4h0.8M359.7 76.5h0.8M367.9 80.0h0.8M372.3 78.6h0.8M352.6 89.5h0.8M357.1 78.9h0.8M358.2 77.4h0.8M392.1 72.6h0.8M374.4 86.5h0.8M369.3 100.7h0.8M393.8 84.6h0.8M383.3 78.4h0.8M371.0 83.4h0.8M360.9 72.5h0.8M361.4 85.1h0.8M378.8 92.1h0.8M379.7 88.4h0.8M373.3 86.9h0.8M354.6 100.0h0.8M379.8 86.7h0.8M363.5 79.2h0.8M381.9 82.3h0.8M362.4 77.7h0.8M367.9 71.4h0.8M366.5 75.5h0.8M360.6 89.6h0.8M355.4 80.9h0.8M373.6 70.8h0.8M360.0 80.1h0.8M368.7 78.3h0.8M366.7 101.8h0.8M352.6 74.0h0.8M382.8 75.9h0.8M373.3 83.9h0.8M356.5 80.9h0.8M380.7 77.6h0.8M355.5 81.7h0.8M386.5 72.7h0.8M384.2 80.6h0.8M387.5 94.4h0.8M359.0 81.1h0.8M386.1 86.1h0.8M360.8 91.6h0.8M377.6 90.1h0.8M356.2 80.9h0.8M378.4 83.5h0.8M361.8 91.2h0.8M372.3 87.4h0.8M370.2 85.2h0.8M377.0 88.5h0.8M378.3 96.8h0.8M364.9 87.1h0.8M360.9 76.9h0.8M370.6 82.6h0.8M359.2 78.4h0.8M378.6 80.9h0.8M367.8 74.7h0.8M373.6 82.3h0.8M358.0 87.0h0.8M376.0 90.1h0.8M372.4 89.1h0.8M359.8 87.9h0.8M380.0 93.0h0.8M372.1 75.1h0.8M360.7 80.1h0.8M356.6 83.4h0.8M367.4 79.4h0.8M362.0 91.6h0.8M357.6 75.7h0.8M363.3 89.1h0.8M372.8 82.5h0.8M360.1 78.2h0.8M365.6 85.6h0.8M385.0 73.4h0.8M380.7 81.4h0.8M390.8 76.4h0.8M393.8 82.4h0.8M388.5 76.4h0.8M365.0 90.5h0.8M378.4 95.6h0.8M383.6 78.0h0.8M362.3 80.9h0.8M377.6 88.5h0.8M359.9 76.8h0.8M382.4 92.1h0.8M357.8 82.2h0.8M353.2 81.8h0.8M358.4 74.4h0.8M379.6 78.5h0.8M360.7 99.2h0.8M359.6 84.7h0.8M365.7 82.4h0.8M358.3 79.6h0.8M352.4 85.1h0.8M358.2 91.2h0.8M362.7 73.1h0.8M390.8 75.0h0.8M363.6 85.0h0.8M387.0 91.5h0.8M377.6 80.9h0.8M365.4 83.5h0.8M369.3 80.9h0.8M375.0 74.3h0.8M387.1 88.2h0.8M379.0 71.8h0.8M358.7 72.1h0.8M358.4 83.6h0.8M353.8 80.8h0.8M375.4 81.6h0.8M370.9 77.8h0.8M353.4 77.8h0.8M385.3 90.4h0.8M388.0 86.0h0.8M360.1 96.0h0.8M391.5 84.3h0.8M369.0 84.9h0.8M357.9 77.4h0.8M356.1 86.5h0.8M362.0 83.5h0.8M371.7 83.1h0.8M354.4 94.0h0.8M355.4 82.2h0.8M382.8 91.1h0.8M354.2 84.3h0.8M359.0 90.7h0.8M356.9 80.9h0.8M366.4 84.4h0.8M387.2 88.8h0.8M380.1 83.1h0.8M389.8 73.6h0.8M367.6 86.6h0.8M365.1 69.1h0.8M373.8 84.5h0.8M359.2 87.2h0.8M362.0 83.9h0.8M380.2 98.9h0.8M355.3 74.6h0.8M375.5 79.6h0.8M356.2 89.5h0.8M361.0 101.1h0.8M358.9 91.5h0.8M378.8 75.5h0.8M352.8 93.4h0.8M356.3 79.2h0.8M359.5 70.8h0.8M356.1 79.4h0.8M370.5 70.8h0.8M353.5 76.8h0.8M379.9 79.8h0.8M368.7 84.8h0.8M370.2 74.2h0.8M375.2 82.1h0.8M362.3 71.5h0.8M361.8 89.0h0.8M353.1 80.2h0.8M361.9 80.4h0.8M385.0 82.4h0.8M352.6 78.1h0.8M369.0 90.5h0.8M388.4 80.9h0.8M369.0 95.8h0.8M356.5 84.0h0.8M362.8 70.9h0.8M372.6 89.3h0.8M354.8 96.6h0.8M366.4 84.4h0.8M366.7 88.1h0.8M368.3 91.7h0.8M356.4 78.8h0.8M367.4 79.0h0.8M356.4 84.1h0.8M386.1 77.3h0.8M369.7 94.1h0.8M363.4 83.3h0.8M367.8 77.7h0.8M356.7 83.4h0.8M368.6 74.2h0.8M353.8 93.9h0.8M388.0 83.1h0.8M390.3 84.3h0.8M353.8 77.0h0.8M357.8 85.8h0.8M377.0 69.6h0.8M355.2 84.9h0.8M365.7 77.6h0.8M353.2 85.5h0.8M369.2 79.9h0.8M355.7 77.6h0.8M364.3 86.5h0.8M374.1 77.4h0.8M356.0 98.2h0.8M371.6 95.3h0.8M357.8 81.4h0.8M353.6 90.4h0.8M376.6 90.0h0.8M361.9 69.4h0.8M357.3 82.6h0.8M364.1 88.4h0.8M363.3 75.8h0.8M386.4 89.7h0.8M352.7 83.1h0.8M356.3 87.8h0.8M363.1 91.1h0.8M362.6 90.2h0.8M385.3 83.7h0.8M352.5 89.6h0.8M390.7 79.9h0.8M393.7 87.4h0.8M356.5 78.6h0.8M388.6 81.7h0.8M367.8 95.6h0.8M375.5 82.8h0.8M367.9 92.1h0.8M373.3 79.1h0.8M384.8 87.3h0.8M390.2 86.3h0.8M373.4 76.6h0.8M376.7 80.2h0.8M353.3 87.2h0.8M362.1 88.9h0.8M355.6 82.0h0.8M360.2 91.0h0.8M365.2 93.0h0.8M356.8 94.0h0.8M358.3 86.2h0.8M388.8 83.0h0.8M358.7 77.8h0.8M360.5 92.9h0.8M380.3 93.3h0.8M354.4 86.3h0.8M384.2 92.8h0.8M353.4 88.4h0.8M359.2 84.2h0.8M356.0 88.8h0.8M363.0 67.8h0.8M389.9 91.9h0.8M361.8 83.8h0.8M354.0 96.4h0.8M371.8 81.2h0.8M379.3 87.0h0.8M364.1 80.3h0.8M370.5 98.9h0.8M365.4 89.7h0.8M362.2 72.7h0.8M364.7 81.6h0.8M383.2 88.4h0.8M369.3 76.0h0.8M375.6 68.9h0.8M380.0 81.3h0.8M366.9 81.5h0.8M378.8 64.1h0.8M365.3 88.1h0.8M367.4 88.3h0.8M375.1 84.7h0.8M359.7 88.9h0.8M379.1 89.4h0.8M380.0 81.2h0.8M372.3 79.3h0.8M391.1 83.0h0.8M353.3 91.1h0.8M355.5 83.0h0.8M354.2 88.8h0.8M360.0 86.5h0.8M371.5 96.1h0.8M364.7 82.4h0.8M352.7 76.3h0.8M390.5 88.8h0.8M364.1 93.7h0.8M365.1 88.4h0.8M373.0 85.8h0.8M361.9 76.5h0.8M388.8 89.5h0.8M380.2 88.4h0.8M363.5 77.1h0.8M373.1 79.6h0.8M378.5 90.4h0.8M363.2 80.0h0.8M388.9 92.8h0.8M388.6 81.3h0.8M369.1 76.8h0.8M355.1 85.9h0.8M391.8 79.4h0.8M363.4 79.2h0.8M381.6 78.3h0.8M374.4 84.4h0.8M364.5 87.7h0.8M365.9 83.7h0.8M367.4 79.9h0.8M355.8 72.6h0.8M355.4 75.3h0.8M359.2 87.7h0.8M359.6 80.7h0.8M372.1 73.5h0.8M362.9 89.8h0.8M360.1 78.7h0.8M385.6 79.1h0.8M360.4 64.8h0.8M385.8 84.3h0.8M352.8 92.5h0.8M366.6 83.6h0.8M357.2 85.2h0.8M365.5 80.5h0.8M374.7 69.1h0.8M357.4 81.5h0.8M391.4 76.6h0.8M366.9 82.8h0.8M356.6 92.2h0.8M363.2 86.2h0.8M369.9 79.6h0.8M363.6 90.5h0.8M355.3 85.5h0.8M389.9 84.8h0.8M381.9 92.4h0.8M360.0 87.3h0.8M373.7 76.7h0.8M354.0 84.8h0.8M375.4 100.0h0.8M362.6 81.0h0.8M368.6 77.6h0.8M363.4 79.8h0.8M353.5 77.4h0.8M356.9 96.0h0.8M359.5 91.7h0.8M368.8 91.6h0.8M353.7 82.1h0.8M357.3 92.5h0.8M379.8 84.5h0.8M391.6 84.9h0.8M359.4 88.8h0.8M369.5 72.6h0.8M366.3 76.7h0.8M352.7 88.5h0.8M354.9 87.6h0.8M353.5 86.9h0.8M380.1 82.9h0.8M359.5 75.3h0.8M372.5 80.7h0.8M374.0 84.3h0.8M385.5 81.4h0.8M379.1 88.7h0.8M373.8 78.3h0.8M364.5 75.8h0.8M360.7 80.2h0.8M357.5 83.1h0.8M390.7 79.9h0.8M355.5 66.7h0.8M357.4 74.9h0.8M363.8 81.6h0.8M361.9 85.6h0.8M386.1 75.4h0.8M384.4 85.1h0.8M382.7 85.0h0.8M365.9 80.9h0.8M388.5 81.6h0.8M359.9 85.6h0.8M369.4 84.4h0.8M363.1 86.5h0.8M373.6 86.1h0.8M360.6 70.7h0.8M387.5 94.5h0.8M354.3 74.4h0.8M370.3 82.2h0.8M364.7 84.6h0.8M355.7 90.3h0.8M354.1 81.2h0.8M372.4 78.9h0.8M361.0 80.2h0.8M374.7 86.2h0.8M355.7 81.5h0.8M375.2 81.3h0.8M357.8 90.2h0.8M381.9 78.0h0.8M364.7 73.3h0.8M367.5 98.1h0.8M355.6 72.4h0.8M359.5 90.6h0.8M384.6 93.7h0.8M379.7 91.9h0.8M365.0 79.7h0.8M366.0 98.2h0.8M354.1 84.3h0.8M361.7 87.6h0.8M362.5 83.3h0.8M366.1 86.2h0.8M383.2 79.0h0.8M365.7 89.1h0.8M366.1 85.0h0.8M356.8 85.8h0.8M356.2 70.2h0.8M362.6 77.2h0.8M358.9 80.8h0.8M354.0 99.6h0.8M380.6 85.0h0.8M358.5 80.7h0.8M365.4 79.4h0.8M378.8 83.9h0.8M364.8 86.6h0.8M355.5 74.0h0.8M376.2 94.7h0.8M383.3 86.3h0.8M368.6 89.2h0.8M362.0 77.1h0.8M363.5 82.2h0.8M355.7 86.9h0.8M357.7 89.8h0.8M366.8 80.6h0.8M364.1 80.1h0.8M365.3 82.2h0.8M376.4 82.7h0.8M365.8 86.0h0.8M387.8 86.3h0.8M377.6 101.7h0.8M366.2 97.3h0.8M357.3 87.5h0.8M373.5 83.1h0.8M371.0 79.7h0.8M382.9 71.4h0.8M393.4 82.1h0.8M362.6 81.3h0.8M373.1 73.4h0.8M369.6 80.4h0.8M383.6 81.9h0.8M360.7 86.5h0.8M374.9 77.6h0.8M377.9 78.1h0.8M365.1 93.6h0.8M354.3 84.5h0.8M387.2 75.8h0.8M365.7 74.3h0.8M361.2 90.1h0.8M369.4 87.0h0.8M359.9 82.0h0.8M356.7 86.4h0.8M372.7 95.3h0.8M359.5 83.2h0.8M365.5 73.5h0.8M357.6 83.4h0.8M367.0 78.1h0.8M392.5 77.0h0.8M352.6 87.0h0.8M376.5 87.0h0.8M357.7 73.9h0.8M369.5 86.7h0.8M355.1 84.1h0.8M382.6 66.1h0.8M370.0 79.4h0.8M359.5 83.8h0.8M352.6 97.0h0.8M360.6 86.0h0.8M377.4 77.1h0.8M387.5 84.1h0.8M379.5 85.6h0.8M384.9 86.7h0.8M376.8 88.3h0.8M365.0 99.8h0.8M375.1 79.1h0.8M355.4 78.7h0.8M366.6 74.2h0.8M390.7 85.3h0.8M354.5 82.3h0.8M359.4 72.5h0.8M376.3 95.9h0.8M363.2 94.6h0.8M379.6 79.4h0.8M393.0 96.4h0.8M371.6 87.0h0.8M365.7 70.0h0.8M360.2 95.4h0.8M365.2 87.8h0.8M363.8 85.7h0.8M364.4 79.9h0.8M361.5 86.6h0.8M381.6 90.3h0.8M368.1 77.7h0.8M364.8 82.1h0.8M386.0 68.1h0.8M383.4 84.8h0.8M380.5 85.1h0.8M359.6 93.0h0.8M363.5 86.9h0.8M357.7 84.1h0.8M375.0 92.7h0.8M360.0 74.2h0.8M373.8 82.8h0.8M377.0 74.3h0.8M362.8 87.0h0.8M373.9 82.5h0.8M377.3 86.0h0.8M368.9 76.8h0.8M371.5 79.4h0.8M383.2 81.9h0.8M378.8 70.4h0.8M361.9 82.2h0.8M357.5 87.3h0.8M353.0 79.5h0.8M380.5 85.0h0.8M383.0 74.4h0.8M359.8 70.6h0.8M361.1 72.9h0.8M355.0 81.2h0.8M368.9 85.1h0.8M361.7 85.7h0.8M364.8 86.5h0.8M358.7 89.2h0.8M369.6 94.6h0.8M355.9 76.1h0.8M355.5 73.3h0.8M363.5 86.3h0.8M373.4 87.7h0.8M353.9 78.1h0.8M359.3 91.1h0.8M383.0 74.5h0.8M370.2 81.6h0.8M356.7 90.6h0.8M368.8 87.3h0.8M370.1 69.4h0.8M370.1 83.5h0.8M357.6 106.3h0.8M364.4 83.6h0.8M356.3 84.3h0.8M360.7 89.6h0.8M379.6 86.3h0.8M354.6 85.2h0.8M356.0 81.6h0.8M352.8 86.1h0.8M369.1 93.6h0.8M355.7 82.4h0.8M357.9 73.8h0.8M361.0 76.1h0.8M359.8 93.5h0.8M389.5 75.0h0.8M384.4 87.0h0.8M353.7 78.5h0.8M387.7 73.4h0.8M367.2 82.3h0.8M360.6 87.5h0.8M363.9 78.7h0.8M362.3 91.4h0.8M355.1 80.2h0.8M357.8 71.5h0.8M362.9 88.0h0.8M375.9 85.5h0.8M367.8 98.9h0.8M385.9 71.1h0.8M360.9 70.9h0.8M380.5 84.7h0.8M376.0 80.3h0.8M377.1 80.7h0.8M359.0 89.4h0.8M380.5 87.2h0.8M367.0 97.7h0.8M384.6 83.7h0.8M357.4 80.2h0.8M365.5 91.6h0.8M386.6 79.0h0.8M361.5 76.9h0.8M365.5 73.2h0.8M359.8 81.7h0.8M361.2 88.5h0.8M362.9 75.9h0.8M389.1 88.8h0.8M354.9 70.9h0.8M373.1 87.4h0.8M360.2 76.9h0.8M355.2 77.6h0.8M358.3 89.5h0.8M385.3 77.4h0.8M363.1 85.8h0.8M354.0 82.1h0.8M379.5 90.9h0.8M378.5 68.0h0.8M375.1 83.4h0.8M363.1 77.8h0.8M363.6 92.0h0.8M361.9 81.1h0.8M367.3 81.4h0.8M372.1 82.5h0.8M385.9 88.6h0.8M357.0 84.3h0.8M366.2 89.5h0.8M369.1 92.9h0.8M354.1 86.5h0.8M356.2 80.4h0.8M387.7 77.4h0.8M352.8 78.7h0.8M360.3 91.3h0.8M356.2 85.2h0.8M353.5 76.1h0.8M392.0 68.3h0.8M359.0 86.3h0.8M375.4 79.1h0.8M370.1 77.3h0.8M357.3 73.6h0.8M368.4 77.0h0.8M379.4 83.6h0.8M358.3 80.7h0.8M365.4 88.8h0.8M371.9 69.8h0.8M356.6 74.4h0.8M364.7 80.8h0.8M390.4 97.1h0.8M357.5 94.4h0.8M369.7 79.1h0.8M378.1 77.6h0.8M353.2 81.3h0.8M356.5 83.2h0.8M376.7 72.6h0.8M362.5 90.3h0.8M392.7 85.4h0.8M378.5 90.2h0.8M368.6 82.6h0.8M355.1 96.3h0.8M363.5 71.9h0.8M354.2 85.5h0.8M354.8 84.0h0.8M361.3 66.8h0.8M390.9 95.1h0.8M364.8 76.8h0.8M376.0 74.7h0.8M356.0 77.4h0.8M360.5 76.5h0.8M368.8 92.7h0.8M358.8 83.1h0.8M384.9 86.8h0.8M366.2 78.3h0.8M370.2 79.8h0.8M372.6 85.5h0.8M382.4 86.7h0.8M365.3 97.4h0.8M364.4 83.6h0.8M359.0 86.5h0.8M353.7 83.8h0.8M371.6 69.2h0.8M388.4 74.1h0.8M391.5 79.7h0.8M357.4 85.7h0.8M355.1 86.4h0.8M353.9 84.2h0.8M387.2 84.6h0.8M363.3 92.3h0.8M358.6 84.8h0.8M360.0 83.1h0.8M371.9 82.5h0.8M370.1 71.4h0.8M357.5 71.3h0.8M361.2 70.2h0.8M381.5 81.9h0.8M360.3 78.6h0.8M362.0 76.9h0.8M359.5 78.6h0.8M371.2 94.0h0.8M368.7 81.2h0.8M356.7 86.3h0.8M373.3 85.5h0.8M380.6 79.5h0.8M364.2 76.0h0.8M356.7 79.3h0.8M356.9 93.0h0.8M376.8 81.3h0.8M353.8 80.0h0.8M376.9 79.0h0.8M353.3 66.7h0.8M358.6 86.8h0.8M352.5 93.0h0.8M377.0 80.9h0.8M354.9 89.3h0.8M353.5 85.4h0.8M357.7 79.2h0.8M362.7 72.0h0.8M366.3 90.7h0.8M381.9 77.1h0.8M366.3 75.0h0.8M363.9 95.3h0.8M358.6 78.1h0.8M364.5 91.5h0.8M376.8 86.9h0.8M360.6 89.2h0.8M352.5 75.5h0.8M385.4 80.4h0.8M356.0 81.5h0.8M353.8 82.5h0.8M359.6 89.5h0.8M387.8 77.3h0.8M365.6 92.4h0.8M354.9 87.4h0.8M378.8 76.3h0.8M370.2 90.9h0.8M359.9 85.7h0.8M372.1 86.3h0.8M364.9 76.8h0.8M353.8 88.8h0.8M372.5 81.7h0.8M372.1 89.9h0.8M379.0 84.5h0.8M364.5 84.1h0.8M376.2 70.4h0.8M353.9 80.5h0.8M357.6 73.6h0.8M352.9 82.2h0.8M379.8 97.0h0.8M361.8 96.8h0.8M356.8 93.9h0.8M379.9 82.7h0.8M365.1 72.9h0.8M367.1 92.8h0.8M379.2 90.6h0.8M382.7 77.9h0.8M358.9 70.8h0.8M357.1 82.1h0.8M374.9 87.5h0.8M354.7 78.3h0.8M376.0 80.8h0.8M364.0 90.4h0.8M356.6 85.3h0.8M371.6 73.2h0.8M354.9 83.7h0.8M380.2 86.8h0.8M380.7 80.9h0.8M354.5 98.5h0.8M358.6 86.8h0.8M380.3 84.8h0.8M372.7 83.3h0.8M372.7 76.3h0.8M376.9 68.5h0.8M368.6 88.7h0.8M385.0 74.1h0.8M355.4 78.2h0.8M376.2 83.2h0.8M353.2 78.6h0.8M356.8 75.2h0.8M360.0 83.0h0.8M356.2 87.1h0.8M366.5 76.9h0.8M354.3 90.8h0.8M361.2 82.9h0.8M378.9 91.0h0.8M368.6 88.8h0.8M366.5 85.2h0.8M361.0 83.4h0.8M359.8 81.4h0.8M352.8 76.6h0.8M372.1 88.9h0.8M390.9 77.4h0.8M373.1 86.2h0.8M361.6 88.0h0.8M355.1 82.9h0.8M375.3 77.4h0.8M384.3 87.0h0.8M361.7 83.2h0.8M367.6 83.6h0.8M353.7 81.5h0.8M386.8 88.3h0.8M376.1 93.8h0.8M354.9 102.6h0.8M356.1 92.6h0.8M355.9 82.8h0.8M363.3 77.7h0.8M364.0 88.7h0.8M356.8 85.0h0.8M363.9 74.9h0.8M371.4 100.2h0.8M359.2 84.7h0.8M358.3 79.0h0.8M353.8 98.2h0.8M389.8 88.5h0.8M366.6 89.1h0.8M360.3 88.8h0.8M362.3 84.2h0.8M356.3 82.3h0.8M376.9 84.4h0.8M368.0 79.1h0.8M383.9 85.3h0.8M354.2 79.1h0.8M371.1 82.7h0.8M358.6 87.5h0.8M373.2 78.8h0.8M376.5 82.0h0.8M366.2 84.4h0.8M363.9 71.5h0.8M369.4 75.2h0.8M378.3 85.8h0.8M354.2 87.7h0.8M369.7 80.1h0.8M356.9 72.7h0.8M356.3 78.2h0.8M354.7 90.1h0.8M376.3 96.0h0.8M354.4 73.2h0.8M360.7 93.5h0.8M354.0 102.7h0.8M381.4 83.1h0.8M382.3 85.6h0.8M357.2 79.7h0.8M360.3 79.0h0.8M360.3 80.4h0.8M365.9 90.1h0.8M377.3 96.4h0.8M392.7 90.4h0.8M372.8 90.2h0.8M380.8 83.2h0.8M360.6 77.3h0.8M360.0 80.3h0.8M382.1 75.3h0.8M360.4 88.6h0.8M362.9 94.8h0.8M368.5 101.5h0.8M376.1 91.5h0.8M360.3 85.5h0.8M355.8 82.5h0.8M359.8 75.3h0.8M356.1 80.7h0.8M391.8 77.7h0.8M389.1 86.4h0.8M378.9 81.1h0.8M366.9 81.0h0.8M355.9 90.8h0.8M371.5 88.6h0.8M367.2 75.1h0.8M386.6 73.6h0.8M365.3 83.4h0.8M361.1 86.1h0.8M372.6 80.6h0.8M356.8 80.3h0.8M385.9 80.5h0.8M356.8 92.4h0.8M387.9 88.5h0.8M370.4 76.8h0.8M371.9 76.9h0.8M376.8 72.7h0.8M366.8 72.8h0.8M366.6 79.9h0.8M381.6 76.1h0.8M368.3 86.1h0.8M372.4 78.8h0.8M377.6 76.8h0.8M358.6 88.1h0.8M353.1 80.1h0.8M387.0 88.0h0.8M353.3 85.1h0.8M357.0 92.3h0.8M361.7 89.1h0.8M360.6 89.9h0.8M367.1 82.5h0.8M370.3 74.9h0.8M372.1 79.2h0.8M371.5 87.9h0.8M361.4 75.1h0.8M367.4 79.6h0.8M375.1 83.5h0.8M393.2 82.6h0.8M382.2 82.8h0.8M389.4 81.1h0.8M363.8 85.5h0.8M355.0 83.5h0.8M367.5 83.0h0.8M358.0 85.5h0.8M360.2 87.0h0.8M366.7 84.4h0.8M361.7 76.2h0.8M359.4 82.0h0.8M370.1 84.3h0.8M364.1 96.9h0.8M378.3 71.1h0.8M363.3 82.9h0.8M381.0 87.2h0.8M366.7 79.1h0.8M383.0 80.7h0.8M380.5 78.5h0.8M376.4 81.4h0.8M368.6 70.6h0.8M381.8 72.0h0.8M361.2 89.2h0.8M358.3 91.3h0.8M354.1 89.1h0.8M365.5 74.5h0.8M393.6 81.4h0.8M352.4 80.2h0.8M361.4 85.5h0.8M360.9 74.7h0.8M352.4 88.0h0.8M362.5 94.3h0.8M359.4 82.2h0.8M360.5 73.4h0.8M364.3 102.2h0.8M355.3 94.2h0.8M353.8 83.5h0.8M385.2 85.7h0.8M381.4 95.9h0.8M364.0 84.7h0.8M367.0 90.2h0.8M362.7 84.2h0.8M364.8 83.6h0.8M353.0 90.6h0.8M366.6 80.4h0.8M375.6 85.7h0.8M378.5 79.4h0.8M356.5 77.6h0.8M356.6 66.4h0.8M363.0 72.3h0.8M360.2 93.2h0.8M363.2 79.4h0.8M367.5 92.8h0.8M363.1 92.8h0.8M368.6 103.0h0.8M374.8 99.6h0.8M359.1 91.6h0.8M355.3 79.8h0.8M383.8 83.2h0.8M378.1 80.8h0.8M391.2 81.6h0.8M354.3 80.1h0.8M358.1 86.7h0.8M372.6 92.0h0.8M359.3 93.8h0.8M382.3 87.4h0.8M360.9 90.2h0.8M378.9 95.2h0.8M372.1 74.6h0.8M360.5 92.5h0.8M353.3 71.2h0.8M382.6 81.1h0.8M360.8 88.6h0.8M388.2 80.2h0.8M368.6 83.3h0.8M363.4 76.6h0.8M383.5 81.6h0.8M383.0 87.3h0.8M358.1 90.7h0.8M373.1 84.2h0.8M368.6 89.8h0.8M356.3 88.1h0.8M361.3 80.6h0.8M374.8 81.4h0.8M361.7 97.9h0.8M366.3 85.9h0.8M363.2 86.4h0.8M356.3 84.8h0.8M368.4 80.4h0.8M357.5 81.1h0.8M367.6 70.0h0.8M391.4 75.3h0.8M361.8 86.1h0.8M361.5 78.2h0.8M382.9 91.3h0.8M358.7 79.7h0.8M387.8 80.6h0.8M364.3 86.2h0.8M367.9 75.7h0.8M357.9 78.7h0.8M360.4 98.7h0.8M387.5 79.0h0.8M369.0 75.8h0.8M352.4 79.2h0.8M368.3 80.0h0.8M375.1 83.9h0.8M364.4 90.6h0.8M362.1 83.2h0.8M383.8 73.2h0.8M368.3 90.7h0.8M356.9 83.3h0.8M388.5 74.0h0.8M362.8 90.6h0.8M379.8 80.8h0.8M368.6 80.2h0.8M363.4 88.3h0.8M353.2 75.4h0.8M364.7 77.9h0.8M372.0 83.4h0.8M355.7 74.3h0.8M386.2 89.8h0.8M374.2 79.4h0.8M359.7 78.4h0.8M353.6 86.1h0.8M379.2 96.0h0.8M382.0 97.6h0.8M377.4 90.4h0.8M366.9 92.9h0.8M377.5 87.9h0.8M353.3 87.5h0.8M358.7 91.0h0.8M377.1 87.3h0.8M355.1 79.5h0.8M373.8 76.5h0.8M353.6 77.9h0.8M391.2 84.7h0.8M355.0 82.5h0.8M353.8 77.7h0.8M376.4 102.6h0.8M390.9 90.4h0.8M372.4 71.5h0.8M364.3 87.7h0.8M354.8 77.8h0.8M359.8 77.6h0.8M360.9 89.7h0.8M386.0 81.6h0.8M363.6 75.8h0.8M373.3 82.0h0.8M366.8 79.2h0.8M362.1 94.3h0.8M359.2 87.6h0.8M353.0 83.7h0.8M374.4 85.7h0.8M377.7 80.8h0.8M363.9 84.8h0.8M370.1 76.2h0.8M379.9 66.5h0.8M360.8 84.2h0.8M366.4 94.9h0.8M371.3 81.5h0.8M364.2 86.9h0.8M364.5 80.9h0.8M353.5 84.4h0.8M354.5 67.8h0.8M366.3 88.0h0.8M362.4 77.2h0.8M372.3 83.5h0.8M364.3 79.6h0.8M369.4 87.7h0.8M382.3 90.3h0.8M378.9 91.7h0.8M368.3 81.5h0.8M378.7 79.1h0.8M354.6 81.6h0.8M372.4 87.6h0.8M388.7 83.7h0.8M355.8 73.9h0.8M370.9 84.7h0.8M363.5 85.2h0.8M372.4 87.0h0.8M374.1 89.7h0.8M358.7 89.2h0.8M393.6 83.7h0.8M369.1 92.2h0.8M357.3 71.7h0.8M379.5 91.1h0.8M363.2 93.0h0.8M360.2 82.8h0.8M361.1 93.7h0.8M378.2 74.3h0.8M353.6 81.0h0.8M354.6 77.8h0.8M361.1 86.0h0.8M386.3 96.3h0.8M357.9 76.8h0.8M354.2 88.3h0.8M358.5 82.0h0.8M361.3 81.7h0.8M367.2 77.8h0.8M358.9 80.6h0.8M372.8 84.6h0.8M371.5 85.2h0.8M366.1 83.3h0.8M360.7 89.3h0.8M369.8 87.6h0.8M358.9 78.9h0.8M377.0 75.2h0.8M357.3 87.7h0.8M371.8 78.6h0.8M360.0 92.5h0.8M373.6 82.6h0.8M356.2 80.4h0.8M361.1 81.3h0.8M367.8 92.1h0.8M352.6 73.0h0.8M384.4 81.8h0.8M382.4 76.9h0.8M358.1 86.2h0.8M361.9 84.5h0.8M357.7 79.9h0.8M367.4 87.9h0.8M381.0 77.1h0.8M369.6 84.5h0.8M370.5 80.6h0.8M356.2 79.9h0.8M352.9 79.3h0.8M377.3 87.9h0.8M377.4 79.7h0.8M383.6 91.3h0.8M375.7 91.9h0.8M380.2 72.9h0.8M362.2 79.1h0.8M361.5 90.9h0.8M353.7 78.3h0.8M376.8 68.2h0.8M376.2 89.6h0.8M362.1 75.4h0.8M365.6 86.2h0.8M355.2 80.5h0.8M369.7 84.3h0.8M361.2 83.1h0.8M377.0 78.1h0.8M383.0 92.5h0.8M375.2 88.5h0.8M368.3 87.0h0.8M355.1 78.0h0.8M357.8 83.8h0.8M362.3 88.3h0.8M364.0 73.7h0.8M363.2 76.8h0.8M363.7 73.5h0.8M357.6 87.7h0.8M365.4 85.6h0.8M355.7 83.6h0.8M373.4 76.9h0.8M354.1 79.4h0.8M358.7 84.6h0.8M376.4 80.4h0.8M363.7 92.0h0.8M388.4 94.8h0.8M380.0 84.6h0.8M355.9 95.1h0.8M366.1 89.1h0.8M373.4 94.4h0.8M387.1 82.4h0.8M356.0 93.1h0.8M356.6 85.0h0.8M353.5 86.1h0.8M366.5 79.6h0.8M353.2 75.4h0.8M378.4 88.4h0.8M365.5 85.2h0.8M354.5 80.2h0.8M358.5 86.5h0.8M391.1 85.0h0.8M361.2 83.7h0.8M368.7 75.3h0.8M376.3 80.2h0.8M360.0 91.6h0.8M382.7 76.4h0.8M368.5 86.7h0.8M360.5 85.8h0.8M370.0 91.6h0.8M358.5 88.7h0.8M373.5 78.6h0.8M378.5 80.1h0.8M392.1 84.6h0.8M365.5 81.9h0.8M392.2 79.4h0.8M352.7 82.2h0.8M358.6 80.3h0.8M357.2 77.4h0.8M356.7 78.4h0.8M368.5 90.9h0.8M386.5 100.5h0.8M365.6 80.2h0.8M371.7 91.7h0.8M367.6 81.5h0.8M389.0 85.9h0.8M353.2 91.2h0.8M374.1 96.0h0.8M361.6 86.3h0.8M364.7 76.7h0.8M375.4 85.4h0.8M376.6 83.7h0.8M366.1 91.1h0.8M371.5 80.1h0.8M373.3 70.4h0.8M393.8 80.0h0.8M367.9 99.4h0.8M367.4 82.2h0.8M373.6 79.5h0.8M354.7 91.9h0.8M373.9 74.7h0.8M372.8 72.5h0.8M352.8 88.9h0.8M372.2 79.4h0.8M369.9 69.8h0.8M362.2 88.7h0.8M369.5 86.3h0.8M380.9 80.8h0.8M365.0 75.6h0.8M369.3 82.3h0.8M358.6 73.4h0.8M382.2 97.5h0.8M361.4 84.3h0.8M375.4 81.2h0.8M393.2 85.7h0.8M376.7 76.4h0.8M368.4 74.9h0.8M373.4 76.4h0.8M380.8 75.0h0.8M379.4 102.0h0.8M380.3 75.1h0.8M357.3 102.8h0.8M374.6 107.4h0.8M353.7 106.3h0.8M375.0 108.0h0.8M352.7 101.3h0.8M369.2 105.6h0.8M362.1 100.6h0.8M365.9 96.4h0.8M371.7 101.0h0.8M365.9 104.1h0.8M367.9 96.1h0.8M363.1 91.8h0.8M355.2 103.7h0.8M353.7 102.3h0.8M358.4 109.3h0.8M353.4 99.9h0.8M357.3 98.6h0.8M355.3 104.5h0.8M358.6 107.2h0.8M354.4 104.4h0.8M378.8 100.9h0.8M365.2 102.1h0.8M352.7 99.5h0.8M357.1 110.6h0.8M352.5 98.0h0.8M353.4 102.4h0.8M379.0 98.9h0.8M357.3 99.6h0.8M374.5 106.0h0.8M380.5 98.0h0.8M352.8 103.1h0.8M382.8 95.9h0.8M367.4 100.4h0.8M362.0 98.3h0.8M372.4 103.0h0.8M369.4 100.0h0.8M377.8 95.7h0.8M379.4 90.4h0.8M375.4 109.0h0.8M375.0 109.1h0.8M358.4 108.6h0.8M360.5 107.4h0.8M361.2 105.1h0.8M373.6 103.9h0.8M359.0 94.8h0.8M364.1 98.5h0.8M360.3 110.1h0.8M360.3 98.1h0.8M363.9 99.7h0.8M360.1 102.0h0.8M370.7 96.5h0.8M364.6 107.1h0.8M362.3 108.9h0.8M364.3 107.4h0.8M355.2 98.2h0.8M365.2 100.9h0.8M361.4 102.3h0.8M372.0 108.7h0.8M353.3 100.2h0.8M382.9 99.1h0.8M355.4 104.4h0.8M367.3 107.4h0.8M357.6 107.6h0.8M365.4 95.0h0.8M359.9 102.7h0.8M355.4 103.1h0.8M363.5 98.8h0.8M372.6 97.4h0.8M358.9 96.1h0.8M375.1 106.8h0.8M374.7 105.8h0.8M354.0 99.2h0.8M358.5 105.2h0.8M370.8 102.9h0.8M365.3 107.6h0.8M356.0 106.0h0.8M374.3 107.9h0.8M365.8 107.6h0.8M362.6 110.9h0.8M369.6 98.2h0.8M367.3 102.2h0.8M374.9 94.3h0.8M373.4 100.8h0.8M377.9 102.7h0.8M375.4 108.7h0.8M377.2 103.1h0.8M359.0 101.9h0.8M355.5 100.8h0.8M362.4 103.2h0.8M369.4 104.4h0.8M377.2 97.5h0.8M378.1 101.9h0.8M367.4 111.3h0.8M355.4 100.3h0.8M384.1 96.8h0.8M366.3 106.5h0.8M369.0 104.1h0.8M353.7 100.4h0.8M369.3 102.0h0.8M367.3 96.3h0.8M352.6 109.6h0.8M365.9 103.3h0.8M366.6 102.3h0.8M373.8 109.5h0.8M375.1 102.1h0.8M360.1 108.5h0.8M365.1 105.6h0.8M359.7 102.6h0.8M363.4 103.2h0.8M367.0 99.2h0.8M363.0 94.2h0.8M363.6 101.2h0.8M353.5 105.7h0.8M354.6 106.9h0.8M370.8 89.0h0.8M361.5 101.9h0.8M357.8 103.8h0.8M366.2 96.9h0.8M355.6 108.3h0.8M362.5 98.6h0.8M353.5 110.0h0.8M370.7 105.5h0.8M363.9 103.4h0.8M352.6 102.5h0.8M353.9 102.2h0.8M360.1 107.2h0.8M364.0 108.0h0.8M359.8 98.5h0.8M375.7 107.3h0.8M375.2 95.6h0.8M366.4 100.2h0.8M370.7 99.0h0.8M368.4 101.0h0.8M361.7 105.2h0.8M364.0 107.0h0.8M357.4 100.7h0.8M366.3 104.4h0.8M357.1 105.5h0.8M365.7 100.5h0.8M352.8 109.3h0.8M367.7 100.5h0.8M378.4 99.2h0.8M375.7 94.7h0.8M358.2 97.4h0.8M353.3 106.5h0.8M360.0 102.1h0.8M366.7 99.9h0.8M360.6 103.9h0.8M364.6 105.0h0.8M376.5 97.9h0.8M381.4 99.5h0.8M356.0 107.9h0.8M368.8 100.0h0.8M370.4 108.7h0.8M359.8 110.6h0.8M358.6 97.4h0.8M369.6 99.2h0.8M354.0 100.7h0.8M357.3 99.6h0.8M374.4 104.1h0.8M365.2 99.0h0.8M357.3 110.5h0.8M356.0 110.0h0.8M373.9 100.3h0.8M381.3 101.2h0.8M358.1 105.5h0.8M376.7 99.5h0.8M374.3 93.7h0.8M364.4 99.5h0.8M365.6 101.7h0.8M382.8 101.4h0.8M367.7 98.6h0.8M382.1 100.0h0.8M358.5 90.9h0.8M380.0 101.1h0.8M365.0 100.4h0.8M355.9 108.8h0.8M381.1 95.3h0.8M353.3 97.9h0.8M376.6 88.5h0.8M378.2 102.7h0.8M366.4 103.4h0.8M382.2 101.9h0.8M370.5 104.7h0.8M359.0 99.8h0.8M372.6 103.3h0.8M359.7 105.1h0.8M363.9 95.4h0.8M362.8 110.4h0.8M363.8 106.3h0.8M373.0 106.2h0.8M363.1 93.4h0.8M364.3 107.3h0.8M353.6 111.1h0.8M355.7 92.0h0.8M353.5 94.1h0.8M358.2 111.3h0.8M358.4 108.0h0.8M354.8 107.5h0.8M374.2 106.2h0.8M359.1 101.2h0.8M361.0 102.5h0.8M375.2 110.5h0.8M378.5 96.3h0.8M359.7 98.7h0.8M373.4 97.9h0.8M360.6 101.0h0.8M365.7 99.0h0.8M373.5 104.5h0.8M358.2 106.5h0.8M370.0 104.3h0.8M363.6 111.2h0.8M364.7 101.0h0.8M353.9 102.0h0.8M368.4 108.4h0.8M356.8 101.7h0.8M364.7 100.3h0.8M356.3 103.0h0.8M364.7 96.2h0.8M353.1 102.3h0.8M365.3 91.1h0.8M358.5 104.2h0.8M371.9 108.3h0.8M365.8 104.9h0.8M359.7 93.4h0.8M363.9 102.0h0.8M367.1 99.1h0.8M359.5 104.9h0.8M359.2 97.4h0.8M378.1 92.6h0.8M356.0 109.8h0.8M354.7 102.6h0.8M357.7 107.2h0.8M370.7 96.8h0.8M368.1 105.2h0.8M359.1 92.8h0.8M362.5 90.0h0.8M364.4 98.6h0.8M372.2 98.3h0.8M360.0 103.6h0.8M372.2 103.9h0.8M352.9 96.7h0.8M373.4 95.2h0.8M354.7 100.3h0.8M365.7 97.2h0.8M359.7 94.1h0.8M354.2 95.3h0.8M357.7 101.1h0.8M362.1 98.9h0.8M373.8 96.5h0.8M357.4 95.5h0.8M373.6 96.6h0.8M368.8 100.6h0.8M373.4 109.6h0.8M358.9 109.7h0.8M358.0 98.1h0.8M362.2 98.8h0.8M358.7 102.1h0.8M363.5 101.2h0.8M363.5 111.0h0.8M362.8 105.7h0.8M381.6 96.8h0.8M355.0 101.4h0.8M368.0 96.6h0.8M367.2 107.1h0.8M370.3 105.4h0.8M362.5 106.7h0.8M376.7 97.2h0.8M363.0 92.9h0.8M363.8 108.2h0.8M363.8 98.7h0.8M365.3 102.0h0.8M374.1 109.8h0.8M359.6 99.1h0.8M371.5 101.6h0.8M366.0 111.3h0.8M385.1 98.0h0.8M379.5 95.3h0.8M371.3 100.6h0.8M354.8 98.8h0.8M364.3 107.4h0.8M354.1 103.4h0.8M360.7 105.0h0.8M362.6 99.8h0.8M353.9 105.8h0.8M352.5 102.3h0.8M365.2 98.0h0.8M366.3 97.4h0.8M357.4 100.5h0.8M385.0 96.7h0.8M352.6 103.4h0.8M363.5 100.1h0.8M360.9 99.8h0.8M369.4 94.8h0.8M377.1 94.3h0.8M367.2 99.3h0.8M371.3 109.4h0.8M357.2 109.5h0.8M366.5 109.4h0.8M357.6 95.6h0.8M359.4 104.5h0.8M370.6 93.6h0.8M360.1 98.6h0.8M369.6 99.8h0.8M360.9 107.7h0.8M362.2 100.6h0.8M367.6 106.5h0.8M372.5 106.7h0.8M356.9 97.0h0.8M367.6 101.1h0.8M361.5 105.3h0.8M370.0 102.5h0.8M361.2 101.3h0.8M363.8 100.3h0.8M357.5 103.2h0.8M368.6 106.7h0.8M366.8 101.2h0.8M353.1 102.0h0.8M367.7 98.5h0.8M379.0 100.2h0.8M358.3 99.7h0.8M376.4 100.3h0.8M360.7 100.0h0.8M355.4 107.5h0.8M379.2 101.0h0.8M361.8 106.7h0.8M367.1 108.3h0.8M354.9 104.0h0.8M374.2 101.4h0.8M356.1 102.4h0.8M375.3 105.1h0.8M371.5 102.7h0.8M358.7 100.0h0.8M381.9 99.3h0.8M354.7 107.9h0.8M358.0 98.7h0.8M376.6 104.9h0.8M362.1 91.9h0.8M356.3 99.4h0.8M365.5 102.4h0.8M353.0 100.0h0.8M368.4 97.3h0.8M359.6 102.0h0.8M360.0 105.6h0.8M353.9 106.7h0.8M370.0 110.2h0.8M369.0 103.5h0.8M359.3 100.5h0.8M366.7 94.8h0.8M361.4 97.1h0.8M368.7 102.1h0.8M360.5 104.1h0.8M362.8 99.4h0.8M361.5 98.1h0.8M368.8 99.2h0.8M360.0 103.4h0.8M352.6 103.0h0.8M377.5 108.2h0.8M355.8 104.9h0.8M369.3 100.9h0.8M360.6 102.4h0.8M368.4 95.0h0.8M352.7 108.0h0.8M378.6 103.1h0.8M364.5 96.3h0.8M368.2 107.1h0.8M355.0 93.1h0.8M367.6 105.6h0.8M369.5 105.6h0.8M352.5 109.4h0.8M373.1 105.6h0.8M384.9 98.4h0.8M361.3 108.5h0.8M357.7 100.0h0.8M361.2 99.0h0.8M363.7 103.2h0.8M362.7 107.0h0.8M367.5 98.4h0.8M361.4 96.7h0.8M375.8 108.3h0.8M355.6 99.5h0.8M355.3 102.6h0.8M361.5 104.5h0.8M365.0 105.3h0.8M364.1 104.1h0.8M361.3 99.5h0.8M357.4 108.2h0.8M373.6 108.5h0.8M356.6 105.9h0.8M381.2 94.7h0.8M378.2 95.9h0.8M367.9 101.7h0.8M365.7 105.8h0.8M382.5 96.5h0.8M353.2 104.4h0.8M378.1 107.7h0.8M356.3 108.9h0.8M366.0 103.5h0.8M360.0 100.0h0.8M362.4 94.2h0.8M354.1 106.7h0.8M368.9 107.0h0.8M354.4 101.4h0.8M357.5 95.5h0.8M378.7 102.9h0.8M380.1 105.5h0.8M366.1 110.7h0.8M369.9 98.4h0.8M372.1 105.8h0.8M368.5 96.5h0.8M356.7 104.5h0.8M373.4 101.2h0.8M363.0 102.5h0.8M363.4 101.1h0.8M367.1 102.1h0.8M359.1 104.6h0.8M376.6 107.4h0.8M352.5 107.3h0.8M356.0 109.7h0.8M358.2 101.4h0.8M359.3 110.1h0.8M370.7 101.8h0.8M376.9 108.9h0.8M380.4 100.4h0.8M360.7 103.7h0.8M353.6 103.1h0.8M370.5 103.3h0.8M362.0 110.0h0.8M355.9 102.1h0.8M367.7 97.8h0.8M372.5 91.8h0.8M377.8 97.2h0.8M354.5 106.5h0.8M367.8 101.4h0.8M365.3 108.8h0.8M374.8 93.5h0.8M352.5 93.4h0.8M378.0 107.1h0.8M367.7 107.3h0.8M373.2 111.3h0.8M358.9 108.9h0.8M358.5 95.1h0.8M376.3 101.1h0.8M362.8 96.5h0.8M363.1 100.0h0.8M364.8 96.1h0.8M373.6 108.4h0.8M364.8 104.1h0.8M364.7 106.9h0.8M365.5 99.1h0.8M378.2 98.5h0.8M373.9 94.2h0.8M370.0 100.5h0.8M371.8 102.0h0.8M359.2 108.7h0.8M373.6 102.9h0.8M375.6 94.4h0.8M361.2 106.5h0.8M368.4 103.8h0.8M355.7 98.8h0.8M366.5 108.3h0.8M359.6 104.9h0.8M371.7 98.0h0.8M364.4 102.4h0.8M362.9 105.3h0.8M357.1 95.4h0.8M370.5 103.1h0.8M376.6 110.8h0.8M354.8 103.0h0.8M354.9 99.2h0.8M371.9 109.6h0.8M383.7 95.4h0.8M363.1 97.2h0.8M377.2 100.4h0.8M353.6 105.2h0.8M353.5 98.0h0.8M352.8 106.0h0.8M358.7 96.6h0.8M369.2 102.6h0.8M365.5 105.2h0.8M359.7 105.3h0.8M371.0 104.4h0.8M359.0 98.0h0.8M352.5 103.1h0.8M356.5 96.6h0.8M370.7 102.2h0.8M354.2 103.9h0.8M371.2 106.6h0.8M356.4 104.1h0.8M359.3 99.7h0.8M365.9 107.4h0.8M358.1 100.7h0.8M353.0 111.1h0.8M369.5 102.9h0.8M353.6 102.7h0.8M353.2 102.5h0.8M355.6 99.2h0.8M354.9 107.4h0.8M370.4 95.1h0.8M361.8 109.5h0.8M353.1 106.3h0.8M370.4 100.1h0.8M359.5 95.1h0.8M376.0 97.9h0.8M376.8 111.0h0.8M355.5 111.1h0.8M370.9 105.6h0.8M374.3 101.0h0.8M359.7 91.1h0.8M357.9 107.1h0.8M353.4 104.5h0.8M363.6 97.9h0.8M374.2 107.0h0.8M382.2 92.7h0.8M363.4 107.3h0.8M355.5 104.7h0.8M376.9 98.0h0.8M354.3 92.1h0.8M358.0 111.4h0.8M368.3 104.3h0.8M360.1 92.4h0.8M371.8 101.5h0.8M361.8 107.4h0.8M368.6 105.9h0.8M373.2 95.0h0.8M368.6 101.8h0.8M363.5 101.7h0.8M363.3 104.6h0.8M357.6 111.4h0.8M358.6 108.5h0.8M365.5 100.1h0.8M352.5 105.8h0.8M365.5 102.8h0.8M378.0 101.9h0.8M363.4 96.4h0.8M360.4 90.8h0.8M371.6 106.8h0.8M366.5 111.2h0.8M359.7 111.4h0.8M374.1 93.6h0.8M355.0 102.4h0.8M375.4 98.4h0.8M366.4 95.5h0.8M366.4 92.3h0.8M353.7 103.0h0.8M359.9 102.3h0.8M359.1 101.7h0.8M364.4 101.1h0.8M363.1 100.4h0.8M365.7 99.7h0.8M372.0 91.7h0.8M356.3 103.1h0.8M361.8 100.2h0.8M368.3 98.2h0.8M363.5 98.4h0.8M357.5 97.9h0.8M376.5 100.2h0.8M380.7 93.6h0.8M366.2 110.7h0.8M376.3 107.5h0.8M393.9 71.8h0.8M395.0 74.2h0.8M395.0 64.0h0.8M380.3 69.7h0.8M383.2 80.9h0.8M401.0 57.4h0.8M402.9 70.3h0.8M385.8 64.5h0.8M391.0 68.1h0.8M390.4 85.8h0.8M402.6 60.8h0.8M398.7 56.7h0.8M391.6 73.4h0.8M400.2 61.3h0.8M385.5 67.7h0.8M396.2 66.6h0.8M392.7 58.0h0.8M397.9 62.3h0.8M389.2 70.3h0.8M383.5 75.3h0.8M402.0 69.5h0.8M393.6 75.8h0.8M395.6 68.3h0.8M395.8 74.6h0.8M393.7 79.8h0.8M389.5 80.2h0.8M388.0 71.7h0.8M393.6 72.9h0.8M393.9 61.7h0.8M384.6 72.2h0.8M399.7 79.8h0.8M404.2 57.1h0.8M410.1 73.0h0.8M386.8 81.2h0.8M390.2 82.7h0.8M380.9 73.9h0.8M392.1 68.9h0.8M396.1 80.2h0.8M402.0 60.0h0.8M402.2 69.2h0.8M391.2 55.0h0.8M396.8 72.0h0.8M401.7 73.2h0.8M401.1 61.1h0.8M397.5 75.0h0.8M397.2 56.5h0.8M400.6 74.2h0.8M393.0 73.8h0.8M406.2 65.0h0.8M401.2 62.6h0.8M407.8 75.4h0.8M399.4 70.7h0.8M401.3 71.2h0.8M399.8 57.4h0.8M392.7 81.6h0.8M393.4 60.0h0.8M397.4 56.3h0.8M393.0 69.9h0.8M391.6 70.1h0.8M395.6 60.7h0.8M387.4 72.3h0.8M389.2 65.7h0.8M388.7 62.2h0.8M384.2 59.8h0.8M388.4 66.0h0.8M389.5 75.2h0.8M403.7 71.8h0.8M407.9 76.8h0.8M407.2 66.2h0.8M394.7 67.2h0.8M407.5 57.9h0.8M398.6 66.1h0.8M392.0 62.9h0.8M384.8 70.1h0.8M382.1 75.3h0.8M398.7 60.7h0.8M385.7 73.2h0.8M410.1 66.1h0.8M397.7 75.5h0.8M402.1 59.6h0.8M388.3 61.7h0.8M403.3 72.6h0.8M381.1 66.8h0.8M390.3 69.1h0.8M393.4 74.5h0.8M394.3 79.9h0.8M396.1 74.1h0.8M406.1 65.5h0.8M388.6 60.3h0.8M397.1 68.2h0.8M390.9 64.1h0.8M386.5 66.0h0.8M385.4 81.7h0.8M397.0 66.9h0.8M396.9 71.6h0.8M388.4 81.3h0.8M402.4 72.4h0.8M384.8 63.9h0.8M388.6 59.9h0.8M407.2 74.4h0.8M396.8 80.7h0.8M392.1 77.8h0.8M401.5 64.4h0.8M396.1 59.8h0.8M388.2 63.0h0.8M405.5 61.3h0.8M384.5 71.8h0.8M391.6 68.4h0.8M385.9 71.8h0.8M402.1 73.1h0.8M397.4 54.7h0.8M396.3 82.9h0.8M382.0 75.4h0.8M384.6 80.6h0.8M404.3 55.9h0.8M397.6 78.8h0.8M400.4 61.4h0.8M386.3 68.1h0.8M402.0 58.1h0.8M397.8 59.6h0.8M398.1 62.4h0.8M404.2 69.3h0.8M394.6 58.5h0.8M384.0 61.1h0.8M392.3 67.1h0.8M387.6 70.1h0.8M391.5 68.0h0.8M394.7 63.4h0.8M385.0 74.0h0.8M393.8 64.7h0.8M395.8 78.4h0.8M405.7 58.7h0.8M397.0 74.5h0.8M390.3 69.2h0.8M406.3 68.4h0.8M387.1 62.2h0.8M390.6 73.0h0.8M401.9 68.9h0.8M397.3 80.5h0.8M403.1 75.0h0.8M398.7 78.9h0.8M391.1 71.4h0.8M397.4 69.4h0.8M401.1 58.0h0.8M394.0 61.2h0.8M392.0 70.9h0.8M406.9 66.6h0.8M406.8 53.8h0.8M388.6 58.5h0.8M393.8 67.2h0.8M393.7 77.7h0.8M400.6 73.8h0.8M401.0 53.2h0.8M388.4 74.3h0.8M385.9 63.6h0.8M402.7 74.6h0.8M397.2 66.6h0.8M389.1 70.7h0.8M398.5 68.6h0.8M384.9 64.8h0.8M390.4 67.7h0.8M402.4 62.8h0.8M382.2 73.4h0.8M409.5 73.9h0.8M392.4 78.5h0.8M395.8 64.0h0.8M394.4 66.1h0.8M389.0 65.8h0.8M387.9 72.0h0.8M408.7 55.4h0.8M396.9 74.3h0.8M399.0 68.3h0.8M389.0 72.6h0.8M391.8 70.6h0.8M407.8 66.1h0.8M390.0 73.4h0.8M393.4 65.0h0.8M399.3 64.9h0.8M392.5 78.3h0.8M400.2 58.2h0.8M390.0 67.4h0.8M393.4 73.7h0.8M396.2 82.6h0.8M388.4 75.8h0.8M398.6 70.5h0.8M390.2 78.4h0.8M408.8 62.7h0.8M388.8 66.2h0.8M397.3 79.9h0.8M386.9 64.4h0.8M385.9 62.5h0.8M394.7 67.7h0.8M382.5 68.1h0.8M402.1 65.1h0.8M393.3 62.3h0.8M398.6 83.2h0.8M404.5 68.6h0.8M391.3 60.3h0.8M402.6 64.4h0.8M403.8 78.4h0.8M386.3 69.8h0.8M397.0 56.4h0.8M388.4 78.3h0.8M384.8 78.5h0.8M399.7 68.8h0.8M395.3 69.0h0.8M405.6 63.6h0.8M400.9 66.9h0.8M402.8 66.9h0.8M389.3 68.1h0.8M400.5 71.5h0.8M391.9 70.6h0.8M389.7 60.8h0.8M406.8 69.8h0.8M396.3 65.6h0.8M386.8 67.6h0.8M395.0 73.4h0.8M385.3 70.3h0.8M393.6 69.8h0.8M397.4 65.5h0.8M405.0 67.0h0.8M399.1 57.5h0.8M391.0 67.6h0.8M390.7 78.0h0.8M395.8 75.0h0.8M407.0 58.5h0.8M391.5 64.0h0.8M391.6 73.9h0.8M390.0 71.2h0.8M395.3 65.4h0.8M391.4 68.0h0.8M399.4 68.9h0.8M381.6 72.1h0.8M396.4 68.0h0.8M405.2 63.2h0.8M390.8 65.2h0.8M380.4 71.5h0.8M402.6 65.9h0.8M390.8 61.1h0.8M401.4 54.9h0.8M392.4 72.8h0.8M385.2 76.8h0.8M401.9 67.6h0.8M396.6 69.5h0.8M396.4 60.9h0.8M402.7 67.1h0.8M395.7 67.2h0.8M402.2 63.6h0.8M383.1 79.7h0.8M401.1 70.6h0.8M397.8 65.2h0.8M396.1 65.5h0.8M396.2 67.8h0.8M386.0 68.8h0.8M398.3 52.7h0.8M403.0 63.2h0.8M399.0 67.0h0.8M391.6 71.8h0.8M390.6 69.8h0.8M394.7 79.5h0.8M402.4 72.9h0.8M392.5 62.2h0.8M391.3 75.3h0.8M394.0 68.9h0.8M392.5 70.2h0.8M400.4 52.0h0.8M400.0 60.4h0.8M401.6 53.6h0.8M396.1 66.8h0.8M401.4 67.0h0.8M385.3 58.3h0.8M397.3 63.5h0.8M397.9 82.3h0.8M387.7 76.2h0.8M385.2 70.0h0.8M407.5 62.4h0.8M405.4 76.0h0.8M389.7 74.3h0.8M402.4 64.4h0.8M403.5 66.5h0.8M398.6 69.3h0.8M393.4 69.8h0.8M392.3 77.2h0.8M392.8 60.3h0.8M395.5 63.9h0.8M393.7 56.3h0.8M410.0 59.7h0.8M386.8 72.6h0.8M400.8 67.0h0.8M395.2 64.2h0.8M403.9 63.3h0.8M397.5 72.8h0.8M405.9 67.7h0.8M392.5 68.1h0.8M395.5 70.0h0.8M387.9 67.2h0.8M394.1 73.5h0.8M389.7 65.5h0.8M387.3 78.1h0.8M399.7 70.8h0.8M398.1 58.1h0.8M394.7 63.8h0.8M396.7 68.3h0.8M396.0 54.2h0.8M393.1 75.1h0.8M394.9 58.4h0.8M409.7 65.9h0.8M392.0 76.2h0.8M401.8 67.7h0.8M389.5 73.8h0.8M391.4 63.2h0.8M390.0 71.0h0.8M398.1 61.6h0.8M395.4 69.3h0.8M396.6 55.3h0.8M398.7 53.3h0.8M389.6 67.9h0.8M392.7 59.4h0.8M386.1 74.1h0.8M392.5 74.2h0.8M392.0 75.6h0.8M399.4 70.6h0.8M391.8 71.2h0.8M407.2 70.8h0.8M407.9 64.8h0.8M400.1 72.6h0.8M390.7 65.7h0.8M402.4 68.4h0.8M398.5 62.4h0.8M395.7 60.8h0.8M401.5 82.2h0.8M401.7 63.1h0.8M400.9 72.8h0.8M395.0 76.9h0.8M396.9 72.1h0.8M394.5 59.8h0.8M381.9 79.2h0.8M398.6 79.9h0.8M388.0 78.7h0.8M406.8 56.5h0.8M398.3 59.7h0.8M399.1 54.2h0.8M397.0 83.9h0.8M395.9 70.4h0.8M403.6 68.3h0.8M397.5 64.7h0.8M391.4 64.0h0.8M397.1 65.4h0.8M404.4 65.5h0.8M398.3 59.4h0.8M404.8 74.9h0.8M399.2 69.3h0.8M388.6 71.5h0.8M400.3 69.6h0.8M403.7 56.2h0.8M385.8 67.9h0.8M399.1 67.1h0.8M387.9 68.2h0.8M383.6 68.6h0.8M391.6 77.6h0.8M390.2 64.6h0.8M400.6 74.3h0.8M394.0 67.0h0.8M392.6 65.0h0.8M406.2 61.0h0.8M390.8 69.5h0.8M401.5 58.6h0.8M394.0 62.1h0.8M394.1 82.5h0.8M389.1 66.5h0.8M388.0 63.2h0.8M400.0 71.5h0.8M387.8 72.4h0.8M398.1 67.5h0.8M381.6 64.3h0.8M388.0 65.2h0.8M389.9 65.2h0.8M398.3 63.1h0.8M398.2 67.8h0.8M399.5 58.2h0.8M400.2 77.9h0.8M393.4 67.0h0.8M391.5 68.3h0.8M396.1 64.3h0.8M403.0 75.6h0.8M406.0 71.2h0.8M406.3 72.2h0.8M398.2 67.6h0.8M395.4 71.8h0.8M404.9 61.0h0.8M400.7 59.2h0.8M400.8 64.4h0.8M399.4 68.1h0.8M393.2 66.6h0.8M391.3 72.1h0.8M385.2 77.4h0.8M391.1 68.6h0.8M394.0 81.7h0.8M403.9 72.3h0.8M396.7 74.4h0.8M398.1 65.2h0.8M397.2 52.9h0.8M399.8 78.5h0.8M404.6 66.6h0.8M399.4 63.0h0.8M398.5 76.4h0.8M401.2 54.8h0.8M401.6 61.9h0.8M391.6 54.7h0.8M400.3 69.4h0.8M385.4 60.2h0.8M390.1 77.8h0.8M403.2 60.1h0.8M392.0 77.0h0.8M384.1 79.8h0.8M398.9 76.5h0.8M398.7 75.6h0.8M391.6 76.8h0.8M396.7 72.4h0.8M398.8 57.4h0.8M403.2 67.1h0.8M404.0 69.8h0.8M396.2 78.1h0.8M386.3 62.1h0.8M406.5 58.8h0.8M391.7 76.3h0.8M406.7 68.2h0.8M399.3 62.1h0.8M396.8 73.3h0.8M406.6 69.5h0.8M393.8 58.6h0.8M400.7 70.0h0.8M405.9 60.8h0.8M401.9 65.6h0.8M393.7 70.5h0.8M402.0 52.6h0.8M396.4 65.6h0.8M390.6 77.9h0.8M397.2 74.9h0.8M389.8 73.6h0.8M386.3 75.3h0.8M403.3 63.6h0.8M399.2 59.9h0.8M390.1 82.0h0.8M401.2 62.2h0.8M394.9 57.4h0.8M390.1 58.8h0.8M396.0 71.9h0.8M397.4 65.4h0.8M396.8 76.1h0.8M387.2 77.5h0.8M405.7 53.6h0.8M405.2 68.9h0.8M387.7 61.7h0.8M394.0 79.1h0.8M404.7 60.4h0.8M392.7 71.3h0.8M397.1 66.5h0.8M396.9 67.5h0.8M387.4 71.4h0.8M386.0 75.6h0.8M392.0 62.5h0.8M394.1 62.4h0.8M393.5 71.8h0.8M406.5 66.3h0.8M390.2 72.4h0.8M395.3 57.9h0.8M392.9 76.6h0.8M403.8 73.0h0.8M402.5 61.3h0.8M399.5 73.2h0.8M390.5 73.8h0.8M400.6 69.5h0.8M404.7 72.7h0.8M405.5 67.8h0.8M392.8 75.8h0.8M397.7 80.6h0.8M384.6 63.4h0.8M385.1 74.6h0.8M396.8 71.8h0.8M404.4 55.4h0.8M394.3 54.2h0.8M390.8 61.8h0.8M389.0 66.4h0.8M386.3 70.3h0.8M408.4 66.6h0.8M407.9 59.0h0.8M395.0 65.1h0.8M397.1 70.6h0.8M388.5 69.3h0.8M394.9 74.6h0.8M399.5 68.5h0.8M396.8 66.9h0.8M397.0 66.6h0.8M395.0 66.2h0.8M395.4 59.0h0.8M405.3 75.0h0.8M383.4 80.1h0.8M396.0 58.8h0.8M397.2 71.2h0.8M398.9 70.0h0.8M386.3 79.3h0.8M397.9 56.9h0.8M391.9 70.2h0.8M401.3 63.0h0.8M394.6 75.5h0.8M396.7 68.3h0.8M389.7 65.8h0.8M402.2 67.9h0.8M391.2 70.4h0.8M389.6 65.8h0.8M402.7 66.6h0.8M392.5 66.2h0.8M394.9 63.0h0.8M382.7 67.0h0.8M404.1 66.9h0.8M401.9 76.4h0.8M410.5 70.5h0.8M386.2 66.8h0.8M395.4 72.9h0.8M388.8 70.6h0.8M398.8 69.3h0.8M391.0 56.4h0.8M402.9 66.9h0.8M395.8 77.0h0.8M399.8 63.8h0.8M388.8 75.3h0.8M396.1 69.0h0.8M399.3 69.9h0.8M393.0 76.9h0.8M398.1 70.9h0.8M400.0 72.8h0.8M404.8 73.0h0.8M403.9 57.5h0.8M389.7 70.1h0.8M402.3 68.9h0.8M394.4 67.0h0.8M383.0 66.2h0.8M399.9 65.3h0.8M400.9 57.9h0.8M401.7 75.5h0.8M389.7 60.4h0.8M404.4 69.2h0.8M400.6 69.5h0.8M393.0 74.5h0.8M410.6 59.8h0.8M389.5 65.8h0.8M402.7 66.0h0.8M394.4 67.1h0.8M399.0 71.4h0.8M391.3 71.7h0.8M405.5 74.9h0.8M399.1 68.3h0.8M395.5 78.4h0.8M397.2 66.3h0.8M399.7 74.9h0.8M398.6 73.9h0.8M385.9 71.5h0.8M398.5 64.8h0.8M395.9 71.8h0.8M394.0 60.8h0.8M397.8 66.2h0.8M398.0 69.5h0.8M402.2 53.8h0.8M394.1 74.6h0.8M404.4 72.6h0.8M388.3 80.4h0.8M388.1 57.8h0.8M396.1 54.9h0.8M398.0 68.1h0.8M405.5 71.7h0.8M389.6 65.9h0.8M387.9 73.8h0.8M388.2 68.1h0.8M390.0 59.3h0.8M397.0 73.7h0.8M403.1 70.6h0.8M400.3 74.5h0.8M392.6 60.6h0.8M395.8 62.8h0.8M394.2 72.4h0.8M387.1 80.5h0.8M406.5 64.0h0.8M388.6 70.9h0.8M397.0 80.0h0.8M393.4 72.0h0.8M387.1 69.4h0.8M397.0 74.4h0.8M402.0 64.0h0.8M398.3 77.7h0.8M397.0 66.2h0.8M403.3 68.7h0.8M402.7 63.1h0.8M393.2 73.2h0.8M398.6 69.4h0.8M396.6 72.6h0.8M404.8 57.9h0.8M395.7 63.9h0.8M390.5 68.0h0.8M400.4 65.7h0.8M400.0 67.2h0.8M394.3 67.6h0.8M407.0 56.8h0.8M393.5 61.1h0.8M384.9 73.8h0.8M393.8 73.6h0.8M400.8 70.8h0.8M409.0 70.7h0.8M393.8 67.9h0.8M396.9 62.4h0.8M396.3 76.4h0.8M397.9 70.0h0.8M393.2 79.0h0.8M393.5 77.8h0.8M400.4 59.4h0.8M392.6 53.3h0.8M399.3 75.8h0.8M392.0 66.1h0.8M397.9 72.2h0.8M393.6 57.1h0.8M408.7 60.9h0.8M393.4 59.3h0.8M407.3 58.9h0.8M392.5 65.5h0.8M389.1 75.1h0.8M411.0 61.5h0.8M401.8 63.8h0.8M398.1 71.5h0.8M399.2 73.0h0.8M397.8 72.9h0.8M394.7 68.5h0.8M397.5 57.4h0.8M408.5 67.6h0.8M407.4 57.9h0.8M386.7 76.9h0.8M389.3 72.3h0.8M397.9 72.6h0.8M378.7 74.1h0.8M399.4 70.5h0.8M397.7 64.8h0.8M382.6 63.9h0.8M392.2 71.0h0.8M396.1 67.4h0.8M392.9 58.3h0.8M405.5 61.5h0.8M391.6 65.9h0.8M391.1 73.0h0.8M389.3 61.8h0.8M394.1 74.9h0.8M392.0 84.0h0.8M393.8 74.7h0.8M399.9 62.5h0.8M385.9 65.3h0.8M396.5 79.7h0.8M381.3 81.3h0.8M390.2 71.3h0.8M384.6 61.2h0.8M394.0 82.1h0.8M401.5 78.4h0.8M382.8 67.6h0.8M401.9 58.6h0.8M403.1 72.2h0.8M395.6 69.0h0.8M386.0 63.4h0.8M379.0 77.0h0.8M391.0 62.8h0.8M400.9 71.5h0.8M394.0 80.7h0.8M394.0 72.3h0.8M406.9 67.2h0.8M407.8 73.6h0.8M392.9 76.1h0.8M396.8 68.8h0.8M395.8 74.0h0.8M397.5 65.5h0.8M395.2 71.5h0.8M380.4 67.8h0.8M390.3 72.4h0.8M391.6 79.8h0.8M386.7 74.7h0.8M392.9 73.0h0.8M405.9 59.0h0.8M378.6 70.1h0.8M384.5 73.0h0.8M400.7 58.5h0.8M396.3 60.8h0.8M402.1 71.6h0.8M395.0 74.2h0.8M389.3 64.0h0.8M392.0 76.9h0.8M400.9 72.8h0.8M401.5 62.1h0.8M398.2 67.9h0.8M394.0 60.1h0.8M398.8 62.9h0.8M394.2 57.6h0.8M408.2 61.0h0.8M399.0 67.4h0.8M396.0 79.3h0.8M386.5 75.6h0.8M395.9 63.8h0.8M394.2 77.0h0.8M394.3 69.3h0.8M389.6 71.9h0.8M402.4 74.0h0.8M391.9 58.6h0.8M402.0 63.9h0.8M388.2 67.0h0.8M398.0 79.2h0.8M406.6 71.5h0.8M402.5 67.0h0.8M398.9 70.7h0.8M405.2 57.6h0.8M403.0 52.4h0.8M395.5 74.7h0.8M396.9 74.1h0.8M391.3 59.5h0.8M395.0 75.6h0.8M389.7 74.6h0.8M401.7 62.5h0.8M400.1 65.4h0.8M389.1 74.0h0.8M407.2 59.8h0.8M405.4 60.6h0.8M386.3 69.0h0.8M394.3 75.1h0.8M397.4 67.9h0.8M408.9 58.0h0.8M399.0 72.0h0.8M400.5 67.5h0.8M385.6 62.7h0.8M389.0 73.4h0.8M394.4 64.2h0.8M393.1 56.8h0.8M393.8 67.1h0.8M405.5 68.5h0.8M392.7 70.0h0.8M398.9 77.5h0.8M391.7 75.2h0.8M399.9 53.3h0.8M398.4 68.3h0.8M396.3 68.2h0.8M407.8 62.6h0.8M402.8 68.7h0.8M389.1 63.7h0.8M380.6 68.0h0.8M408.3 67.9h0.8M387.2 72.1h0.8M398.7 68.0h0.8M381.2 77.9h0.8M396.2 73.8h0.8M390.4 63.3h0.8M382.3 73.7h0.8M405.9 65.8h0.8M406.7 64.6h0.8M387.9 75.8h0.8M388.6 77.5h0.8M403.9 70.9h0.8M389.5 57.1h0.8M404.3 61.5h0.8M393.5 59.9h0.8M397.8 70.2h0.8M395.2 52.6h0.8M392.1 76.7h0.8M410.0 69.0h0.8M389.1 74.4h0.8M393.3 72.2h0.8M399.7 77.1h0.8M396.5 61.9h0.8M399.7 62.8h0.8M398.7 65.1h0.8M386.1 71.4h0.8M399.4 66.4h0.8M385.3 79.1h0.8M399.9 70.8h0.8M394.6 64.3h0.8M397.4 80.3h0.8M389.1 81.2h0.8M406.1 65.3h0.8M382.9 73.5h0.8M383.7 65.9h0.8M396.6 64.7h0.8M392.1 75.6h0.8M392.1 82.9h0.8M386.0 68.6h0.8M390.0 69.8h0.8M404.0 59.2h0.8M399.0 59.0h0.8M398.8 70.2h0.8M398.9 65.0h0.8M410.3 65.3h0.8M400.2 78.0h0.8M397.2 73.5h0.8M395.2 64.9h0.8M387.4 65.8h0.8M399.8 55.9h0.8M400.7 68.8h0.8M393.8 58.1h0.8M383.2 76.0h0.8M397.9 64.9h0.8M393.2 84.0h0.8M395.6 59.3h0.8M398.9 82.8h0.8M400.4 73.2h0.8M404.6 70.9h0.8M397.4 62.3h0.8M406.5 70.7h0.8M403.7 70.2h0.8M397.8 67.2h0.8M397.5 76.4h0.8M398.5 71.5h0.8M393.1 69.6h0.8M410.0 67.6h0.8M406.9 71.6h0.8M398.1 63.2h0.8M393.0 68.8h0.8M405.5 67.6h0.8M400.3 61.6h0.8M394.6 71.0h0.8M401.3 73.0h0.8M400.7 61.3h0.8M396.3 75.0h0.8M397.9 70.0h0.8M397.4 71.8h0.8M389.6 78.7h0.8M396.2 74.2h0.8M405.0 63.8h0.8M395.8 76.3h0.8M398.4 70.0h0.8M403.4 59.9h0.8M394.1 69.0h0.8M395.6 64.0h0.8M391.4 71.7h0.8M396.5 76.1h0.8M404.9 60.0h0.8M394.3 71.9h0.8M395.0 70.5h0.8M387.7 78.3h0.8M391.3 72.0h0.8M408.7 61.1h0.8M404.1 64.8h0.8M393.8 75.2h0.8M386.9 71.7h0.8M406.8 54.1h0.8M393.4 69.3h0.8M399.1 57.3h0.8M395.7 76.2h0.8M389.0 74.0h0.8M409.4 68.6h0.8M401.8 54.4h0.8M389.2 62.9h0.8M392.2 68.3h0.8M398.9 58.9h0.8M389.4 63.5h0.8M397.4 73.5h0.8M384.9 80.3h0.8M389.6 63.0h0.8M395.8 53.4h0.8M389.7 74.8h0.8M400.2 64.4h0.8M407.9 66.6h0.8M393.6 62.8h0.8M404.7 79.9h0.8M401.7 57.7h0.8M394.7 79.7h0.8M404.2 75.7h0.8M402.3 76.4h0.8M399.5 71.0h0.8M398.8 68.6h0.8M397.2 71.3h0.8M396.8 64.0h0.8M397.8 77.9h0.8M405.6 67.3h0.8M409.3 64.6h0.8M406.4 55.9h0.8M394.9 72.1h0.8M411.1 62.0h0.8M391.2 54.5h0.8M402.8 73.6h0.8M400.3 69.1h0.8M393.3 58.5h0.8M396.7 66.4h0.8M400.3 79.8h0.8M391.4 73.6h0.8M393.9 70.6h0.8M392.4 75.4h0.8M395.2 75.7h0.8M390.2 63.4h0.8M387.2 76.8h0.8M390.8 71.4h0.8M395.5 70.1h0.8M399.4 64.9h0.8M402.0 63.4h0.8M385.6 73.7h0.8M401.3 68.6h0.8M406.0 79.1h0.8M390.0 62.4h0.8M398.6 69.6h0.8M397.6 64.2h0.8M388.7 65.1h0.8M390.5 108.1h0.8M401.3 95.8h0.8M399.9 86.8h0.8M396.3 83.1h0.8M380.2 93.6h0.8M388.7 86.0h0.8M383.0 80.8h0.8M398.4 102.7h0.8M400.1 91.1h0.8M401.7 89.5h0.8M385.2 104.5h0.8M392.3 85.7h0.8M405.7 107.2h0.8M393.5 89.3h0.8M406.2 100.8h0.8M379.5 99.3h0.8M388.3 105.6h0.8M392.2 81.0h0.8M384.8 79.1h0.8M390.3 87.0h0.8M400.6 101.1h0.8M408.5 94.6h0.8M387.1 92.4h0.8M390.6 83.1h0.8M389.8 84.0h0.8M391.0 101.8h0.8M403.1 82.1h0.8M402.7 85.5h0.8M396.8 76.5h0.8M408.3 97.3h0.8M394.8 87.0h0.8M386.7 76.6h0.8M405.9 96.4h0.8M381.1 87.7h0.8M381.0 99.1h0.8M389.2 99.3h0.8M403.8 85.3h0.8M385.9 84.7h0.8M384.7 87.5h0.8M396.8 101.9h0.8M381.1 100.0h0.8M398.6 100.0h0.8M380.2 100.7h0.8M388.9 103.9h0.8M392.9 101.8h0.8M392.6 83.0h0.8M395.2 90.5h0.8M404.1 100.4h0.8M396.0 99.0h0.8M387.9 88.4h0.8M402.1 105.1h0.8M398.4 102.0h0.8M392.5 89.3h0.8M392.1 102.7h0.8M394.3 94.2h0.8M397.6 89.9h0.8M389.0 83.4h0.8M387.1 102.7h0.8M387.4 102.4h0.8M397.7 86.4h0.8M384.6 97.1h0.8M394.0 104.2h0.8M390.7 94.9h0.8M395.8 110.4h0.8M407.5 94.8h0.8M387.1 99.6h0.8M385.6 95.3h0.8M392.0 86.9h0.8M387.4 87.0h0.8M394.2 108.0h0.8M392.6 87.3h0.8M387.8 90.2h0.8M407.6 105.6h0.8M390.0 93.4h0.8M390.2 105.7h0.8M394.4 92.6h0.8M407.3 87.2h0.8M408.1 92.9h0.8M383.1 98.7h0.8M393.9 101.2h0.8M398.3 105.9h0.8M408.2 96.0h0.8M390.4 99.1h0.8M398.6 93.2h0.8M384.6 99.7h0.8M388.4 99.9h0.8M386.2 104.4h0.8M398.3 94.3h0.8M410.2 92.1h0.8M389.2 79.2h0.8M406.6 97.3h0.8M383.1 101.6h0.8M385.2 107.9h0.8M403.7 80.3h0.8M383.6 95.9h0.8M395.0 110.4h0.8M392.1 88.0h0.8M380.1 95.6h0.8M379.1 100.3h0.8M382.8 88.1h0.8M399.9 89.9h0.8M389.0 95.1h0.8M406.6 101.8h0.8M387.1 88.0h0.8M386.8 89.1h0.8M393.2 93.1h0.8M387.9 106.4h0.8M378.6 97.3h0.8M388.9 101.8h0.8M395.2 94.9h0.8M394.1 79.5h0.8M398.1 90.4h0.8M391.8 103.6h0.8M396.6 79.2h0.8M382.5 91.9h0.8M397.6 80.6h0.8M397.7 108.5h0.8M388.4 81.2h0.8M377.9 92.9h0.8M396.9 94.0h0.8M396.8 87.3h0.8M399.1 89.5h0.8M392.9 100.4h0.8M401.7 97.1h0.8M408.5 97.7h0.8M401.6 93.3h0.8M396.7 102.1h0.8M392.4 94.2h0.8M398.6 89.6h0.8M403.8 104.5h0.8M389.1 109.5h0.8M384.4 98.2h0.8M394.5 93.0h0.8M397.0 87.7h0.8M388.3 80.6h0.8M390.8 83.2h0.8M394.6 94.8h0.8M389.1 80.9h0.8M375.9 94.3h0.8M409.1 95.3h0.8M390.8 87.5h0.8M392.4 94.5h0.8M382.2 98.3h0.8M381.8 94.7h0.8M384.9 94.1h0.8M383.3 109.1h0.8M388.6 84.6h0.8M394.1 93.1h0.8M389.5 97.1h0.8M402.4 101.8h0.8M385.7 96.1h0.8M381.9 100.0h0.8M393.1 105.4h0.8M400.8 102.3h0.8M392.1 85.3h0.8M394.1 101.5h0.8M399.0 85.3h0.8M385.7 101.9h0.8M398.8 93.0h0.8M389.8 92.3h0.8M391.3 100.0h0.8M395.0 99.5h0.8M398.4 78.5h0.8M398.5 95.2h0.8M393.5 86.5h0.8M390.6 91.3h0.8M401.2 94.2h0.8M396.7 102.5h0.8M385.1 88.3h0.8M381.0 81.6h0.8M393.4 79.0h0.8M406.4 102.1h0.8M386.0 101.5h0.8M387.6 98.2h0.8M388.2 94.6h0.8M395.6 86.9h0.8M392.1 90.7h0.8M396.3 100.9h0.8M379.7 85.3h0.8M399.9 106.3h0.8M392.5 83.4h0.8M387.5 103.3h0.8M399.3 95.1h0.8M391.4 94.1h0.8M385.4 95.0h0.8M384.7 90.2h0.8M396.5 86.2h0.8M398.1 84.9h0.8M388.4 104.3h0.8M383.3 95.6h0.8M395.6 102.5h0.8M388.5 103.1h0.8M387.4 104.7h0.8M383.2 109.8h0.8M385.6 90.4h0.8M392.6 97.0h0.8M383.8 103.3h0.8M396.6 103.9h0.8M381.8 95.9h0.8M393.5 86.8h0.8M400.3 98.3h0.8M407.4 89.8h0.8M400.1 107.1h0.8M409.2 98.0h0.8M409.8 91.5h0.8M398.3 78.7h0.8M401.8 94.6h0.8M406.7 107.3h0.8M383.3 90.5h0.8M393.8 93.6h0.8M382.6 87.4h0.8M381.4 107.1h0.8M379.0 83.5h0.8M401.7 99.2h0.8M385.7 94.4h0.8M390.6 103.8h0.8M376.9 100.7h0.8M403.2 105.6h0.8M374.5 93.8h0.8M390.8 97.0h0.8M408.5 89.0h0.8M393.4 103.5h0.8M397.5 108.4h0.8M382.8 82.9h0.8M396.7 99.9h0.8M400.8 95.3h0.8M390.1 99.0h0.8M401.7 106.9h0.8M392.6 100.0h0.8M400.8 82.5h0.8M398.5 88.1h0.8M389.9 75.2h0.8M387.0 110.8h0.8M397.1 90.6h0.8M384.3 100.2h0.8M394.9 76.2h0.8M392.6 94.3h0.8M389.8 105.4h0.8M401.0 91.1h0.8M401.7 108.0h0.8M402.2 102.2h0.8M391.2 100.8h0.8M384.6 106.8h0.8M390.6 79.3h0.8M389.9 98.3h0.8M395.1 95.9h0.8M398.0 88.1h0.8M390.6 83.8h0.8M388.8 91.0h0.8M389.5 96.9h0.8M392.9 80.5h0.8M393.8 101.8h0.8M389.7 106.4h0.8M400.1 89.6h0.8M394.6 106.9h0.8M389.5 87.4h0.8M392.9 96.1h0.8M388.6 92.2h0.8M398.0 103.9h0.8M380.3 105.3h0.8M401.0 96.8h0.8M397.1 96.3h0.8M395.2 100.0h0.8M395.6 99.6h0.8M393.1 91.3h0.8M385.7 106.0h0.8M398.3 91.0h0.8M392.0 83.7h0.8M400.8 92.5h0.8M396.2 96.2h0.8M395.0 101.1h0.8M398.9 94.1h0.8M389.0 96.2h0.8M399.3 83.7h0.8M396.0 89.8h0.8M379.1 98.9h0.8M390.0 87.0h0.8M404.3 82.4h0.8M390.2 96.0h0.8M391.3 96.9h0.8M396.5 88.5h0.8M382.8 93.2h0.8M389.2 105.7h0.8M393.2 106.0h0.8M384.4 97.8h0.8M401.2 102.4h0.8M391.8 91.1h0.8M390.4 90.0h0.8M399.2 91.6h0.8M375.9 89.1h0.8M388.7 90.6h0.8M395.8 90.6h0.8M385.1 91.5h0.8M398.3 94.5h0.8M393.4 107.7h0.8M384.9 89.2h0.8M392.6 98.8h0.8M392.9 77.5h0.8M398.1 92.8h0.8M401.5 103.7h0.8M394.9 67.2h0.8M375.8 71.6h0.8M379.7 65.3h0.8M378.4 71.1h0.8M387.3 62.1h0.8M380.1 68.3h0.8M382.0 71.4h0.8M377.9 73.9h0.8M386.7 60.8h0.8M380.5 60.7h0.8M386.9 61.2h0.8M359.0 61.7h0.8M383.0 66.0h0.8M360.9 68.3h0.8M388.5 67.3h0.8M357.2 65.0h0.8M370.2 67.8h0.8M371.5 68.9h0.8M381.9 62.2h0.8M387.0 63.4h0.8M394.1 65.7h0.8M362.5 65.0h0.8M371.3 70.2h0.8M369.2 68.3h0.8M374.2 62.7h0.8M355.0 61.3h0.8M377.3 69.0h0.8M376.8 69.6h0.8M390.3 69.0h0.8M359.4 66.7h0.8M370.9 62.8h0.8M375.6 66.7h0.8M389.4 70.9h0.8M390.4 66.1h0.8M388.0 73.0h0.8M360.2 62.7h0.8M363.9 70.2h0.8M398.8 64.8h0.8M397.3 67.0h0.8M372.2 64.1h0.8M378.5 71.6h0.8M388.0 67.8h0.8M381.0 66.0h0.8M385.5 72.2h0.8M377.8 62.2h0.8M395.6 64.9h0.8M370.1 61.4h0.8M354.9 64.8h0.8M374.8 72.2h0.8M387.9 65.9h0.8M359.0 60.2h0.8M385.7 72.3h0.8M372.7 59.6h0.8M362.0 64.4h0.8M361.7 69.5h0.8M368.4 68.4h0.8M372.1 60.6h0.8M360.5 71.9h0.8M379.0 66.6h0.8M378.0 67.5h0.8M368.4 68.8h0.8M367.5 65.3h0.8M369.0 67.5h0.8M380.6 60.8h0.8M366.9 74.2h0.8M369.3 64.1h0.8M358.1 64.5h0.8M376.2 65.8h0.8M365.4 70.5h0.8M366.3 69.3h0.8M377.5 66.3h0.8M381.6 63.1h0.8M357.9 60.0h0.8M397.4 65.3h0.8M364.7 57.6h0.8M376.3 67.0h0.8M356.7 67.0h0.8M362.7 72.8h0.8M369.8 67.9h0.8M384.4 64.1h0.8M361.3 62.9h0.8M390.1 66.2h0.8M391.8 63.1h0.8M388.8 62.2h0.8M388.8 66.9h0.8M364.4 64.4h0.8M370.2 65.9h0.8M368.5 63.8h0.8M396.0 64.8h0.8M372.2 72.4h0.8M398.8 63.2h0.8M380.1 63.4h0.8M383.2 58.9h0.8M363.8 67.1h0.8M356.5 62.4h0.8M354.8 65.4h0.8M375.0 71.7h0.8M363.5 70.7h0.8M361.5 69.5h0.8M375.0 70.7h0.8M368.1 66.3h0.8M356.5 60.7h0.8M390.4 64.8h0.8M372.1 64.7h0.8M369.3 62.4h0.8M388.0 61.9h0.8M382.8 72.2h0.8M383.4 59.3h0.8M370.0 71.7h0.8M366.5 61.8h0.8" stroke="#000" stroke-width="0.8" fill="none"/>
<path d="M361.1 84.2h0.7M360.6 88.4h0.7M357.0 83.1h0.7M372.6 79.5h0.7M370.1 90.7h0.7M357.3 86.8h0.7M355.7 83.5h0.7M358.6 81.2h0.7M358.4 77.3h0.7M355.3 83.2h0.7M370.6 82.3h0.7M365.2 85.8h0.7M358.0 83.6h0.7M371.5 92.6h0.7M369.4 80.6h0.7M353.8 90.7h0.7M361.4 82.1h0.7M359.5 91.4h0.7M367.3 74.0h0.7M353.4 83.1h0.7M365.1 86.8h0.7M357.5 85.1h0.7M373.8 80.9h0.7M372.9 88.4h0.7M376.0 90.8h0.7M376.1 107.6h0.7M361.7 110.0h0.7M377.5 103.7h0.7M370.4 105.5h0.7M353.7 97.3h0.7M361.6 107.2h0.7M384.4 104.8h0.7M359.4 95.0h0.7M376.4 95.1h0.7M373.6 103.2h0.7M371.2 105.3h0.7M369.5 102.1h0.7M362.2 102.6h0.7M378.7 100.5h0.7M385.3 100.7h0.7M353.3 95.1h0.7M365.6 106.8h0.7M381.4 95.6h0.7M374.6 94.8h0.7M382.9 106.2h0.7M371.3 101.8h0.7M384.1 107.4h0.7M375.4 105.2h0.7M377.4 104.9h0.7M388.0 105.5h0.7M372.8 106.1h0.7M377.9 99.0h0.7M356.2 110.0h0.7M359.7 101.2h0.7M357.3 108.1h0.7M373.2 110.3h0.7M383.3 97.2h0.7M365.4 106.8h0.7M377.2 99.5h0.7M385.9 105.5h0.7M384.1 105.8h0.7M376.8 111.2h0.7M356.6 94.9h0.7M378.9 107.1h0.7M384.8 103.3h0.7M355.0 99.6h0.7M378.9 96.3h0.7M356.4 111.3h0.7M382.3 99.8h0.7M353.4 96.5h0.7M359.9 105.5h0.7M383.8 96.6h0.7M378.3 110.7h0.7M362.5 96.2h0.7M353.5 108.2h0.7M376.2 101.2h0.7M373.5 105.9h0.7M368.8 105.6h0.7M371.6 111.2h0.7M384.7 108.7h0.7M370.1 100.9h0.7M379.8 103.2h0.7M354.2 100.1h0.7M370.6 97.1h0.7M353.8 102.5h0.7M367.5 106.1h0.7M386.1 96.5h0.7M365.7 100.7h0.7M375.2 96.7h0.7M367.6 109.7h0.7M377.6 107.7h0.7M363.3 94.2h0.7M358.0 110.9h0.7M387.1 109.8h0.7M360.7 106.1h0.7M378.7 107.0h0.7M385.1 107.7h0.7M353.1 110.7h0.7M371.1 110.8h0.7M362.3 99.2h0.7M375.0 100.1h0.7M365.5 99.3h0.7M377.1 99.1h0.7M356.5 109.4h0.7M376.6 105.3h0.7M375.7 104.0h0.7M353.9 101.5h0.7M359.9 102.3h0.7M376.9 102.6h0.7M376.9 105.4h0.7M378.1 108.5h0.7M358.6 97.0h0.7M373.0 100.9h0.7M371.2 100.4h0.7M368.0 102.6h0.7M382.4 96.3h0.7M378.3 97.1h0.7M354.7 96.9h0.7M353.2 106.6h0.7M364.7 95.8h0.7M362.5 95.8h0.7M370.4 107.3h0.7M373.8 102.7h0.7M374.3 110.0h0.7M369.2 111.1h0.7M387.4 106.0h0.7M357.0 105.3h0.7M385.7 103.1h0.7M355.0 104.3h0.7M370.4 102.9h0.7M368.7 102.1h0.7M369.8 106.2h0.7M369.3 110.8h0.7M359.6 110.0h0.7M377.1 107.6h0.7M354.7 97.1h0.7M382.2 109.1h0.7M382.7 110.9h0.7M381.3 94.8h0.7M377.4 111.0h0.7M361.1 98.4h0.7M363.1 103.4h0.7M380.1 97.2h0.7M355.0 95.0h0.7M385.1 97.8h0.7M358.8 104.0h0.7M370.9 102.8h0.7M386.3 106.7h0.7M364.7 105.9h0.7M385.9 104.9h0.7M374.9 96.5h0.7M379.8 105.0h0.7M359.9 110.9h0.7M383.2 101.5h0.7M373.2 108.1h0.7M353.1 94.5h0.7M364.7 100.8h0.7M356.6 96.4h0.7M379.8 109.0h0.7M368.3 97.4h0.7M380.7 106.2h0.7M374.9 101.4h0.7M386.8 98.6h0.7M374.1 107.0h0.7M383.6 107.4h0.7M365.1 98.6h0.7M361.8 110.6h0.7M360.0 109.2h0.7M364.5 95.3h0.7M359.8 106.0h0.7M353.0 100.9h0.7M377.6 94.9h0.7M370.4 94.5h0.7M385.4 104.8h0.7M370.0 94.8h0.7M374.3 98.5h0.7M370.2 109.8h0.7M375.4 97.7h0.7M382.2 94.9h0.7M362.4 101.2h0.7M370.5 100.8h0.7M382.0 101.0h0.7M377.8 107.2h0.7M354.8 94.9h0.7M378.0 100.4h0.7M365.0 101.4h0.7M373.4 102.9h0.7M365.2 96.7h0.7M362.7 98.5h0.7M375.4 102.1h0.7M373.1 97.0h0.7M369.7 104.8h0.7M368.4 99.4h0.7M364.7 102.0h0.7M385.0 96.5h0.7M365.9 108.4h0.7M362.3 107.0h0.7M368.7 94.7h0.7M383.0 98.5h0.7M380.0 107.7h0.7M369.5 103.1h0.7M359.8 96.8h0.7M367.0 105.7h0.7M355.1 104.7h0.7M368.6 104.4h0.7M382.0 106.7h0.7M367.1 95.1h0.7M376.1 96.1h0.7M371.6 111.1h0.7M377.3 100.5h0.7M385.8 102.8h0.7M386.8 97.7h0.7M380.1 100.4h0.7M360.5 103.5h0.7M373.3 108.8h0.7M356.1 107.7h0.7M363.6 109.6h0.7M387.1 107.3h0.7M359.9 109.7h0.7M362.3 104.5h0.7M387.9 94.1h0.7M385.7 97.9h0.7M373.4 97.9h0.7M357.9 102.9h0.7M387.6 102.9h0.7M355.1 96.2h0.7M377.5 109.1h0.7M378.5 100.1h0.7M370.8 95.8h0.7M363.3 99.9h0.7M379.4 99.8h0.7M368.2 108.3h0.7M360.2 109.6h0.7M355.8 104.6h0.7M372.4 110.7h0.7M379.6 106.4h0.7M361.3 103.2h0.7M363.2 99.4h0.7M387.4 103.0h0.7M363.8 98.8h0.7M387.9 104.0h0.7M354.0 95.2h0.7M355.1 95.5h0.7M358.0 96.0h0.7M378.6 96.2h0.7" stroke="#fff" stroke-width="0.7" fill="none"/>
</g>
<rect x="352" y="34.9" width="73.80000000000001" height="77.5" fill="none" stroke="#222" stroke-width="0.8"/>
<rect x="382.5" y="54.5" width="31.30000000000001" height="29.299999999999997" fill="none" stroke="#111" stroke-width="0.8"/>
<text class="sf" x="0" y="0" font-size="8.1" font-weight="bold" text-anchor="middle" transform="translate(390.7,22.1) scale(0.87,1)">Infected/</text>
<text class="sf" x="0" y="0" font-size="8.1" font-weight="bold" text-anchor="middle" transform="translate(390.7,30.6) scale(0.87,1)">672-treated</text>
<text class="sf" x="383.8" y="51.5" font-size="7.7" font-weight="bold">17.2<tspan font-size="10" dx="1.3" dy="0.6">±</tspan><tspan dx="1.3" dy="-0.6">2.82</tspan></text>
<clipPath id="cp4"><rect x="430.5" y="34.9" width="72.0" height="77.5"/></clipPath>
<g clip-path="url(#cp4)">
<ellipse cx="436.5" cy="85" rx="22" ry="9.5" fill="#000" opacity="0.88" filter="url(#bl)"/>
<ellipse cx="440.5" cy="102" rx="18" ry="10" fill="#000" opacity="0.25" filter="url(#bl)"/>
<ellipse cx="471.5" cy="66.5" rx="9" ry="8" fill="#000" opacity="0.4" filter="url(#bl)"/>
<path d="M447.6 79.8h0.8M451.6 88.1h0.8M435.7 78.6h0.8M449.7 93.5h0.8M448.2 88.1h0.8M434.2 90.9h0.8M455.4 70.2h0.8M455.4 85.9h0.8M449.7 91.2h0.8M455.4 88.4h0.8M434.9 94.2h0.8M441.8 105.6h0.8M448.6 90.3h0.8M456.2 88.6h0.8M450.6 77.6h0.8M463.0 81.9h0.8M439.1 74.8h0.8M433.8 88.7h0.8M442.3 98.2h0.8M446.7 95.5h0.8M454.3 93.9h0.8M442.3 82.0h0.8M434.6 80.3h0.8M465.3 87.4h0.8M443.0 78.5h0.8M443.9 81.1h0.8M440.2 77.8h0.8M451.9 79.1h0.8M453.5 78.3h0.8M449.1 90.1h0.8M431.2 88.0h0.8M443.2 100.8h0.8M438.4 81.1h0.8M448.8 90.4h0.8M450.0 89.9h0.8M434.8 78.1h0.8M444.8 80.6h0.8M433.4 93.0h0.8M460.6 93.2h0.8M463.7 85.9h0.8M448.6 81.4h0.8M454.7 81.0h0.8M455.7 84.3h0.8M438.1 101.9h0.8M455.8 93.9h0.8M447.4 100.7h0.8M454.4 89.7h0.8M446.6 90.7h0.8M455.1 88.3h0.8M458.5 85.4h0.8M442.6 89.8h0.8M431.6 96.6h0.8M442.3 85.2h0.8M441.9 78.5h0.8M442.6 92.6h0.8M444.4 80.9h0.8M448.1 99.4h0.8M443.2 84.1h0.8M434.3 79.0h0.8M441.9 92.3h0.8M436.7 91.7h0.8M456.6 90.0h0.8M440.6 85.3h0.8M436.6 99.7h0.8M439.2 92.3h0.8M438.8 70.8h0.8M449.4 91.1h0.8M443.9 78.5h0.8M434.1 95.1h0.8M450.9 104.8h0.8M440.8 81.0h0.8M447.9 78.5h0.8M435.6 83.6h0.8M434.8 90.7h0.8M433.2 92.3h0.8M436.6 89.4h0.8M437.2 95.2h0.8M447.0 78.3h0.8M436.6 79.6h0.8M433.3 75.6h0.8M443.7 89.6h0.8M436.8 87.9h0.8M440.4 83.7h0.8M432.5 83.8h0.8M444.5 74.0h0.8M432.3 77.7h0.8M439.6 75.1h0.8M434.3 82.5h0.8M444.3 73.1h0.8M431.9 87.3h0.8M431.6 80.1h0.8M446.0 97.3h0.8M438.0 93.6h0.8M460.6 105.9h0.8M463.9 79.6h0.8M440.6 90.8h0.8M457.4 87.4h0.8M432.7 85.0h0.8M440.8 84.2h0.8M444.6 78.5h0.8M441.2 84.9h0.8M444.2 87.2h0.8M443.8 90.3h0.8M459.5 91.2h0.8M453.2 81.0h0.8M450.7 83.4h0.8M431.7 84.1h0.8M453.1 83.6h0.8M446.4 88.7h0.8M447.5 98.3h0.8M431.8 94.4h0.8M435.5 90.9h0.8M458.9 83.4h0.8M444.7 98.9h0.8M452.6 72.7h0.8M461.2 75.2h0.8M442.2 74.3h0.8M452.8 93.3h0.8M452.8 85.5h0.8M452.5 91.3h0.8M458.8 78.5h0.8M458.0 77.3h0.8M434.3 91.9h0.8M443.7 88.5h0.8M435.0 93.4h0.8M447.3 95.9h0.8M434.7 85.4h0.8M446.3 89.6h0.8M434.0 79.2h0.8M442.0 86.8h0.8M447.3 90.6h0.8M448.3 96.5h0.8M431.3 96.5h0.8M456.5 88.4h0.8M450.9 64.8h0.8M435.8 87.8h0.8M458.1 95.3h0.8M431.3 69.4h0.8M444.0 80.5h0.8M446.0 83.4h0.8M435.1 81.8h0.8M455.8 81.4h0.8M448.1 96.8h0.8M431.6 98.1h0.8M465.4 83.6h0.8M443.2 84.7h0.8M434.2 78.7h0.8M436.9 97.1h0.8M437.0 88.6h0.8M448.7 84.4h0.8M454.3 77.0h0.8M449.0 80.1h0.8M448.5 89.0h0.8M465.3 94.9h0.8M444.6 89.0h0.8M453.3 80.8h0.8M438.9 86.0h0.8M451.1 86.8h0.8M432.0 86.6h0.8M436.6 77.1h0.8M448.7 91.1h0.8M441.4 89.8h0.8M432.4 92.4h0.8M452.1 96.7h0.8M458.9 88.0h0.8M466.2 88.8h0.8M436.9 84.3h0.8M438.9 95.2h0.8M438.6 81.2h0.8M448.0 94.3h0.8M459.1 93.9h0.8M451.2 79.7h0.8M439.9 85.4h0.8M436.6 81.7h0.8M437.9 85.2h0.8M433.1 88.3h0.8M452.1 81.8h0.8M464.3 85.7h0.8M445.6 91.3h0.8M452.7 82.8h0.8M441.5 80.1h0.8M431.6 88.6h0.8M435.6 85.2h0.8M467.6 86.3h0.8M441.8 76.4h0.8M455.6 70.9h0.8M447.3 85.8h0.8M434.5 86.3h0.8M432.0 82.5h0.8M449.7 83.0h0.8M436.6 74.8h0.8M433.0 90.1h0.8M439.5 69.9h0.8M443.9 85.5h0.8M460.5 99.3h0.8M454.4 88.9h0.8M458.5 83.6h0.8M435.0 81.9h0.8M431.8 89.5h0.8M457.6 91.9h0.8M436.0 96.2h0.8M447.3 93.8h0.8M449.9 88.9h0.8M441.0 95.8h0.8M447.0 85.4h0.8M452.7 82.0h0.8M434.4 87.8h0.8M435.7 70.7h0.8M434.2 86.3h0.8M435.3 84.9h0.8M444.1 68.6h0.8M433.9 79.5h0.8M436.8 75.7h0.8M439.6 92.3h0.8M447.0 80.6h0.8M437.4 84.2h0.8M439.5 88.7h0.8M446.0 72.8h0.8M431.9 81.4h0.8M452.9 87.4h0.8M448.1 79.9h0.8M433.1 82.3h0.8M465.7 75.0h0.8M430.9 88.0h0.8M440.0 86.4h0.8M439.3 77.5h0.8M447.9 92.3h0.8M433.1 84.3h0.8M435.2 90.6h0.8M435.5 78.6h0.8M457.1 81.5h0.8M443.5 93.0h0.8M438.7 82.2h0.8M435.1 89.8h0.8M462.5 91.8h0.8M460.4 87.7h0.8M434.2 77.1h0.8M435.3 95.9h0.8M443.8 89.4h0.8M432.3 84.2h0.8M432.2 95.0h0.8M453.6 92.4h0.8M450.7 71.7h0.8M432.5 82.0h0.8M452.3 97.4h0.8M437.8 105.9h0.8M434.2 80.1h0.8M440.6 91.5h0.8M448.5 82.1h0.8M445.4 83.6h0.8M441.6 82.1h0.8M450.5 81.0h0.8M436.4 85.1h0.8M456.3 77.1h0.8M441.5 90.1h0.8M447.4 75.0h0.8M434.7 87.7h0.8M449.0 80.5h0.8M445.4 79.5h0.8M444.1 80.3h0.8M450.6 79.4h0.8M455.8 85.7h0.8M434.4 74.6h0.8M445.2 89.5h0.8M452.3 94.4h0.8M438.6 89.4h0.8M432.2 96.0h0.8M444.8 87.4h0.8M446.6 85.5h0.8M459.8 86.8h0.8M452.5 82.4h0.8M445.3 90.7h0.8M456.3 90.6h0.8M433.0 82.5h0.8M432.8 75.2h0.8M435.3 99.1h0.8M438.3 82.5h0.8M443.5 91.4h0.8M448.1 94.2h0.8M462.8 80.1h0.8M448.6 100.3h0.8M431.9 79.3h0.8M453.9 75.8h0.8M436.3 74.3h0.8M443.3 94.0h0.8M456.2 86.0h0.8M448.6 89.3h0.8M450.0 90.4h0.8M431.9 92.3h0.8M436.8 80.5h0.8M438.8 87.7h0.8M440.1 97.3h0.8M450.6 84.3h0.8M460.4 71.9h0.8M440.4 81.1h0.8M448.7 84.4h0.8M445.7 86.1h0.8M442.9 85.4h0.8M435.3 97.6h0.8M432.4 96.1h0.8M445.0 93.3h0.8M431.1 91.5h0.8M442.2 85.9h0.8M454.6 96.0h0.8M437.0 83.8h0.8M431.8 82.6h0.8M443.1 86.2h0.8M449.9 89.7h0.8M436.9 75.3h0.8M435.1 80.7h0.8M443.9 90.8h0.8M433.5 78.3h0.8M442.9 93.9h0.8M431.8 92.0h0.8M451.0 87.7h0.8M446.6 73.1h0.8M438.0 86.1h0.8M432.1 69.5h0.8M449.1 81.5h0.8M443.6 81.8h0.8M444.8 84.9h0.8M435.0 84.6h0.8M431.3 75.2h0.8M440.6 87.3h0.8M444.6 73.1h0.8M430.9 82.3h0.8M445.7 94.9h0.8M433.1 75.2h0.8M449.9 90.8h0.8M435.7 90.6h0.8M439.7 74.7h0.8M450.8 93.9h0.8M441.9 91.0h0.8M434.8 96.3h0.8M439.2 76.0h0.8M453.5 82.7h0.8M445.1 95.9h0.8M435.6 94.2h0.8M438.2 81.5h0.8M464.2 90.2h0.8M432.5 92.2h0.8M457.7 74.6h0.8M460.8 83.1h0.8M459.7 77.0h0.8M433.2 80.9h0.8M437.4 77.7h0.8M432.0 89.7h0.8M447.2 75.1h0.8M433.1 81.5h0.8M431.9 97.8h0.8M431.0 86.6h0.8M435.5 84.3h0.8M434.2 83.4h0.8M442.7 84.8h0.8M445.5 84.4h0.8M443.1 84.4h0.8M431.8 81.6h0.8M456.8 85.9h0.8M458.4 86.6h0.8M435.5 77.7h0.8M448.2 85.4h0.8M451.9 98.6h0.8M454.7 90.0h0.8M432.6 101.0h0.8M452.6 83.5h0.8M439.9 95.2h0.8M444.0 82.5h0.8M436.4 76.8h0.8M435.3 76.8h0.8M435.9 80.8h0.8M447.5 73.1h0.8M438.4 96.1h0.8M435.7 87.0h0.8M459.0 89.8h0.8M444.6 96.4h0.8M435.2 87.2h0.8M446.0 82.0h0.8M449.2 86.7h0.8M462.9 86.2h0.8M447.0 77.4h0.8M433.1 87.1h0.8M456.6 86.6h0.8M451.0 81.1h0.8M457.8 84.7h0.8M454.8 80.4h0.8M445.8 85.3h0.8M443.0 91.9h0.8M442.3 99.0h0.8M449.8 89.1h0.8M453.2 74.6h0.8M451.3 69.0h0.8M445.5 86.8h0.8M441.9 82.3h0.8M453.9 83.4h0.8M466.3 97.8h0.8M443.6 102.2h0.8M444.3 76.0h0.8M443.3 87.2h0.8M434.2 96.8h0.8M466.7 88.5h0.8M448.0 93.9h0.8M445.5 84.4h0.8M435.2 71.9h0.8M451.2 76.3h0.8M456.9 73.2h0.8M444.1 89.1h0.8M445.5 78.5h0.8M451.4 87.8h0.8M434.6 75.4h0.8M432.8 88.9h0.8M438.1 106.1h0.8M464.0 81.5h0.8M435.9 88.6h0.8M440.1 83.5h0.8M458.7 97.0h0.8M448.6 96.9h0.8M456.6 81.8h0.8M442.5 78.6h0.8M444.6 76.0h0.8M431.4 96.8h0.8M445.2 95.4h0.8M452.9 89.1h0.8M465.2 82.1h0.8M431.9 91.1h0.8M439.2 86.7h0.8M454.0 91.0h0.8M442.4 82.8h0.8M434.3 84.5h0.8M439.9 84.1h0.8M443.5 74.5h0.8M441.7 82.4h0.8M456.0 75.5h0.8M461.3 79.5h0.8M451.1 102.4h0.8M442.7 78.8h0.8M431.1 89.3h0.8M432.3 93.7h0.8M436.8 85.3h0.8M433.6 87.2h0.8M436.9 93.6h0.8M455.3 82.7h0.8M437.8 78.5h0.8M433.9 94.1h0.8M465.3 81.6h0.8M437.3 79.0h0.8M438.8 87.0h0.8M445.5 90.7h0.8M447.3 73.6h0.8M434.0 84.9h0.8M451.6 80.6h0.8M446.4 66.7h0.8M451.6 91.5h0.8M441.4 89.6h0.8M447.5 76.1h0.8M449.6 89.0h0.8M460.2 92.3h0.8M432.9 89.5h0.8M463.0 74.8h0.8M449.2 100.0h0.8M458.2 90.0h0.8M432.5 76.2h0.8M460.3 80.4h0.8M442.4 84.4h0.8M437.7 86.4h0.8M450.7 76.9h0.8M432.4 81.7h0.8M447.0 78.6h0.8M442.8 90.3h0.8M437.2 100.4h0.8M443.9 79.3h0.8M433.7 84.4h0.8M445.0 82.9h0.8M462.6 80.7h0.8M435.1 83.7h0.8M435.0 90.1h0.8M438.5 79.9h0.8M450.8 95.2h0.8M439.4 84.6h0.8M441.3 96.2h0.8M439.2 78.4h0.8M434.4 71.8h0.8M436.5 74.2h0.8M445.5 89.5h0.8M446.3 83.2h0.8M441.8 97.8h0.8M445.5 82.9h0.8M451.4 78.6h0.8M432.0 90.6h0.8M434.8 86.5h0.8M432.0 82.8h0.8M451.2 72.4h0.8M440.6 91.2h0.8M434.8 86.3h0.8M445.4 94.6h0.8M432.3 75.5h0.8M462.1 90.2h0.8M434.9 79.9h0.8M457.4 89.0h0.8M441.1 84.5h0.8M434.9 85.1h0.8M434.0 85.2h0.8M449.2 80.6h0.8M455.4 82.2h0.8M443.0 96.8h0.8M451.1 99.3h0.8M433.4 86.5h0.8M453.8 100.0h0.8M448.0 67.7h0.8M441.2 87.3h0.8M435.4 91.0h0.8M434.1 85.9h0.8M436.1 85.5h0.8M434.5 92.9h0.8M463.3 69.2h0.8M457.8 90.8h0.8M452.7 82.3h0.8M444.8 88.0h0.8M451.4 88.2h0.8M438.4 83.5h0.8M433.4 89.0h0.8M434.2 84.5h0.8M450.4 79.4h0.8M458.8 85.2h0.8M431.6 89.9h0.8M447.0 81.4h0.8M455.8 86.6h0.8M454.4 94.4h0.8M433.4 88.4h0.8M438.8 84.5h0.8M437.0 83.2h0.8M436.8 87.4h0.8M463.5 74.3h0.8M454.2 81.7h0.8M445.2 81.6h0.8M437.6 91.5h0.8M431.3 97.7h0.8M457.4 91.7h0.8M439.6 90.2h0.8M432.2 89.9h0.8M460.2 82.9h0.8M437.1 85.3h0.8M439.4 74.9h0.8M432.5 89.0h0.8M433.1 93.6h0.8M456.6 76.0h0.8M443.2 81.6h0.8M465.1 77.5h0.8M436.3 84.7h0.8M438.4 86.8h0.8M431.2 77.5h0.8M447.2 88.0h0.8M435.2 89.0h0.8M438.4 81.8h0.8M432.7 78.5h0.8M438.7 90.0h0.8M444.7 92.7h0.8M433.3 78.4h0.8M467.7 88.1h0.8M462.0 73.5h0.8M440.2 79.9h0.8M438.6 83.5h0.8M443.5 86.7h0.8M440.6 84.1h0.8M432.2 98.4h0.8M433.5 94.9h0.8M442.3 93.5h0.8M443.6 90.5h0.8M436.6 87.8h0.8M434.3 89.6h0.8M448.2 97.5h0.8M455.9 80.2h0.8M436.1 92.8h0.8M452.2 80.9h0.8M439.1 91.5h0.8M434.7 96.5h0.8M457.3 77.2h0.8M432.3 93.2h0.8M454.8 88.6h0.8M459.8 83.2h0.8M449.1 82.1h0.8M459.7 94.2h0.8M446.8 84.3h0.8M447.4 95.2h0.8M434.9 74.0h0.8M454.2 88.1h0.8M442.7 79.8h0.8M446.5 93.2h0.8M462.5 85.5h0.8M438.8 93.6h0.8M440.2 93.3h0.8M445.1 88.4h0.8M434.8 88.9h0.8M441.7 79.1h0.8M454.9 75.9h0.8M442.2 96.9h0.8M441.7 74.4h0.8M432.1 79.0h0.8M435.6 90.9h0.8M451.4 80.3h0.8M457.4 80.8h0.8M431.7 84.2h0.8M439.5 86.3h0.8M435.6 100.3h0.8M449.7 83.4h0.8M459.9 92.1h0.8M466.0 88.4h0.8M432.4 80.9h0.8M443.7 83.7h0.8M449.7 90.8h0.8M443.3 86.0h0.8M437.7 84.1h0.8M431.0 92.1h0.8M439.1 91.8h0.8M435.4 78.8h0.8M434.4 81.8h0.8M443.2 96.4h0.8M458.2 83.0h0.8M455.5 78.4h0.8M455.1 86.6h0.8M437.5 78.4h0.8M438.3 96.7h0.8M443.3 92.8h0.8M449.6 84.6h0.8M445.2 77.2h0.8M444.9 81.8h0.8M452.5 75.1h0.8M459.1 93.5h0.8M453.3 104.7h0.8M435.4 90.0h0.8M443.3 94.8h0.8M438.9 75.2h0.8M436.3 96.9h0.8M456.1 84.6h0.8M446.4 96.5h0.8M440.3 94.5h0.8M436.7 74.6h0.8M465.5 80.8h0.8M432.9 76.5h0.8M432.3 91.6h0.8M433.5 97.5h0.8M445.6 79.0h0.8M440.9 74.9h0.8M445.4 86.3h0.8M446.9 79.4h0.8M434.9 82.1h0.8M434.5 97.1h0.8M439.5 92.0h0.8M445.3 97.7h0.8M443.5 86.5h0.8M448.9 94.1h0.8M443.7 83.6h0.8M443.5 82.9h0.8M436.0 92.0h0.8M449.8 85.6h0.8M441.0 81.6h0.8M432.7 90.4h0.8M462.9 82.2h0.8M440.7 77.8h0.8M437.4 84.3h0.8M454.0 77.0h0.8M446.3 90.3h0.8M430.9 85.9h0.8M442.5 80.2h0.8M432.9 80.4h0.8M433.9 79.9h0.8M433.3 94.8h0.8M440.6 79.9h0.8M449.6 83.3h0.8M438.5 94.2h0.8M443.5 93.0h0.8M433.1 82.4h0.8M441.0 97.6h0.8M434.6 88.4h0.8M448.7 93.2h0.8M439.5 93.4h0.8M433.3 91.2h0.8M439.0 91.2h0.8M451.1 89.1h0.8M432.2 86.9h0.8M445.9 80.6h0.8M467.6 87.2h0.8M437.3 77.3h0.8M457.2 87.3h0.8M455.8 92.6h0.8M460.4 81.6h0.8M441.1 79.3h0.8M451.4 89.9h0.8M461.7 92.2h0.8M452.2 74.1h0.8M440.6 89.5h0.8M435.3 89.3h0.8M434.8 87.8h0.8M442.7 80.8h0.8M447.6 76.5h0.8M435.1 92.3h0.8M438.2 94.5h0.8M447.6 83.0h0.8M444.4 79.8h0.8M448.7 88.4h0.8M446.9 91.2h0.8M445.7 73.8h0.8M431.2 88.4h0.8M446.6 87.5h0.8M451.9 90.7h0.8M438.8 76.4h0.8M443.3 93.3h0.8M439.0 81.6h0.8M447.1 83.1h0.8M450.7 90.1h0.8M439.7 86.2h0.8M453.5 89.3h0.8M454.6 82.9h0.8M437.3 85.8h0.8M433.7 100.9h0.8M431.5 83.1h0.8M468.0 87.9h0.8M431.0 83.4h0.8M441.5 94.9h0.8M440.4 79.5h0.8M436.4 86.9h0.8M435.0 90.8h0.8M439.6 98.5h0.8M449.4 88.1h0.8M443.9 85.0h0.8M433.9 90.6h0.8M439.3 104.0h0.8M439.4 93.4h0.8M431.5 86.7h0.8M439.7 79.6h0.8M442.6 74.9h0.8M446.1 78.3h0.8M450.7 78.6h0.8M462.9 84.4h0.8M445.9 85.2h0.8M457.4 82.8h0.8M456.5 94.7h0.8M433.6 88.6h0.8M460.2 83.1h0.8M438.6 80.2h0.8M444.7 85.1h0.8M431.0 86.2h0.8M441.7 89.8h0.8M451.7 90.9h0.8M462.0 81.3h0.8M435.4 85.1h0.8M457.1 84.5h0.8M446.7 95.3h0.8M464.2 76.0h0.8M439.2 81.9h0.8M431.2 89.6h0.8M459.3 89.1h0.8M458.6 94.1h0.8M459.8 89.0h0.8M434.4 89.9h0.8M450.5 88.2h0.8M450.8 79.3h0.8M452.4 73.0h0.8M431.8 98.6h0.8M459.3 85.6h0.8M437.4 91.7h0.8M433.3 87.2h0.8M438.3 95.9h0.8M446.1 80.7h0.8M455.8 89.4h0.8M442.7 84.9h0.8M449.9 81.9h0.8M449.5 89.9h0.8M461.3 86.9h0.8M462.8 86.2h0.8M443.9 74.1h0.8M440.8 86.7h0.8M445.1 83.4h0.8M431.6 77.7h0.8M461.5 93.7h0.8M462.1 71.3h0.8M452.9 88.7h0.8M443.2 74.1h0.8M453.1 97.3h0.8M450.9 80.5h0.8M442.5 103.6h0.8M447.9 87.4h0.8M436.0 84.5h0.8M460.0 76.5h0.8M450.3 91.6h0.8M434.0 88.2h0.8M440.0 83.8h0.8M439.6 85.5h0.8M450.0 85.9h0.8M451.3 94.2h0.8M445.6 90.0h0.8M444.8 92.1h0.8M437.6 76.8h0.8M448.9 75.5h0.8M449.8 93.6h0.8M445.0 97.1h0.8M468.4 77.1h0.8M465.2 81.8h0.8M435.4 99.6h0.8M433.8 89.3h0.8M455.7 83.6h0.8M439.0 88.1h0.8M447.9 90.4h0.8M454.4 103.3h0.8M459.0 78.2h0.8M448.9 66.6h0.8M452.0 86.4h0.8M443.0 96.0h0.8M466.2 87.6h0.8M446.9 80.1h0.8M463.1 88.4h0.8M465.6 80.8h0.8M446.3 85.1h0.8M454.7 93.5h0.8M454.0 94.3h0.8M438.3 82.3h0.8M433.7 72.6h0.8M433.5 92.4h0.8M461.3 81.6h0.8M449.6 99.2h0.8M453.5 78.2h0.8M437.6 89.7h0.8M456.0 86.4h0.8M459.5 74.2h0.8M457.4 96.4h0.8M460.8 79.3h0.8M434.9 84.9h0.8M440.9 80.3h0.8M431.0 80.2h0.8M440.1 86.5h0.8M444.6 89.8h0.8M438.4 82.9h0.8M433.1 75.3h0.8M432.0 86.7h0.8M444.1 89.5h0.8M447.1 89.3h0.8M459.6 88.1h0.8M451.4 90.2h0.8M461.7 96.8h0.8M436.6 91.5h0.8M454.9 72.0h0.8M447.4 81.7h0.8M446.2 89.4h0.8M439.6 88.9h0.8M440.4 91.0h0.8M467.7 82.9h0.8M451.6 79.2h0.8M438.6 87.9h0.8M448.6 98.9h0.8M453.5 76.9h0.8M437.0 92.6h0.8M439.7 107.1h0.8M443.4 86.6h0.8M449.2 84.0h0.8M453.1 79.2h0.8M452.3 96.8h0.8M459.9 92.9h0.8M449.4 77.2h0.8M437.7 78.3h0.8M431.5 89.3h0.8M457.9 77.1h0.8M442.5 76.9h0.8M438.4 83.3h0.8M432.0 90.9h0.8M448.4 85.7h0.8M441.1 79.3h0.8M449.2 98.3h0.8M437.9 93.1h0.8M455.2 97.1h0.8M465.8 66.0h0.8M460.0 83.5h0.8M450.4 88.4h0.8M453.8 87.7h0.8M438.1 91.3h0.8M433.5 81.3h0.8M445.6 80.2h0.8M434.3 84.0h0.8M434.2 75.7h0.8M450.5 97.9h0.8M442.0 104.9h0.8M450.7 85.8h0.8M440.4 78.1h0.8M448.5 83.8h0.8M464.9 95.0h0.8M433.2 90.5h0.8M435.1 74.8h0.8M446.3 98.4h0.8M444.1 91.6h0.8M435.1 74.4h0.8M444.4 84.2h0.8M451.2 79.6h0.8M443.5 80.1h0.8M442.6 83.6h0.8M466.8 90.0h0.8M445.3 72.8h0.8M452.5 91.1h0.8M443.3 88.7h0.8M450.0 100.9h0.8M440.7 75.9h0.8M461.4 92.0h0.8M446.4 93.9h0.8M439.7 87.6h0.8M439.0 80.3h0.8M437.3 84.0h0.8M439.9 88.6h0.8M458.7 67.1h0.8M435.1 76.6h0.8M457.0 80.0h0.8M440.2 87.0h0.8M439.2 84.0h0.8M447.1 87.0h0.8M434.5 85.4h0.8M446.7 90.8h0.8M456.1 88.8h0.8M433.5 81.3h0.8M462.4 80.5h0.8M445.5 92.9h0.8M434.9 95.4h0.8M450.4 92.4h0.8M434.3 92.0h0.8M454.9 85.8h0.8M432.1 82.4h0.8M446.1 84.0h0.8M461.5 85.4h0.8M453.5 87.1h0.8M463.6 82.6h0.8M453.0 85.8h0.8M440.0 83.4h0.8M434.1 94.7h0.8M455.6 86.3h0.8M439.1 78.9h0.8M467.2 84.7h0.8M445.3 97.9h0.8M458.4 87.5h0.8M444.6 93.6h0.8M438.3 89.3h0.8M459.7 84.6h0.8M451.6 73.6h0.8M459.8 87.9h0.8M453.3 86.1h0.8M442.3 76.6h0.8M432.4 100.9h0.8M447.4 90.3h0.8M467.5 80.8h0.8M435.9 89.9h0.8M432.7 86.6h0.8M435.9 79.7h0.8M444.8 90.7h0.8M444.5 100.1h0.8M446.1 88.8h0.8M431.7 94.2h0.8M465.0 78.1h0.8M439.8 89.9h0.8M439.5 92.6h0.8M432.9 77.7h0.8M442.6 93.6h0.8M444.2 92.6h0.8M443.3 81.2h0.8M449.0 86.3h0.8M445.3 87.3h0.8M445.2 79.6h0.8M434.3 81.9h0.8M437.2 88.1h0.8M437.5 81.9h0.8M455.6 83.2h0.8M433.7 102.5h0.8M432.8 79.0h0.8M458.3 87.8h0.8M437.6 74.7h0.8M463.0 94.4h0.8M432.4 93.3h0.8M443.6 84.3h0.8M440.1 93.9h0.8M463.8 81.0h0.8M453.9 89.7h0.8M464.7 81.0h0.8M445.3 86.6h0.8M435.3 75.4h0.8M449.7 84.5h0.8M450.7 90.9h0.8M458.1 68.0h0.8M450.6 89.0h0.8M441.3 75.3h0.8M441.7 90.3h0.8M450.6 80.3h0.8M466.4 86.1h0.8M441.4 75.1h0.8M444.4 86.2h0.8M463.7 74.2h0.8M463.8 83.5h0.8M431.0 94.3h0.8M452.4 104.8h0.8M464.9 85.9h0.8M437.9 91.8h0.8M438.4 88.0h0.8M442.5 100.4h0.8M434.7 93.4h0.8M449.2 81.4h0.8M454.7 84.4h0.8M453.9 80.5h0.8M434.0 86.5h0.8M433.5 79.2h0.8M436.0 87.3h0.8M442.5 89.1h0.8M450.0 84.2h0.8M456.4 88.1h0.8M431.1 89.8h0.8M452.9 87.6h0.8M438.3 82.4h0.8M434.5 87.3h0.8M443.1 81.8h0.8M443.6 79.3h0.8M446.3 88.2h0.8M466.5 84.6h0.8M444.9 95.0h0.8M448.7 80.5h0.8M444.8 97.6h0.8M449.6 87.9h0.8M452.4 78.9h0.8M441.7 77.3h0.8M445.0 88.1h0.8M447.4 82.0h0.8M440.8 86.7h0.8M432.0 82.2h0.8M439.0 95.3h0.8M443.7 82.1h0.8M434.7 85.8h0.8M451.8 91.1h0.8M461.0 89.9h0.8M435.3 89.5h0.8M452.9 81.5h0.8M455.9 96.8h0.8M432.3 84.3h0.8M445.1 88.8h0.8M454.7 79.6h0.8M435.5 87.3h0.8M452.9 74.1h0.8M447.8 94.9h0.8M440.9 83.8h0.8M431.4 79.9h0.8M449.1 81.1h0.8M435.6 85.4h0.8M450.1 84.1h0.8M462.6 85.6h0.8M444.0 83.2h0.8M452.8 81.2h0.8M446.2 103.4h0.8M436.2 80.9h0.8M448.8 72.9h0.8M464.8 88.9h0.8M431.3 80.4h0.8M438.7 73.8h0.8M432.1 87.5h0.8M440.1 82.6h0.8M444.6 95.4h0.8M433.4 91.3h0.8M450.2 87.4h0.8M438.5 81.5h0.8M441.2 91.8h0.8M431.5 92.0h0.8M432.9 88.6h0.8M437.6 85.7h0.8M462.2 77.7h0.8M444.4 81.7h0.8M433.5 91.6h0.8M460.9 81.8h0.8M436.8 87.3h0.8M461.5 74.5h0.8M431.9 81.4h0.8M441.5 98.0h0.8M454.4 97.3h0.8M454.8 79.8h0.8M448.9 76.1h0.8M441.8 78.1h0.8M431.5 78.0h0.8M459.7 92.6h0.8M456.2 95.6h0.8M457.0 82.7h0.8M436.8 76.8h0.8M459.8 80.5h0.8M440.6 92.2h0.8M450.5 71.9h0.8M439.7 78.3h0.8M447.5 80.6h0.8M452.3 91.2h0.8M437.2 83.2h0.8M440.4 96.7h0.8M439.2 75.4h0.8M444.7 84.2h0.8M438.0 98.8h0.8M441.8 81.9h0.8M441.2 69.8h0.8M437.7 77.4h0.8M443.0 89.3h0.8M434.4 74.2h0.8M452.5 99.0h0.8M441.6 80.3h0.8M438.3 83.9h0.8M440.6 94.2h0.8M440.7 96.9h0.8M458.0 77.8h0.8M431.4 90.1h0.8M437.6 92.6h0.8M456.8 73.4h0.8M449.6 71.3h0.8M459.6 79.3h0.8M435.1 87.2h0.8M460.6 80.4h0.8M437.8 94.5h0.8M457.7 104.3h0.8M435.1 83.8h0.8M439.0 84.0h0.8M454.1 89.4h0.8M435.8 80.0h0.8M438.9 75.8h0.8M467.2 85.5h0.8M438.7 89.7h0.8M445.4 91.0h0.8M440.4 81.7h0.8M453.3 88.4h0.8M454.9 95.3h0.8M446.5 88.9h0.8M462.5 82.0h0.8M455.9 82.6h0.8M467.4 71.1h0.8M435.4 86.9h0.8M437.1 91.6h0.8M455.7 82.1h0.8M452.4 86.4h0.8M435.1 87.6h0.8M468.4 73.3h0.8M439.6 81.5h0.8M448.5 87.8h0.8M431.9 83.3h0.8M466.5 92.6h0.8M443.9 82.1h0.8M443.3 82.2h0.8M439.4 79.3h0.8M433.1 79.1h0.8M451.0 84.0h0.8M440.9 96.7h0.8M436.7 95.8h0.8M445.1 85.7h0.8M433.0 80.7h0.8M462.4 85.9h0.8M442.8 82.9h0.8M437.4 77.7h0.8M432.4 90.6h0.8M438.0 87.7h0.8M448.2 81.4h0.8M459.9 85.6h0.8M443.3 91.3h0.8M438.4 79.2h0.8M463.6 79.0h0.8M433.0 96.4h0.8M431.1 86.9h0.8M431.2 77.5h0.8M444.6 84.5h0.8M438.6 90.7h0.8M444.7 75.0h0.8M436.8 79.3h0.8M434.5 96.1h0.8M445.9 84.3h0.8M442.0 83.8h0.8M446.0 92.3h0.8M441.5 83.9h0.8M437.4 90.2h0.8M446.1 83.9h0.8M432.9 77.1h0.8M445.7 88.1h0.8M445.7 74.1h0.8M463.4 87.9h0.8M456.1 75.3h0.8M454.9 93.7h0.8M435.9 88.6h0.8M433.7 92.2h0.8M432.7 80.2h0.8M456.2 76.5h0.8M432.8 91.3h0.8M436.6 85.1h0.8M431.5 90.1h0.8M434.3 88.8h0.8M431.6 101.7h0.8M431.9 89.9h0.8M455.9 88.4h0.8M445.2 95.8h0.8M448.4 87.4h0.8M447.7 88.0h0.8M465.9 97.5h0.8M453.1 86.3h0.8M447.3 95.7h0.8M441.2 92.4h0.8M449.3 83.3h0.8M451.0 84.2h0.8M437.0 79.9h0.8M438.4 104.9h0.8M461.2 78.1h0.8M447.6 95.1h0.8M433.9 82.4h0.8M431.6 82.4h0.8M445.2 87.9h0.8M439.7 83.6h0.8M435.4 92.9h0.8M431.8 89.8h0.8M449.8 84.8h0.8M442.5 91.5h0.8M437.4 75.8h0.8M439.8 85.6h0.8M445.4 85.3h0.8M459.6 72.7h0.8M441.2 106.2h0.8M454.2 98.2h0.8M458.6 77.9h0.8M433.2 84.6h0.8M450.7 81.3h0.8M441.1 89.6h0.8M445.3 84.3h0.8M453.0 87.1h0.8M465.2 90.3h0.8M441.8 94.3h0.8M446.9 83.3h0.8M436.4 81.9h0.8M449.3 86.0h0.8M437.3 69.7h0.8M455.7 71.2h0.8M432.0 83.8h0.8M460.0 88.0h0.8M448.9 97.7h0.8M442.7 86.3h0.8M443.3 84.3h0.8M444.1 91.9h0.8M431.6 90.5h0.8M441.9 88.5h0.8M461.2 73.7h0.8M449.2 77.7h0.8M431.7 92.8h0.8M438.7 101.6h0.8M456.0 87.4h0.8M435.7 85.4h0.8M462.9 87.3h0.8M441.0 89.3h0.8M444.5 93.3h0.8M448.0 93.6h0.8M454.7 85.8h0.8M443.1 82.7h0.8M438.1 93.2h0.8M445.6 83.1h0.8M463.8 82.5h0.8M438.7 99.0h0.8M453.0 77.7h0.8M439.7 94.8h0.8M450.4 71.5h0.8M464.8 86.7h0.8M444.6 76.0h0.8M433.6 79.8h0.8M438.1 78.2h0.8M439.4 87.7h0.8M441.6 83.2h0.8M440.8 83.0h0.8M440.2 85.5h0.8M456.7 90.0h0.8M434.3 84.1h0.8M442.2 79.7h0.8M451.9 87.1h0.8M456.1 86.6h0.8M439.4 82.8h0.8M458.5 96.6h0.8M440.8 86.7h0.8M442.3 76.1h0.8M433.4 96.9h0.8M444.9 89.8h0.8M441.6 77.7h0.8M454.9 87.5h0.8M441.3 82.0h0.8M439.6 83.9h0.8M437.5 73.4h0.8M441.1 88.4h0.8M438.6 80.3h0.8M466.9 89.6h0.8M450.3 95.2h0.8M436.8 92.1h0.8M443.2 87.4h0.8M436.7 88.4h0.8M446.0 98.7h0.8M441.0 78.3h0.8M432.7 84.8h0.8M462.7 85.2h0.8M447.6 92.9h0.8M458.3 96.3h0.8M443.2 86.2h0.8M435.6 69.0h0.8M445.0 84.0h0.8M436.7 82.1h0.8M456.8 79.4h0.8M460.7 82.5h0.8M461.9 69.6h0.8M447.0 86.8h0.8M458.5 85.7h0.8M451.0 87.9h0.8M441.5 83.9h0.8M433.6 82.1h0.8M444.1 98.0h0.8M442.5 97.3h0.8M453.2 75.9h0.8M434.9 85.3h0.8M434.1 73.2h0.8M451.3 88.4h0.8M458.7 86.4h0.8M440.5 80.2h0.8M463.8 94.3h0.8M450.7 89.9h0.8M452.7 84.7h0.8M448.3 85.1h0.8M435.2 85.2h0.8M445.8 98.8h0.8M447.3 89.4h0.8M445.3 84.0h0.8M455.7 90.3h0.8M432.3 81.0h0.8M434.7 92.6h0.8M460.4 83.7h0.8M457.4 82.9h0.8M435.7 90.7h0.8M452.6 89.5h0.8M439.1 83.0h0.8M456.5 82.7h0.8M434.5 82.4h0.8M452.1 82.4h0.8M433.6 83.4h0.8M439.4 81.5h0.8M432.2 84.6h0.8M462.6 87.6h0.8M441.9 94.2h0.8M434.1 82.3h0.8M440.9 87.6h0.8M431.1 77.8h0.8M447.0 76.2h0.8M443.0 89.5h0.8M431.0 80.4h0.8M463.8 93.8h0.8M432.7 88.0h0.8M433.2 89.0h0.8M431.5 84.3h0.8M439.4 87.2h0.8M456.4 87.2h0.8M434.8 78.8h0.8M431.7 90.7h0.8M455.9 73.1h0.8M460.7 84.2h0.8M448.1 90.3h0.8M443.5 88.1h0.8M443.7 78.0h0.8M437.8 76.3h0.8M458.6 88.2h0.8M431.2 78.9h0.8M449.7 87.5h0.8M449.2 75.5h0.8M450.0 78.0h0.8M458.8 97.4h0.8M457.7 94.4h0.8M443.5 79.0h0.8M438.8 83.1h0.8M443.6 81.4h0.8M439.8 87.8h0.8M439.1 89.2h0.8M446.8 86.6h0.8M433.5 92.7h0.8M446.7 81.3h0.8M464.8 90.3h0.8M431.3 85.5h0.8M437.5 100.8h0.8M448.7 85.4h0.8M446.2 87.4h0.8M465.8 79.0h0.8M440.5 79.1h0.8M461.6 78.3h0.8M432.2 81.3h0.8M446.2 75.6h0.8M460.1 86.7h0.8M453.5 77.9h0.8M459.0 83.3h0.8M448.7 79.8h0.8M462.1 89.7h0.8M437.2 80.9h0.8M454.1 97.6h0.8M431.9 86.2h0.8M449.8 91.5h0.8M453.1 79.5h0.8M465.0 82.2h0.8M435.8 92.5h0.8M434.0 84.6h0.8M456.2 73.9h0.8M438.9 80.2h0.8M447.8 70.7h0.8M451.2 85.3h0.8M437.0 80.6h0.8M467.2 96.1h0.8M450.8 85.4h0.8M449.1 89.9h0.8M441.1 90.8h0.8M458.8 89.6h0.8M442.1 101.1h0.8M431.0 70.4h0.8M463.9 87.2h0.8M434.6 86.3h0.8M448.3 86.1h0.8M439.4 80.8h0.8M433.0 84.0h0.8M454.1 73.9h0.8M446.7 91.5h0.8M449.8 93.0h0.8M461.0 90.7h0.8M455.0 99.2h0.8M442.7 77.0h0.8M432.0 82.6h0.8M455.4 80.8h0.8M433.4 77.0h0.8M454.3 75.1h0.8M458.7 78.1h0.8M445.1 79.8h0.8M435.4 82.8h0.8M441.2 95.3h0.8M434.4 94.6h0.8M436.3 75.9h0.8M434.0 80.1h0.8M443.8 94.9h0.8M446.5 88.0h0.8M451.2 92.0h0.8M449.8 86.5h0.8M447.0 78.3h0.8M460.3 80.4h0.8M443.8 80.3h0.8M439.1 82.9h0.8M464.9 89.3h0.8M438.9 87.6h0.8M446.8 77.7h0.8M437.2 88.9h0.8M465.3 87.5h0.8M464.1 78.3h0.8M449.9 85.0h0.8M445.4 83.9h0.8M453.0 85.8h0.8M446.6 90.0h0.8M433.9 71.6h0.8M433.5 69.7h0.8M445.6 82.2h0.8M440.6 97.1h0.8M450.3 92.5h0.8M443.2 92.0h0.8M448.4 90.6h0.8M442.8 86.4h0.8M463.5 80.9h0.8M432.1 93.3h0.8M442.5 92.7h0.8M434.6 102.2h0.8M449.0 84.8h0.8M445.1 79.8h0.8M453.5 82.1h0.8M440.3 75.4h0.8M435.3 85.1h0.8M444.0 82.8h0.8M441.8 94.8h0.8M456.3 88.6h0.8M464.0 86.8h0.8M439.8 78.2h0.8M448.9 71.0h0.8M440.9 88.1h0.8M443.8 74.5h0.8M449.6 78.7h0.8M431.5 91.3h0.8M445.5 95.0h0.8M464.6 85.9h0.8M460.4 81.9h0.8M462.0 82.7h0.8M454.2 84.9h0.8M461.0 89.6h0.8M445.8 98.6h0.8M442.4 83.2h0.8M459.6 69.9h0.8M433.0 79.3h0.8M455.2 77.0h0.8M440.6 78.2h0.8M467.7 76.1h0.8M447.3 80.3h0.8M459.3 75.5h0.8M457.7 88.0h0.8M441.7 81.9h0.8M445.7 94.3h0.8M460.2 93.9h0.8M446.4 80.9h0.8M432.5 80.6h0.8M450.6 76.3h0.8M460.7 76.2h0.8M437.6 80.1h0.8M433.0 88.1h0.8M441.8 84.5h0.8M434.8 88.6h0.8M464.3 78.6h0.8M452.6 89.7h0.8M446.1 84.5h0.8M439.9 78.3h0.8M445.6 84.6h0.8M448.4 81.4h0.8M437.9 83.3h0.8M455.2 86.0h0.8M456.1 93.5h0.8M442.0 90.2h0.8M448.7 83.2h0.8M447.8 81.7h0.8M431.8 96.2h0.8M446.0 80.5h0.8M443.8 93.3h0.8M437.6 88.2h0.8M449.2 86.0h0.8M442.3 89.2h0.8M442.0 80.7h0.8M434.0 99.2h0.8M454.9 81.6h0.8M434.2 100.8h0.8M438.2 91.3h0.8M468.1 87.2h0.8M453.9 85.0h0.8M445.6 87.9h0.8M458.9 94.0h0.8M438.1 93.2h0.8M442.1 87.7h0.8M450.6 88.1h0.8M459.1 95.3h0.8M431.4 80.4h0.8M465.2 99.5h0.8M433.1 92.1h0.8M443.6 86.3h0.8M449.9 93.7h0.8M444.5 72.3h0.8M450.0 89.5h0.8M456.2 90.4h0.8M456.5 86.8h0.8M432.4 80.7h0.8M436.5 93.1h0.8M442.8 83.4h0.8M431.3 80.8h0.8M445.3 87.6h0.8M446.8 102.7h0.8M437.7 96.0h0.8M436.2 91.9h0.8M446.7 85.4h0.8M443.6 81.8h0.8M460.7 79.4h0.8M431.7 83.5h0.8M449.6 87.9h0.8M442.6 81.4h0.8M443.1 79.3h0.8M439.0 82.6h0.8M454.1 77.4h0.8M450.4 95.5h0.8M453.1 96.8h0.8M456.0 87.2h0.8M451.9 98.1h0.8M439.8 90.1h0.8M457.3 88.5h0.8M440.5 103.4h0.8M432.9 70.1h0.8M437.7 87.2h0.8M433.6 91.0h0.8M450.6 93.3h0.8M448.3 75.9h0.8M452.8 90.7h0.8M445.2 81.0h0.8M452.2 72.1h0.8M455.8 82.2h0.8M447.0 85.5h0.8M453.4 74.1h0.8M439.5 88.0h0.8M443.3 90.5h0.8M452.2 82.3h0.8M438.8 87.3h0.8M460.1 84.4h0.8M455.0 80.8h0.8M432.8 83.2h0.8M452.5 88.8h0.8M440.7 90.1h0.8M435.2 97.4h0.8M453.8 76.2h0.8M436.3 79.3h0.8M447.4 76.5h0.8M431.3 79.5h0.8M444.2 84.9h0.8M455.9 79.5h0.8M452.3 77.6h0.8M444.0 84.6h0.8M438.0 85.3h0.8M435.0 87.4h0.8M443.6 94.7h0.8M435.3 74.7h0.8M457.7 89.6h0.8M434.4 97.4h0.8M436.9 94.8h0.8M441.9 78.9h0.8M431.2 90.0h0.8M437.8 95.2h0.8M444.9 73.4h0.8M435.3 80.5h0.8M436.5 78.2h0.8M453.1 78.6h0.8M441.3 86.2h0.8M437.4 98.0h0.8M431.4 91.4h0.8M434.7 86.0h0.8M437.8 95.3h0.8M439.4 95.5h0.8M443.0 78.8h0.8M455.7 81.7h0.8M436.9 73.7h0.8M436.2 92.5h0.8M438.6 94.0h0.8M447.2 89.0h0.8M446.6 97.9h0.8M445.2 83.6h0.8M440.5 86.2h0.8M435.7 81.8h0.8M448.4 75.3h0.8M450.9 87.0h0.8M444.3 84.3h0.8M454.4 86.5h0.8M451.3 87.5h0.8M435.7 85.1h0.8M444.3 90.5h0.8M431.1 89.9h0.8M432.5 99.4h0.8M437.8 81.1h0.8M436.5 76.9h0.8M432.3 85.7h0.8M434.2 98.7h0.8M439.1 84.0h0.8M467.8 82.7h0.8M441.6 87.1h0.8M434.1 81.0h0.8M435.4 83.2h0.8M454.1 109.3h0.8M437.1 93.6h0.8M440.5 82.6h0.8M436.3 83.9h0.8M452.8 81.9h0.8M451.2 78.1h0.8M439.3 91.1h0.8M441.3 82.3h0.8M445.2 80.8h0.8M443.0 93.0h0.8M454.0 90.8h0.8M440.7 85.3h0.8M461.7 96.3h0.8M438.4 87.0h0.8M440.6 80.5h0.8M452.5 90.4h0.8M431.8 94.4h0.8M439.5 94.3h0.8M432.7 80.6h0.8M451.1 87.3h0.8M457.4 84.2h0.8M444.1 80.2h0.8M440.9 80.1h0.8M442.3 84.4h0.8M449.5 80.2h0.8M431.1 93.0h0.8M453.1 91.0h0.8M441.5 88.8h0.8M452.3 75.8h0.8M443.3 85.6h0.8M439.7 77.1h0.8M438.3 76.8h0.8M458.2 86.9h0.8M454.7 90.3h0.8M456.0 86.6h0.8M437.8 106.7h0.8M443.1 95.8h0.8M452.5 81.7h0.8M462.1 69.3h0.8M433.4 86.8h0.8M441.2 74.5h0.8M458.3 79.9h0.8M441.3 95.7h0.8M442.6 99.8h0.8M434.4 79.8h0.8M437.2 83.7h0.8M435.6 85.5h0.8M438.4 79.6h0.8M437.5 89.9h0.8M456.9 84.2h0.8M453.9 94.9h0.8M448.1 94.7h0.8M438.8 76.1h0.8M433.9 79.2h0.8M460.0 86.5h0.8M435.3 96.2h0.8M443.2 79.3h0.8M447.8 89.9h0.8M454.3 91.8h0.8M462.1 87.8h0.8M442.2 84.6h0.8M458.3 85.3h0.8M443.3 84.5h0.8M449.6 110.6h0.8M442.0 107.4h0.8M454.2 102.8h0.8M435.6 103.4h0.8M445.8 106.4h0.8M457.0 100.8h0.8M431.9 103.3h0.8M453.0 105.1h0.8M436.2 99.2h0.8M437.7 94.4h0.8M433.2 106.5h0.8M446.0 101.1h0.8M461.5 89.5h0.8M440.0 105.6h0.8M434.3 106.4h0.8M435.0 104.0h0.8M433.5 110.9h0.8M439.8 104.1h0.8M438.6 109.1h0.8M442.4 104.1h0.8M452.4 103.4h0.8M449.4 96.4h0.8M442.2 100.2h0.8M438.2 100.4h0.8M450.6 99.6h0.8M434.9 96.1h0.8M456.6 104.6h0.8M437.6 103.0h0.8M451.1 111.5h0.8M452.9 101.4h0.8M447.2 105.3h0.8M438.8 106.8h0.8M433.9 96.9h0.8M456.8 98.7h0.8M445.1 101.5h0.8M438.9 104.5h0.8M431.4 102.6h0.8M433.6 108.7h0.8M442.1 109.7h0.8M445.4 93.7h0.8M445.0 111.4h0.8M456.6 100.3h0.8M446.3 108.3h0.8M439.0 92.5h0.8M432.8 103.4h0.8M441.1 100.8h0.8M451.0 103.4h0.8M433.3 107.9h0.8M450.9 92.7h0.8M438.7 99.1h0.8M433.0 107.1h0.8M434.5 110.7h0.8M445.4 99.1h0.8M431.2 98.7h0.8M434.1 104.5h0.8M441.0 99.0h0.8M448.5 105.5h0.8M441.8 103.8h0.8M434.6 101.2h0.8M438.6 98.6h0.8M438.5 106.2h0.8M432.5 110.3h0.8M451.2 110.8h0.8M453.1 98.8h0.8M438.8 102.8h0.8M438.3 93.9h0.8M445.4 107.1h0.8M439.8 98.0h0.8M459.9 92.5h0.8M438.3 105.9h0.8M453.2 93.8h0.8M437.3 101.6h0.8M438.2 99.8h0.8M443.8 101.4h0.8M443.5 99.4h0.8M450.5 102.6h0.8M431.0 103.7h0.8M450.5 95.2h0.8M450.0 105.7h0.8M461.7 96.7h0.8M437.0 102.9h0.8M442.6 97.0h0.8M440.0 109.0h0.8M455.4 109.5h0.8M460.6 99.5h0.8M437.2 103.7h0.8M457.2 107.6h0.8M431.8 104.1h0.8M440.7 106.4h0.8M434.2 108.3h0.8M449.0 103.4h0.8M445.2 103.7h0.8M446.7 101.9h0.8M434.5 97.3h0.8M446.5 109.1h0.8M434.4 102.5h0.8M443.5 104.2h0.8M445.3 110.1h0.8M453.0 101.7h0.8M452.3 110.4h0.8M439.4 93.5h0.8M432.1 103.2h0.8M441.3 104.4h0.8M440.2 101.4h0.8M452.4 90.7h0.8M431.2 104.9h0.8M437.5 103.5h0.8M437.3 107.6h0.8M437.9 111.5h0.8M444.2 99.4h0.8M448.5 106.9h0.8M446.2 109.4h0.8M442.2 104.4h0.8M446.1 110.0h0.8M445.4 101.2h0.8M432.9 101.1h0.8M445.8 104.4h0.8M437.7 95.2h0.8M443.4 109.0h0.8M435.1 100.5h0.8M440.7 105.2h0.8M433.3 104.5h0.8M435.3 111.5h0.8M449.9 103.6h0.8M459.3 102.5h0.8M438.1 105.4h0.8M439.8 105.7h0.8M462.0 99.6h0.8M451.7 101.2h0.8M458.4 97.8h0.8M451.8 102.4h0.8M446.8 99.7h0.8M443.1 107.5h0.8M450.5 105.3h0.8M437.6 108.0h0.8M446.8 105.4h0.8M441.4 104.6h0.8M444.9 100.8h0.8M456.6 105.3h0.8M436.3 103.5h0.8M431.4 107.2h0.8M440.7 103.7h0.8M450.2 105.2h0.8M456.8 100.1h0.8M438.2 109.4h0.8M450.0 109.0h0.8M461.3 93.9h0.8M431.2 111.4h0.8M434.7 97.1h0.8M449.2 97.8h0.8M456.0 107.7h0.8M444.3 111.4h0.8M432.3 104.8h0.8M433.7 98.1h0.8M432.0 105.3h0.8M440.7 101.0h0.8M448.4 104.8h0.8M437.0 96.6h0.8M440.9 107.8h0.8M438.3 98.4h0.8M437.5 105.7h0.8M454.2 97.7h0.8M439.2 100.7h0.8M436.0 105.7h0.8M451.1 111.3h0.8M454.8 104.4h0.8M453.5 110.3h0.8M444.0 97.4h0.8M439.3 108.9h0.8M440.3 100.6h0.8M451.4 106.7h0.8M434.5 108.3h0.8M444.2 99.9h0.8M452.8 109.1h0.8M436.4 104.9h0.8M451.7 108.0h0.8M432.8 108.5h0.8M452.7 104.9h0.8M445.7 106.3h0.8M433.2 100.9h0.8M450.5 96.6h0.8M440.0 94.1h0.8M445.9 103.8h0.8M439.9 105.5h0.8M443.2 104.7h0.8M442.8 104.9h0.8M439.4 97.8h0.8M451.1 107.3h0.8M448.3 101.3h0.8M439.1 110.4h0.8M431.3 102.0h0.8M449.2 92.8h0.8M465.2 92.9h0.8M440.4 106.7h0.8M438.3 105.8h0.8M431.6 94.9h0.8M443.3 97.6h0.8M440.1 101.7h0.8M440.1 99.6h0.8M441.4 106.9h0.8M438.5 107.3h0.8M449.2 111.5h0.8M436.9 100.7h0.8M439.8 109.9h0.8M447.0 99.1h0.8M440.7 105.9h0.8M435.5 97.6h0.8M448.0 109.0h0.8M456.5 102.7h0.8M452.4 98.9h0.8M443.6 94.2h0.8M434.7 104.2h0.8M445.8 109.3h0.8M447.9 93.1h0.8M434.8 98.5h0.8M432.8 103.8h0.8M442.6 105.0h0.8M447.3 107.3h0.8M442.3 105.6h0.8M434.9 101.0h0.8M442.8 106.3h0.8M436.3 106.5h0.8M433.9 98.5h0.8M456.4 105.0h0.8M450.2 98.9h0.8M440.3 109.8h0.8M439.9 96.0h0.8M451.5 107.7h0.8M432.1 100.4h0.8M442.2 99.3h0.8M442.0 100.6h0.8M432.6 101.6h0.8M446.7 103.1h0.8M453.4 108.0h0.8M438.5 102.1h0.8M446.3 101.1h0.8M443.7 102.5h0.8M455.2 91.0h0.8M432.1 99.8h0.8M451.2 105.7h0.8M434.4 105.3h0.8M442.9 98.0h0.8M449.3 110.3h0.8M436.9 103.5h0.8M439.9 96.5h0.8M435.6 101.4h0.8M451.5 92.7h0.8M439.3 108.1h0.8M442.7 111.0h0.8M442.4 98.3h0.8M436.5 102.6h0.8M439.9 109.3h0.8M436.3 103.4h0.8M448.4 104.9h0.8M443.3 108.2h0.8M457.2 102.5h0.8M431.2 100.2h0.8M454.2 96.6h0.8M433.2 107.9h0.8M455.5 108.8h0.8M438.3 111.2h0.8M434.8 99.4h0.8M435.8 103.3h0.8M435.3 101.4h0.8M439.7 109.0h0.8M446.8 105.3h0.8M437.6 102.1h0.8M435.5 99.9h0.8M445.3 101.4h0.8M437.4 100.0h0.8M450.0 107.8h0.8M438.5 101.6h0.8M431.7 100.8h0.8M452.7 101.5h0.8M461.6 99.2h0.8M453.1 102.9h0.8M438.4 105.1h0.8M437.1 108.4h0.8M433.4 107.3h0.8M446.4 110.0h0.8M440.6 102.2h0.8M434.1 101.6h0.8M431.3 101.7h0.8M450.3 102.9h0.8M450.9 111.1h0.8M437.8 101.9h0.8M456.1 108.4h0.8M443.6 105.4h0.8M442.4 95.7h0.8M441.9 106.9h0.8M434.6 111.4h0.8M433.0 102.8h0.8M439.6 101.0h0.8M432.9 102.4h0.8M433.1 102.0h0.8M434.6 105.1h0.8M442.5 103.0h0.8M437.3 107.7h0.8M453.1 110.8h0.8M451.5 107.2h0.8M441.9 106.4h0.8M448.7 104.0h0.8M455.1 97.7h0.8M436.9 110.2h0.8M446.7 99.3h0.8M448.4 97.3h0.8M441.0 103.6h0.8M441.3 102.8h0.8M431.4 94.8h0.8M456.8 99.9h0.8M431.8 103.7h0.8M444.9 103.9h0.8M447.2 103.7h0.8M438.5 105.0h0.8M447.7 104.9h0.8M454.6 105.7h0.8M447.1 108.7h0.8M431.1 103.0h0.8M441.1 111.4h0.8M441.7 100.9h0.8M438.4 105.1h0.8M439.4 100.4h0.8M443.1 107.1h0.8M432.6 110.3h0.8M431.3 103.2h0.8M440.3 104.8h0.8M432.6 108.8h0.8M442.2 100.3h0.8M440.6 104.3h0.8M458.6 96.7h0.8M443.9 99.5h0.8M442.3 108.0h0.8M446.4 99.9h0.8M456.2 94.9h0.8M437.0 107.1h0.8M439.9 108.7h0.8M450.8 96.8h0.8M443.2 109.5h0.8M456.9 95.4h0.8M442.3 100.8h0.8M435.5 103.0h0.8M451.7 99.5h0.8M432.8 108.2h0.8M434.9 102.4h0.8M442.5 106.5h0.8M449.5 95.6h0.8M432.8 108.1h0.8M449.6 104.5h0.8M438.7 92.9h0.8M458.0 101.7h0.8M434.0 104.2h0.8M434.4 102.7h0.8M452.9 102.7h0.8M444.7 103.2h0.8M462.6 95.1h0.8M448.1 98.5h0.8M445.9 107.5h0.8M447.6 107.3h0.8M445.5 101.9h0.8M461.0 102.9h0.8M441.6 107.9h0.8M454.6 96.6h0.8M431.6 108.4h0.8M443.5 101.3h0.8M456.7 101.3h0.8M435.2 97.9h0.8M443.4 101.2h0.8M455.4 98.1h0.8M452.0 103.9h0.8M433.8 108.8h0.8M432.9 104.3h0.8M436.1 93.2h0.8M437.4 110.4h0.8M456.1 99.9h0.8M431.8 96.6h0.8M454.0 108.6h0.8M441.0 109.7h0.8M437.1 110.9h0.8M433.5 108.8h0.8M441.5 109.7h0.8M440.3 106.3h0.8M437.7 95.4h0.8M432.2 108.4h0.8M444.5 97.4h0.8M454.5 102.0h0.8M432.5 109.4h0.8M445.1 100.5h0.8M442.7 106.3h0.8M447.1 111.5h0.8M444.0 108.4h0.8M438.5 106.4h0.8M439.2 97.3h0.8M431.9 105.0h0.8M433.2 95.5h0.8M437.7 96.9h0.8M443.7 105.9h0.8M436.7 96.6h0.8M457.5 98.0h0.8M433.1 110.8h0.8M455.2 102.6h0.8M435.6 103.3h0.8M450.5 108.3h0.8M432.5 99.6h0.8M445.9 107.9h0.8M447.2 104.1h0.8M435.5 99.8h0.8M447.3 104.7h0.8M442.7 105.9h0.8M440.5 98.7h0.8M446.8 98.0h0.8M445.3 101.0h0.8M458.2 106.8h0.8M453.5 100.1h0.8M452.4 94.6h0.8M450.5 103.2h0.8M444.4 101.4h0.8M431.6 102.1h0.8M435.2 103.0h0.8M431.4 108.6h0.8M433.1 104.8h0.8M439.6 111.4h0.8M440.7 109.0h0.8M434.0 102.3h0.8M454.2 101.1h0.8M460.7 102.3h0.8M441.7 103.1h0.8M443.5 104.7h0.8M440.9 103.1h0.8M442.1 105.2h0.8M442.6 97.4h0.8M440.2 101.6h0.8M448.5 111.3h0.8M433.0 102.4h0.8M441.1 100.8h0.8M431.5 106.3h0.8M436.9 106.1h0.8M456.8 98.9h0.8M451.3 98.9h0.8M455.0 108.7h0.8M451.4 98.3h0.8M432.5 95.8h0.8M436.6 101.1h0.8M446.4 93.3h0.8M440.4 96.9h0.8M438.0 102.6h0.8M451.4 106.7h0.8M449.7 109.8h0.8M444.5 92.5h0.8M436.5 107.4h0.8M442.3 103.1h0.8M434.2 100.8h0.8M444.3 95.0h0.8M431.3 94.5h0.8M441.3 108.2h0.8M434.9 102.2h0.8M437.9 95.8h0.8M440.6 108.2h0.8M434.6 96.8h0.8M449.0 99.8h0.8M445.2 102.3h0.8M456.4 101.0h0.8M459.7 96.9h0.8M433.7 99.5h0.8M435.8 105.5h0.8M432.8 101.6h0.8M457.3 99.7h0.8M445.3 102.7h0.8M458.0 97.6h0.8M454.3 97.8h0.8M450.9 108.4h0.8M458.6 99.2h0.8M434.7 108.7h0.8M441.0 93.1h0.8M432.5 111.3h0.8M438.7 107.2h0.8M449.2 107.0h0.8M435.7 102.8h0.8M448.1 111.1h0.8M443.8 104.8h0.8M453.8 103.6h0.8M446.7 110.0h0.8M447.2 98.1h0.8M441.9 105.4h0.8M435.3 107.5h0.8M436.8 109.4h0.8M456.5 102.0h0.8M438.8 107.2h0.8M434.3 108.8h0.8M444.2 105.1h0.8M458.4 92.9h0.8M452.8 104.7h0.8M438.9 101.0h0.8M438.2 98.4h0.8M438.1 103.7h0.8M439.2 106.0h0.8M433.6 106.4h0.8M455.8 102.8h0.8M437.4 99.6h0.8M448.9 101.9h0.8M436.2 99.7h0.8M455.1 100.5h0.8M444.3 100.7h0.8M444.0 100.8h0.8M436.2 102.6h0.8M448.8 104.3h0.8M435.5 99.0h0.8M442.6 97.6h0.8M454.0 95.1h0.8M437.0 107.5h0.8M454.3 105.0h0.8M449.2 101.7h0.8M437.5 105.5h0.8M432.3 103.9h0.8M458.7 101.0h0.8M434.2 105.4h0.8M431.6 103.9h0.8M450.7 105.3h0.8M440.2 98.4h0.8M444.2 109.9h0.8M451.2 100.5h0.8M448.8 97.3h0.8M443.4 102.5h0.8M452.5 98.4h0.8M437.3 104.1h0.8M452.8 104.1h0.8M435.0 99.5h0.8M436.2 105.4h0.8M431.7 107.0h0.8M453.6 104.2h0.8M451.1 99.2h0.8M432.3 101.8h0.8M438.5 103.2h0.8M437.7 111.3h0.8M441.1 107.2h0.8M450.6 106.9h0.8M437.6 98.8h0.8M449.9 104.7h0.8M438.2 94.7h0.8M435.2 104.8h0.8M441.2 104.4h0.8M474.3 70.1h0.8M474.2 74.2h0.8M470.5 56.2h0.8M464.2 71.1h0.8M473.7 66.0h0.8M476.1 71.3h0.8M478.2 74.1h0.8M465.9 72.0h0.8M475.5 67.9h0.8M477.7 64.5h0.8M469.7 71.1h0.8M485.4 62.5h0.8M471.4 61.4h0.8M480.4 56.9h0.8M467.3 68.6h0.8M469.4 66.7h0.8M479.9 71.3h0.8M475.8 67.8h0.8M478.9 61.8h0.8M478.7 71.3h0.8M472.1 65.0h0.8M485.0 58.5h0.8M472.8 69.2h0.8M476.5 67.0h0.8M468.9 78.3h0.8M467.5 64.4h0.8M479.1 62.3h0.8M463.8 68.0h0.8M476.7 65.4h0.8M476.0 55.6h0.8M462.4 67.0h0.8M475.0 62.0h0.8M468.6 70.2h0.8M475.4 63.6h0.8M468.9 57.6h0.8M465.2 64.0h0.8M474.7 63.1h0.8M481.5 54.7h0.8M471.6 70.5h0.8M461.4 67.6h0.8M470.7 68.2h0.8M469.6 71.9h0.8M468.0 59.7h0.8M464.5 80.9h0.8M472.4 69.7h0.8M477.8 74.3h0.8M460.3 70.0h0.8M473.0 61.2h0.8M476.8 63.1h0.8M462.3 73.2h0.8M469.8 72.6h0.8M474.9 54.8h0.8M478.1 63.2h0.8M467.9 76.8h0.8M474.4 67.1h0.8M475.4 56.4h0.8M471.5 69.0h0.8M465.6 74.0h0.8M483.1 56.5h0.8M472.6 72.7h0.8M476.0 72.7h0.8M478.8 59.0h0.8M467.2 69.0h0.8M463.4 59.8h0.8M468.3 60.8h0.8M466.2 70.0h0.8M461.4 74.5h0.8M464.7 76.1h0.8M482.1 54.3h0.8M465.5 69.8h0.8M479.1 71.4h0.8M462.8 69.5h0.8M465.4 70.8h0.8M466.9 75.3h0.8M467.7 63.7h0.8M460.5 69.2h0.8M465.7 80.6h0.8M468.7 63.5h0.8M471.2 65.2h0.8M474.5 67.2h0.8M472.0 71.4h0.8M477.7 69.8h0.8M481.4 59.8h0.8M477.6 64.3h0.8M480.4 68.5h0.8M471.0 62.9h0.8M472.8 54.7h0.8M469.0 67.6h0.8M469.2 62.2h0.8M473.0 58.5h0.8M463.8 74.3h0.8M464.1 64.6h0.8M470.5 64.5h0.8M468.7 68.4h0.8M473.5 69.5h0.8M475.9 69.6h0.8M465.6 66.6h0.8M467.6 76.2h0.8M479.4 59.7h0.8M473.9 69.2h0.8M459.9 71.9h0.8M478.4 66.2h0.8M464.0 63.6h0.8M465.6 74.3h0.8M462.6 63.3h0.8M463.8 72.4h0.8M473.0 55.5h0.8M472.0 61.0h0.8M470.4 67.8h0.8M461.3 74.6h0.8M471.0 67.1h0.8M466.9 73.1h0.8M481.4 56.4h0.8M476.6 66.2h0.8M463.5 71.0h0.8M472.5 62.9h0.8M469.5 64.2h0.8M473.7 71.5h0.8M464.0 73.6h0.8M478.4 59.2h0.8M458.1 73.0h0.8M465.5 60.2h0.8M471.0 63.8h0.8M476.3 59.7h0.8M460.6 77.3h0.8M472.6 61.1h0.8M469.9 61.4h0.8M466.2 66.3h0.8M464.2 72.5h0.8M476.0 59.8h0.8M484.6 58.8h0.8M477.8 70.8h0.8M466.8 76.3h0.8M473.7 62.1h0.8M464.4 69.5h0.8M463.7 66.1h0.8M458.6 73.9h0.8M472.9 73.7h0.8M466.7 74.8h0.8M467.5 62.6h0.8M466.1 64.9h0.8M481.0 72.9h0.8M464.2 68.0h0.8M473.5 55.9h0.8M478.5 70.7h0.8M470.6 61.6h0.8M482.0 57.1h0.8M474.3 71.2h0.8M468.0 68.0h0.8M465.0 66.0h0.8M471.0 71.3h0.8M469.7 65.3h0.8M469.2 62.5h0.8M467.9 75.0h0.8M472.9 71.6h0.8M466.2 69.2h0.8M465.1 72.8h0.8M460.4 64.3h0.8M473.5 63.1h0.8M482.2 60.6h0.8M474.5 66.7h0.8M468.9 65.0h0.8M472.4 60.9h0.8M469.4 64.2h0.8M467.9 66.2h0.8M472.1 67.1h0.8M466.2 68.3h0.8M483.9 62.6h0.8M465.5 73.1h0.8M472.5 60.9h0.8M476.7 70.2h0.8M471.6 75.5h0.8M483.8 67.5h0.8M468.0 57.5h0.8M463.7 71.3h0.8M457.6 68.4h0.8M485.2 65.6h0.8M472.5 75.2h0.8M476.8 59.2h0.8M463.9 74.9h0.8M473.3 60.8h0.8M471.0 70.3h0.8M477.9 73.2h0.8M471.9 70.1h0.8M475.1 62.3h0.8M484.9 64.8h0.8M470.0 65.0h0.8M478.8 61.2h0.8M467.8 63.0h0.8M469.8 67.1h0.8M465.3 65.2h0.8M467.6 60.2h0.8M463.1 68.9h0.8M461.9 79.2h0.8M469.9 62.9h0.8M472.8 63.4h0.8M461.7 68.4h0.8M474.2 67.7h0.8M468.5 67.1h0.8M473.2 59.7h0.8M469.6 63.5h0.8M469.5 67.4h0.8M461.9 79.2h0.8M464.8 79.7h0.8M463.7 61.6h0.8M471.5 69.9h0.8M478.0 68.1h0.8M466.0 73.2h0.8M475.3 66.3h0.8M472.6 65.2h0.8M474.2 63.1h0.8M463.4 74.3h0.8M468.2 67.9h0.8M473.7 69.5h0.8M477.0 61.3h0.8M471.6 75.5h0.8M465.4 69.2h0.8M469.8 75.6h0.8M463.2 64.4h0.8M467.0 65.0h0.8M472.8 60.7h0.8M468.2 65.9h0.8M472.8 66.3h0.8M484.3 58.0h0.8M480.1 69.8h0.8M473.6 58.8h0.8M463.5 74.1h0.8M473.7 65.1h0.8M473.7 60.0h0.8M467.8 69.6h0.8M457.6 75.8h0.8M477.8 66.7h0.8M473.7 70.1h0.8M462.0 74.2h0.8M469.8 68.1h0.8M465.3 66.9h0.8M470.3 63.7h0.8M461.2 73.4h0.8M461.7 68.4h0.8M483.7 59.7h0.8M473.9 62.9h0.8M460.7 68.0h0.8M484.5 63.1h0.8M471.6 63.7h0.8M473.1 68.5h0.8M469.9 77.1h0.8M468.5 66.5h0.8M465.9 74.7h0.8M478.9 65.9h0.8M477.5 68.9h0.8M478.7 62.3h0.8M466.2 59.1h0.8M470.2 66.2h0.8M478.0 63.2h0.8M477.9 57.7h0.8M471.5 73.2h0.8M477.3 76.6h0.8M468.2 76.3h0.8M477.7 70.1h0.8M463.9 79.4h0.8M470.9 62.5h0.8M474.1 59.4h0.8M474.3 64.5h0.8M473.8 65.0h0.8M481.5 67.7h0.8M477.5 57.9h0.8M471.5 65.6h0.8M467.1 80.7h0.8M468.2 71.3h0.8M482.2 62.5h0.8M481.4 69.0h0.8M461.8 71.0h0.8M465.7 78.2h0.8M476.2 62.2h0.8M478.7 73.3h0.8M476.3 63.6h0.8M483.4 58.5h0.8M470.4 68.9h0.8M477.6 68.6h0.8M479.7 58.1h0.8M471.5 59.3h0.8M466.2 68.6h0.8M472.5 77.8h0.8M467.0 79.0h0.8M467.1 64.3h0.8M462.3 67.5h0.8M470.7 70.0h0.8M466.8 66.5h0.8M470.0 59.3h0.8M463.4 69.5h0.8M472.1 61.4h0.8M468.7 71.2h0.8M479.8 65.5h0.8M474.2 67.7h0.8M480.4 70.6h0.8M465.1 63.9h0.8M471.2 54.8h0.8M470.9 73.7h0.8M471.3 74.3h0.8M478.1 63.5h0.8M474.8 56.8h0.8M459.3 71.2h0.8M481.0 64.5h0.8M468.5 63.2h0.8M473.4 66.4h0.8M469.4 61.0h0.8M476.6 63.7h0.8M465.2 73.4h0.8M471.6 70.4h0.8M474.7 71.6h0.8M472.0 59.6h0.8M459.6 68.4h0.8M466.8 65.5h0.8M473.1 72.0h0.8M469.7 69.0h0.8M476.9 71.6h0.8M473.0 66.3h0.8M460.4 72.3h0.8M474.6 70.2h0.8M481.7 58.1h0.8M464.2 68.2h0.8M484.7 58.9h0.8M461.8 70.4h0.8M465.8 68.2h0.8M468.5 65.1h0.8M465.2 66.2h0.8M477.8 67.0h0.8M471.7 68.2h0.8M472.1 66.4h0.8M476.6 57.3h0.8M469.5 64.0h0.8M472.9 70.7h0.8M484.9 61.2h0.8M465.2 76.5h0.8M480.3 57.7h0.8M472.6 69.0h0.8M471.0 70.6h0.8M478.9 73.3h0.8M485.3 63.1h0.8M475.8 67.8h0.8M465.0 70.7h0.8M470.3 63.8h0.8M465.7 62.4h0.8M460.3 68.4h0.8M470.5 70.7h0.8M461.7 70.9h0.8M477.7 70.3h0.8M475.4 65.1h0.8M481.7 68.0h0.8M466.4 70.4h0.8M474.7 59.3h0.8M459.7 77.5h0.8M462.0 70.2h0.8M473.1 65.9h0.8M461.3 65.8h0.8M467.7 68.4h0.8M464.1 70.9h0.8M470.0 60.8h0.8M476.4 69.2h0.8M471.9 61.6h0.8M467.8 67.2h0.8M479.4 56.0h0.8M464.0 69.3h0.8M472.6 74.7h0.8M469.2 63.1h0.8M470.3 78.9h0.8M466.4 56.9h0.8M466.6 75.8h0.8M470.2 60.7h0.8M469.4 63.7h0.8M474.0 71.5h0.8M463.8 72.9h0.8M468.5 78.6h0.8M472.3 66.1h0.8M461.4 68.3h0.8M476.8 61.7h0.8M470.8 59.5h0.8M473.5 78.6h0.8M477.9 60.8h0.8M477.0 68.5h0.8M478.4 58.2h0.8M470.3 68.2h0.8M466.8 80.1h0.8M476.3 71.6h0.8M473.5 73.7h0.8M477.7 60.4h0.8M469.7 68.6h0.8M470.5 73.5h0.8M468.5 72.7h0.8M471.6 68.3h0.8M471.5 78.9h0.8M473.6 63.4h0.8M466.8 71.9h0.8M470.6 63.7h0.8M476.0 61.8h0.8M475.1 64.9h0.8M465.2 60.9h0.8M469.9 71.0h0.8M469.9 68.1h0.8M470.6 75.4h0.8M464.3 61.5h0.8M474.3 60.9h0.8M467.3 68.6h0.8M476.4 71.7h0.8M462.7 69.8h0.8M471.1 66.5h0.8M475.1 60.8h0.8M469.6 72.3h0.8M468.2 67.5h0.8M468.2 64.8h0.8M462.8 69.2h0.8M467.7 65.4h0.8M471.4 58.3h0.8M477.2 67.4h0.8M474.8 65.0h0.8M465.8 64.8h0.8M468.1 73.3h0.8M468.8 72.9h0.8M474.5 60.9h0.8M470.4 69.0h0.8M463.4 74.7h0.8M461.8 66.7h0.8M476.4 76.6h0.8M473.1 67.3h0.8M475.1 62.6h0.8M470.3 60.3h0.8M475.9 68.0h0.8M480.4 71.8h0.8M473.9 57.4h0.8M472.1 63.3h0.8M468.5 57.7h0.8M466.7 66.3h0.8M470.9 68.8h0.8M476.1 63.5h0.8M478.9 55.5h0.8M475.7 65.7h0.8M478.7 74.2h0.8M465.8 66.5h0.8M475.2 64.0h0.8M466.7 69.4h0.8M473.3 63.4h0.8M478.7 62.2h0.8M475.0 57.1h0.8M464.0 69.3h0.8M468.8 69.0h0.8M469.9 58.4h0.8M483.5 63.2h0.8M473.1 68.6h0.8M462.6 69.1h0.8M473.6 61.0h0.8M472.9 64.3h0.8M471.2 76.7h0.8M460.7 69.9h0.8M472.0 68.4h0.8M469.2 56.5h0.8M471.1 73.0h0.8M467.2 68.1h0.8M467.5 71.7h0.8M467.0 71.9h0.8M468.3 64.5h0.8M471.0 61.2h0.8M470.2 74.3h0.8M478.5 59.4h0.8M468.5 76.4h0.8M479.3 68.6h0.8M473.2 72.0h0.8M473.0 70.4h0.8M477.1 64.0h0.8M465.2 68.4h0.8M469.8 65.7h0.8M468.8 66.3h0.8M475.2 64.5h0.8M459.5 65.1h0.8M472.2 70.9h0.8M485.5 60.9h0.8M472.5 71.7h0.8M474.4 65.1h0.8M480.2 58.4h0.8M475.4 67.3h0.8M484.5 62.5h0.8M483.7 65.9h0.8M473.9 70.8h0.8M469.4 58.2h0.8M473.0 75.7h0.8M460.0 71.7h0.8M469.9 74.5h0.8M478.4 63.9h0.8M468.0 63.5h0.8M477.0 62.1h0.8M464.9 71.0h0.8M461.5 69.4h0.8M478.7 58.6h0.8M472.0 69.8h0.8M469.6 68.7h0.8M474.8 66.4h0.8M460.6 72.7h0.8M470.3 60.7h0.8M475.4 63.5h0.8M463.9 66.6h0.8M459.7 64.8h0.8M471.6 61.3h0.8M467.4 66.8h0.8M460.2 70.2h0.8M466.2 60.3h0.8M465.6 68.3h0.8M477.8 61.5h0.8M460.0 73.1h0.8M470.9 65.3h0.8M461.9 74.0h0.8M473.4 54.8h0.8M474.0 70.8h0.8M473.8 64.6h0.8M479.0 71.5h0.8M470.7 59.4h0.8M475.4 64.2h0.8M475.2 59.8h0.8M478.0 70.9h0.8M473.6 58.9h0.8M466.2 77.0h0.8M460.0 72.8h0.8M469.2 79.2h0.8M472.8 65.1h0.8M474.9 60.2h0.8M475.9 58.9h0.8M477.9 56.2h0.8M475.5 58.8h0.8M466.3 61.5h0.8M481.6 60.3h0.8M465.4 63.9h0.8M477.7 63.3h0.8M465.2 69.0h0.8M480.8 61.2h0.8M458.2 74.3h0.8M466.8 63.5h0.8M469.9 70.2h0.8M479.9 55.6h0.8M473.5 72.3h0.8M465.2 64.7h0.8M471.1 77.3h0.8M476.4 58.8h0.8M478.1 69.2h0.8M469.3 68.8h0.8M471.9 71.5h0.8M483.8 57.4h0.8M480.3 68.5h0.8M474.6 59.8h0.8M465.0 61.0h0.8M471.4 75.9h0.8M473.4 74.8h0.8M462.0 73.2h0.8M459.2 64.6h0.8M478.3 63.6h0.8M476.3 54.9h0.8M469.6 63.7h0.8M474.6 69.9h0.8M471.9 71.7h0.8M466.7 60.1h0.8M479.8 59.6h0.8M463.9 78.5h0.8M465.4 67.5h0.8M465.9 63.6h0.8M485.6 59.1h0.8M469.0 70.4h0.8M462.7 72.6h0.8M464.0 71.2h0.8M471.2 79.0h0.8M463.1 64.0h0.8M472.9 73.4h0.8M473.4 67.0h0.8M479.1 58.2h0.8M470.6 75.6h0.8M482.5 68.3h0.8M468.4 74.6h0.8M462.7 77.2h0.8M473.7 66.1h0.8M475.1 71.1h0.8M473.5 72.2h0.8M474.4 69.4h0.8M475.8 73.6h0.8M467.4 68.7h0.8M477.0 63.2h0.8M473.9 57.2h0.8M464.7 73.8h0.8M467.9 69.6h0.8M470.1 60.7h0.8M478.6 63.3h0.8M472.5 58.2h0.8M477.8 53.5h0.8M468.4 77.2h0.8M465.8 80.8h0.8M475.9 62.2h0.8M464.3 70.7h0.8M466.1 63.7h0.8M463.0 73.7h0.8M469.3 65.9h0.8M476.7 71.5h0.8M465.7 80.2h0.8M473.2 58.2h0.8M478.5 65.3h0.8M475.2 66.0h0.8M469.7 66.4h0.8M465.4 75.3h0.8M475.9 63.7h0.8M468.3 75.7h0.8M465.4 66.1h0.8M478.7 62.4h0.8M477.3 58.1h0.8M463.1 71.6h0.8M465.3 76.6h0.8M472.4 64.6h0.8M474.8 64.5h0.8M464.1 60.0h0.8M484.5 56.5h0.8M479.6 67.7h0.8M476.4 60.5h0.8M477.9 71.9h0.8M468.5 71.7h0.8M471.0 71.6h0.8M467.2 67.4h0.8M467.4 71.1h0.8M471.8 55.3h0.8M470.5 67.2h0.8M462.1 73.3h0.8M480.6 63.2h0.8M465.0 61.3h0.8M463.0 68.6h0.8M472.5 70.8h0.8M474.0 56.9h0.8M479.4 66.2h0.8M473.9 76.9h0.8M468.9 71.8h0.8M476.8 54.4h0.8M482.5 59.8h0.8M464.8 62.8h0.8M470.3 55.9h0.8M483.2 61.7h0.8M470.3 63.5h0.8M468.9 67.9h0.8M464.1 72.0h0.8M472.3 60.5h0.8M468.5 80.4h0.8M472.7 55.5h0.8M475.7 61.3h0.8M470.2 65.6h0.8M463.4 66.0h0.8M472.8 66.4h0.8M476.1 65.3h0.8M474.5 67.7h0.8M468.7 74.9h0.8M472.9 60.3h0.8M482.3 64.5h0.8M474.7 75.9h0.8M475.6 77.5h0.8M482.1 57.8h0.8M471.2 69.9h0.8M479.3 60.8h0.8M467.3 77.3h0.8M475.7 57.1h0.8M471.5 69.6h0.8M465.0 67.0h0.8M469.3 64.6h0.8M469.9 62.4h0.8M478.4 62.7h0.8M466.3 71.8h0.8M478.2 67.5h0.8M481.2 60.7h0.8M480.5 68.6h0.8M476.1 67.1h0.8M480.7 58.2h0.8M468.2 65.5h0.8M465.7 69.8h0.8M477.0 55.3h0.8M468.9 66.2h0.8M475.4 65.9h0.8M459.8 68.3h0.8M469.4 67.5h0.8M472.1 63.7h0.8M470.6 76.9h0.8M474.1 66.9h0.8M480.5 63.7h0.8M463.2 69.0h0.8M476.2 64.4h0.8M474.2 65.0h0.8M464.9 75.6h0.8M478.8 57.8h0.8M470.3 60.7h0.8M473.3 70.4h0.8M475.2 57.7h0.8M475.9 68.3h0.8M480.1 60.1h0.8M469.7 71.5h0.8M476.5 56.1h0.8M466.0 64.2h0.8M465.9 70.2h0.8M471.8 60.6h0.8M470.8 58.2h0.8M478.0 69.1h0.8M475.1 56.6h0.8M471.8 64.0h0.8M477.4 60.9h0.8M477.7 75.3h0.8M474.8 64.3h0.8M477.3 57.4h0.8M466.2 63.5h0.8M461.2 74.8h0.8M460.9 65.5h0.8M472.6 56.1h0.8M469.0 62.0h0.8M479.6 66.5h0.8M475.0 64.0h0.8M471.1 70.6h0.8M467.2 63.6h0.8M468.4 70.1h0.8M473.0 62.6h0.8M469.3 70.0h0.8M471.6 61.9h0.8M472.2 66.9h0.8M471.9 67.7h0.8M474.1 72.2h0.8M479.2 74.7h0.8M481.7 60.6h0.8M477.7 61.3h0.8M477.0 55.2h0.8M479.1 68.4h0.8M480.5 62.2h0.8M474.1 59.3h0.8M475.9 70.9h0.8M466.5 67.2h0.8M474.6 70.4h0.8M469.6 64.0h0.8M473.0 73.3h0.8M474.1 54.8h0.8M475.4 71.2h0.8M483.1 58.1h0.8M472.1 65.2h0.8M481.2 70.8h0.8M485.4 60.1h0.8M471.3 60.9h0.8M473.6 72.8h0.8M484.3 59.9h0.8M478.7 66.6h0.8M466.6 76.9h0.8M480.5 70.1h0.8M472.1 68.7h0.8M467.0 75.1h0.8M481.8 54.3h0.8M465.7 57.4h0.8M462.1 73.5h0.8M470.8 58.4h0.8M465.3 73.1h0.8M468.5 73.5h0.8M478.5 70.0h0.8M465.8 68.2h0.8M473.2 65.5h0.8M476.7 55.6h0.8M474.2 75.2h0.8M462.9 64.2h0.8M477.9 73.2h0.8M476.3 67.4h0.8M466.9 64.4h0.8M473.6 63.6h0.8M470.1 73.6h0.8M469.9 69.0h0.8M472.9 60.0h0.8M474.3 77.6h0.8M466.5 78.2h0.8M477.4 65.9h0.8M473.7 59.4h0.8M473.4 66.8h0.8M475.2 59.8h0.8M479.0 60.2h0.8M483.5 67.3h0.8M464.4 73.8h0.8M473.7 66.0h0.8M475.4 67.9h0.8M468.8 63.2h0.8M460.9 69.5h0.8M475.7 72.8h0.8M473.0 67.1h0.8M473.4 71.1h0.8M481.0 64.4h0.8M480.7 57.3h0.8M465.1 58.9h0.8M478.6 74.5h0.8M468.6 62.2h0.8M468.4 65.9h0.8M478.2 63.7h0.8M459.5 75.7h0.8M465.3 61.6h0.8M462.2 76.6h0.8M467.1 68.0h0.8M477.6 66.8h0.8M463.0 62.9h0.8M474.3 66.3h0.8M470.2 76.4h0.8M469.9 59.6h0.8M474.8 69.6h0.8M470.6 63.4h0.8M469.4 67.3h0.8M480.4 60.9h0.8M474.6 72.9h0.8M465.7 78.1h0.8M474.5 61.3h0.8M474.2 75.7h0.8M472.3 60.7h0.8M472.4 68.4h0.8M471.8 66.4h0.8M457.4 74.5h0.8M470.4 72.2h0.8M470.4 69.7h0.8M468.6 66.0h0.8M470.3 61.9h0.8M472.7 69.3h0.8M464.0 69.3h0.8M461.1 77.5h0.8M477.7 68.4h0.8M472.0 78.5h0.8M469.4 64.2h0.8M482.8 58.7h0.8M483.8 56.6h0.8M464.0 67.7h0.8M480.3 59.2h0.8M475.1 73.8h0.8M470.7 77.6h0.8M460.0 77.2h0.8M469.0 64.7h0.8M472.0 73.5h0.8M472.8 69.5h0.8M476.2 68.4h0.8M479.0 61.1h0.8M470.8 65.3h0.8M470.5 77.2h0.8M469.3 60.0h0.8M465.8 72.6h0.8M466.4 79.0h0.8M474.3 58.4h0.8M466.4 72.4h0.8M471.6 65.8h0.8M471.7 73.5h0.8M466.5 77.0h0.8M478.4 64.0h0.8M472.6 71.1h0.8M465.6 78.5h0.8M480.4 66.2h0.8M466.3 59.6h0.8M463.2 66.8h0.8M475.2 68.0h0.8M469.0 69.3h0.8M480.1 70.0h0.8M470.5 72.3h0.8M468.8 75.4h0.8M476.8 57.8h0.8M469.4 64.0h0.8M473.5 60.8h0.8M477.1 68.2h0.8M477.4 66.9h0.8M476.8 65.4h0.8M466.7 58.2h0.8M465.2 71.6h0.8M473.3 75.6h0.8M467.1 71.5h0.8M476.6 65.1h0.8M477.7 59.5h0.8M484.1 63.3h0.8M463.8 70.7h0.8M470.5 78.3h0.8M473.0 55.1h0.8M468.2 67.8h0.8M467.4 57.7h0.8M474.3 60.0h0.8M471.0 73.1h0.8M470.5 70.4h0.8M468.7 63.0h0.8M480.6 61.7h0.8M460.8 68.8h0.8M462.3 68.9h0.8M476.9 66.9h0.8M474.2 75.0h0.8M470.3 73.3h0.8M464.6 77.3h0.8M474.1 67.6h0.8M470.3 58.6h0.8M473.0 59.0h0.8M473.5 69.0h0.8M483.5 59.4h0.8M471.0 59.0h0.8M475.6 72.3h0.8M460.7 67.9h0.8M475.0 60.3h0.8M471.9 72.1h0.8M462.3 62.5h0.8M462.1 73.2h0.8M467.2 76.6h0.8M474.1 68.3h0.8M467.8 64.4h0.8M474.6 68.2h0.8M475.5 64.7h0.8M470.4 74.5h0.8M482.1 61.4h0.8M462.3 70.0h0.8M480.4 60.4h0.8M475.2 69.9h0.8M465.2 68.2h0.8M485.9 64.0h0.8M462.4 72.5h0.8M482.1 64.1h0.8M480.2 68.6h0.8M474.8 62.1h0.8M474.5 54.0h0.8M471.1 67.9h0.8M465.5 71.5h0.8M482.5 60.3h0.8M471.2 71.3h0.8M464.3 77.6h0.8M471.7 73.3h0.8M469.0 74.0h0.8M477.3 58.1h0.8M474.7 63.1h0.8M471.0 69.7h0.8M473.8 75.9h0.8M473.1 72.8h0.8M476.5 65.4h0.8M471.8 56.8h0.8M471.9 71.6h0.8M467.9 70.2h0.8M479.1 68.6h0.8M465.3 77.8h0.8M460.2 69.8h0.8M466.1 68.9h0.8M472.9 79.2h0.8M478.1 56.2h0.8M475.3 65.1h0.8M469.8 68.2h0.8M470.4 67.2h0.8M469.7 61.6h0.8M484.1 63.0h0.8M458.6 76.3h0.8M463.0 62.3h0.8M469.8 59.7h0.8M468.5 60.0h0.8M474.3 61.1h0.8M472.2 54.4h0.8M482.1 61.7h0.8M472.1 65.4h0.8M468.0 66.9h0.8M468.5 60.7h0.8M470.0 63.7h0.8M472.8 68.9h0.8M474.3 64.1h0.8M470.6 63.5h0.8M472.7 86.0h0.8M455.6 79.7h0.8M471.7 85.8h0.8M466.6 77.5h0.8M456.9 88.4h0.8M460.5 72.8h0.8M461.1 86.0h0.8M465.3 83.1h0.8M462.1 89.0h0.8M459.5 85.7h0.8M465.1 87.6h0.8M459.3 84.9h0.8M472.9 80.8h0.8M457.8 74.2h0.8M471.4 90.8h0.8M466.5 66.9h0.8M462.2 108.6h0.8M467.3 96.2h0.8M452.0 76.4h0.8M470.2 97.4h0.8M469.3 82.5h0.8M456.4 79.8h0.8M461.5 102.4h0.8M472.1 95.4h0.8M459.0 100.0h0.8M468.2 89.6h0.8M463.6 99.4h0.8M457.4 83.5h0.8M460.3 69.5h0.8M469.3 80.9h0.8M472.6 101.4h0.8M467.1 84.6h0.8M463.7 101.0h0.8M468.3 88.9h0.8M458.7 104.5h0.8M472.5 86.3h0.8M458.1 98.3h0.8M452.9 87.9h0.8M466.8 85.4h0.8M460.6 82.1h0.8M463.0 96.2h0.8M458.4 89.3h0.8M461.8 79.7h0.8M462.6 73.5h0.8M472.9 84.2h0.8M460.9 108.4h0.8M472.4 92.9h0.8M457.2 71.7h0.8M470.3 100.3h0.8M463.7 108.6h0.8M458.6 81.5h0.8M466.4 77.6h0.8M462.4 103.3h0.8M459.0 89.2h0.8M465.3 88.9h0.8M457.1 91.6h0.8M461.5 82.0h0.8M473.1 87.6h0.8M467.7 90.2h0.8M464.1 81.6h0.8M466.3 84.2h0.8M468.0 88.9h0.8M457.0 101.7h0.8M473.5 92.0h0.8M465.7 81.1h0.8M463.4 88.7h0.8M467.5 81.1h0.8M467.9 78.1h0.8M464.1 89.3h0.8M469.4 70.1h0.8M465.8 99.2h0.8M456.9 91.5h0.8M457.6 94.4h0.8M469.6 93.5h0.8M465.4 106.2h0.8M464.9 79.6h0.8M454.3 82.6h0.8M465.6 100.8h0.8M459.3 85.6h0.8M472.7 86.2h0.8M460.5 91.1h0.8M454.7 92.2h0.8M464.9 74.5h0.8M466.5 80.7h0.8M467.8 82.5h0.8M464.6 76.0h0.8M465.9 95.6h0.8M466.1 82.8h0.8M468.7 73.9h0.8M470.8 84.8h0.8M472.9 96.4h0.8M460.2 104.5h0.8M453.4 94.4h0.8M459.1 76.2h0.8M449.0 80.1h0.8M467.2 76.2h0.8M467.7 86.0h0.8M463.8 81.7h0.8M460.0 93.8h0.8M460.0 98.9h0.8M471.8 69.6h0.8M460.0 78.5h0.8M450.3 87.4h0.8M472.2 92.9h0.8M453.1 78.8h0.8M456.2 90.7h0.8M465.3 109.1h0.8M458.4 94.2h0.8M466.1 80.1h0.8M464.7 76.2h0.8M465.8 90.5h0.8M458.6 85.3h0.8M457.4 77.7h0.8M463.9 101.6h0.8M464.4 82.0h0.8M467.0 79.1h0.8M461.8 91.8h0.8M474.6 104.4h0.8M470.0 88.5h0.8M464.6 95.8h0.8M452.7 77.6h0.8M467.3 82.9h0.8M465.3 95.3h0.8M460.1 93.9h0.8M460.1 97.9h0.8M459.7 87.8h0.8M468.6 91.8h0.8M466.9 94.5h0.8M457.1 84.4h0.8M461.1 85.9h0.8M460.7 71.0h0.8M472.9 83.5h0.8M459.4 92.8h0.8M451.6 93.9h0.8M455.6 80.6h0.8M465.8 96.6h0.8M465.5 93.2h0.8M450.1 80.8h0.8M456.4 93.5h0.8M453.6 92.5h0.8M467.4 78.1h0.8M468.2 78.5h0.8M449.4 82.6h0.8M460.1 91.1h0.8M470.1 91.6h0.8M463.5 86.6h0.8M462.6 85.4h0.8M472.3 93.7h0.8M457.1 101.3h0.8M472.0 80.9h0.8M457.6 85.8h0.8M458.9 83.5h0.8M473.8 90.4h0.8M465.7 75.8h0.8M458.6 86.2h0.8M463.8 71.5h0.8M461.3 104.4h0.8M456.9 90.3h0.8M477.3 77.6h0.8M458.8 83.6h0.8M469.4 89.9h0.8M461.6 74.5h0.8M467.3 76.0h0.8M477.0 88.3h0.8M478.6 94.1h0.8M472.2 85.1h0.8M463.3 95.0h0.8M448.2 89.1h0.8M463.8 72.7h0.8M470.9 98.3h0.8M468.0 92.5h0.8M471.5 78.3h0.8M465.1 74.6h0.8M450.8 87.0h0.8M469.8 98.8h0.8M463.5 83.9h0.8M462.4 94.1h0.8M456.2 92.9h0.8M457.1 97.1h0.8M455.4 92.6h0.8M468.2 78.3h0.8M463.3 92.7h0.8M469.0 79.3h0.8M454.3 84.5h0.8M463.3 84.8h0.8M462.8 81.3h0.8M459.6 85.1h0.8M463.8 101.5h0.8M460.8 97.7h0.8M466.8 84.7h0.8M467.0 86.4h0.8M466.5 91.3h0.8M470.0 92.6h0.8M458.4 98.0h0.8M471.3 84.4h0.8M464.4 86.9h0.8M462.6 100.0h0.8M464.7 84.8h0.8M463.3 87.4h0.8M455.9 102.7h0.8M477.8 82.6h0.8M453.1 98.4h0.8M456.3 84.2h0.8M469.1 103.0h0.8M449.7 91.7h0.8M467.4 77.5h0.8M466.6 78.8h0.8M462.1 97.0h0.8M453.9 88.1h0.8M453.8 81.9h0.8M460.1 101.5h0.8M452.5 103.9h0.8M467.4 106.9h0.8M455.4 77.6h0.8M462.1 103.8h0.8M464.4 107.2h0.8M471.1 87.0h0.8M462.4 76.9h0.8M460.5 85.0h0.8M465.9 71.3h0.8M468.2 79.6h0.8M458.1 74.9h0.8M465.7 88.3h0.8M467.7 77.1h0.8M462.2 85.1h0.8M463.7 71.1h0.8M463.2 81.8h0.8M468.7 90.6h0.8M465.1 66.3h0.8M468.1 89.5h0.8M468.0 91.7h0.8M459.2 83.2h0.8M473.2 77.4h0.8M452.5 92.7h0.8M458.4 92.2h0.8M471.4 95.2h0.8M456.4 95.9h0.8M468.2 77.4h0.8M464.9 107.4h0.8M457.4 80.4h0.8M461.5 107.4h0.8M469.7 79.0h0.8M462.8 84.8h0.8M453.6 82.6h0.8M470.2 82.2h0.8M456.8 91.2h0.8M463.3 97.7h0.8M454.9 82.3h0.8M464.3 93.8h0.8M469.4 76.2h0.8M471.3 93.2h0.8M454.6 87.7h0.8M463.1 86.5h0.8M466.4 80.8h0.8M465.4 81.5h0.8M464.2 89.6h0.8M469.6 89.8h0.8M454.4 90.2h0.8M464.6 100.1h0.8M469.1 102.8h0.8M462.5 69.5h0.8M462.7 92.3h0.8M472.4 78.7h0.8M459.4 95.6h0.8M452.2 103.1h0.8M460.6 95.3h0.8M462.4 98.7h0.8M476.6 78.5h0.8M464.8 95.4h0.8M472.1 88.2h0.8M474.0 87.6h0.8M448.7 82.9h0.8M464.9 69.4h0.8M462.1 75.7h0.8M461.2 86.5h0.8M458.8 102.5h0.8M453.4 75.8h0.8M463.4 80.9h0.8M471.3 92.3h0.8M469.2 74.9h0.8M467.2 100.6h0.8M472.1 102.9h0.8M461.5 84.4h0.8M460.6 65.7h0.8M468.1 88.2h0.8M466.2 101.5h0.8M464.8 83.3h0.8M455.7 91.2h0.8M472.0 84.1h0.8M463.6 102.0h0.8M459.4 71.7h0.8M463.2 81.2h0.8M464.6 105.9h0.8M457.7 87.4h0.8M476.5 80.9h0.8M452.6 85.1h0.8M461.3 84.4h0.8M451.7 79.8h0.8M458.0 87.5h0.8M467.9 97.4h0.8M455.9 94.9h0.8M455.0 101.3h0.8M462.3 88.2h0.8M455.8 84.7h0.8M466.1 78.0h0.8M463.6 71.8h0.8M471.3 84.5h0.8M463.0 81.4h0.8M469.3 94.1h0.8M464.7 83.5h0.8M476.3 87.3h0.8M458.3 72.4h0.8M460.7 101.0h0.8M456.8 97.5h0.8M462.6 95.9h0.8M458.3 73.2h0.8M458.8 83.2h0.8M466.5 109.6h0.8M463.6 85.3h0.8M449.8 93.7h0.8M464.1 98.2h0.8M452.1 87.0h0.8M467.0 90.3h0.8M477.6 87.5h0.8M476.1 94.5h0.8M454.6 96.0h0.8M464.7 91.1h0.8M467.9 103.5h0.8M459.7 79.8h0.8M471.0 96.0h0.8M471.6 90.9h0.8M460.3 81.8h0.8M464.4 86.7h0.8M466.5 95.0h0.8M464.3 87.3h0.8M453.9 90.6h0.8M460.9 86.7h0.8M460.5 74.9h0.8M462.1 107.4h0.8M454.7 90.1h0.8M475.3 78.4h0.8M462.7 93.3h0.8M457.3 73.5h0.8M458.8 102.3h0.8M461.3 96.7h0.8M463.5 80.9h0.8M464.1 98.8h0.8M459.5 78.0h0.8M473.2 74.4h0.8M460.7 94.4h0.8M463.2 103.3h0.8M459.9 82.6h0.8M468.0 99.0h0.8M454.1 98.5h0.8M467.1 92.0h0.8M468.9 87.1h0.8M456.4 102.5h0.8M462.9 86.7h0.8M472.9 104.8h0.8M454.6 85.8h0.8M462.0 96.0h0.8M459.8 87.3h0.8M458.6 80.6h0.8M461.2 92.8h0.8M460.8 81.1h0.8M455.8 100.3h0.8M464.0 93.7h0.8M472.7 82.3h0.8M457.2 72.5h0.8M469.7 70.4h0.8M463.1 87.8h0.8M477.3 95.6h0.8M459.7 72.0h0.8M461.3 81.3h0.8M462.6 79.6h0.8M463.2 72.1h0.8M465.6 82.9h0.8M464.7 92.9h0.8M464.7 79.7h0.8M460.7 86.8h0.8M451.4 64.7h0.8M442.2 65.9h0.8M434.3 69.7h0.8M445.9 76.4h0.8M456.9 75.0h0.8M448.6 71.5h0.8M443.7 59.6h0.8M437.4 68.3h0.8M455.1 66.5h0.8M443.9 72.8h0.8M438.5 76.9h0.8M444.3 57.1h0.8M454.9 76.3h0.8M445.9 62.6h0.8M448.6 79.1h0.8M436.8 66.5h0.8M450.4 70.6h0.8M438.0 69.0h0.8M442.5 68.2h0.8M442.0 72.3h0.8M444.4 72.4h0.8M440.4 70.1h0.8M440.2 72.4h0.8M450.7 57.5h0.8M455.5 66.5h0.8M438.1 67.4h0.8M435.2 67.4h0.8M448.0 56.8h0.8M454.1 70.9h0.8M436.1 66.3h0.8M446.5 67.1h0.8M445.7 64.1h0.8M445.3 65.6h0.8M448.2 71.4h0.8M444.7 68.2h0.8M437.7 66.7h0.8M452.2 68.0h0.8M452.9 72.4h0.8M431.2 62.3h0.8M447.5 67.7h0.8M448.2 66.2h0.8M445.6 56.5h0.8M445.8 77.3h0.8M447.6 61.2h0.8M436.5 64.0h0.8M438.7 71.1h0.8M446.2 69.4h0.8M435.3 74.4h0.8M440.9 56.2h0.8M441.1 63.4h0.8M442.1 74.1h0.8M445.2 76.7h0.8M449.7 69.7h0.8M436.3 65.6h0.8M442.7 74.5h0.8M444.9 55.5h0.8M436.4 70.2h0.8M453.5 70.5h0.8M445.4 64.7h0.8M449.3 67.0h0.8M431.8 62.0h0.8M439.8 55.2h0.8M440.2 68.1h0.8M440.8 64.8h0.8M451.9 65.3h0.8M442.1 58.3h0.8M445.3 78.5h0.8M448.8 64.6h0.8M443.0 71.3h0.8M451.4 62.2h0.8M441.6 72.6h0.8M456.7 61.3h0.8M432.1 67.8h0.8M446.5 71.6h0.8M445.2 64.4h0.8M448.7 58.5h0.8M451.3 59.4h0.8M446.2 71.8h0.8M437.2 60.3h0.8M454.2 58.8h0.8M448.6 68.3h0.8M445.7 62.4h0.8M445.4 61.0h0.8M440.6 66.4h0.8M441.3 69.4h0.8M434.8 65.9h0.8M433.0 70.7h0.8M449.7 75.9h0.8M440.1 66.8h0.8M439.8 69.3h0.8M454.7 71.3h0.8M458.6 74.0h0.8M433.1 64.1h0.8M442.2 64.2h0.8M441.4 71.1h0.8M442.0 66.2h0.8M448.6 59.1h0.8M456.1 70.5h0.8M446.5 69.8h0.8M431.9 69.7h0.8M440.0 69.9h0.8M442.3 60.3h0.8M451.6 59.1h0.8M447.6 68.1h0.8M438.3 68.6h0.8M434.0 67.1h0.8M457.7 59.4h0.8M449.2 57.8h0.8M436.7 66.7h0.8M442.6 70.4h0.8M450.2 58.5h0.8M453.8 60.4h0.8M433.5 67.6h0.8M445.2 64.4h0.8M436.4 70.2h0.8M435.0 65.8h0.8M444.7 64.2h0.8M433.2 71.9h0.8M441.5 72.6h0.8M435.7 67.2h0.8M450.8 71.5h0.8M435.9 72.2h0.8M441.3 60.0h0.8M449.9 61.1h0.8M444.3 66.2h0.8M440.3 65.1h0.8M436.1 70.2h0.8M446.9 65.0h0.8M442.3 73.5h0.8M447.1 69.3h0.8M444.4 80.1h0.8M441.2 64.1h0.8M439.8 73.1h0.8M450.5 62.0h0.8M460.8 65.8h0.8M440.8 71.1h0.8M433.2 64.1h0.8M439.1 56.8h0.8M445.2 74.8h0.8M450.6 64.5h0.8M434.1 67.6h0.8M436.9 58.6h0.8M451.8 78.6h0.8M437.3 67.9h0.8M456.3 62.1h0.8M435.5 71.0h0.8M445.0 70.6h0.8M445.6 63.8h0.8M450.4 56.2h0.8M437.1 75.5h0.8M440.6 76.9h0.8M442.1 69.8h0.8M448.7 66.4h0.8M440.2 69.7h0.8M450.2 69.6h0.8M446.0 69.7h0.8M445.8 75.1h0.8M449.8 73.1h0.8M453.0 73.4h0.8M444.0 70.0h0.8M440.2 70.7h0.8M443.9 62.5h0.8M439.0 75.9h0.8M461.1 68.7h0.8M443.9 64.9h0.8M442.2 69.2h0.8M446.5 73.7h0.8M447.2 73.6h0.8M453.9 70.6h0.8M436.5 63.3h0.8M437.9 67.0h0.8M445.3 75.6h0.8M439.3 67.5h0.8M444.0 69.8h0.8M449.0 71.8h0.8M452.6 75.0h0.8M438.9 64.4h0.8M445.9 62.0h0.8M451.7 75.6h0.8M448.7 63.6h0.8" stroke="#000" stroke-width="0.8" fill="none"/>
<path d="M432.4 81.0h0.7M452.9 88.0h0.7M450.9 86.0h0.7M452.6 87.5h0.7M443.0 87.4h0.7M448.0 82.0h0.7M443.6 85.3h0.7M451.7 85.2h0.7M440.9 79.4h0.7M447.8 79.2h0.7M444.8 90.9h0.7M442.7 85.6h0.7M444.1 91.9h0.7M441.5 85.1h0.7M452.7 84.4h0.7M452.2 91.6h0.7M449.7 77.7h0.7M436.3 88.6h0.7M438.8 87.4h0.7M443.7 90.2h0.7M433.7 86.7h0.7M437.4 90.3h0.7M449.8 89.7h0.7M448.8 87.2h0.7M452.9 80.5h0.7M446.6 99.9h0.7M433.8 98.2h0.7M438.1 103.0h0.7M464.8 109.9h0.7M447.4 96.1h0.7M438.2 110.2h0.7M435.9 106.4h0.7M462.6 101.2h0.7M444.7 101.9h0.7M463.0 108.3h0.7M458.8 97.6h0.7M440.0 100.9h0.7M442.1 104.5h0.7M451.4 109.4h0.7M443.5 102.7h0.7M451.4 108.3h0.7M456.4 98.1h0.7M439.7 98.1h0.7M437.8 102.8h0.7M442.7 102.8h0.7M445.0 96.0h0.7M458.4 104.5h0.7M462.1 99.1h0.7M435.2 103.0h0.7M436.0 102.3h0.7M444.3 108.9h0.7M434.5 110.4h0.7M450.1 110.6h0.7M454.2 110.7h0.7M439.7 103.7h0.7M450.1 110.7h0.7M466.0 111.0h0.7M443.2 103.9h0.7M458.9 102.5h0.7M441.0 105.8h0.7M461.0 106.4h0.7M439.4 99.5h0.7M447.4 101.7h0.7M460.9 105.6h0.7M451.2 110.4h0.7M438.8 97.0h0.7M458.9 109.1h0.7M462.0 97.2h0.7M456.7 109.9h0.7M431.5 99.3h0.7M460.6 99.2h0.7M463.1 98.0h0.7M466.5 99.3h0.7M432.0 106.9h0.7M435.0 109.6h0.7M448.3 101.3h0.7M462.4 98.7h0.7M444.2 100.9h0.7M452.5 102.0h0.7M460.7 111.1h0.7M437.0 100.2h0.7M447.5 102.4h0.7M454.6 105.8h0.7M442.6 108.6h0.7M458.4 108.3h0.7M441.4 102.7h0.7M436.0 98.3h0.7M463.8 99.8h0.7M456.7 97.8h0.7M448.6 101.6h0.7M434.0 106.3h0.7M464.5 98.0h0.7M464.3 97.0h0.7M438.9 103.3h0.7M461.5 100.8h0.7M457.0 100.6h0.7M445.0 98.3h0.7M451.0 103.3h0.7M443.5 100.2h0.7M439.2 106.2h0.7M465.0 98.5h0.7M436.1 106.6h0.7M435.1 111.1h0.7M454.2 102.4h0.7M443.5 107.2h0.7M444.1 102.9h0.7M442.3 97.0h0.7M458.9 105.0h0.7M446.1 106.9h0.7M446.6 106.8h0.7M456.0 106.0h0.7M452.2 110.2h0.7M454.8 99.2h0.7M440.4 104.8h0.7M433.5 99.3h0.7M449.2 111.4h0.7M451.9 98.6h0.7M449.1 100.0h0.7M449.4 101.8h0.7M465.9 111.1h0.7M464.7 110.3h0.7M437.3 109.9h0.7M452.2 97.3h0.7M461.7 105.8h0.7M440.5 106.4h0.7M432.8 111.4h0.7M441.7 109.0h0.7M433.2 103.9h0.7M444.0 98.5h0.7M462.8 97.2h0.7M436.6 101.1h0.7M434.5 106.0h0.7M451.8 109.2h0.7M433.9 111.3h0.7M452.4 108.1h0.7M436.1 107.1h0.7M462.0 102.2h0.7M444.2 107.1h0.7M455.9 101.5h0.7M452.0 105.4h0.7M463.4 100.5h0.7M447.6 102.0h0.7M464.1 107.5h0.7M441.8 110.0h0.7M460.7 99.5h0.7M443.8 101.0h0.7M435.0 99.7h0.7M442.5 96.0h0.7M445.3 100.4h0.7M453.8 102.0h0.7M454.1 101.7h0.7M461.8 96.6h0.7M449.4 102.3h0.7M459.7 105.7h0.7M432.0 108.9h0.7M450.9 97.8h0.7M444.7 101.0h0.7M441.5 96.3h0.7M438.2 111.1h0.7M443.5 103.0h0.7M466.3 97.0h0.7M462.9 99.9h0.7M458.6 99.3h0.7M450.5 103.7h0.7M434.9 105.7h0.7M446.6 96.5h0.7M440.6 110.4h0.7M436.2 104.0h0.7M437.3 105.5h0.7M457.1 106.1h0.7M437.9 101.0h0.7M444.7 105.0h0.7M452.8 111.1h0.7M447.0 107.8h0.7M460.6 110.7h0.7M449.3 110.4h0.7M460.3 105.3h0.7M441.3 105.9h0.7M432.1 110.6h0.7M461.3 105.9h0.7M432.4 96.4h0.7M461.2 99.7h0.7M453.2 100.3h0.7M447.1 107.9h0.7M449.5 98.9h0.7M444.1 101.2h0.7M454.7 103.1h0.7M438.8 102.3h0.7M451.0 104.2h0.7M452.5 107.5h0.7M448.3 100.6h0.7M452.8 101.1h0.7M452.5 107.2h0.7M455.8 104.1h0.7M441.1 109.5h0.7M464.5 103.5h0.7M448.7 104.8h0.7M450.4 102.7h0.7M432.3 104.0h0.7M460.1 99.5h0.7M455.7 102.7h0.7M432.0 98.8h0.7M451.8 97.9h0.7M442.3 110.4h0.7M432.3 104.4h0.7M466.1 104.4h0.7M443.2 102.7h0.7M447.5 104.7h0.7M454.8 96.4h0.7M465.5 96.2h0.7M453.0 101.7h0.7M439.0 100.3h0.7M433.8 109.7h0.7M460.5 100.7h0.7M443.8 109.6h0.7M437.8 99.2h0.7M440.2 110.2h0.7M449.0 101.6h0.7M444.3 109.1h0.7M454.9 100.0h0.7M462.8 104.5h0.7M440.0 110.7h0.7M451.8 96.4h0.7M440.7 105.9h0.7M452.5 105.2h0.7M441.0 109.6h0.7M443.1 100.1h0.7M461.6 107.8h0.7M457.9 105.0h0.7M446.7 99.0h0.7M438.9 104.2h0.7M444.2 107.2h0.7M453.2 105.3h0.7M438.6 102.5h0.7M450.6 100.7h0.7M438.3 106.8h0.7M464.4 107.2h0.7M463.5 107.5h0.7M454.6 104.5h0.7M460.8 98.3h0.7M445.6 107.2h0.7M465.1 111.3h0.7M433.3 108.0h0.7M448.0 100.0h0.7M459.6 108.7h0.7" stroke="#fff" stroke-width="0.7" fill="none"/>
</g>
<rect x="430.5" y="34.9" width="72.0" height="77.5" fill="none" stroke="#222" stroke-width="0.8"/>
<rect x="458" y="54.5" width="32" height="29.299999999999997" fill="none" stroke="#111" stroke-width="0.8"/>
<text class="sf" x="0" y="0" font-size="8.1" font-weight="bold" text-anchor="middle" transform="translate(463,22.1) scale(0.87,1)">Infected/667-</text>
<text class="sf" x="0" y="0" font-size="8.1" font-weight="bold" text-anchor="middle" transform="translate(463,30.6) scale(0.87,1)">F(ab')<tspan font-size="5" dy="1.5">2</tspan><tspan dy="-1.5">-treated</tspan></text>
<text class="sf" x="457.5" y="51.5" font-size="7.7" font-weight="bold">20.44<tspan font-size="10" dx="1.3" dy="0.6">±</tspan><tspan dx="1.3" dy="-0.6">1.22</tspan></text>
<text class="ss" x="20.5" y="150.5" font-size="10.5" font-weight="bold">B</text>
<line x1="36.8" y1="161" x2="36.8" y2="259.6" stroke="#222" stroke-width="0.7"/>
<line x1="36.8" y1="259.6" x2="150" y2="259.6" stroke="#444" stroke-width="0.6"/>
<line x1="35.3" y1="259.6" x2="36.8" y2="259.6" stroke="#000" stroke-width="0.6"/>
<text class="ss" x="33.3" y="261.40000000000003" font-size="5.2" font-weight="bold" text-anchor="end">0</text>
<line x1="35.3" y1="239.93" x2="36.8" y2="239.93" stroke="#000" stroke-width="0.6"/>
<text class="ss" x="33.3" y="241.73000000000002" font-size="5.2" font-weight="bold" text-anchor="end">5</text>
<line x1="35.3" y1="220.26000000000002" x2="36.8" y2="220.26000000000002" stroke="#000" stroke-width="0.6"/>
<text class="ss" x="33.3" y="222.06000000000003" font-size="5.2" font-weight="bold" text-anchor="end">10</text>
<line x1="35.3" y1="200.59000000000003" x2="36.8" y2="200.59000000000003" stroke="#000" stroke-width="0.6"/>
<text class="ss" x="33.3" y="202.39000000000004" font-size="5.2" font-weight="bold" text-anchor="end">15</text>
<line x1="35.3" y1="180.92000000000002" x2="36.8" y2="180.92000000000002" stroke="#000" stroke-width="0.6"/>
<text class="ss" x="33.3" y="182.72000000000003" font-size="5.2" font-weight="bold" text-anchor="end">20</text>
<line x1="35.3" y1="161.25" x2="36.8" y2="161.25" stroke="#000" stroke-width="0.6"/>
<text class="ss" x="33.3" y="163.05" font-size="5.2" font-weight="bold" text-anchor="end">25</text>
<line x1="61.05" y1="249.9617" x2="61.05" y2="249.3716" stroke="#888" stroke-width="0.7"/>
<rect x="51.3" y="249.9617" width="19.5" height="9.638300000000015" fill="#fff" stroke="#888" stroke-width="0.6"/>
<line x1="80.65" y1="200.78670000000002" x2="80.65" y2="186.23090000000002" stroke="#888" stroke-width="0.7"/>
<rect x="70.8" y="200.78670000000002" width="19.700000000000003" height="58.8133" fill="#c9c9c9" stroke="#999" stroke-width="0.6"/>
<line x1="100.25" y1="249.76500000000001" x2="100.25" y2="249.3716" stroke="#888" stroke-width="0.7"/>
<rect x="90.5" y="249.76500000000001" width="19.5" height="9.835000000000008" fill="#000" stroke="#000" stroke-width="0.6"/>
<line x1="120.0" y1="179.7398" x2="120.0" y2="172.6586" stroke="#888" stroke-width="0.7"/>
<rect x="110" y="179.7398" width="20" height="79.86020000000002" fill="#6e6e6e" stroke="#555" stroke-width="0.6"/>
<line x1="139.75" y1="193.11540000000002" x2="139.75" y2="181.31340000000003" stroke="#888" stroke-width="0.7"/>
<rect x="130" y="193.11540000000002" width="19.5" height="66.4846" fill="#303030" stroke="#222" stroke-width="0.6"/>
<text class="ss" x="0" y="0" font-size="8" text-anchor="middle" transform="translate(22,208.5) rotate(-90)">Tregs (% of CD4<tspan font-size="5" dy="-3">+</tspan><tspan dy="3"> T cells)</tspan></text>
<path d="M61.8 173.8v-2q0 -1 1 -1H79.5q1 0 1 1v2" fill="none" stroke="#000" stroke-width="0.8"/>
<path d="M80.5 173.8v-2q0 -1 1 -1H99.8q1 0 1 1v2" fill="none" stroke="#000" stroke-width="0.8"/>
<path d="M100.8 173.8v-2q0 -1 1 -1H119.8q1 0 1 1v2" fill="none" stroke="#000" stroke-width="0.8"/>
<path d="M80.5 165v-2q0 -1 1 -1H119.6q1 0 1 1v2" fill="none" stroke="#000" stroke-width="0.8"/>
<path d="M120.6 165v-2q0 -1 1 -1H139q1 0 1 1v2" fill="none" stroke="#000" stroke-width="0.8"/>
<text class="ss" x="71.8" y="172.8" font-size="9.8" font-weight="bold" text-anchor="middle" letter-spacing="1.3">**</text>
<text class="ss" x="91.6" y="172.8" font-size="9.8" font-weight="bold" text-anchor="middle" letter-spacing="1.3">**</text>
<text class="ss" x="112.1" y="172.8" font-size="9.8" font-weight="bold" text-anchor="middle" letter-spacing="1.3">**</text>
<text class="ss" x="103" y="160.5" font-size="8.8" text-anchor="middle">ns</text>
<text class="ss" x="130" y="160.5" font-size="8.8" text-anchor="middle">ns</text>
<text class="ss" x="0" y="0" font-size="7.05" text-anchor="end" transform="translate(61.5,265.5) rotate(-45)">Non-infected/non-treated</text>
<text class="ss" x="0" y="0" font-size="7.05" text-anchor="end" transform="translate(82.2,265.5) rotate(-45)">Infected/non-treated</text>
<text class="ss" x="0" y="0" font-size="7.05" text-anchor="end" transform="translate(102.8,265.5) rotate(-45)">Infected/667-treated</text>
<text class="ss" x="0" y="0" font-size="7.05" text-anchor="end" transform="translate(121.5,265.5) rotate(-45)">Infected/672-treated</text>
<text class="ss" x="0" y="0" font-size="7.05" text-anchor="end" transform="translate(143,265.5) rotate(-45)">Infected/667-F(ab')<tspan font-size="5" dy="1.5">2</tspan><tspan dy="-1.5">-treated</tspan></text>
<text class="ss" x="172.5" y="150.5" font-size="10.5" font-weight="bold">C</text>
<text class="ss" x="0" y="0" font-size="7.85" text-anchor="middle" transform="translate(180.3,206.5) rotate(-90)">Tregs (% of CD4<tspan font-size="5" dy="-3">+</tspan><tspan dy="3"> T cells)</tspan></text>
<line x1="197.3" y1="147.3" x2="213.8" y2="147.3" stroke="#000" stroke-width="0.8"/>
<circle cx="205.3" cy="147.3" r="2.4"/>
<text class="ss" x="217.8" y="149.70000000000002" font-size="7.1">Non-infected/non-treated</text>
<line x1="319.5" y1="147.3" x2="336.0" y2="147.3" stroke="#000" stroke-width="0.8"/>
<path d="M327.5 144.3l2.8 5.3h-5.6z"/>
<text class="ss" x="340.0" y="149.70000000000002" font-size="7.1">Infected/non-treated</text>
<line x1="426.5" y1="147.3" x2="443.0" y2="147.3" stroke="#000" stroke-width="0.8"/>
<rect x="432.2" y="145.0" width="4.6" height="4.6"/>
<text class="ss" x="447.0" y="149.70000000000002" font-size="7.1">Infected/667-treated</text>
<line x1="195.8" y1="157" x2="195.8" y2="253.8" stroke="#000" stroke-width="0.8"/>
<line x1="195.8" y1="253.8" x2="290" y2="253.8" stroke="#000" stroke-width="0.8"/>
<line x1="194.20000000000002" y1="253.8" x2="195.8" y2="253.8" stroke="#000" stroke-width="0.6"/>
<text class="sf" x="192.8" y="255.60000000000002" font-size="5.4" text-anchor="end">0</text>
<line x1="194.20000000000002" y1="229.85000000000002" x2="195.8" y2="229.85000000000002" stroke="#000" stroke-width="0.6"/>
<text class="sf" x="192.8" y="231.65000000000003" font-size="5.4" text-anchor="end">0,4</text>
<line x1="194.20000000000002" y1="205.9" x2="195.8" y2="205.9" stroke="#000" stroke-width="0.6"/>
<text class="sf" x="192.8" y="207.70000000000002" font-size="5.4" text-anchor="end">0,8</text>
<line x1="194.20000000000002" y1="181.95" x2="195.8" y2="181.95" stroke="#000" stroke-width="0.6"/>
<text class="sf" x="192.8" y="183.75" font-size="5.4" text-anchor="end">1,2</text>
<line x1="194.20000000000002" y1="158.0" x2="195.8" y2="158.0" stroke="#000" stroke-width="0.6"/>
<text class="sf" x="192.8" y="159.8" font-size="5.4" text-anchor="end">1,6</text>
<line x1="206.58" y1="253.8" x2="206.58" y2="255.20000000000002" stroke="#000" stroke-width="0.6"/>
<text class="sf" x="201.3" y="262.40000000000003" font-size="5.2" text-anchor="middle">7</text>
<line x1="217.14000000000001" y1="253.8" x2="217.14000000000001" y2="255.20000000000002" stroke="#000" stroke-width="0.6"/>
<text class="sf" x="211.86" y="262.40000000000003" font-size="5.2" text-anchor="middle">9</text>
<line x1="227.70000000000002" y1="253.8" x2="227.70000000000002" y2="255.20000000000002" stroke="#000" stroke-width="0.6"/>
<text class="sf" x="222.42000000000002" y="262.40000000000003" font-size="5.2" text-anchor="middle">11</text>
<line x1="238.26000000000002" y1="253.8" x2="238.26000000000002" y2="255.20000000000002" stroke="#000" stroke-width="0.6"/>
<text class="sf" x="232.98000000000002" y="262.40000000000003" font-size="5.2" text-anchor="middle">14</text>
<line x1="248.82000000000002" y1="253.8" x2="248.82000000000002" y2="255.20000000000002" stroke="#000" stroke-width="0.6"/>
<text class="sf" x="243.54000000000002" y="262.40000000000003" font-size="5.2" text-anchor="middle">17</text>
<line x1="259.38" y1="253.8" x2="259.38" y2="255.20000000000002" stroke="#000" stroke-width="0.6"/>
<text class="sf" x="254.10000000000002" y="262.40000000000003" font-size="5.2" text-anchor="middle">19</text>
<line x1="269.94" y1="253.8" x2="269.94" y2="255.20000000000002" stroke="#000" stroke-width="0.6"/>
<text class="sf" x="264.66" y="262.40000000000003" font-size="5.2" text-anchor="middle">21</text>
<line x1="280.5" y1="253.8" x2="280.5" y2="255.20000000000002" stroke="#000" stroke-width="0.6"/>
<text class="sf" x="275.22" y="262.40000000000003" font-size="5.2" text-anchor="middle">28</text>
<line x1="291.06" y1="253.8" x2="291.06" y2="255.20000000000002" stroke="#000" stroke-width="0.6"/>
<text class="sf" x="285.78000000000003" y="262.40000000000003" font-size="5.2" text-anchor="middle">35</text>
<polyline points="201.30,242.42 211.86,234.04 222.42,223.86 232.98,199.91 243.54,193.93 254.10,193.93 264.66,181.95 275.22,175.96 285.78,180.75" fill="none" stroke="#000" stroke-width="0.9"/>
<line x1="201.3" y1="242.42375" x2="201.3" y2="237.63375000000002" stroke="#000" stroke-width="0.8"/>
<line x1="200.10000000000002" y1="237.63375000000002" x2="202.5" y2="237.63375000000002" stroke="#000" stroke-width="0.7"/>
<line x1="201.3" y1="242.42375" x2="201.3" y2="247.21375" stroke="#000" stroke-width="0.8"/>
<line x1="200.10000000000002" y1="247.21375" x2="202.5" y2="247.21375" stroke="#000" stroke-width="0.7"/>
<path d="M201.30 240.02l2.05 4.6h-4.1z"/>
<line x1="211.86" y1="234.04125000000002" x2="211.86" y2="232.24500000000003" stroke="#000" stroke-width="0.8"/>
<line x1="210.66000000000003" y1="232.24500000000003" x2="213.06" y2="232.24500000000003" stroke="#000" stroke-width="0.7"/>
<line x1="211.86" y1="234.04125000000002" x2="211.86" y2="235.8375" stroke="#000" stroke-width="0.8"/>
<line x1="210.66000000000003" y1="235.8375" x2="213.06" y2="235.8375" stroke="#000" stroke-width="0.7"/>
<path d="M211.86 231.64l2.05 4.6h-4.1z"/>
<line x1="222.42000000000002" y1="223.8625" x2="222.42000000000002" y2="220.86875" stroke="#000" stroke-width="0.8"/>
<line x1="221.22000000000003" y1="220.86875" x2="223.62" y2="220.86875" stroke="#000" stroke-width="0.7"/>
<line x1="222.42000000000002" y1="223.8625" x2="222.42000000000002" y2="226.85625000000002" stroke="#000" stroke-width="0.8"/>
<line x1="221.22000000000003" y1="226.85625000000002" x2="223.62" y2="226.85625000000002" stroke="#000" stroke-width="0.7"/>
<path d="M222.42 221.46l2.05 4.6h-4.1z"/>
<line x1="232.98000000000002" y1="199.9125" x2="232.98000000000002" y2="198.11625" stroke="#000" stroke-width="0.8"/>
<line x1="231.78000000000003" y1="198.11625" x2="234.18" y2="198.11625" stroke="#000" stroke-width="0.7"/>
<line x1="232.98000000000002" y1="199.9125" x2="232.98000000000002" y2="210.69" stroke="#000" stroke-width="0.8"/>
<line x1="231.78000000000003" y1="210.69" x2="234.18" y2="210.69" stroke="#000" stroke-width="0.7"/>
<path d="M232.98 197.51l2.05 4.6h-4.1z"/>
<line x1="243.54000000000002" y1="193.925" x2="243.54000000000002" y2="190.93125" stroke="#000" stroke-width="0.8"/>
<line x1="242.34000000000003" y1="190.93125" x2="244.74" y2="190.93125" stroke="#000" stroke-width="0.7"/>
<line x1="243.54000000000002" y1="193.925" x2="243.54000000000002" y2="197.5175" stroke="#000" stroke-width="0.8"/>
<line x1="242.34000000000003" y1="197.5175" x2="244.74" y2="197.5175" stroke="#000" stroke-width="0.7"/>
<path d="M243.54 191.53l2.05 4.6h-4.1z"/>
<line x1="254.10000000000002" y1="193.925" x2="254.10000000000002" y2="190.93125" stroke="#000" stroke-width="0.8"/>
<line x1="252.90000000000003" y1="190.93125" x2="255.3" y2="190.93125" stroke="#000" stroke-width="0.7"/>
<line x1="254.10000000000002" y1="193.925" x2="254.10000000000002" y2="197.5175" stroke="#000" stroke-width="0.8"/>
<line x1="252.90000000000003" y1="197.5175" x2="255.3" y2="197.5175" stroke="#000" stroke-width="0.7"/>
<path d="M254.10 191.53l2.05 4.6h-4.1z"/>
<line x1="264.66" y1="181.95" x2="264.66" y2="178.95624999999998" stroke="#000" stroke-width="0.8"/>
<line x1="263.46000000000004" y1="178.95624999999998" x2="265.86" y2="178.95624999999998" stroke="#000" stroke-width="0.7"/>
<line x1="264.66" y1="181.95" x2="264.66" y2="184.94375" stroke="#000" stroke-width="0.8"/>
<line x1="263.46000000000004" y1="184.94375" x2="265.86" y2="184.94375" stroke="#000" stroke-width="0.7"/>
<path d="M264.66 179.55l2.05 4.6h-4.1z"/>
<line x1="275.22" y1="175.9625" x2="275.22" y2="173.5675" stroke="#000" stroke-width="0.8"/>
<line x1="274.02000000000004" y1="173.5675" x2="276.42" y2="173.5675" stroke="#000" stroke-width="0.7"/>
<line x1="275.22" y1="175.9625" x2="275.22" y2="187.9375" stroke="#000" stroke-width="0.8"/>
<line x1="274.02000000000004" y1="187.9375" x2="276.42" y2="187.9375" stroke="#000" stroke-width="0.7"/>
<path d="M275.22 173.56l2.05 4.6h-4.1z"/>
<line x1="285.78000000000003" y1="180.7525" x2="285.78000000000003" y2="177.16" stroke="#000" stroke-width="0.8"/>
<line x1="284.58000000000004" y1="177.16" x2="286.98" y2="177.16" stroke="#000" stroke-width="0.7"/>
<line x1="285.78000000000003" y1="180.7525" x2="285.78000000000003" y2="185.5425" stroke="#000" stroke-width="0.8"/>
<line x1="284.58000000000004" y1="185.5425" x2="286.98" y2="185.5425" stroke="#000" stroke-width="0.7"/>
<path d="M285.78 178.35l2.05 4.6h-4.1z"/>
<polyline points="201.30,240.03 211.86,245.42 222.42,234.64 232.98,232.25 243.54,222.67 254.10,211.89 264.66,205.90 275.22,195.72 285.78,198.72" fill="none" stroke="#000" stroke-width="0.9"/>
<line x1="201.3" y1="240.02875" x2="201.3" y2="234.04125" stroke="#000" stroke-width="0.8"/>
<line x1="200.10000000000002" y1="234.04125" x2="202.5" y2="234.04125" stroke="#000" stroke-width="0.7"/>
<line x1="201.3" y1="240.02875" x2="201.3" y2="246.01625" stroke="#000" stroke-width="0.8"/>
<line x1="200.10000000000002" y1="246.01625" x2="202.5" y2="246.01625" stroke="#000" stroke-width="0.7"/>
<circle cx="201.30" cy="240.03" r="2.1"/>
<line x1="211.86" y1="245.41750000000002" x2="211.86" y2="239.43" stroke="#000" stroke-width="0.8"/>
<line x1="210.66000000000003" y1="239.43" x2="213.06" y2="239.43" stroke="#000" stroke-width="0.7"/>
<line x1="211.86" y1="245.41750000000002" x2="211.86" y2="252.60250000000002" stroke="#000" stroke-width="0.8"/>
<line x1="210.66000000000003" y1="252.60250000000002" x2="213.06" y2="252.60250000000002" stroke="#000" stroke-width="0.7"/>
<circle cx="211.86" cy="245.42" r="2.1"/>
<line x1="222.42000000000002" y1="234.64000000000001" x2="222.42000000000002" y2="231.64625" stroke="#000" stroke-width="0.8"/>
<line x1="221.22000000000003" y1="231.64625" x2="223.62" y2="231.64625" stroke="#000" stroke-width="0.7"/>
<line x1="222.42000000000002" y1="234.64000000000001" x2="222.42000000000002" y2="237.63375000000002" stroke="#000" stroke-width="0.8"/>
<line x1="221.22000000000003" y1="237.63375000000002" x2="223.62" y2="237.63375000000002" stroke="#000" stroke-width="0.7"/>
<circle cx="222.42" cy="234.64" r="2.1"/>
<line x1="232.98000000000002" y1="232.245" x2="232.98000000000002" y2="226.85625000000002" stroke="#000" stroke-width="0.8"/>
<line x1="231.78000000000003" y1="226.85625000000002" x2="234.18" y2="226.85625000000002" stroke="#000" stroke-width="0.7"/>
<line x1="232.98000000000002" y1="232.245" x2="232.98000000000002" y2="234.64000000000001" stroke="#000" stroke-width="0.8"/>
<line x1="231.78000000000003" y1="234.64000000000001" x2="234.18" y2="234.64000000000001" stroke="#000" stroke-width="0.7"/>
<circle cx="232.98" cy="232.25" r="2.1"/>
<line x1="243.54000000000002" y1="222.66500000000002" x2="243.54000000000002" y2="210.69000000000003" stroke="#000" stroke-width="0.8"/>
<line x1="242.34000000000003" y1="210.69000000000003" x2="244.74" y2="210.69000000000003" stroke="#000" stroke-width="0.7"/>
<line x1="243.54000000000002" y1="222.66500000000002" x2="243.54000000000002" y2="228.65250000000003" stroke="#000" stroke-width="0.8"/>
<line x1="242.34000000000003" y1="228.65250000000003" x2="244.74" y2="228.65250000000003" stroke="#000" stroke-width="0.7"/>
<circle cx="243.54" cy="222.67" r="2.1"/>
<line x1="254.10000000000002" y1="211.88750000000002" x2="254.10000000000002" y2="204.70250000000001" stroke="#000" stroke-width="0.8"/>
<line x1="252.90000000000003" y1="204.70250000000001" x2="255.3" y2="204.70250000000001" stroke="#000" stroke-width="0.7"/>
<line x1="254.10000000000002" y1="211.88750000000002" x2="254.10000000000002" y2="214.88125000000002" stroke="#000" stroke-width="0.8"/>
<line x1="252.90000000000003" y1="214.88125000000002" x2="255.3" y2="214.88125000000002" stroke="#000" stroke-width="0.7"/>
<circle cx="254.10" cy="211.89" r="2.1"/>
<line x1="264.66" y1="205.9" x2="264.66" y2="196.91875000000002" stroke="#000" stroke-width="0.8"/>
<line x1="263.46000000000004" y1="196.91875000000002" x2="265.86" y2="196.91875000000002" stroke="#000" stroke-width="0.7"/>
<line x1="264.66" y1="205.9" x2="264.66" y2="208.89375" stroke="#000" stroke-width="0.8"/>
<line x1="263.46000000000004" y1="208.89375" x2="265.86" y2="208.89375" stroke="#000" stroke-width="0.7"/>
<circle cx="264.66" cy="205.90" r="2.1"/>
<line x1="275.22" y1="195.72125" x2="275.22" y2="183.74625" stroke="#000" stroke-width="0.8"/>
<line x1="274.02000000000004" y1="183.74625" x2="276.42" y2="183.74625" stroke="#000" stroke-width="0.7"/>
<line x1="275.22" y1="195.72125" x2="275.22" y2="198.715" stroke="#000" stroke-width="0.8"/>
<line x1="274.02000000000004" y1="198.715" x2="276.42" y2="198.715" stroke="#000" stroke-width="0.7"/>
<circle cx="275.22" cy="195.72" r="2.1"/>
<line x1="285.78000000000003" y1="198.715" x2="285.78000000000003" y2="189.73375000000001" stroke="#000" stroke-width="0.8"/>
<line x1="284.58000000000004" y1="189.73375000000001" x2="286.98" y2="189.73375000000001" stroke="#000" stroke-width="0.7"/>
<line x1="285.78000000000003" y1="198.715" x2="285.78000000000003" y2="201.70875" stroke="#000" stroke-width="0.8"/>
<line x1="284.58000000000004" y1="201.70875" x2="286.98" y2="201.70875" stroke="#000" stroke-width="0.7"/>
<circle cx="285.78" cy="198.72" r="2.1"/>
<polyline points="201.30,244.82 211.86,243.62 222.42,239.43 232.98,238.83 243.54,235.84 254.10,231.65 264.66,226.86 275.22,216.08 285.78,205.90" fill="none" stroke="#000" stroke-width="0.9"/>
<line x1="201.3" y1="244.81875000000002" x2="201.3" y2="241.82500000000002" stroke="#000" stroke-width="0.8"/>
<line x1="200.10000000000002" y1="241.82500000000002" x2="202.5" y2="241.82500000000002" stroke="#000" stroke-width="0.7"/>
<line x1="201.3" y1="244.81875000000002" x2="201.3" y2="250.80625000000003" stroke="#000" stroke-width="0.8"/>
<line x1="200.10000000000002" y1="250.80625000000003" x2="202.5" y2="250.80625000000003" stroke="#000" stroke-width="0.7"/>
<rect x="199.30" y="242.82" width="4" height="4"/>
<line x1="211.86" y1="243.62125" x2="211.86" y2="240.6275" stroke="#000" stroke-width="0.8"/>
<line x1="210.66000000000003" y1="240.6275" x2="213.06" y2="240.6275" stroke="#000" stroke-width="0.7"/>
<line x1="211.86" y1="243.62125" x2="211.86" y2="248.41125" stroke="#000" stroke-width="0.8"/>
<line x1="210.66000000000003" y1="248.41125" x2="213.06" y2="248.41125" stroke="#000" stroke-width="0.7"/>
<rect x="209.86" y="241.62" width="4" height="4"/>
<line x1="222.42000000000002" y1="239.43" x2="222.42000000000002" y2="237.63375000000002" stroke="#000" stroke-width="0.8"/>
<line x1="221.22000000000003" y1="237.63375000000002" x2="223.62" y2="237.63375000000002" stroke="#000" stroke-width="0.7"/>
<line x1="222.42000000000002" y1="239.43" x2="222.42000000000002" y2="241.22625" stroke="#000" stroke-width="0.8"/>
<line x1="221.22000000000003" y1="241.22625" x2="223.62" y2="241.22625" stroke="#000" stroke-width="0.7"/>
<rect x="220.42" y="237.43" width="4" height="4"/>
<line x1="232.98000000000002" y1="238.83125" x2="232.98000000000002" y2="237.03500000000003" stroke="#000" stroke-width="0.8"/>
<line x1="231.78000000000003" y1="237.03500000000003" x2="234.18" y2="237.03500000000003" stroke="#000" stroke-width="0.7"/>
<line x1="232.98000000000002" y1="238.83125" x2="232.98000000000002" y2="240.6275" stroke="#000" stroke-width="0.8"/>
<line x1="231.78000000000003" y1="240.6275" x2="234.18" y2="240.6275" stroke="#000" stroke-width="0.7"/>
<rect x="230.98" y="236.83" width="4" height="4"/>
<line x1="243.54000000000002" y1="235.8375" x2="243.54000000000002" y2="233.4425" stroke="#000" stroke-width="0.8"/>
<line x1="242.34000000000003" y1="233.4425" x2="244.74" y2="233.4425" stroke="#000" stroke-width="0.7"/>
<line x1="243.54000000000002" y1="235.8375" x2="243.54000000000002" y2="237.63375" stroke="#000" stroke-width="0.8"/>
<line x1="242.34000000000003" y1="237.63375" x2="244.74" y2="237.63375" stroke="#000" stroke-width="0.7"/>
<rect x="241.54" y="233.84" width="4" height="4"/>
<line x1="254.10000000000002" y1="231.64625" x2="254.10000000000002" y2="225.06" stroke="#000" stroke-width="0.8"/>
<line x1="252.90000000000003" y1="225.06" x2="255.3" y2="225.06" stroke="#000" stroke-width="0.7"/>
<line x1="254.10000000000002" y1="231.64625" x2="254.10000000000002" y2="233.4425" stroke="#000" stroke-width="0.8"/>
<line x1="252.90000000000003" y1="233.4425" x2="255.3" y2="233.4425" stroke="#000" stroke-width="0.7"/>
<rect x="252.10" y="229.65" width="4" height="4"/>
<line x1="264.66" y1="226.85625000000002" x2="264.66" y2="222.66500000000002" stroke="#000" stroke-width="0.8"/>
<line x1="263.46000000000004" y1="222.66500000000002" x2="265.86" y2="222.66500000000002" stroke="#000" stroke-width="0.7"/>
<line x1="264.66" y1="226.85625000000002" x2="264.66" y2="228.6525" stroke="#000" stroke-width="0.8"/>
<line x1="263.46000000000004" y1="228.6525" x2="265.86" y2="228.6525" stroke="#000" stroke-width="0.7"/>
<rect x="262.66" y="224.86" width="4" height="4"/>
<line x1="275.22" y1="216.07875" x2="275.22" y2="206.49875" stroke="#000" stroke-width="0.8"/>
<line x1="274.02000000000004" y1="206.49875" x2="276.42" y2="206.49875" stroke="#000" stroke-width="0.7"/>
<line x1="275.22" y1="216.07875" x2="275.22" y2="217.875" stroke="#000" stroke-width="0.8"/>
<line x1="274.02000000000004" y1="217.875" x2="276.42" y2="217.875" stroke="#000" stroke-width="0.7"/>
<rect x="273.22" y="214.08" width="4" height="4"/>
<line x1="285.78000000000003" y1="205.9" x2="285.78000000000003" y2="199.9125" stroke="#000" stroke-width="0.8"/>
<line x1="284.58000000000004" y1="199.9125" x2="286.98" y2="199.9125" stroke="#000" stroke-width="0.7"/>
<line x1="285.78000000000003" y1="205.9" x2="285.78000000000003" y2="207.69625" stroke="#000" stroke-width="0.8"/>
<line x1="284.58000000000004" y1="207.69625" x2="286.98" y2="207.69625" stroke="#000" stroke-width="0.7"/>
<rect x="283.78" y="203.90" width="4" height="4"/>
<text class="ss" x="222.5" y="219.9" font-size="9.6" font-weight="bold" text-anchor="middle" letter-spacing="0.9">*</text>
<text class="ss" x="232.7" y="197.4" font-size="9.6" font-weight="bold" text-anchor="middle" letter-spacing="0.9">**</text>
<text class="ss" x="243.3" y="191.6" font-size="9.6" font-weight="bold" text-anchor="middle" letter-spacing="0.9">*</text>
<text class="ss" x="253.8" y="191.6" font-size="9.6" font-weight="bold" text-anchor="middle" letter-spacing="0.9">*</text>
<text class="ss" x="264.3" y="179.1" font-size="9.6" font-weight="bold" text-anchor="middle" letter-spacing="0.9">*</text>
<text class="ss" x="285.8" y="178.1" font-size="9.6" font-weight="bold" text-anchor="middle" letter-spacing="0.9">*</text>
<text class="ss" x="250.5" y="246.3" font-size="7.9" font-weight="bold">Thymus</text>
<line x1="303.8" y1="157.8" x2="303.8" y2="253.8" stroke="#000" stroke-width="0.8"/>
<line x1="303.8" y1="253.8" x2="389" y2="253.8" stroke="#000" stroke-width="0.8"/>
<line x1="302.2" y1="253.8" x2="303.8" y2="253.8" stroke="#000" stroke-width="0.6"/>
<text class="ss" x="300.8" y="255.3" font-size="4.5" font-weight="bold" text-anchor="end">0</text>
<line x1="302.2" y1="230.05" x2="303.8" y2="230.05" stroke="#000" stroke-width="0.6"/>
<text class="ss" x="300.8" y="231.55" font-size="4.5" font-weight="bold" text-anchor="end">4</text>
<line x1="302.2" y1="206.3" x2="303.8" y2="206.3" stroke="#000" stroke-width="0.6"/>
<text class="ss" x="300.8" y="207.8" font-size="4.5" font-weight="bold" text-anchor="end">8</text>
<line x1="302.2" y1="182.55" x2="303.8" y2="182.55" stroke="#000" stroke-width="0.6"/>
<text class="ss" x="300.8" y="184.05" font-size="4.5" font-weight="bold" text-anchor="end">12</text>
<line x1="302.2" y1="158.8" x2="303.8" y2="158.8" stroke="#000" stroke-width="0.6"/>
<text class="ss" x="300.8" y="160.3" font-size="4.5" font-weight="bold" text-anchor="end">16</text>
<line x1="312.78" y1="253.8" x2="312.78" y2="255.20000000000002" stroke="#000" stroke-width="0.6"/>
<text class="ss" x="308.0" y="262.40000000000003" font-size="4.5" font-weight="bold" text-anchor="middle">7</text>
<line x1="322.34" y1="253.8" x2="322.34" y2="255.20000000000002" stroke="#000" stroke-width="0.6"/>
<text class="ss" x="317.56" y="262.40000000000003" font-size="4.5" font-weight="bold" text-anchor="middle">9</text>
<line x1="331.9" y1="253.8" x2="331.9" y2="255.20000000000002" stroke="#000" stroke-width="0.6"/>
<text class="ss" x="327.12" y="262.40000000000003" font-size="4.5" font-weight="bold" text-anchor="middle">11</text>
<line x1="341.46" y1="253.8" x2="341.46" y2="255.20000000000002" stroke="#000" stroke-width="0.6"/>
<text class="ss" x="336.68" y="262.40000000000003" font-size="4.5" font-weight="bold" text-anchor="middle">14</text>
<line x1="351.02" y1="253.8" x2="351.02" y2="255.20000000000002" stroke="#000" stroke-width="0.6"/>
<text class="ss" x="346.24" y="262.40000000000003" font-size="4.5" font-weight="bold" text-anchor="middle">17</text>
<line x1="360.58" y1="253.8" x2="360.58" y2="255.20000000000002" stroke="#000" stroke-width="0.6"/>
<text class="ss" x="355.8" y="262.40000000000003" font-size="4.5" font-weight="bold" text-anchor="middle">19</text>
<line x1="370.14" y1="253.8" x2="370.14" y2="255.20000000000002" stroke="#000" stroke-width="0.6"/>
<text class="ss" x="365.36" y="262.40000000000003" font-size="4.5" font-weight="bold" text-anchor="middle">21</text>
<line x1="379.7" y1="253.8" x2="379.7" y2="255.20000000000002" stroke="#000" stroke-width="0.6"/>
<text class="ss" x="374.92" y="262.40000000000003" font-size="4.5" font-weight="bold" text-anchor="middle">28</text>
<line x1="389.26" y1="253.8" x2="389.26" y2="255.20000000000002" stroke="#000" stroke-width="0.6"/>
<text class="ss" x="384.48" y="262.40000000000003" font-size="4.5" font-weight="bold" text-anchor="middle">35</text>
<polyline points="308.00,228.86 317.56,214.02 327.12,201.55 336.68,182.55 346.24,184.93 355.80,180.77 365.36,179.58 374.92,186.11 384.48,191.46" fill="none" stroke="#000" stroke-width="0.9"/>
<line x1="308.0" y1="228.8625" x2="308.0" y2="225.89375" stroke="#000" stroke-width="0.8"/>
<line x1="306.8" y1="225.89375" x2="309.2" y2="225.89375" stroke="#000" stroke-width="0.7"/>
<line x1="308.0" y1="228.8625" x2="308.0" y2="233.6125" stroke="#000" stroke-width="0.8"/>
<line x1="306.8" y1="233.6125" x2="309.2" y2="233.6125" stroke="#000" stroke-width="0.7"/>
<path d="M308.00 226.46l2.05 4.6h-4.1z"/>
<line x1="317.56" y1="214.01875" x2="317.56" y2="212.2375" stroke="#000" stroke-width="0.8"/>
<line x1="316.36" y1="212.2375" x2="318.76" y2="212.2375" stroke="#000" stroke-width="0.7"/>
<line x1="317.56" y1="214.01875" x2="317.56" y2="223.51875" stroke="#000" stroke-width="0.8"/>
<line x1="316.36" y1="223.51875" x2="318.76" y2="223.51875" stroke="#000" stroke-width="0.7"/>
<path d="M317.56 211.62l2.05 4.6h-4.1z"/>
<line x1="327.12" y1="201.55" x2="327.12" y2="199.76875" stroke="#000" stroke-width="0.8"/>
<line x1="325.92" y1="199.76875" x2="328.32" y2="199.76875" stroke="#000" stroke-width="0.7"/>
<line x1="327.12" y1="201.55" x2="327.12" y2="203.33125" stroke="#000" stroke-width="0.8"/>
<line x1="325.92" y1="203.33125" x2="328.32" y2="203.33125" stroke="#000" stroke-width="0.7"/>
<path d="M327.12 199.15l2.05 4.6h-4.1z"/>
<line x1="336.68" y1="182.55" x2="336.68" y2="180.76875" stroke="#000" stroke-width="0.8"/>
<line x1="335.48" y1="180.76875" x2="337.88" y2="180.76875" stroke="#000" stroke-width="0.7"/>
<line x1="336.68" y1="182.55" x2="336.68" y2="187.89375" stroke="#000" stroke-width="0.8"/>
<line x1="335.48" y1="187.89375" x2="337.88" y2="187.89375" stroke="#000" stroke-width="0.7"/>
<path d="M336.68 180.15l2.05 4.6h-4.1z"/>
<line x1="346.24" y1="184.925" x2="346.24" y2="183.14375" stroke="#000" stroke-width="0.8"/>
<line x1="345.04" y1="183.14375" x2="347.44" y2="183.14375" stroke="#000" stroke-width="0.7"/>
<line x1="346.24" y1="184.925" x2="346.24" y2="187.89375" stroke="#000" stroke-width="0.8"/>
<line x1="345.04" y1="187.89375" x2="347.44" y2="187.89375" stroke="#000" stroke-width="0.7"/>
<path d="M346.24 182.53l2.05 4.6h-4.1z"/>
<line x1="355.8" y1="180.76875" x2="355.8" y2="178.39375" stroke="#000" stroke-width="0.8"/>
<line x1="354.6" y1="178.39375" x2="357.0" y2="178.39375" stroke="#000" stroke-width="0.7"/>
<line x1="355.8" y1="180.76875" x2="355.8" y2="185.51875" stroke="#000" stroke-width="0.8"/>
<line x1="354.6" y1="185.51875" x2="357.0" y2="185.51875" stroke="#000" stroke-width="0.7"/>
<path d="M355.80 178.37l2.05 4.6h-4.1z"/>
<line x1="365.36" y1="179.58125" x2="365.36" y2="177.8" stroke="#000" stroke-width="0.8"/>
<line x1="364.16" y1="177.8" x2="366.56" y2="177.8" stroke="#000" stroke-width="0.7"/>
<line x1="365.36" y1="179.58125" x2="365.36" y2="181.95625" stroke="#000" stroke-width="0.8"/>
<line x1="364.16" y1="181.95625" x2="366.56" y2="181.95625" stroke="#000" stroke-width="0.7"/>
<path d="M365.36 177.18l2.05 4.6h-4.1z"/>
<line x1="374.92" y1="186.1125" x2="374.92" y2="183.7375" stroke="#000" stroke-width="0.8"/>
<line x1="373.72" y1="183.7375" x2="376.12" y2="183.7375" stroke="#000" stroke-width="0.7"/>
<line x1="374.92" y1="186.1125" x2="374.92" y2="191.45625" stroke="#000" stroke-width="0.8"/>
<line x1="373.72" y1="191.45625" x2="376.12" y2="191.45625" stroke="#000" stroke-width="0.7"/>
<path d="M374.92 183.71l2.05 4.6h-4.1z"/>
<line x1="384.48" y1="191.45625" x2="384.48" y2="189.675" stroke="#000" stroke-width="0.8"/>
<line x1="383.28000000000003" y1="189.675" x2="385.68" y2="189.675" stroke="#000" stroke-width="0.7"/>
<line x1="384.48" y1="191.45625" x2="384.48" y2="196.8" stroke="#000" stroke-width="0.8"/>
<line x1="383.28000000000003" y1="196.8" x2="385.68" y2="196.8" stroke="#000" stroke-width="0.7"/>
<path d="M384.48 189.06l2.05 4.6h-4.1z"/>
<polyline points="308.00,238.07 317.56,228.86 327.12,225.30 336.68,228.27 346.24,232.43 355.80,234.80 365.36,231.83 374.92,232.43 384.48,234.80" fill="none" stroke="#000" stroke-width="0.9"/>
<line x1="308.0" y1="238.065625" x2="308.0" y2="236.284375" stroke="#000" stroke-width="0.8"/>
<line x1="306.8" y1="236.284375" x2="309.2" y2="236.284375" stroke="#000" stroke-width="0.7"/>
<line x1="308.0" y1="238.065625" x2="308.0" y2="239.846875" stroke="#000" stroke-width="0.8"/>
<line x1="306.8" y1="239.846875" x2="309.2" y2="239.846875" stroke="#000" stroke-width="0.7"/>
<rect x="306.00" y="236.07" width="4" height="4"/>
<line x1="317.56" y1="228.8625" x2="317.56" y2="225.89375" stroke="#000" stroke-width="0.8"/>
<line x1="316.36" y1="225.89375" x2="318.76" y2="225.89375" stroke="#000" stroke-width="0.7"/>
<line x1="317.56" y1="228.8625" x2="317.56" y2="231.83125" stroke="#000" stroke-width="0.8"/>
<line x1="316.36" y1="231.83125" x2="318.76" y2="231.83125" stroke="#000" stroke-width="0.7"/>
<rect x="315.56" y="226.86" width="4" height="4"/>
<line x1="327.12" y1="225.3" x2="327.12" y2="222.925" stroke="#000" stroke-width="0.8"/>
<line x1="325.92" y1="222.925" x2="328.32" y2="222.925" stroke="#000" stroke-width="0.7"/>
<line x1="327.12" y1="225.3" x2="327.12" y2="227.675" stroke="#000" stroke-width="0.8"/>
<line x1="325.92" y1="227.675" x2="328.32" y2="227.675" stroke="#000" stroke-width="0.7"/>
<rect x="325.12" y="223.30" width="4" height="4"/>
<line x1="336.68" y1="228.26875" x2="336.68" y2="223.51875" stroke="#000" stroke-width="0.8"/>
<line x1="335.48" y1="223.51875" x2="337.88" y2="223.51875" stroke="#000" stroke-width="0.7"/>
<line x1="336.68" y1="228.26875" x2="336.68" y2="230.05" stroke="#000" stroke-width="0.8"/>
<line x1="335.48" y1="230.05" x2="337.88" y2="230.05" stroke="#000" stroke-width="0.7"/>
<rect x="334.68" y="226.27" width="4" height="4"/>
<line x1="346.24" y1="232.425" x2="346.24" y2="230.64375" stroke="#000" stroke-width="0.8"/>
<line x1="345.04" y1="230.64375" x2="347.44" y2="230.64375" stroke="#000" stroke-width="0.7"/>
<line x1="346.24" y1="232.425" x2="346.24" y2="234.20625" stroke="#000" stroke-width="0.8"/>
<line x1="345.04" y1="234.20625" x2="347.44" y2="234.20625" stroke="#000" stroke-width="0.7"/>
<rect x="344.24" y="230.43" width="4" height="4"/>
<line x1="355.8" y1="234.8" x2="355.8" y2="233.01875" stroke="#000" stroke-width="0.8"/>
<line x1="354.6" y1="233.01875" x2="357.0" y2="233.01875" stroke="#000" stroke-width="0.7"/>
<line x1="355.8" y1="234.8" x2="355.8" y2="236.58125" stroke="#000" stroke-width="0.8"/>
<line x1="354.6" y1="236.58125" x2="357.0" y2="236.58125" stroke="#000" stroke-width="0.7"/>
<rect x="353.80" y="232.80" width="4" height="4"/>
<line x1="365.36" y1="231.83125" x2="365.36" y2="225.89375" stroke="#000" stroke-width="0.8"/>
<line x1="364.16" y1="225.89375" x2="366.56" y2="225.89375" stroke="#000" stroke-width="0.7"/>
<line x1="365.36" y1="231.83125" x2="365.36" y2="233.6125" stroke="#000" stroke-width="0.8"/>
<line x1="364.16" y1="233.6125" x2="366.56" y2="233.6125" stroke="#000" stroke-width="0.7"/>
<rect x="363.36" y="229.83" width="4" height="4"/>
<line x1="374.92" y1="232.425" x2="374.92" y2="230.64375" stroke="#000" stroke-width="0.8"/>
<line x1="373.72" y1="230.64375" x2="376.12" y2="230.64375" stroke="#000" stroke-width="0.7"/>
<line x1="374.92" y1="232.425" x2="374.92" y2="234.20625" stroke="#000" stroke-width="0.8"/>
<line x1="373.72" y1="234.20625" x2="376.12" y2="234.20625" stroke="#000" stroke-width="0.7"/>
<rect x="372.92" y="230.43" width="4" height="4"/>
<line x1="384.48" y1="234.8" x2="384.48" y2="233.01875" stroke="#000" stroke-width="0.8"/>
<line x1="383.28000000000003" y1="233.01875" x2="385.68" y2="233.01875" stroke="#000" stroke-width="0.7"/>
<line x1="384.48" y1="234.8" x2="384.48" y2="236.58125" stroke="#000" stroke-width="0.8"/>
<line x1="383.28000000000003" y1="236.58125" x2="385.68" y2="236.58125" stroke="#000" stroke-width="0.7"/>
<rect x="382.48" y="232.80" width="4" height="4"/>
<polyline points="308.00,238.96 317.56,238.96 327.12,238.07 336.68,228.86 346.24,237.77 355.80,241.33 365.36,233.61 374.92,236.58 384.48,238.07" fill="none" stroke="#000" stroke-width="0.9"/>
<line x1="308.0" y1="238.95625" x2="308.0" y2="237.175" stroke="#000" stroke-width="0.8"/>
<line x1="306.8" y1="237.175" x2="309.2" y2="237.175" stroke="#000" stroke-width="0.7"/>
<line x1="308.0" y1="238.95625" x2="308.0" y2="240.7375" stroke="#000" stroke-width="0.8"/>
<line x1="306.8" y1="240.7375" x2="309.2" y2="240.7375" stroke="#000" stroke-width="0.7"/>
<circle cx="308.00" cy="238.96" r="2.1"/>
<line x1="317.56" y1="238.95625" x2="317.56" y2="237.175" stroke="#000" stroke-width="0.8"/>
<line x1="316.36" y1="237.175" x2="318.76" y2="237.175" stroke="#000" stroke-width="0.7"/>
<line x1="317.56" y1="238.95625" x2="317.56" y2="240.7375" stroke="#000" stroke-width="0.8"/>
<line x1="316.36" y1="240.7375" x2="318.76" y2="240.7375" stroke="#000" stroke-width="0.7"/>
<circle cx="317.56" cy="238.96" r="2.1"/>
<line x1="327.12" y1="238.065625" x2="327.12" y2="230.346875" stroke="#000" stroke-width="0.8"/>
<line x1="325.92" y1="230.346875" x2="328.32" y2="230.346875" stroke="#000" stroke-width="0.7"/>
<line x1="327.12" y1="238.065625" x2="327.12" y2="239.846875" stroke="#000" stroke-width="0.8"/>
<line x1="325.92" y1="239.846875" x2="328.32" y2="239.846875" stroke="#000" stroke-width="0.7"/>
<circle cx="327.12" cy="238.07" r="2.1"/>
<line x1="336.68" y1="228.8625" x2="336.68" y2="225.89375" stroke="#000" stroke-width="0.8"/>
<line x1="335.48" y1="225.89375" x2="337.88" y2="225.89375" stroke="#000" stroke-width="0.7"/>
<line x1="336.68" y1="228.8625" x2="336.68" y2="230.64375" stroke="#000" stroke-width="0.8"/>
<line x1="335.48" y1="230.64375" x2="337.88" y2="230.64375" stroke="#000" stroke-width="0.7"/>
<circle cx="336.68" cy="228.86" r="2.1"/>
<line x1="346.24" y1="237.76875" x2="346.24" y2="235.9875" stroke="#000" stroke-width="0.8"/>
<line x1="345.04" y1="235.9875" x2="347.44" y2="235.9875" stroke="#000" stroke-width="0.7"/>
<line x1="346.24" y1="237.76875" x2="346.24" y2="239.55" stroke="#000" stroke-width="0.8"/>
<line x1="345.04" y1="239.55" x2="347.44" y2="239.55" stroke="#000" stroke-width="0.7"/>
<circle cx="346.24" cy="237.77" r="2.1"/>
<line x1="355.8" y1="241.33125" x2="355.8" y2="239.55" stroke="#000" stroke-width="0.8"/>
<line x1="354.6" y1="239.55" x2="357.0" y2="239.55" stroke="#000" stroke-width="0.7"/>
<line x1="355.8" y1="241.33125" x2="355.8" y2="243.1125" stroke="#000" stroke-width="0.8"/>
<line x1="354.6" y1="243.1125" x2="357.0" y2="243.1125" stroke="#000" stroke-width="0.7"/>
<circle cx="355.80" cy="241.33" r="2.1"/>
<line x1="365.36" y1="233.6125" x2="365.36" y2="231.2375" stroke="#000" stroke-width="0.8"/>
<line x1="364.16" y1="231.2375" x2="366.56" y2="231.2375" stroke="#000" stroke-width="0.7"/>
<line x1="365.36" y1="233.6125" x2="365.36" y2="235.39375" stroke="#000" stroke-width="0.8"/>
<line x1="364.16" y1="235.39375" x2="366.56" y2="235.39375" stroke="#000" stroke-width="0.7"/>
<circle cx="365.36" cy="233.61" r="2.1"/>
<line x1="374.92" y1="236.58125" x2="374.92" y2="234.8" stroke="#000" stroke-width="0.8"/>
<line x1="373.72" y1="234.8" x2="376.12" y2="234.8" stroke="#000" stroke-width="0.7"/>
<line x1="374.92" y1="236.58125" x2="374.92" y2="238.3625" stroke="#000" stroke-width="0.8"/>
<line x1="373.72" y1="238.3625" x2="376.12" y2="238.3625" stroke="#000" stroke-width="0.7"/>
<circle cx="374.92" cy="236.58" r="2.1"/>
<line x1="384.48" y1="238.065625" x2="384.48" y2="236.284375" stroke="#000" stroke-width="0.8"/>
<line x1="383.28000000000003" y1="236.284375" x2="385.68" y2="236.284375" stroke="#000" stroke-width="0.7"/>
<line x1="384.48" y1="238.065625" x2="384.48" y2="239.846875" stroke="#000" stroke-width="0.8"/>
<line x1="383.28000000000003" y1="239.846875" x2="385.68" y2="239.846875" stroke="#000" stroke-width="0.7"/>
<circle cx="384.48" cy="238.07" r="2.1"/>
<text class="ss" x="325.5" y="198.1" font-size="9.6" font-weight="bold" text-anchor="middle" letter-spacing="0.9">**</text>
<text class="ss" x="336" y="182.4" font-size="9.6" font-weight="bold" text-anchor="middle" letter-spacing="0.9">**</text>
<text class="ss" x="346" y="193.9" font-size="9.6" font-weight="bold" text-anchor="middle" letter-spacing="0.9">**</text>
<text class="ss" x="356" y="178.6" font-size="9.6" font-weight="bold" text-anchor="middle" letter-spacing="0.9">**</text>
<text class="ss" x="365" y="191.1" font-size="9.6" font-weight="bold" text-anchor="middle" letter-spacing="0.9">**</text>
<text class="ss" x="375.3" y="183.4" font-size="9.6" font-weight="bold" text-anchor="middle" letter-spacing="0.9">**</text>
<text class="ss" x="384.5" y="203.6" font-size="9.6" font-weight="bold" text-anchor="middle" letter-spacing="0.9">**</text>
<text class="ss" x="360.5" y="246.3" font-size="7.9" font-weight="bold">Spleen</text>
<line x1="407" y1="156.5" x2="407" y2="255" stroke="#000" stroke-width="0.8"/>
<line x1="407" y1="255" x2="509" y2="255" stroke="#000" stroke-width="0.8"/>
<line x1="405.4" y1="255.0" x2="407" y2="255.0" stroke="#000" stroke-width="0.6"/>
<text class="ss" x="404" y="256.5" font-size="4.5" font-weight="bold" text-anchor="end">0</text>
<line x1="405.4" y1="238.75" x2="407" y2="238.75" stroke="#000" stroke-width="0.6"/>
<text class="ss" x="404" y="240.25" font-size="4.5" font-weight="bold" text-anchor="end">2</text>
<line x1="405.4" y1="222.5" x2="407" y2="222.5" stroke="#000" stroke-width="0.6"/>
<text class="ss" x="404" y="224.0" font-size="4.5" font-weight="bold" text-anchor="end">4</text>
<line x1="405.4" y1="206.25" x2="407" y2="206.25" stroke="#000" stroke-width="0.6"/>
<text class="ss" x="404" y="207.75" font-size="4.5" font-weight="bold" text-anchor="end">6</text>
<line x1="405.4" y1="190.0" x2="407" y2="190.0" stroke="#000" stroke-width="0.6"/>
<text class="ss" x="404" y="191.5" font-size="4.5" font-weight="bold" text-anchor="end">8</text>
<line x1="405.4" y1="173.75" x2="407" y2="173.75" stroke="#000" stroke-width="0.6"/>
<text class="ss" x="404" y="175.25" font-size="4.5" font-weight="bold" text-anchor="end">10</text>
<line x1="405.4" y1="157.5" x2="407" y2="157.5" stroke="#000" stroke-width="0.6"/>
<text class="ss" x="404" y="159.0" font-size="4.5" font-weight="bold" text-anchor="end">12</text>
<line x1="419.40000000000003" y1="255" x2="419.40000000000003" y2="256.4" stroke="#000" stroke-width="0.6"/>
<text class="ss" x="413.8" y="263.6" font-size="4.5" font-weight="bold" text-anchor="middle">7</text>
<line x1="430.6" y1="255" x2="430.6" y2="256.4" stroke="#000" stroke-width="0.6"/>
<text class="ss" x="425.0" y="263.6" font-size="4.5" font-weight="bold" text-anchor="middle">9</text>
<line x1="441.8" y1="255" x2="441.8" y2="256.4" stroke="#000" stroke-width="0.6"/>
<text class="ss" x="436.2" y="263.6" font-size="4.5" font-weight="bold" text-anchor="middle">11</text>
<line x1="453.0" y1="255" x2="453.0" y2="256.4" stroke="#000" stroke-width="0.6"/>
<text class="ss" x="447.4" y="263.6" font-size="4.5" font-weight="bold" text-anchor="middle">14</text>
<line x1="464.20000000000005" y1="255" x2="464.20000000000005" y2="256.4" stroke="#000" stroke-width="0.6"/>
<text class="ss" x="458.6" y="263.6" font-size="4.5" font-weight="bold" text-anchor="middle">17</text>
<line x1="475.40000000000003" y1="255" x2="475.40000000000003" y2="256.4" stroke="#000" stroke-width="0.6"/>
<text class="ss" x="469.8" y="263.6" font-size="4.5" font-weight="bold" text-anchor="middle">19</text>
<line x1="486.6" y1="255" x2="486.6" y2="256.4" stroke="#000" stroke-width="0.6"/>
<text class="ss" x="481.0" y="263.6" font-size="4.5" font-weight="bold" text-anchor="middle">21</text>
<line x1="497.8" y1="255" x2="497.8" y2="256.4" stroke="#000" stroke-width="0.6"/>
<text class="ss" x="492.2" y="263.6" font-size="4.5" font-weight="bold" text-anchor="middle">28</text>
<line x1="509.0" y1="255" x2="509.0" y2="256.4" stroke="#000" stroke-width="0.6"/>
<text class="ss" x="503.4" y="263.6" font-size="4.5" font-weight="bold" text-anchor="middle">35</text>
<polyline points="413.80,224.12 425.00,218.03 436.20,204.62 447.40,203.00 458.60,181.06 469.80,177.81 481.00,187.97 492.20,191.62 503.40,193.66" fill="none" stroke="#000" stroke-width="0.9"/>
<line x1="413.8" y1="224.125" x2="413.8" y2="222.5" stroke="#000" stroke-width="0.8"/>
<line x1="412.6" y1="222.5" x2="415.0" y2="222.5" stroke="#000" stroke-width="0.7"/>
<line x1="413.8" y1="224.125" x2="413.8" y2="225.75" stroke="#000" stroke-width="0.8"/>
<line x1="412.6" y1="225.75" x2="415.0" y2="225.75" stroke="#000" stroke-width="0.7"/>
<path d="M413.80 221.72l2.05 4.6h-4.1z"/>
<line x1="425.0" y1="218.03125" x2="425.0" y2="216.40625" stroke="#000" stroke-width="0.8"/>
<line x1="423.8" y1="216.40625" x2="426.2" y2="216.40625" stroke="#000" stroke-width="0.7"/>
<line x1="425.0" y1="218.03125" x2="425.0" y2="219.65625" stroke="#000" stroke-width="0.8"/>
<line x1="423.8" y1="219.65625" x2="426.2" y2="219.65625" stroke="#000" stroke-width="0.7"/>
<path d="M425.00 215.63l2.05 4.6h-4.1z"/>
<line x1="436.2" y1="204.625" x2="436.2" y2="202.1875" stroke="#000" stroke-width="0.8"/>
<line x1="435.0" y1="202.1875" x2="437.4" y2="202.1875" stroke="#000" stroke-width="0.7"/>
<line x1="436.2" y1="204.625" x2="436.2" y2="208.6875" stroke="#000" stroke-width="0.8"/>
<line x1="435.0" y1="208.6875" x2="437.4" y2="208.6875" stroke="#000" stroke-width="0.7"/>
<path d="M436.20 202.22l2.05 4.6h-4.1z"/>
<line x1="447.4" y1="203.0" x2="447.4" y2="200.5625" stroke="#000" stroke-width="0.8"/>
<line x1="446.2" y1="200.5625" x2="448.59999999999997" y2="200.5625" stroke="#000" stroke-width="0.7"/>
<line x1="447.4" y1="203.0" x2="447.4" y2="210.3125" stroke="#000" stroke-width="0.8"/>
<line x1="446.2" y1="210.3125" x2="448.59999999999997" y2="210.3125" stroke="#000" stroke-width="0.7"/>
<path d="M447.40 200.60l2.05 4.6h-4.1z"/>
<line x1="458.6" y1="181.0625" x2="458.6" y2="179.4375" stroke="#000" stroke-width="0.8"/>
<line x1="457.40000000000003" y1="179.4375" x2="459.8" y2="179.4375" stroke="#000" stroke-width="0.7"/>
<line x1="458.6" y1="181.0625" x2="458.6" y2="182.6875" stroke="#000" stroke-width="0.8"/>
<line x1="457.40000000000003" y1="182.6875" x2="459.8" y2="182.6875" stroke="#000" stroke-width="0.7"/>
<path d="M458.60 178.66l2.05 4.6h-4.1z"/>
<line x1="469.8" y1="177.8125" x2="469.8" y2="176.1875" stroke="#000" stroke-width="0.8"/>
<line x1="468.6" y1="176.1875" x2="471.0" y2="176.1875" stroke="#000" stroke-width="0.7"/>
<line x1="469.8" y1="177.8125" x2="469.8" y2="179.4375" stroke="#000" stroke-width="0.8"/>
<line x1="468.6" y1="179.4375" x2="471.0" y2="179.4375" stroke="#000" stroke-width="0.7"/>
<path d="M469.80 175.41l2.05 4.6h-4.1z"/>
<line x1="481.0" y1="187.96875" x2="481.0" y2="185.53125" stroke="#000" stroke-width="0.8"/>
<line x1="479.8" y1="185.53125" x2="482.2" y2="185.53125" stroke="#000" stroke-width="0.7"/>
<line x1="481.0" y1="187.96875" x2="481.0" y2="192.84375" stroke="#000" stroke-width="0.8"/>
<line x1="479.8" y1="192.84375" x2="482.2" y2="192.84375" stroke="#000" stroke-width="0.7"/>
<path d="M481.00 185.57l2.05 4.6h-4.1z"/>
<line x1="492.2" y1="191.625" x2="492.2" y2="189.1875" stroke="#000" stroke-width="0.8"/>
<line x1="491.0" y1="189.1875" x2="493.4" y2="189.1875" stroke="#000" stroke-width="0.7"/>
<line x1="492.2" y1="191.625" x2="492.2" y2="197.3125" stroke="#000" stroke-width="0.8"/>
<line x1="491.0" y1="197.3125" x2="493.4" y2="197.3125" stroke="#000" stroke-width="0.7"/>
<path d="M492.20 189.22l2.05 4.6h-4.1z"/>
<line x1="503.4" y1="193.65625" x2="503.4" y2="191.21875" stroke="#000" stroke-width="0.8"/>
<line x1="502.2" y1="191.21875" x2="504.59999999999997" y2="191.21875" stroke="#000" stroke-width="0.7"/>
<line x1="503.4" y1="193.65625" x2="503.4" y2="197.71875" stroke="#000" stroke-width="0.8"/>
<line x1="502.2" y1="197.71875" x2="504.59999999999997" y2="197.71875" stroke="#000" stroke-width="0.7"/>
<path d="M503.40 191.26l2.05 4.6h-4.1z"/>
<polyline points="413.80,229.81 425.00,227.38 436.20,219.25 447.40,220.06 458.60,227.38 469.80,230.62 481.00,228.19 492.20,229.41 503.40,229.00" fill="none" stroke="#000" stroke-width="0.9"/>
<line x1="413.8" y1="229.8125" x2="413.8" y2="228.1875" stroke="#000" stroke-width="0.8"/>
<line x1="412.6" y1="228.1875" x2="415.0" y2="228.1875" stroke="#000" stroke-width="0.7"/>
<line x1="413.8" y1="229.8125" x2="413.8" y2="231.4375" stroke="#000" stroke-width="0.8"/>
<line x1="412.6" y1="231.4375" x2="415.0" y2="231.4375" stroke="#000" stroke-width="0.7"/>
<rect x="411.80" y="227.81" width="4" height="4"/>
<line x1="425.0" y1="227.375" x2="425.0" y2="225.75" stroke="#000" stroke-width="0.8"/>
<line x1="423.8" y1="225.75" x2="426.2" y2="225.75" stroke="#000" stroke-width="0.7"/>
<line x1="425.0" y1="227.375" x2="425.0" y2="229.0" stroke="#000" stroke-width="0.8"/>
<line x1="423.8" y1="229.0" x2="426.2" y2="229.0" stroke="#000" stroke-width="0.7"/>
<rect x="423.00" y="225.38" width="4" height="4"/>
<line x1="436.2" y1="219.25" x2="436.2" y2="216.8125" stroke="#000" stroke-width="0.8"/>
<line x1="435.0" y1="216.8125" x2="437.4" y2="216.8125" stroke="#000" stroke-width="0.7"/>
<line x1="436.2" y1="219.25" x2="436.2" y2="220.875" stroke="#000" stroke-width="0.8"/>
<line x1="435.0" y1="220.875" x2="437.4" y2="220.875" stroke="#000" stroke-width="0.7"/>
<rect x="434.20" y="217.25" width="4" height="4"/>
<line x1="447.4" y1="220.0625" x2="447.4" y2="215.1875" stroke="#000" stroke-width="0.8"/>
<line x1="446.2" y1="215.1875" x2="448.59999999999997" y2="215.1875" stroke="#000" stroke-width="0.7"/>
<line x1="447.4" y1="220.0625" x2="447.4" y2="221.6875" stroke="#000" stroke-width="0.8"/>
<line x1="446.2" y1="221.6875" x2="448.59999999999997" y2="221.6875" stroke="#000" stroke-width="0.7"/>
<rect x="445.40" y="218.06" width="4" height="4"/>
<line x1="458.6" y1="227.375" x2="458.6" y2="220.0625" stroke="#000" stroke-width="0.8"/>
<line x1="457.40000000000003" y1="220.0625" x2="459.8" y2="220.0625" stroke="#000" stroke-width="0.7"/>
<line x1="458.6" y1="227.375" x2="458.6" y2="229.0" stroke="#000" stroke-width="0.8"/>
<line x1="457.40000000000003" y1="229.0" x2="459.8" y2="229.0" stroke="#000" stroke-width="0.7"/>
<rect x="456.60" y="225.38" width="4" height="4"/>
<line x1="469.8" y1="230.625" x2="469.8" y2="224.9375" stroke="#000" stroke-width="0.8"/>
<line x1="468.6" y1="224.9375" x2="471.0" y2="224.9375" stroke="#000" stroke-width="0.7"/>
<line x1="469.8" y1="230.625" x2="469.8" y2="232.25" stroke="#000" stroke-width="0.8"/>
<line x1="468.6" y1="232.25" x2="471.0" y2="232.25" stroke="#000" stroke-width="0.7"/>
<rect x="467.80" y="228.62" width="4" height="4"/>
<line x1="481.0" y1="228.1875" x2="481.0" y2="218.4375" stroke="#000" stroke-width="0.8"/>
<line x1="479.8" y1="218.4375" x2="482.2" y2="218.4375" stroke="#000" stroke-width="0.7"/>
<line x1="481.0" y1="228.1875" x2="481.0" y2="229.8125" stroke="#000" stroke-width="0.8"/>
<line x1="479.8" y1="229.8125" x2="482.2" y2="229.8125" stroke="#000" stroke-width="0.7"/>
<rect x="479.00" y="226.19" width="4" height="4"/>
<line x1="492.2" y1="229.40625" x2="492.2" y2="227.78125" stroke="#000" stroke-width="0.8"/>
<line x1="491.0" y1="227.78125" x2="493.4" y2="227.78125" stroke="#000" stroke-width="0.7"/>
<line x1="492.2" y1="229.40625" x2="492.2" y2="231.03125" stroke="#000" stroke-width="0.8"/>
<line x1="491.0" y1="231.03125" x2="493.4" y2="231.03125" stroke="#000" stroke-width="0.7"/>
<rect x="490.20" y="227.41" width="4" height="4"/>
<line x1="503.4" y1="229.0" x2="503.4" y2="227.375" stroke="#000" stroke-width="0.8"/>
<line x1="502.2" y1="227.375" x2="504.59999999999997" y2="227.375" stroke="#000" stroke-width="0.7"/>
<line x1="503.4" y1="229.0" x2="503.4" y2="230.625" stroke="#000" stroke-width="0.8"/>
<line x1="502.2" y1="230.625" x2="504.59999999999997" y2="230.625" stroke="#000" stroke-width="0.7"/>
<rect x="501.40" y="227.00" width="4" height="4"/>
<polyline points="413.80,229.81 425.00,228.19 436.20,225.34 447.40,222.09 458.60,227.78 469.80,229.41 481.00,226.56 492.20,229.41 503.40,229.41" fill="none" stroke="#000" stroke-width="0.9"/>
<line x1="413.8" y1="229.8125" x2="413.8" y2="228.1875" stroke="#000" stroke-width="0.8"/>
<line x1="412.6" y1="228.1875" x2="415.0" y2="228.1875" stroke="#000" stroke-width="0.7"/>
<line x1="413.8" y1="229.8125" x2="413.8" y2="231.4375" stroke="#000" stroke-width="0.8"/>
<line x1="412.6" y1="231.4375" x2="415.0" y2="231.4375" stroke="#000" stroke-width="0.7"/>
<circle cx="413.80" cy="229.81" r="2.1"/>
<line x1="425.0" y1="228.1875" x2="425.0" y2="226.5625" stroke="#000" stroke-width="0.8"/>
<line x1="423.8" y1="226.5625" x2="426.2" y2="226.5625" stroke="#000" stroke-width="0.7"/>
<line x1="425.0" y1="228.1875" x2="425.0" y2="229.8125" stroke="#000" stroke-width="0.8"/>
<line x1="423.8" y1="229.8125" x2="426.2" y2="229.8125" stroke="#000" stroke-width="0.7"/>
<circle cx="425.00" cy="228.19" r="2.1"/>
<line x1="436.2" y1="225.34375" x2="436.2" y2="223.71875" stroke="#000" stroke-width="0.8"/>
<line x1="435.0" y1="223.71875" x2="437.4" y2="223.71875" stroke="#000" stroke-width="0.7"/>
<line x1="436.2" y1="225.34375" x2="436.2" y2="226.96875" stroke="#000" stroke-width="0.8"/>
<line x1="435.0" y1="226.96875" x2="437.4" y2="226.96875" stroke="#000" stroke-width="0.7"/>
<circle cx="436.20" cy="225.34" r="2.1"/>
<line x1="447.4" y1="222.09375" x2="447.4" y2="219.65625" stroke="#000" stroke-width="0.8"/>
<line x1="446.2" y1="219.65625" x2="448.59999999999997" y2="219.65625" stroke="#000" stroke-width="0.7"/>
<line x1="447.4" y1="222.09375" x2="447.4" y2="223.71875" stroke="#000" stroke-width="0.8"/>
<line x1="446.2" y1="223.71875" x2="448.59999999999997" y2="223.71875" stroke="#000" stroke-width="0.7"/>
<circle cx="447.40" cy="222.09" r="2.1"/>
<line x1="458.6" y1="227.78125" x2="458.6" y2="225.34375" stroke="#000" stroke-width="0.8"/>
<line x1="457.40000000000003" y1="225.34375" x2="459.8" y2="225.34375" stroke="#000" stroke-width="0.7"/>
<line x1="458.6" y1="227.78125" x2="458.6" y2="229.40625" stroke="#000" stroke-width="0.8"/>
<line x1="457.40000000000003" y1="229.40625" x2="459.8" y2="229.40625" stroke="#000" stroke-width="0.7"/>
<circle cx="458.60" cy="227.78" r="2.1"/>
<line x1="469.8" y1="229.40625" x2="469.8" y2="226.96875" stroke="#000" stroke-width="0.8"/>
<line x1="468.6" y1="226.96875" x2="471.0" y2="226.96875" stroke="#000" stroke-width="0.7"/>
<line x1="469.8" y1="229.40625" x2="469.8" y2="231.03125" stroke="#000" stroke-width="0.8"/>
<line x1="468.6" y1="231.03125" x2="471.0" y2="231.03125" stroke="#000" stroke-width="0.7"/>
<circle cx="469.80" cy="229.41" r="2.1"/>
<line x1="481.0" y1="226.5625" x2="481.0" y2="222.5" stroke="#000" stroke-width="0.8"/>
<line x1="479.8" y1="222.5" x2="482.2" y2="222.5" stroke="#000" stroke-width="0.7"/>
<line x1="481.0" y1="226.5625" x2="481.0" y2="228.1875" stroke="#000" stroke-width="0.8"/>
<line x1="479.8" y1="228.1875" x2="482.2" y2="228.1875" stroke="#000" stroke-width="0.7"/>
<circle cx="481.00" cy="226.56" r="2.1"/>
<line x1="492.2" y1="229.40625" x2="492.2" y2="227.78125" stroke="#000" stroke-width="0.8"/>
<line x1="491.0" y1="227.78125" x2="493.4" y2="227.78125" stroke="#000" stroke-width="0.7"/>
<line x1="492.2" y1="229.40625" x2="492.2" y2="231.03125" stroke="#000" stroke-width="0.8"/>
<line x1="491.0" y1="231.03125" x2="493.4" y2="231.03125" stroke="#000" stroke-width="0.7"/>
<circle cx="492.20" cy="229.41" r="2.1"/>
<line x1="503.4" y1="229.40625" x2="503.4" y2="227.78125" stroke="#000" stroke-width="0.8"/>
<line x1="502.2" y1="227.78125" x2="504.59999999999997" y2="227.78125" stroke="#000" stroke-width="0.7"/>
<line x1="503.4" y1="229.40625" x2="503.4" y2="231.03125" stroke="#000" stroke-width="0.8"/>
<line x1="502.2" y1="231.03125" x2="504.59999999999997" y2="231.03125" stroke="#000" stroke-width="0.7"/>
<circle cx="503.40" cy="229.41" r="2.1"/>
<text class="ss" x="425" y="214.6" font-size="9.6" font-weight="bold" text-anchor="middle" letter-spacing="0.9">*</text>
<text class="ss" x="435.8" y="201.1" font-size="9.6" font-weight="bold" text-anchor="middle" letter-spacing="0.9">*</text>
<text class="ss" x="447" y="199.6" font-size="9.6" font-weight="bold" text-anchor="middle" letter-spacing="0.9">*</text>
<text class="ss" x="458" y="179.4" font-size="9.6" font-weight="bold" text-anchor="middle" letter-spacing="0.9">**</text>
<text class="ss" x="470" y="174.1" font-size="9.6" font-weight="bold" text-anchor="middle" letter-spacing="0.9">**</text>
<text class="ss" x="481" y="184.6" font-size="9.6" font-weight="bold" text-anchor="middle" letter-spacing="0.9">**</text>
<text class="ss" x="492.5" y="204.6" font-size="9.6" font-weight="bold" text-anchor="middle" letter-spacing="0.9">**</text>
<text class="ss" x="503.8" y="190.6" font-size="9.6" font-weight="bold" text-anchor="middle" letter-spacing="0.9">**</text>
<text class="ss" x="457" y="246.3" font-size="7.9" font-weight="bold">Lymph nodes</text>
<line x1="197" y1="272" x2="318" y2="272" stroke="#000" stroke-width="1.1"/>
<line x1="398" y1="272" x2="513" y2="272" stroke="#000" stroke-width="1.1"/>
<path d="M192.8 272l6 -2.6v5.2z"/>
<path d="M518 272l-6 -2.6v5.2z"/>
<text class="ss" x="322.5" y="274.3" font-size="8.8">Days post-infection</text>
<text class="ss" x="176" y="294.6" font-size="10.5" font-weight="bold">D</text>
<line x1="197" y1="303" x2="197" y2="399.5" stroke="#000" stroke-width="0.8"/>
<line x1="197" y1="399.5" x2="316.3" y2="399.5" stroke="#000" stroke-width="0.8"/>
<line x1="195.3" y1="399.5" x2="197" y2="399.5" stroke="#000" stroke-width="0.6"/>
<text class="ss" x="193.8" y="401.9" font-size="7" text-anchor="end">0</text>
<line x1="195.3" y1="375.4" x2="197" y2="375.4" stroke="#000" stroke-width="0.6"/>
<text class="ss" x="193.8" y="377.79999999999995" font-size="7" text-anchor="end">4</text>
<line x1="195.3" y1="351.3" x2="197" y2="351.3" stroke="#000" stroke-width="0.6"/>
<text class="ss" x="193.8" y="353.7" font-size="7" text-anchor="end">8</text>
<line x1="195.3" y1="327.2" x2="197" y2="327.2" stroke="#000" stroke-width="0.6"/>
<text class="ss" x="193.8" y="329.59999999999997" font-size="7" text-anchor="end">12</text>
<line x1="195.3" y1="303.1" x2="197" y2="303.1" stroke="#000" stroke-width="0.6"/>
<text class="ss" x="193.8" y="305.5" font-size="7" text-anchor="end">16</text>
<line x1="228.3" y1="399.5" x2="228.3" y2="401.3" stroke="#000" stroke-width="0.6"/>
<line x1="257.6" y1="399.5" x2="257.6" y2="401.3" stroke="#000" stroke-width="0.6"/>
<line x1="286.9" y1="399.5" x2="286.9" y2="401.3" stroke="#000" stroke-width="0.6"/>
<line x1="316.2" y1="399.5" x2="316.2" y2="401.3" stroke="#000" stroke-width="0.6"/>
<line x1="207.75" y1="383.2325" x2="207.75" y2="382.63" stroke="#000" stroke-width="0.95"/>
<rect x="204.5" y="383.2325" width="6.5" height="16.267499999999984" fill="#000" stroke="#000" stroke-width="0.6"/>
<line x1="214.15" y1="394.68" x2="214.15" y2="382.63" stroke="#000" stroke-width="0.95"/>
<line x1="212.85" y1="382.63" x2="215.45000000000002" y2="382.63" stroke="#000" stroke-width="0.8"/>
<rect x="211.0" y="394.68" width="6.3" height="4.819999999999993" fill="#fff" stroke="#000" stroke-width="0.6"/>
<line x1="220.55" y1="397.09" x2="220.55" y2="396.78875" stroke="#000" stroke-width="0.95"/>
<rect x="217.3" y="397.09" width="6.5" height="2.410000000000025" fill="#8c8c8c" stroke="#444" stroke-width="0.6"/>
<text class="ss" x="214.0" y="411" font-size="6.6" text-anchor="middle">17</text>
<line x1="237.05" y1="324.78999999999996" x2="237.05" y2="312.73999999999995" stroke="#000" stroke-width="0.95"/>
<line x1="235.75" y1="312.73999999999995" x2="238.35000000000002" y2="312.73999999999995" stroke="#000" stroke-width="0.8"/>
<rect x="233.8" y="324.78999999999996" width="6.5" height="74.71000000000004" fill="#000" stroke="#000" stroke-width="0.6"/>
<line x1="243.45000000000002" y1="385.94375" x2="243.45000000000002" y2="384.13625" stroke="#000" stroke-width="0.95"/>
<line x1="242.15" y1="384.13625" x2="244.75000000000003" y2="384.13625" stroke="#000" stroke-width="0.8"/>
<rect x="240.3" y="385.94375" width="6.3" height="13.556249999999977" fill="#fff" stroke="#000" stroke-width="0.6"/>
<line x1="249.85000000000002" y1="348.89" x2="249.85000000000002" y2="346.47999999999996" stroke="#000" stroke-width="0.95"/>
<line x1="248.55" y1="346.47999999999996" x2="251.15000000000003" y2="346.47999999999996" stroke="#000" stroke-width="0.8"/>
<rect x="246.60000000000002" y="348.89" width="6.5" height="50.610000000000014" fill="#8c8c8c" stroke="#444" stroke-width="0.6"/>
<text class="ss" x="243.3" y="411" font-size="6.6" text-anchor="middle">21</text>
<line x1="265.85" y1="326.59749999999997" x2="265.85" y2="308.5225" stroke="#000" stroke-width="0.95"/>
<line x1="264.55" y1="308.5225" x2="267.15000000000003" y2="308.5225" stroke="#000" stroke-width="0.8"/>
<rect x="262.6" y="326.59749999999997" width="6.5" height="72.90250000000003" fill="#000" stroke="#000" stroke-width="0.6"/>
<line x1="272.25" y1="385.94375" x2="272.25" y2="382.93125000000003" stroke="#000" stroke-width="0.95"/>
<line x1="270.95" y1="382.93125000000003" x2="273.55" y2="382.93125000000003" stroke="#000" stroke-width="0.8"/>
<rect x="269.1" y="385.94375" width="6.3" height="13.556249999999977" fill="#fff" stroke="#000" stroke-width="0.6"/>
<line x1="278.65000000000003" y1="376.0025" x2="278.65000000000003" y2="374.195" stroke="#000" stroke-width="0.95"/>
<line x1="277.35" y1="374.195" x2="279.95000000000005" y2="374.195" stroke="#000" stroke-width="0.8"/>
<rect x="275.40000000000003" y="376.0025" width="6.5" height="23.497500000000002" fill="#8c8c8c" stroke="#444" stroke-width="0.6"/>
<text class="ss" x="272.1" y="411" font-size="6.6" text-anchor="middle">28</text>
<line x1="295.05" y1="338.6475" x2="295.05" y2="320.5725" stroke="#000" stroke-width="0.95"/>
<line x1="293.75" y1="320.5725" x2="296.35" y2="320.5725" stroke="#000" stroke-width="0.8"/>
<rect x="291.8" y="338.6475" width="6.5" height="60.85250000000002" fill="#000" stroke="#000" stroke-width="0.6"/>
<line x1="301.45" y1="382.63" x2="301.45" y2="379.6175" stroke="#000" stroke-width="0.95"/>
<line x1="300.15" y1="379.6175" x2="302.75" y2="379.6175" stroke="#000" stroke-width="0.8"/>
<rect x="298.3" y="382.63" width="6.3" height="16.870000000000005" fill="#fff" stroke="#000" stroke-width="0.6"/>
<line x1="307.85" y1="388.0525" x2="307.85" y2="387.45" stroke="#000" stroke-width="0.95"/>
<rect x="304.6" y="388.0525" width="6.5" height="11.447499999999991" fill="#8c8c8c" stroke="#444" stroke-width="0.6"/>
<text class="ss" x="301.3" y="411" font-size="6.6" text-anchor="middle">35</text>
<text class="ss" x="257.5" y="421.6" font-size="8.8" text-anchor="middle">Days post-infection</text>
<text class="ss" x="0" y="0" font-size="8.25" text-anchor="middle" transform="translate(182.8,351.8) rotate(-90)">% of Env-expressing cells</text>
<rect x="210" y="298.2" width="4" height="4.3" fill="#000" stroke="#000" stroke-width="0.5"/>
<text class="ss" x="215" y="303" font-size="6.7">Spleen</text>
<rect x="243" y="298.2" width="3.6" height="4.3" fill="#fff" stroke="#000" stroke-width="0.6"/>
<text class="ss" x="247.5" y="303" font-size="6.7">Lymph Nodes</text>
<rect x="297" y="298.2" width="3.8" height="4.3" fill="#8c8c8c" stroke="#333" stroke-width="0.6"/>
<text class="ss" x="301.3" y="303" font-size="6.7">Thymus</text>
<text class="ss" x="362" y="294.6" font-size="10.5" font-weight="bold">E</text>
<line x1="400.5" y1="302" x2="400.5" y2="401.4" stroke="#000" stroke-width="0.8"/>
<line x1="400.5" y1="401.4" x2="511.3" y2="401.4" stroke="#000" stroke-width="0.8"/>
<line x1="398.8" y1="401.4" x2="400.5" y2="401.4" stroke="#000" stroke-width="0.6"/>
<text class="ss" x="397.3" y="403.9" font-size="7" text-anchor="end">0</text>
<line x1="398.8" y1="381.53" x2="400.5" y2="381.53" stroke="#000" stroke-width="0.6"/>
<text class="ss" x="397.3" y="384.03" font-size="7" text-anchor="end">5</text>
<line x1="398.8" y1="361.65999999999997" x2="400.5" y2="361.65999999999997" stroke="#000" stroke-width="0.6"/>
<text class="ss" x="397.3" y="364.15999999999997" font-size="7" text-anchor="end">10</text>
<line x1="398.8" y1="341.78999999999996" x2="400.5" y2="341.78999999999996" stroke="#000" stroke-width="0.6"/>
<text class="ss" x="397.3" y="344.28999999999996" font-size="7" text-anchor="end">15</text>
<line x1="398.8" y1="321.91999999999996" x2="400.5" y2="321.91999999999996" stroke="#000" stroke-width="0.6"/>
<text class="ss" x="397.3" y="324.41999999999996" font-size="7" text-anchor="end">20</text>
<line x1="398.8" y1="302.04999999999995" x2="400.5" y2="302.04999999999995" stroke="#000" stroke-width="0.6"/>
<text class="ss" x="397.3" y="304.54999999999995" font-size="7" text-anchor="end">25</text>
<line x1="456" y1="401.4" x2="456" y2="403.2" stroke="#000" stroke-width="0.6"/>
<line x1="511.3" y1="401.4" x2="511.3" y2="403.2" stroke="#000" stroke-width="0.6"/>
<line x1="416.85" y1="367.2236" x2="416.85" y2="362.8522" stroke="#111" stroke-width="1.0"/>
<rect x="410.8" y="367.2236" width="12.1" height="34.1764" fill="#000" stroke="#111" stroke-width="0.7"/>
<line x1="428.95000000000005" y1="371.19759999999997" x2="428.95000000000005" y2="366.8262" stroke="#111" stroke-width="1.0"/>
<rect x="422.90000000000003" y="371.19759999999997" width="12.1" height="30.20240000000001" fill="#fff" stroke="#111" stroke-width="0.7"/>
<line x1="441.05000000000007" y1="397.0286" x2="441.05000000000007" y2="393.0546" stroke="#111" stroke-width="1.0"/>
<rect x="435.00000000000006" y="397.0286" width="12.1" height="4.371399999999994" fill="#808080" stroke="#555" stroke-width="0.7"/>
<line x1="470.55" y1="337.816" x2="470.55" y2="326.29139999999995" stroke="#111" stroke-width="1.0"/>
<rect x="464.5" y="337.816" width="12.1" height="63.584" fill="#000" stroke="#111" stroke-width="0.7"/>
<line x1="482.65000000000003" y1="325.894" x2="482.65000000000003" y2="311.5876" stroke="#111" stroke-width="1.0"/>
<rect x="476.6" y="325.894" width="12.1" height="75.50599999999997" fill="#fff" stroke="#111" stroke-width="0.7"/>
<line x1="494.75000000000006" y1="395.83639999999997" x2="494.75000000000006" y2="391.06759999999997" stroke="#111" stroke-width="1.0"/>
<rect x="488.70000000000005" y="395.83639999999997" width="12.1" height="5.563600000000008" fill="#808080" stroke="#555" stroke-width="0.7"/>
<text class="ss" x="424.6" y="409" font-size="7" font-weight="bold" text-anchor="middle">- challenge</text>
<text class="ss" x="480.6" y="409" font-size="7" font-weight="bold" text-anchor="middle">+ challenge</text>
<text class="ss" x="0" y="0" font-size="8.0" text-anchor="middle" transform="translate(384.2,350) rotate(-90)" stroke="#000" stroke-width="0.25">Tregs (% of CD4+ T cells)</text>
<path d="M416.3 298.7V291.7H471.4V298.7" fill="none" stroke="#111" stroke-width="0.95"/>
<path d="M427.6 308.7V301.7H482.8V308.7" fill="none" stroke="#111" stroke-width="0.95"/>
<text class="ss" x="440.8" y="293.5" font-size="12" font-weight="bold" text-anchor="middle">*</text>
<text class="ss" x="452" y="303.5" font-size="12" font-weight="bold" text-anchor="middle">*</text>
</svg></body></html>
